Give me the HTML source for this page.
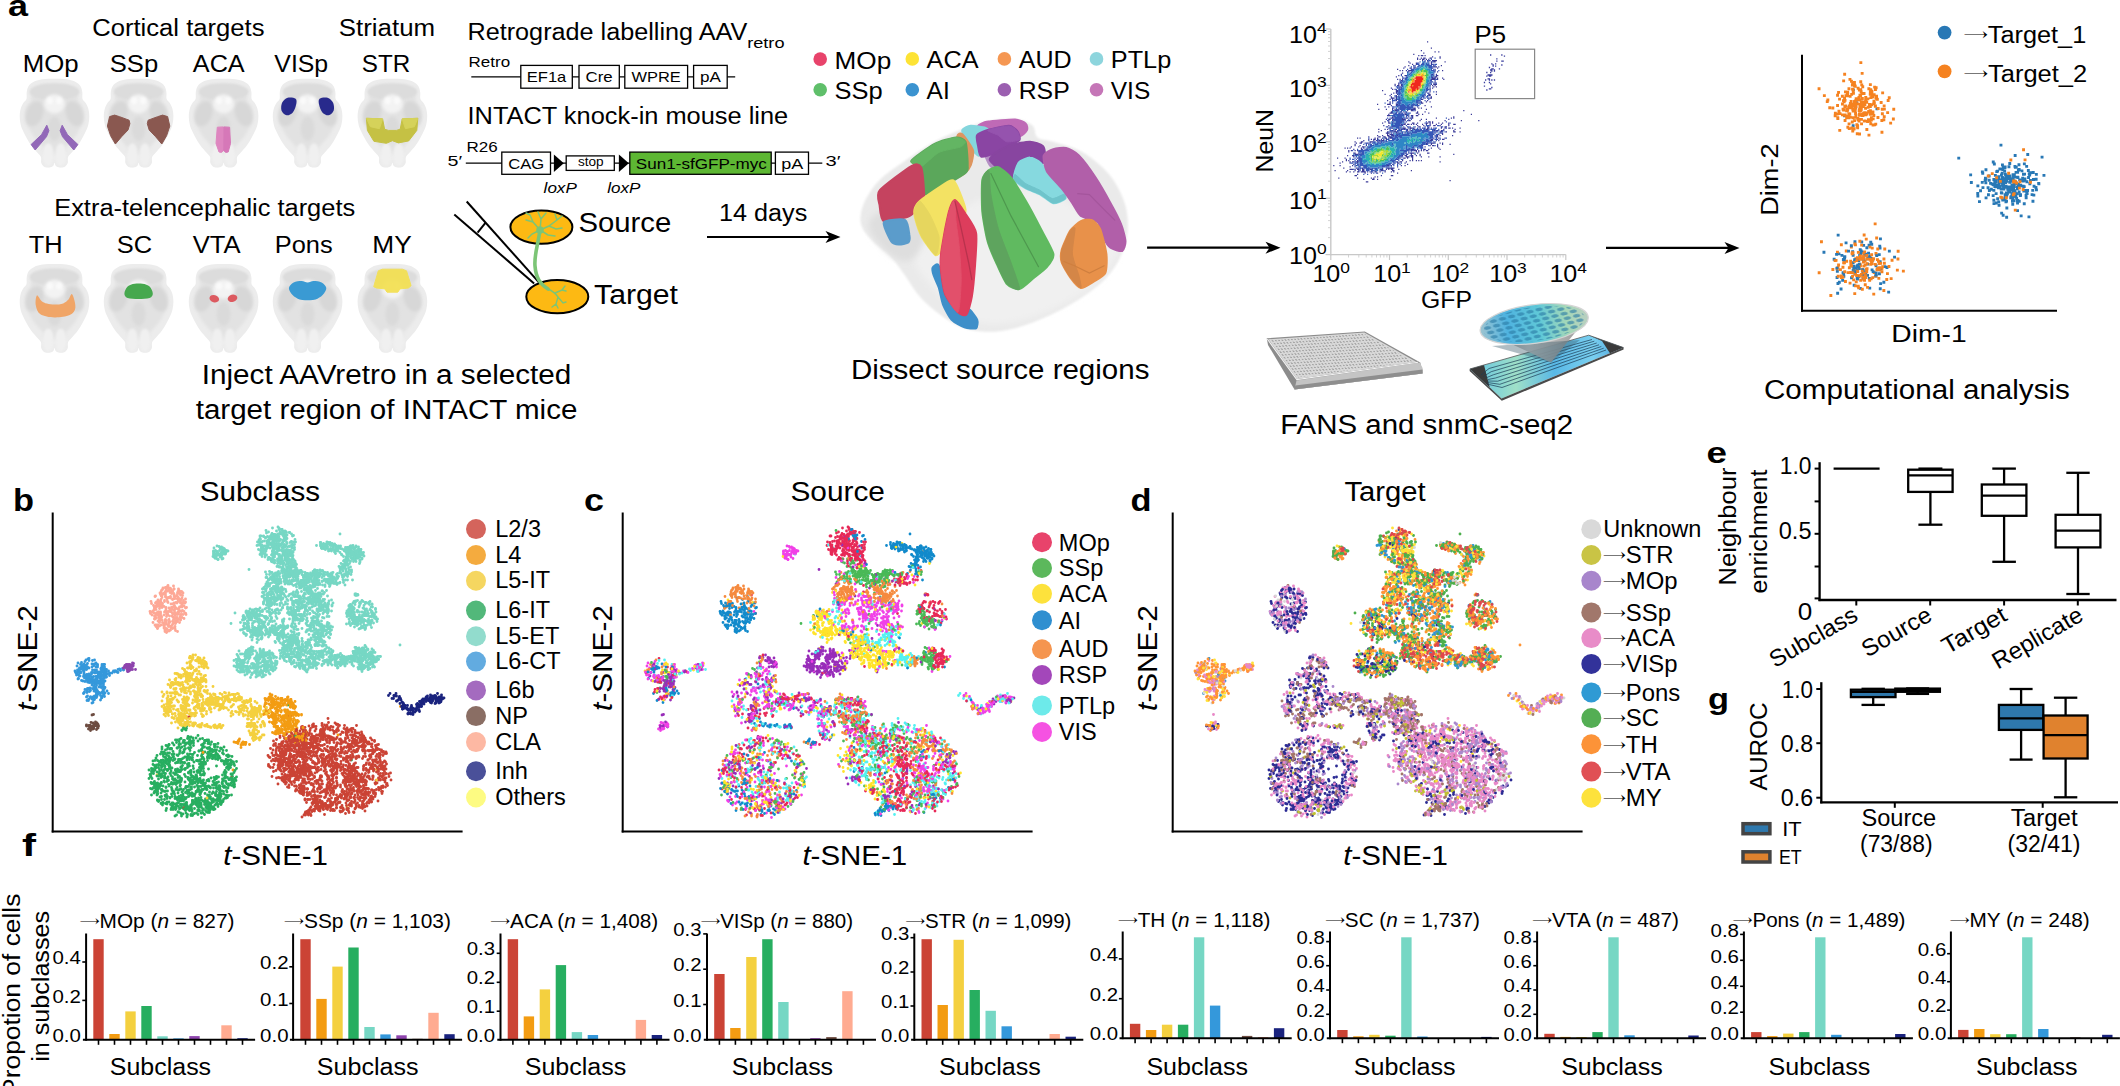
<!DOCTYPE html>
<html><head><meta charset="utf-8"><title>Figure</title>
<style>
html,body{margin:0;padding:0;background:#fff}
svg{display:block}
text{font-family:"Liberation Sans",sans-serif;fill:#000}
.b{font-weight:bold}
.i{font-style:italic}
</style></head><body>
<svg width="2120" height="1086" viewBox="0 0 2120 1086">
<text x="8" y="16.3" font-size="30" class="b" textLength="20" lengthAdjust="spacingAndGlyphs">a</text>
<defs><filter id="bl1" x="-20%" y="-20%" width="140%" height="140%"><feGaussianBlur stdDeviation="0.9"/></filter>
<filter id="bl0" x="-20%" y="-20%" width="140%" height="140%"><feGaussianBlur stdDeviation="0.5"/></filter>
<filter id="bl2" x="-30%" y="-30%" width="160%" height="160%"><feGaussianBlur stdDeviation="1.5"/></filter>
<filter id="bl3" x="-30%" y="-30%" width="160%" height="160%"><feGaussianBlur stdDeviation="3"/></filter>
<g id="brain">
<path d="M0,0C4,0 8.6,0.1 12,0.6C15.4,1.1 18,1.7 20.3,2.9C22.6,4 24.8,5.7 26,7.5C27.2,9.3 27.5,11.4 27.8,13.5C28.1,15.6 27.5,18.6 28,20.3C28.5,22.1 30,22.4 31,24C32,25.6 33.2,27.7 33.8,30C34.4,32.3 34.8,35.2 34.8,37.7C34.8,40.2 34.5,42.7 34,45C33.5,47.3 32.9,49 31.9,51.3C30.9,53.6 29.4,56.4 28,59C26.6,61.6 25,64.2 23.2,66.7C21.4,69.2 18.6,72.1 17,74C15.4,75.9 14.1,76.6 13.5,78.3C12.9,80 13.7,82.5 13.3,84C12.9,85.5 11.8,86.7 11,87.5C10.2,88.3 9.4,88.5 8.2,88.7C7,88.9 5.2,88.9 4,88.6C2.8,88.3 1.9,87.8 1.2,87C0.5,86.2 0.4,84 0,84C-0.4,84 -0.5,86.2 -1.2,87C-1.9,87.8 -2.8,88.3 -4,88.6C-5.2,88.9 -7,88.9 -8.2,88.7C-9.4,88.5 -10.2,88.3 -11,87.5C-11.8,86.7 -12.9,85.5 -13.3,84C-13.7,82.5 -12.9,80 -13.5,78.3C-14.1,76.6 -15.4,75.9 -17,74C-18.6,72.1 -21.4,69.2 -23.2,66.7C-25,64.2 -26.6,61.6 -28,59C-29.4,56.4 -30.9,53.6 -31.9,51.3C-32.9,49 -33.5,47.3 -34,45C-34.5,42.7 -34.8,40.2 -34.8,37.7C-34.8,35.2 -34.4,32.3 -33.8,30C-33.2,27.7 -32,25.6 -31,24C-30,22.4 -28.5,22.1 -28,20.3C-27.5,18.6 -28.1,15.6 -27.8,13.5C-27.5,11.4 -27.2,9.3 -26,7.5C-24.8,5.7 -22.6,4 -20.3,2.9C-18,1.7 -15.4,1.1 -12,0.6C-8.6,0.1 -4,0 0,0Z" fill="#ececec" filter="url(#bl0)"/>
<path d="M0,6C3.4,6 7.2,6.1 10.1,6.5C12.9,6.9 15.1,7.4 17.1,8.3C19,9.2 20.8,10.6 21.8,12C22.9,13.4 23.1,15.1 23.4,16.8C23.6,18.5 23.1,20.8 23.5,22.2C24,23.6 25.2,23.9 26,25.2C26.9,26.5 27.9,28.2 28.4,30C28.9,31.8 29.2,34.2 29.2,36.2C29.3,38.2 29,40.2 28.6,42C28.2,43.8 27.6,45.2 26.8,47C26,48.9 24.7,51.1 23.5,53.2C22.3,55.3 21,57.4 19.5,59.4C17.9,61.4 15.6,63.7 14.3,65.2C12.9,66.7 11.9,67.3 11.3,68.6C10.8,70 11.5,72 11.2,73.2C10.8,74.4 10,75.4 9.2,76C8.5,76.6 7.9,76.8 6.9,77C5.9,77.1 4.3,77.1 3.4,76.9C2.4,76.7 1.6,76.2 1,75.6C0.4,75 0.3,73.2 0,73.2C-0.3,73.2 -0.4,75 -1,75.6C-1.6,76.2 -2.4,76.7 -3.4,76.9C-4.3,77.1 -5.9,77.1 -6.9,77C-7.9,76.8 -8.5,76.6 -9.2,76C-10,75.4 -10.8,74.4 -11.2,73.2C-11.5,72 -10.8,70 -11.3,68.6C-11.9,67.3 -12.9,66.7 -14.3,65.2C-15.6,63.7 -17.9,61.4 -19.5,59.4C-21,57.4 -22.3,55.3 -23.5,53.2C-24.7,51.1 -26,48.9 -26.8,47C-27.6,45.2 -28.2,43.8 -28.6,42C-29,40.2 -29.3,38.2 -29.2,36.2C-29.2,34.2 -28.9,31.8 -28.4,30C-27.9,28.2 -26.9,26.5 -26,25.2C-25.2,23.9 -24,23.6 -23.5,22.2C-23.1,20.8 -23.6,18.5 -23.4,16.8C-23.1,15.1 -22.9,13.4 -21.8,12C-20.8,10.6 -19,9.2 -17.1,8.3C-15.1,7.4 -12.9,6.9 -10.1,6.5C-7.2,6.1 -3.4,6 0,6Z" fill="#e2e2e2" filter="url(#bl2)"/>
<ellipse cx="0" cy="13" rx="25" ry="8.5" fill="#dcdcdc" filter="url(#bl1)"/>
<ellipse cx="-20" cy="35" rx="8.5" ry="13" fill="#d7d7d7" filter="url(#bl2)" transform="rotate(20 -20 35)"/>
<ellipse cx="20" cy="35" rx="8.5" ry="13" fill="#d7d7d7" filter="url(#bl2)" transform="rotate(-20 20 35)"/>
<ellipse cx="0" cy="25" rx="10.5" ry="9.5" fill="#f3f3f3" filter="url(#bl2)"/>
<ellipse cx="-4.5" cy="22" rx="3" ry="3.5" fill="#fafafa" filter="url(#bl1)"/>
<ellipse cx="4.5" cy="22" rx="3" ry="3.5" fill="#fafafa" filter="url(#bl1)"/>
<ellipse cx="0" cy="50" rx="7" ry="12" fill="#dadada" filter="url(#bl2)"/>
<ellipse cx="-6.3" cy="76" rx="5.6" ry="11.5" fill="#f0f0f0" filter="url(#bl1)"/>
<ellipse cx="6.3" cy="76" rx="5.6" ry="11.5" fill="#f0f0f0" filter="url(#bl1)"/>
</g></defs>
<use href="#brain" x="54.5" y="78.7"/>
<g transform="translate(54.5,78.7)">
<path d="M-7.7,46.5L-5.6,52L-8,58L-19.3,71.3L-23.4,65.8L-13,56Z" fill="#9268b8" opacity="1.0" stroke="#9268b8" stroke-width="1" stroke-linejoin="round"/><path d="M7.7,46.5L5.6,52L8,58L19.3,71.3L23.4,65.8L13,56Z" fill="#9268b8" opacity="1.0" stroke="#9268b8" stroke-width="1" stroke-linejoin="round"/>
</g>
<use href="#brain" x="138.6" y="78.7"/>
<g transform="translate(138.6,78.7)">
<path d="M-29,37.9L-24,36.4L-19,38L-9.5,41.5L-8.7,45L-10.6,51.3L-17,58L-23.2,65.3L-28,57L-31.2,47.4Z" fill="#8a5850" opacity="1.0" stroke="#8a5850" stroke-width="1" stroke-linejoin="round"/><path d="M29,37.9L24,36.4L19,38L9.5,41.5L8.7,45L10.6,51.3L17,58L23.2,65.3L28,57L31.2,47.4Z" fill="#8a5850" opacity="1.0" stroke="#8a5850" stroke-width="1" stroke-linejoin="round"/>
</g>
<use href="#brain" x="223.6" y="78.7"/>
<g transform="translate(223.6,78.7)">
<path d="M-6.3,48.5L-0.3,48.2L-0.2,72L-2.2,73.7L-4.6,73.3L-7.6,64.8Z" fill="#de86c0" opacity="1.0" stroke="#de86c0" stroke-width="1" stroke-linejoin="round"/>
<path d="M6,48.5L0.3,48.2L0.2,72L2.2,73.7L4.6,73.3L6.9,64.8Z" fill="#d678b8" opacity="1.0" stroke="#d678b8" stroke-width="1" stroke-linejoin="round"/>
</g>
<use href="#brain" x="307.6" y="78.7"/>
<g transform="translate(307.6,78.7)">
<path d="M-25.5,24C-24.5,21.8 -22.2,19.7 -20,19C-17.8,18.3 -13.4,18.8 -12,20C-10.6,21.2 -11,23.7 -11.5,26C-12,28.3 -13.4,32.2 -15,34C-16.6,35.8 -19.2,36.8 -21,36.5C-22.8,36.2 -25.2,34.1 -26,32C-26.8,29.9 -26.5,26.2 -25.5,24Z" fill="#282a8c" opacity="1.0"/><path d="M25.5,24C24.5,21.8 22.2,19.7 20,19C17.8,18.3 13.4,18.8 12,20C10.6,21.2 11,23.7 11.5,26C12,28.3 13.4,32.2 15,34C16.6,35.8 19.2,36.8 21,36.5C22.8,36.2 25.2,34.1 26,32C26.8,29.9 26.5,26.2 25.5,24Z" fill="#282a8c" opacity="1.0"/>
</g>
<use href="#brain" x="392.4" y="78.7"/>
<g transform="translate(392.4,78.7)">
<path d="M-26,39.6L-9.8,40.2L-7.8,50.5L-4,51.7L4,51.7L7.8,50.5L9.8,40.2L25.4,39.6L24.4,51.7L16.3,62.2L6,64.2L0,62L-6,64.6L-18.5,62.6L-25,51.7Z" fill="#c5c144" opacity="1.0" stroke="#c5c144" stroke-width="1" stroke-linejoin="round"/>
<path d="M-26,39.6L-9.8,40.2L-13,50L-22,48Z" fill="#d5d25a" opacity="1.0" stroke="#d5d25a" stroke-width="1" stroke-linejoin="round"/>
<path d="M25.4,39.6L9.8,40.2L13,50L22,48Z" fill="#d5d25a" opacity="1.0" stroke="#d5d25a" stroke-width="1" stroke-linejoin="round"/>
</g>
<use href="#brain" x="54.5" y="264"/>
<g transform="translate(54.5,264)">
<path d="M-17.6,31.4C-16.7,30.7 -14.7,35.6 -13,37C-11.3,38.4 -9.8,39 -7.6,39.6C-5.4,40.2 -2.7,40.6 0,40.6C2.7,40.6 6.4,40.2 8.7,39.4C11,38.5 12.5,37 14,35.5C15.5,34 16.5,29 17.6,30.3C18.8,31.6 21.3,39.9 20.9,43.4C20.5,46.9 18.7,49.3 15.2,51C11.7,52.7 4.9,53.5 0,53.4C-4.9,53.3 -11,52.2 -14.1,50.2C-17.2,48.2 -18.1,44.3 -18.7,41.2C-19.3,38.1 -18.6,32.1 -17.6,31.4Z" fill="#f0a567" opacity="1.0"/>
</g>
<use href="#brain" x="138.6" y="264"/>
<g transform="translate(138.6,264)">
<path d="M-14.2,29.5C-14.2,27.6 -12.7,24.1 -11,22.5C-9.3,20.9 -6.5,20.2 -4,19.8C-1.5,19.4 1.5,19.4 4,19.8C6.5,20.2 9.3,20.9 11,22.5C12.7,24.1 14.2,27.6 14.2,29.5C14.2,31.4 13.4,33.1 11,34C8.6,34.9 3.7,35 0,35C-3.7,35 -8.6,34.9 -11,34C-13.4,33.1 -14.2,31.4 -14.2,29.5Z" fill="#46a84e" opacity="1.0"/>
</g>
<use href="#brain" x="223.6" y="264"/>
<g transform="translate(223.6,264)">
<ellipse cx="-9.3" cy="34.7" rx="4.9" ry="3.6" fill="#dc5a60" opacity="1.0" transform="rotate(15 -9.3 34.7)"/>
<ellipse cx="8.9" cy="34.3" rx="4.9" ry="3.6" fill="#dc5a60" opacity="1.0" transform="rotate(-15 8.9 34.3)"/>
</g>
<use href="#brain" x="307.6" y="264"/>
<g transform="translate(307.6,264)">
<path d="M-18.7,24C-18.5,21.9 -16.1,19.7 -14,18.5C-11.9,17.3 -8.3,17 -6,17C-3.7,17 -2,18.6 0,18.6C2,18.6 3.7,17 6,17C8.3,17 11.9,17.3 14,18.5C16.1,19.7 18.5,21.9 18.7,24C18.9,26.1 16.8,29.1 15,31C13.2,32.9 10.5,34.6 8,35.5C5.5,36.4 2.7,36.2 0,36.2C-2.7,36.2 -5.5,36.4 -8,35.5C-10.5,34.6 -13.2,32.9 -15,31C-16.8,29.1 -18.9,26.1 -18.7,24Z" fill="#3a9ad3" opacity="1.0"/>
</g>
<use href="#brain" x="392.4" y="264"/>
<g transform="translate(392.4,264)">
<path d="M-14.1,6.8L-10,5.2L10,5.2L14.1,6.8L18.7,21.7L16,24L7.6,24.9L5.4,28.2L-5.4,28.2L-7.6,24.9L-16,24L-18.7,22.7Z" fill="#f3e050" opacity="0.92" stroke="#f3e050" stroke-width="1" stroke-linejoin="round"/>
</g>
<text x="92.2" y="35.9" font-size="23.5" textLength="172.3" lengthAdjust="spacingAndGlyphs">Cortical targets</text>
<text x="338.8" y="35.9" font-size="23.5" textLength="96.3" lengthAdjust="spacingAndGlyphs">Striatum</text>
<text x="22.8" y="71.5" font-size="23.5" textLength="55.9" lengthAdjust="spacingAndGlyphs">MOp</text>
<text x="109.8" y="71.5" font-size="23.5" textLength="48.4" lengthAdjust="spacingAndGlyphs">SSp</text>
<text x="192.8" y="71.5" font-size="23.5" textLength="51.9" lengthAdjust="spacingAndGlyphs">ACA</text>
<text x="274.3" y="71.5" font-size="23.5" textLength="53.9" lengthAdjust="spacingAndGlyphs">VISp</text>
<text x="361.8" y="71.5" font-size="23.5" textLength="48.4" lengthAdjust="spacingAndGlyphs">STR</text>
<text x="54.2" y="216" font-size="23.5" textLength="301" lengthAdjust="spacingAndGlyphs">Extra-telencephalic targets</text>
<text x="28.8" y="253" font-size="23.5" textLength="33.9" lengthAdjust="spacingAndGlyphs">TH</text>
<text x="116.8" y="253" font-size="23.5" textLength="35.4" lengthAdjust="spacingAndGlyphs">SC</text>
<text x="192.8" y="253" font-size="23.5" textLength="47.9" lengthAdjust="spacingAndGlyphs">VTA</text>
<text x="274.8" y="253" font-size="23.5" textLength="57.9" lengthAdjust="spacingAndGlyphs">Pons</text>
<text x="372.3" y="253" font-size="23.5" textLength="39.4" lengthAdjust="spacingAndGlyphs">MY</text>
<text x="201.7" y="383.5" font-size="27" textLength="369.7" lengthAdjust="spacingAndGlyphs">Inject AAVretro in a selected</text>
<text x="195.7" y="418.5" font-size="27" textLength="381.7" lengthAdjust="spacingAndGlyphs">target region of INTACT mice</text>
<text x="467.5" y="39.6" font-size="23.5" textLength="279.7" lengthAdjust="spacingAndGlyphs">Retrograde labelling AAV</text>
<text x="747.2" y="48" font-size="15.5" textLength="37.3" lengthAdjust="spacingAndGlyphs">retro</text>
<text x="468.6" y="67.4" font-size="15" textLength="41.5" lengthAdjust="spacingAndGlyphs">Retro</text>
<line x1="471.3" y1="76.9" x2="735.2" y2="76.9" stroke="#000" stroke-width="1.3"/>
<rect x="520.8" y="65.4" width="51.5" height="22.8" fill="#fff" stroke="#000" stroke-width="1.3"/>
<text x="526.8" y="82.2" font-size="15" textLength="39.5" lengthAdjust="spacingAndGlyphs">EF1a</text>
<rect x="579" y="65.4" width="40.3" height="22.8" fill="#fff" stroke="#000" stroke-width="1.3"/>
<text x="585.6" y="82.2" font-size="15" textLength="27.1" lengthAdjust="spacingAndGlyphs">Cre</text>
<rect x="624.8" y="65.4" width="62.8" height="22.8" fill="#fff" stroke="#000" stroke-width="1.3"/>
<text x="631.6" y="82.2" font-size="15" textLength="49.2" lengthAdjust="spacingAndGlyphs">WPRE</text>
<rect x="693.6" y="65.4" width="33.6" height="22.8" fill="#fff" stroke="#000" stroke-width="1.3"/>
<text x="699.9" y="82.2" font-size="15" textLength="20.9" lengthAdjust="spacingAndGlyphs">pA</text>
<text x="467.5" y="123.8" font-size="23.5" textLength="320.7" lengthAdjust="spacingAndGlyphs">INTACT knock-in mouse line</text>
<text x="466.6" y="151.5" font-size="15" textLength="31.2" lengthAdjust="spacingAndGlyphs">R26</text>
<text x="447.6" y="166.4" font-size="15" textLength="14.6" lengthAdjust="spacingAndGlyphs">5′</text>
<text x="825.5" y="166.4" font-size="15" textLength="15" lengthAdjust="spacingAndGlyphs">3′</text>
<line x1="465.8" y1="163.2" x2="822.3" y2="163.2" stroke="#000" stroke-width="1.3"/>
<rect x="501.8" y="152.1" width="48.7" height="22.2" fill="#fff" stroke="#000" stroke-width="1.3"/>
<text x="508.2" y="168.6" font-size="15" textLength="36" lengthAdjust="spacingAndGlyphs">CAG</text>
<polygon points="553.9,154.5 553.9,172 563.8,163.2" fill="#000"/>
<rect x="566.2" y="155.9" width="48.1" height="14.5" fill="#fff" stroke="#000" stroke-width="1.3"/>
<text x="577.9" y="166" font-size="12" textLength="25.7" lengthAdjust="spacingAndGlyphs">stop</text>
<polygon points="618.9,154.5 618.9,172 628.8,163.2" fill="#000"/>
<rect x="629.8" y="152.1" width="141.4" height="22.2" fill="#5db733" stroke="#000" stroke-width="1.3"/>
<text x="635.8" y="168.6" font-size="15" textLength="131" lengthAdjust="spacingAndGlyphs">Sun1-sfGFP-myc</text>
<rect x="775.4" y="152.1" width="33.1" height="22.2" fill="#fff" stroke="#000" stroke-width="1.3"/>
<text x="781.2" y="168.6" font-size="15" textLength="22" lengthAdjust="spacingAndGlyphs">pA</text>
<text x="543.6" y="192.5" font-size="15" textLength="33.2" lengthAdjust="spacingAndGlyphs" class="i">loxP</text>
<text x="607.2" y="192.5" font-size="15" textLength="33.2" lengthAdjust="spacingAndGlyphs" class="i">loxP</text>
<line x1="466.7" y1="201.5" x2="539.6" y2="283.1" stroke="#000" stroke-width="2"/>
<line x1="454.3" y1="214.4" x2="534.1" y2="283.5" stroke="#000" stroke-width="2"/>
<line x1="485.6" y1="222.7" x2="477.6" y2="232.6" stroke="#000" stroke-width="2"/>
<ellipse cx="541.4" cy="227.1" rx="31" ry="16.6" fill="#fdb913" stroke="#000" stroke-width="2"/>
<ellipse cx="557.3" cy="296.7" rx="31" ry="16.6" fill="#fdb913" stroke="#000" stroke-width="2"/>
<g fill="none" stroke="#7cc576" stroke-linecap="round">
<path d="M540,230 C538,245 534,255 535,266 C536,278 540,284 548,289" stroke-width="3.6"/>
<path d="M548,289 C553,291 556,294 558,297 M555,293 L562,290 L566,291 M558,297 L556,304 L552,307 M558,297 L563,303 L566,302 M562,290 L565,286 M556,304 L558,308" stroke-width="1.4"/>
<path d="M540,230 L533,222 L526,220 M533,222 L530,215 M540,230 L541,219 L538,212 M541,219 L546,213 M540,230 L549,226 L557,220 M549,226 L556,229 L562,228 M557,220 L562,216 M540,230 L532,234 L528,238 M540,230 L548,235 L555,236 M530,215 L526,213 M557,220 L555,214" stroke-width="1.5"/>
</g>
<circle cx="540" cy="230" r="3.8" fill="#7cc576"/>
<text x="578.4" y="232.2" font-size="27" textLength="92.8" lengthAdjust="spacingAndGlyphs">Source</text>
<text x="594.1" y="303.5" font-size="27" textLength="83.9" lengthAdjust="spacingAndGlyphs">Target</text>
<text x="719.1" y="221.3" font-size="23.5" textLength="88.2" lengthAdjust="spacingAndGlyphs">14 days</text>
<line x1="707" y1="237" x2="832.5" y2="237" stroke="#000" stroke-width="2.2"/>
<polygon points="840.5,237 825.5,231 829.5,237 825.5,243" fill="#000"/>
<circle cx="820.2" cy="59.1" r="6.8" fill="#e8436b"/>
<text x="834.5" y="68.6" font-size="23.5" textLength="56.7" lengthAdjust="spacingAndGlyphs">MOp</text>
<circle cx="912.3" cy="58.9" r="6.8" fill="#fde335"/>
<text x="926.6" y="68.4" font-size="23.5" textLength="51.9" lengthAdjust="spacingAndGlyphs">ACA</text>
<circle cx="1004.4" cy="58.9" r="6.8" fill="#f59752"/>
<text x="1018.7" y="68.4" font-size="23.5" textLength="52.9" lengthAdjust="spacingAndGlyphs">AUD</text>
<circle cx="1096.5" cy="58.9" r="6.8" fill="#8dd5dd"/>
<text x="1110.8" y="68.4" font-size="23.5" textLength="60.4" lengthAdjust="spacingAndGlyphs">PTLp</text>
<circle cx="820.2" cy="89.8" r="6.8" fill="#5fbf6a"/>
<text x="834.5" y="99.3" font-size="23.5" textLength="48.1" lengthAdjust="spacingAndGlyphs">SSp</text>
<circle cx="912.3" cy="89.8" r="6.8" fill="#3b93d0"/>
<text x="926.6" y="99.3" font-size="23.5" textLength="23.1" lengthAdjust="spacingAndGlyphs">AI</text>
<circle cx="1004.4" cy="89.8" r="6.8" fill="#9b5fb0"/>
<text x="1018.7" y="99.3" font-size="23.5" textLength="51" lengthAdjust="spacingAndGlyphs">RSP</text>
<circle cx="1096.5" cy="89.8" r="6.8" fill="#c576b7"/>
<text x="1110.8" y="99.3" font-size="23.5" textLength="39.4" lengthAdjust="spacingAndGlyphs">VIS</text>
<path d="M860.6,215.9C861.1,211 862.7,205 865.9,199C869.1,193 873.1,186.3 879.7,179.9C886.2,173.5 895.9,167.2 905.1,160.8C914.3,154.5 925.5,146.9 934.7,141.8C943.9,136.7 951.7,133.5 960.1,130.1C968.6,126.8 976.4,123.5 985.6,121.7C994.7,119.8 1007.5,118.3 1015.2,118.9C1023,119.5 1028.5,122.1 1032.2,125.3C1035.9,128.4 1033.9,134.8 1037.5,137.5C1041,140.3 1045.8,139.3 1053.3,141.8C1060.9,144.2 1073.8,147.1 1083,152.4C1092.2,157.7 1101.7,165.8 1108.4,173.5C1115.1,181.3 1120,190.5 1123.2,199C1126.5,207.4 1127.9,215.9 1127.9,224.4C1127.9,232.9 1126.5,241.3 1123.2,249.8C1120,258.3 1115.1,267.5 1108.4,275.2C1101.7,283 1092.9,289.7 1083,296.4C1073.1,303.1 1060.4,310.2 1049.1,315.5C1037.8,320.8 1025.8,325.5 1015.2,328.2C1004.6,330.9 994.7,332.1 985.6,331.8C976.4,331.5 967.9,329.5 960.1,326.5C952.4,323.5 945.7,318.7 939,313.8C932.3,308.8 925.5,303.2 919.9,296.8C914.3,290.5 909.7,282 905.1,275.6C900.5,269.3 897.7,264.3 892.4,258.7C887.1,253 878.2,246.8 873.3,241.8C868.4,236.7 864.8,232.9 862.7,228.6C860.6,224.3 860.1,220.9 860.6,215.9Z" fill="#eaeaea" filter="url(#bl1)"/>
<path d="M913.5,258.3C912.5,246.3 927.7,238.5 939,228.6C950.3,218.7 964.4,205.3 981.3,199C998.3,192.6 1021.9,187 1040.6,190.5C1059.3,194 1080.5,211 1093.6,220.1C1106.7,229.3 1118,235.7 1119,245.6C1120.1,255.4 1109.5,269.6 1099.9,279.5C1090.4,289.3 1075.9,297.8 1061.8,304.9C1047.7,311.9 1029.3,319 1015.2,321.8C1001.1,324.6 988.7,325.3 977.1,321.8C965.4,318.3 955.9,311.2 945.3,300.6C934.7,290 914.6,270.3 913.5,258.3Z" fill="#f0f0f0" filter="url(#bl3)"/>
<path d="M869.1,228.6C866.9,221.2 872.2,216.3 879.7,211.7C887.1,207.1 905.8,198.3 913.5,201.1C921.3,203.9 926.3,219.1 926.3,228.6C926.3,238.2 919.2,253.7 913.5,258.3C907.9,262.9 899.8,261.1 892.4,256.2C885,251.2 871.2,236 869.1,228.6Z" fill="#dedede" filter="url(#bl3)"/>
<path d="M978.2,125.9C978.4,124.8 983.6,122.4 987.7,121.7C991.8,120.9 1011,119.3 1015.2,119.5C1019.5,119.8 1024.5,122.6 1025.8,123.8C1027.1,124.9 1027.6,128.7 1026.9,130.1C1026.2,131.5 1022.6,135.7 1019.5,136.5C1016.3,137.3 1002,138.1 998.3,137.5C994.5,136.9 987.8,132.5 985.6,131.2C983.3,129.9 977.9,126.9 978.2,125.9Z" fill="#bf6ab6" stroke="#bf6ab6" stroke-width="2.2" stroke-linejoin="round"/>
<path d="M962.3,130.1C962.9,128.6 968.1,126.1 970.7,125.9C973.3,125.7 983.7,127.4 985.6,128C987.4,128.6 988.6,130.1 987.7,131.2C986.7,132.2 978,134.8 977.1,137.5C976.2,140.2 979.8,154.2 979.2,155.5C978.6,156.8 973.3,151 971.8,149.2C970.3,147.4 966.5,141.8 965.4,139.7C964.4,137.5 961.7,131.7 962.3,130.1Z" fill="#84d6dd" stroke="#84d6dd" stroke-width="2.2" stroke-linejoin="round"/>
<path d="M957,137.5C957.9,133.2 960.5,132.9 962.3,134.4C964,135.8 971.9,146.8 972.9,150.2C973.8,153.7 971.7,162.5 970.7,165.1C969.8,167.7 966,172.1 964.4,173.5C962.7,175 957.1,177.8 955.9,177.8C954.7,177.8 953.7,178 953.8,173.5C953.9,169.1 956,141.9 957,137.5Z" fill="#dd955f" stroke="#dd955f" stroke-width="2.2" stroke-linejoin="round"/>
<path d="M911.4,160.8C913,158.2 929.8,146.5 934.7,143.9C939.7,141.3 952.5,137.8 955.9,137.5C959.3,137.3 964.1,138.7 965.4,141.8C966.7,144.8 967.7,161.5 967.6,165.1C967.4,168.6 969.2,170.3 964.4,173.5C959.6,176.8 929,195.4 924.1,194.7C919.3,194 922.4,171 921,167.2C919.5,163.4 909.9,163.4 911.4,160.8Z" fill="#5ba75b" stroke="#5ba75b" stroke-width="2.2" stroke-linejoin="round"/>
<path d="M911.4,160.8C913,158.3 929.8,146.5 934.7,143.9C939.7,141.3 952.5,137.8 955.9,137.5C959.3,137.3 965,140.7 965.4,141.8C965.9,142.8 963.1,145.9 960.1,147.1C957.2,148.2 943.3,150.2 939,152.4C934.6,154.6 924,165.8 921,166.8C917.9,167.7 909.9,163.4 911.4,160.8Z" fill="#63b563" stroke="#63b563" stroke-width="1" stroke-linejoin="round"/>
<path d="M879.7,190.5C883.2,186.1 906.8,168.7 911.4,166.1C916,163.5 919.5,164 921,167.2C922.4,170.4 923.9,190.7 924.1,194.7C924.4,198.7 924.7,200.8 923.1,203.2C921.4,205.6 913.7,213.9 909.3,215.9C905,217.9 887.2,222.4 883.9,221.2C880.6,220 880.1,208.7 879.7,205.3C879.2,201.9 876.1,194.8 879.7,190.5Z" fill="#c5435f" stroke="#c5435f" stroke-width="2.2" stroke-linejoin="round"/>
<path d="M883.9,222.3C885.4,219.9 902.2,218.7 905.1,220.1C907.9,221.6 909,232.5 909.3,235C909.7,237.4 909.4,241.3 908.3,242.4C907.1,243.4 900.6,244.6 898.7,244.5C896.8,244.4 893,243.8 891.3,241.3C889.7,238.9 882.4,224.6 883.9,222.3Z" fill="#5b9ccb" stroke="#5b9ccb" stroke-width="2.2" stroke-linejoin="round"/>
<path d="M914.6,209.6C915.1,207.4 916,204.3 919.9,201.1C923.8,197.9 945.6,182.8 949.6,181C953.6,179.1 954.1,181 955.9,184.1C957.7,187.3 965,204.6 965.4,209.6C965.9,214.5 962.4,224.6 960.1,228.6C957.9,232.6 948,242.6 945.3,245.6C942.6,248.5 938.4,256 935.8,255.1C933.2,254.2 924.3,241 922,237.1C919.8,233.2 916.5,223.2 915.7,220.1C914.8,217.1 914.1,211.7 914.6,209.6Z" fill="#f3e263" stroke="#f3e263" stroke-width="2.2" stroke-linejoin="round"/>
<path d="M914.6,209.6C915.1,207.4 918.1,200.4 919.9,201.1C921.7,201.8 928.4,211.9 930.5,215.9C932.6,219.9 938.4,232.7 939,237.1C939.6,241.4 937.7,255.1 935.8,255.1C933.9,255.1 924.3,241 922,237.1C919.8,233.2 916.5,223.2 915.7,220.1C914.8,217.1 914.1,211.7 914.6,209.6Z" fill="#e6d65e" stroke="#e6d65e" stroke-width="1" stroke-linejoin="round"/>
<path d="M932.6,267.8C933.1,266.6 936.7,263.6 937.9,264.6C939.1,265.7 941.9,273.8 943.2,277.3C944.5,280.9 947.7,292.4 949.6,296.4C951.4,300.4 958,311.9 960.1,313.3C962.3,314.8 966.7,308.4 968.6,309.1C970.5,309.8 976.3,317.6 977.1,319.7C977.9,321.8 977.4,327.4 976,328.2C974.6,329 967.1,328.1 964.4,327.1C961.7,326.2 954,322.2 951.7,319.7C949.3,317.2 944.6,308.4 943.2,304.9C941.8,301.3 940,291.2 939,287.9C937.9,284.6 934.4,277.5 933.7,275.2C933,273 932.1,269 932.6,267.8Z" fill="#3e8fc9" stroke="#3e8fc9" stroke-width="2.2" stroke-linejoin="round"/>
<path d="M954.9,200C956.6,200.5 963.1,210.1 965.4,213.8C967.8,217.4 975,227.2 976,232.9C977.1,238.5 975.4,257.6 975,264.6C974.5,271.7 972.7,290.9 971.8,296.4C970.9,301.9 968,312.6 966.5,314.4C965,316.2 960.4,314.5 958,312.3C955.7,310.1 947.2,298.9 945.3,294.3C943.4,289.7 941.6,275.5 941.1,271C940.6,266.5 940.6,258.7 941.1,254C941.6,249.3 944.4,233.6 945.3,228.6C946.3,223.7 948.5,212.7 949.6,209.6C950.6,206.4 953.1,199.6 954.9,200Z" fill="#dd3d5c" stroke="#dd3d5c" stroke-width="2.2" stroke-linejoin="round"/>
<path d="M954.9,200C954.1,198.8 950.6,206.4 949.6,209.6C948.5,212.7 946.3,223.7 945.3,228.6C944.4,233.6 941.6,249.3 941.1,254C940.6,258.7 940.6,266.5 941.1,271C941.6,275.5 943.4,289.7 945.3,294.3C947.2,298.9 956.3,313.9 958,312.3C959.8,310.6 961.1,286.9 961.2,279.5C961.3,272 959.7,252.2 959.1,245.6C958.5,239 956.4,225.2 955.9,220.1C955.4,215.1 955.6,201.2 954.9,200Z" fill="#e2506b" stroke="#e2506b" stroke-width="1" stroke-linejoin="round"/>
<path d="M954.9,201.1L961.2,228.6L968.6,262.5L971.8,279.5" fill="none" stroke="#b9324d" stroke-width="1.3" stroke-linecap="round"/>
<path d="M985.6,154.5C986.3,153.1 992.9,150.5 996.2,152.4C999.5,154.2 1013.3,168.5 1015.2,171.4C1017.1,174.4 1015,178.8 1013.1,178.8C1011.2,178.8 1000.9,173 998.3,171.4C995.7,169.9 991.2,167 989.8,165.1C988.4,163.2 984.9,155.9 985.6,154.5Z" fill="#b48fc4" stroke="#b48fc4" stroke-width="2.2" stroke-linejoin="round"/>
<path d="M977.1,135.4C978.2,133.7 984.2,131.2 987.7,130.1C991.2,129.1 1005.6,125.8 1008.9,125.9C1012.2,126 1016.2,129.7 1017.3,131.2C1018.5,132.7 1020.2,138.1 1019.5,139.7C1018.7,141.2 1013.6,143.5 1011,145C1008.4,146.4 999.5,151.1 996.2,152.4C992.9,153.7 983.3,157.3 981.3,156.6C979.3,155.9 978.6,148.4 978.2,146C977.7,143.7 976,137.2 977.1,135.4Z" fill="#8a45a3" stroke="#8a45a3" stroke-width="2.2" stroke-linejoin="round"/>
<path d="M996.2,152.4C998.5,150.7 1007.2,146.1 1011,145C1014.7,143.8 1026.5,141.7 1030,141.8C1033.6,141.9 1041.1,144.5 1042.8,146C1044.4,147.5 1044.9,153.7 1044.9,155.5C1044.9,157.4 1045.1,162.5 1042.8,163C1040.4,163.4 1026.8,158.8 1023.7,159.8C1020.6,160.7 1016.4,169.3 1015.2,171.4C1014,173.5 1015,179.2 1013.1,178.8C1011.2,178.5 1000.9,170.4 998.3,168.3C995.7,166.1 990,161.5 989.8,159.8C989.6,158 993.8,154 996.2,152.4Z" fill="#8845a0" stroke="#8845a0" stroke-width="2.2" stroke-linejoin="round"/>
<path d="M987.7,130.1C988.9,129.1 1005.6,125.8 1008.9,125.9C1012.2,126 1016.2,129.7 1017.3,131.2C1018.5,132.7 1020.6,138.5 1019.5,139.7C1018.3,140.8 1009.1,142.2 1006.7,141.8C1004.4,141.3 1000.4,136.7 998.3,135.4C996.2,134.1 986.5,131.2 987.7,130.1Z" fill="#9553ae" stroke="#9553ae" stroke-width="1" stroke-linejoin="round"/>
<path d="M1015.2,171.4C1015.8,169.4 1017.8,163.4 1019.5,161.9C1021.1,160.4 1027.7,157.5 1030,157.7C1032.4,157.8 1038,160.5 1040.6,163C1043.2,165.4 1050.8,176.6 1053.3,179.9C1055.9,183.2 1062.6,190.5 1063.9,192.6C1065.2,194.7 1066.2,197.8 1065,199C1063.8,200.1 1056.1,203.7 1053.3,203.2C1050.6,202.7 1043.7,196.4 1040.6,194.7C1037.6,193.1 1028.8,190 1025.8,188.4C1022.9,186.7 1015.3,181.8 1014.2,179.9C1013,178 1014.6,173.4 1015.2,171.4Z" fill="#86d9df" stroke="#86d9df" stroke-width="2.2" stroke-linejoin="round"/>
<path d="M1014.2,179.9C1015.3,181.4 1022.9,186.7 1025.8,188.4C1028.8,190 1037.6,193.1 1040.6,194.7C1043.7,196.4 1050.6,202.7 1053.3,203.2C1056.1,203.7 1063.8,200 1065,199C1066.2,198 1065.3,194.4 1063.9,194.3C1062.5,194.3 1055,199 1052.3,198.5C1049.6,198.1 1042.5,191.7 1039.6,190.1C1036.6,188.4 1028.5,185.4 1025.8,183.7C1023.1,182 1016.5,175 1015.2,174.6C1013.9,174.2 1013,178.4 1014.2,179.9Z" fill="#6fc4cb" stroke="#6fc4cb" stroke-width="1" stroke-linejoin="round"/>
<path d="M982.4,179.9C983.1,175.3 987,171.8 988.7,170.4C990.5,169 995.8,166.4 998.3,167.2C1000.7,168 1007.9,174 1011,177.8C1014,181.5 1022.5,195.4 1025.8,201.1C1029.1,206.7 1037.6,222.7 1040.6,228.6C1043.7,234.5 1052.6,249.8 1053.3,254C1054.1,258.3 1049.1,264.2 1047,266.7C1044.9,269.3 1037.3,274.9 1034.3,277.3C1031.2,279.8 1022.5,288.3 1019.5,289C1016.4,289.7 1009.3,286.6 1006.7,283.7C1004.2,280.8 998.3,267.2 996.2,262.5C994,257.8 989.2,247 987.7,241.3C986.2,235.7 983,218.5 982.4,211.7C981.8,204.8 981.7,184.5 982.4,179.9Z" fill="#60ba60" stroke="#60ba60" stroke-width="2.2" stroke-linejoin="round"/>
<path d="M982.4,179.9C983.1,175.3 987.8,168.7 988.7,170.4C989.7,172 989.8,188.3 990.9,194.7C991.9,201.2 996,221.1 998.3,228.6C1000.5,236.2 1008.6,255.8 1011,262.5C1013.3,269.2 1019.9,286.6 1019.5,289C1019,291.3 1009.3,286.6 1006.7,283.7C1004.2,280.8 998.3,267.2 996.2,262.5C994,257.8 989.2,247 987.7,241.3C986.2,235.7 983,218.5 982.4,211.7C981.8,204.8 981.7,184.5 982.4,179.9Z" fill="#5ea45e" stroke="#5ea45e" stroke-width="1" stroke-linejoin="round"/>
<path d="M990.9,173.5L1011,215.9L1038.5,266.7" fill="none" stroke="#4e984e" stroke-width="1.2" stroke-linecap="round"/>
<path d="M1043.8,155.5C1044.5,153.1 1050.9,150 1053.3,149.2C1055.8,148.4 1063.2,147.4 1066.1,148.1C1068.9,148.8 1075.5,152.2 1078.8,155.5C1082.1,158.8 1092.2,172.5 1095.7,177.8C1099.2,183.1 1107.7,198 1110.5,203.2C1113.4,208.4 1119.5,220.1 1121.1,224.4C1122.8,228.6 1125.2,238.4 1125.4,241.3C1125.5,244.3 1123.8,250.2 1122.2,250.9C1120.5,251.6 1112.7,249.2 1110.5,247.7C1108.4,246.2 1104.5,239.9 1103.1,237.1C1101.7,234.3 1100.3,224.6 1097.8,222.3C1095.4,219.9 1083.7,218 1080.9,215.9C1078.1,213.8 1074.5,206.3 1072.4,203.2C1070.3,200.1 1064.6,191.9 1061.8,188.4C1059,184.8 1049,175.1 1047,171.4C1045,167.8 1043.1,158 1043.8,155.5Z" fill="#b15fa9" stroke="#b15fa9" stroke-width="2.2" stroke-linejoin="round"/>
<path d="M1077.7,193.7L1089.4,194.7L1104.2,209.6L1114.8,220.1" fill="none" stroke="#a4559c" stroke-width="1.2" stroke-linecap="round"/>
<path d="M1061.8,249.8C1062.8,246.3 1068.2,233.9 1070.3,230.7C1072.4,227.6 1078.5,222.4 1080.9,221.2C1083.2,220 1089.4,219.3 1091.5,220.1C1093.6,221 1098.3,224.9 1099.9,228.6C1101.6,232.4 1105.7,249.1 1106.3,254C1106.9,259 1106.7,270 1105.2,273.1C1103.8,276.2 1096.3,279.9 1093.6,281.6C1090.9,283.2 1083.5,288.4 1080.9,287.9C1078.3,287.5 1072.4,280.2 1070.3,277.3C1068.2,274.5 1062.8,265.6 1061.8,262.5C1060.9,259.5 1060.9,253.3 1061.8,249.8Z" fill="#e8914a" stroke="#e8914a" stroke-width="2.2" stroke-linejoin="round"/>
<path d="M1061.8,249.8C1062.8,246.3 1068.8,233.1 1070.3,230.7C1071.8,228.4 1074.7,226 1075,228.6C1075.2,231.2 1072,248.9 1072.4,254C1072.8,259.2 1077.8,271.5 1078.8,275.2C1079.7,279 1081.8,287.7 1080.9,287.9C1079.9,288.2 1072.4,280.2 1070.3,277.3C1068.2,274.5 1062.8,265.6 1061.8,262.5C1060.9,259.5 1060.9,253.3 1061.8,249.8Z" fill="#d48647" stroke="#d48647" stroke-width="1" stroke-linejoin="round"/>
<path d="M1063.9,261.5L1074.5,265.7L1089.4,273.1L1104.2,265.7" fill="none" stroke="#cf7f3f" stroke-width="1.1" stroke-linecap="round"/>
<text x="851" y="379" font-size="27" textLength="298.4" lengthAdjust="spacingAndGlyphs">Dissect source regions</text>
<line x1="1147.1" y1="247.7" x2="1272.5" y2="247.7" stroke="#000" stroke-width="2.2"/>
<polygon points="1280.5,247.7 1265.5,241.7 1269.5,247.7 1265.5,253.7" fill="#000"/>
<line x1="1330.8" y1="29" x2="1330.8" y2="255.2" stroke="#c8c8c8" stroke-width="1.4"/>
<line x1="1330.2" y1="254.6" x2="1565.8" y2="254.6" stroke="#c8c8c8" stroke-width="1.4"/>
<line x1="1325.5" y1="254.6" x2="1330.8" y2="254.6" stroke="#c8c8c8" stroke-width="1.2"/>
<line x1="1330.8" y1="254.6" x2="1330.8" y2="260" stroke="#c8c8c8" stroke-width="1.2"/>
<line x1="1328" y1="237.6" x2="1330.8" y2="237.6" stroke="#c8c8c8" stroke-width="0.8"/>
<line x1="1348.5" y1="254.6" x2="1348.5" y2="257.5" stroke="#c8c8c8" stroke-width="0.8"/>
<line x1="1328" y1="227.7" x2="1330.8" y2="227.7" stroke="#c8c8c8" stroke-width="0.8"/>
<line x1="1358.8" y1="254.6" x2="1358.8" y2="257.5" stroke="#c8c8c8" stroke-width="0.8"/>
<line x1="1328" y1="220.6" x2="1330.8" y2="220.6" stroke="#c8c8c8" stroke-width="0.8"/>
<line x1="1366.2" y1="254.6" x2="1366.2" y2="257.5" stroke="#c8c8c8" stroke-width="0.8"/>
<line x1="1328" y1="215.2" x2="1330.8" y2="215.2" stroke="#c8c8c8" stroke-width="0.8"/>
<line x1="1371.9" y1="254.6" x2="1371.9" y2="257.5" stroke="#c8c8c8" stroke-width="0.8"/>
<line x1="1328" y1="210.7" x2="1330.8" y2="210.7" stroke="#c8c8c8" stroke-width="0.8"/>
<line x1="1376.5" y1="254.6" x2="1376.5" y2="257.5" stroke="#c8c8c8" stroke-width="0.8"/>
<line x1="1328" y1="206.9" x2="1330.8" y2="206.9" stroke="#c8c8c8" stroke-width="0.8"/>
<line x1="1380.4" y1="254.6" x2="1380.4" y2="257.5" stroke="#c8c8c8" stroke-width="0.8"/>
<line x1="1328" y1="203.7" x2="1330.8" y2="203.7" stroke="#c8c8c8" stroke-width="0.8"/>
<line x1="1383.9" y1="254.6" x2="1383.9" y2="257.5" stroke="#c8c8c8" stroke-width="0.8"/>
<line x1="1328" y1="200.8" x2="1330.8" y2="200.8" stroke="#c8c8c8" stroke-width="0.8"/>
<line x1="1386.9" y1="254.6" x2="1386.9" y2="257.5" stroke="#c8c8c8" stroke-width="0.8"/>
<line x1="1325.5" y1="198.2" x2="1330.8" y2="198.2" stroke="#c8c8c8" stroke-width="1.2"/>
<line x1="1389.5" y1="254.6" x2="1389.5" y2="260" stroke="#c8c8c8" stroke-width="1.2"/>
<line x1="1328" y1="181.2" x2="1330.8" y2="181.2" stroke="#c8c8c8" stroke-width="0.8"/>
<line x1="1407.2" y1="254.6" x2="1407.2" y2="257.5" stroke="#c8c8c8" stroke-width="0.8"/>
<line x1="1328" y1="171.3" x2="1330.8" y2="171.3" stroke="#c8c8c8" stroke-width="0.8"/>
<line x1="1417.6" y1="254.6" x2="1417.6" y2="257.5" stroke="#c8c8c8" stroke-width="0.8"/>
<line x1="1328" y1="164.2" x2="1330.8" y2="164.2" stroke="#c8c8c8" stroke-width="0.8"/>
<line x1="1424.9" y1="254.6" x2="1424.9" y2="257.5" stroke="#c8c8c8" stroke-width="0.8"/>
<line x1="1328" y1="158.8" x2="1330.8" y2="158.8" stroke="#c8c8c8" stroke-width="0.8"/>
<line x1="1430.6" y1="254.6" x2="1430.6" y2="257.5" stroke="#c8c8c8" stroke-width="0.8"/>
<line x1="1328" y1="154.3" x2="1330.8" y2="154.3" stroke="#c8c8c8" stroke-width="0.8"/>
<line x1="1435.3" y1="254.6" x2="1435.3" y2="257.5" stroke="#c8c8c8" stroke-width="0.8"/>
<line x1="1328" y1="150.5" x2="1330.8" y2="150.5" stroke="#c8c8c8" stroke-width="0.8"/>
<line x1="1439.2" y1="254.6" x2="1439.2" y2="257.5" stroke="#c8c8c8" stroke-width="0.8"/>
<line x1="1328" y1="147.3" x2="1330.8" y2="147.3" stroke="#c8c8c8" stroke-width="0.8"/>
<line x1="1442.6" y1="254.6" x2="1442.6" y2="257.5" stroke="#c8c8c8" stroke-width="0.8"/>
<line x1="1328" y1="144.4" x2="1330.8" y2="144.4" stroke="#c8c8c8" stroke-width="0.8"/>
<line x1="1445.6" y1="254.6" x2="1445.6" y2="257.5" stroke="#c8c8c8" stroke-width="0.8"/>
<line x1="1325.5" y1="141.8" x2="1330.8" y2="141.8" stroke="#c8c8c8" stroke-width="1.2"/>
<line x1="1448.3" y1="254.6" x2="1448.3" y2="260" stroke="#c8c8c8" stroke-width="1.2"/>
<line x1="1328" y1="124.8" x2="1330.8" y2="124.8" stroke="#c8c8c8" stroke-width="0.8"/>
<line x1="1466" y1="254.6" x2="1466" y2="257.5" stroke="#c8c8c8" stroke-width="0.8"/>
<line x1="1328" y1="114.9" x2="1330.8" y2="114.9" stroke="#c8c8c8" stroke-width="0.8"/>
<line x1="1476.3" y1="254.6" x2="1476.3" y2="257.5" stroke="#c8c8c8" stroke-width="0.8"/>
<line x1="1328" y1="107.8" x2="1330.8" y2="107.8" stroke="#c8c8c8" stroke-width="0.8"/>
<line x1="1483.7" y1="254.6" x2="1483.7" y2="257.5" stroke="#c8c8c8" stroke-width="0.8"/>
<line x1="1328" y1="102.4" x2="1330.8" y2="102.4" stroke="#c8c8c8" stroke-width="0.8"/>
<line x1="1489.4" y1="254.6" x2="1489.4" y2="257.5" stroke="#c8c8c8" stroke-width="0.8"/>
<line x1="1328" y1="97.9" x2="1330.8" y2="97.9" stroke="#c8c8c8" stroke-width="0.8"/>
<line x1="1494" y1="254.6" x2="1494" y2="257.5" stroke="#c8c8c8" stroke-width="0.8"/>
<line x1="1328" y1="94.1" x2="1330.8" y2="94.1" stroke="#c8c8c8" stroke-width="0.8"/>
<line x1="1497.9" y1="254.6" x2="1497.9" y2="257.5" stroke="#c8c8c8" stroke-width="0.8"/>
<line x1="1328" y1="90.9" x2="1330.8" y2="90.9" stroke="#c8c8c8" stroke-width="0.8"/>
<line x1="1501.4" y1="254.6" x2="1501.4" y2="257.5" stroke="#c8c8c8" stroke-width="0.8"/>
<line x1="1328" y1="88" x2="1330.8" y2="88" stroke="#c8c8c8" stroke-width="0.8"/>
<line x1="1504.4" y1="254.6" x2="1504.4" y2="257.5" stroke="#c8c8c8" stroke-width="0.8"/>
<line x1="1325.5" y1="85.4" x2="1330.8" y2="85.4" stroke="#c8c8c8" stroke-width="1.2"/>
<line x1="1507" y1="254.6" x2="1507" y2="260" stroke="#c8c8c8" stroke-width="1.2"/>
<line x1="1328" y1="68.4" x2="1330.8" y2="68.4" stroke="#c8c8c8" stroke-width="0.8"/>
<line x1="1524.7" y1="254.6" x2="1524.7" y2="257.5" stroke="#c8c8c8" stroke-width="0.8"/>
<line x1="1328" y1="58.5" x2="1330.8" y2="58.5" stroke="#c8c8c8" stroke-width="0.8"/>
<line x1="1535.1" y1="254.6" x2="1535.1" y2="257.5" stroke="#c8c8c8" stroke-width="0.8"/>
<line x1="1328" y1="51.4" x2="1330.8" y2="51.4" stroke="#c8c8c8" stroke-width="0.8"/>
<line x1="1542.4" y1="254.6" x2="1542.4" y2="257.5" stroke="#c8c8c8" stroke-width="0.8"/>
<line x1="1328" y1="46" x2="1330.8" y2="46" stroke="#c8c8c8" stroke-width="0.8"/>
<line x1="1548.1" y1="254.6" x2="1548.1" y2="257.5" stroke="#c8c8c8" stroke-width="0.8"/>
<line x1="1328" y1="41.5" x2="1330.8" y2="41.5" stroke="#c8c8c8" stroke-width="0.8"/>
<line x1="1552.8" y1="254.6" x2="1552.8" y2="257.5" stroke="#c8c8c8" stroke-width="0.8"/>
<line x1="1328" y1="37.7" x2="1330.8" y2="37.7" stroke="#c8c8c8" stroke-width="0.8"/>
<line x1="1556.7" y1="254.6" x2="1556.7" y2="257.5" stroke="#c8c8c8" stroke-width="0.8"/>
<line x1="1328" y1="34.5" x2="1330.8" y2="34.5" stroke="#c8c8c8" stroke-width="0.8"/>
<line x1="1560.1" y1="254.6" x2="1560.1" y2="257.5" stroke="#c8c8c8" stroke-width="0.8"/>
<line x1="1328" y1="31.6" x2="1330.8" y2="31.6" stroke="#c8c8c8" stroke-width="0.8"/>
<line x1="1563.1" y1="254.6" x2="1563.1" y2="257.5" stroke="#c8c8c8" stroke-width="0.8"/>
<line x1="1325.5" y1="29" x2="1330.8" y2="29" stroke="#c8c8c8" stroke-width="1.2"/>
<line x1="1565.8" y1="254.6" x2="1565.8" y2="260" stroke="#c8c8c8" stroke-width="1.2"/>
<text x="1289.1" y="263.7" font-size="23.5" textLength="27.9" lengthAdjust="spacingAndGlyphs">10</text>
<text x="1316.9" y="254.2" font-size="14.5" textLength="9.7" lengthAdjust="spacingAndGlyphs">0</text>
<text x="1289.1" y="208.5" font-size="23.5" textLength="27.9" lengthAdjust="spacingAndGlyphs">10</text>
<text x="1316.9" y="199" font-size="14.5" textLength="9.7" lengthAdjust="spacingAndGlyphs">1</text>
<text x="1289.1" y="152.4" font-size="23.5" textLength="27.9" lengthAdjust="spacingAndGlyphs">10</text>
<text x="1316.9" y="142.9" font-size="14.5" textLength="9.7" lengthAdjust="spacingAndGlyphs">2</text>
<text x="1289.1" y="96.7" font-size="23.5" textLength="27.9" lengthAdjust="spacingAndGlyphs">10</text>
<text x="1316.9" y="87.2" font-size="14.5" textLength="9.7" lengthAdjust="spacingAndGlyphs">3</text>
<text x="1289.1" y="42.8" font-size="23.5" textLength="27.9" lengthAdjust="spacingAndGlyphs">10</text>
<text x="1316.9" y="33.3" font-size="14.5" textLength="9.7" lengthAdjust="spacingAndGlyphs">4</text>
<text x="1312.4" y="282.3" font-size="23.5" textLength="27.9" lengthAdjust="spacingAndGlyphs">10</text>
<text x="1340.2" y="272.8" font-size="14.5" textLength="9.7" lengthAdjust="spacingAndGlyphs">0</text>
<text x="1373.2" y="282.3" font-size="23.5" textLength="27.9" lengthAdjust="spacingAndGlyphs">10</text>
<text x="1401" y="272.8" font-size="14.5" textLength="9.7" lengthAdjust="spacingAndGlyphs">1</text>
<text x="1431.8" y="282.3" font-size="23.5" textLength="27.9" lengthAdjust="spacingAndGlyphs">10</text>
<text x="1459.6" y="272.8" font-size="14.5" textLength="9.7" lengthAdjust="spacingAndGlyphs">2</text>
<text x="1489.2" y="282.3" font-size="23.5" textLength="27.9" lengthAdjust="spacingAndGlyphs">10</text>
<text x="1517" y="272.8" font-size="14.5" textLength="9.7" lengthAdjust="spacingAndGlyphs">3</text>
<text x="1549.4" y="282.3" font-size="23.5" textLength="27.9" lengthAdjust="spacingAndGlyphs">10</text>
<text x="1577.2" y="272.8" font-size="14.5" textLength="9.7" lengthAdjust="spacingAndGlyphs">4</text>
<text transform="translate(1272.5,140.8) rotate(-90)" x="-31.7" y="0" font-size="23.5" textLength="63.4" lengthAdjust="spacingAndGlyphs">NeuN</text>
<text x="1421.1" y="307.6" font-size="23.5" textLength="50.9" lengthAdjust="spacingAndGlyphs">GFP</text>
<text x="1474.6" y="42.8" font-size="23.5" textLength="31.6" lengthAdjust="spacingAndGlyphs">P5</text>
<rect x="1475.2" y="49.2" width="59.4" height="49.4" fill="none" stroke="#888" stroke-width="1.2"/>
<path d="M1427,41.9h1.2M1430.8,48.1h1.2M1420.8,50.6h1.2M1434.5,51.9h1.2M1438.2,51.9h1.2M1423.2,53.1h1.2M1413.2,54.4h1.2M1418.2,55.6h1.2M1420.8,55.6h2.5M1424.5,55.6h1.2M1432,56.9h1.2M1439.5,56.9h1.2M1417,58.1h1.2M1420.8,58.1h1.2M1423.2,58.1h2.5M1429.5,58.1h2.5M1439.5,58.1h1.2M1417,59.4h1.2M1419.5,59.4h1.2M1422,59.4h2.5M1425.8,59.4h1.2M1428.2,59.4h1.2M1422,60.6h1.2M1427,60.6h1.2M1432,60.6h5M1408.2,61.9h1.2M1428.2,61.9h1.2M1430.8,61.9h1.2M1433.2,61.9h2.5M1444.5,61.9h1.2M1409.5,63.1h1.2M1415.8,63.1h1.2M1418.2,63.1h1.2M1430.8,63.1h1.2M1412,64.4h1.2M1415.8,64.4h1.2M1430.8,64.4h1.2M1433.2,64.4h1.2M1408.2,65.6h1.2M1413.2,65.6h1.2M1433.2,65.6h1.2M1440.8,65.6h1.2M1404.5,66.9h1.2M1414.5,66.9h1.2M1433.2,66.9h3.8M1438.2,66.9h1.2M1403.2,68.1h1.2M1409.5,68.1h2.5M1413.2,68.1h2.5M1432,68.1h1.2M1437,68.1h1.2M1397,69.4h1.2M1434.5,69.4h1.2M1399.5,70.6h1.2M1402,70.6h1.2M1405.8,70.6h1.2M1408.2,70.6h3.8M1434.5,70.6h1.2M1442,70.6h1.2M1408.2,71.9h1.2M1437,71.9h1.2M1402,73.1h1.2M1400.8,74.4h1.2M1432,74.4h1.2M1435.8,74.4h1.2M1398.2,75.6h1.2M1404.5,75.6h2.5M1433.2,75.6h1.2M1435.8,75.6h2.5M1395.8,76.9h1.2M1402,76.9h1.2M1432,76.9h1.2M1434.5,76.9h2.5M1403.2,78.1h1.2M1432,78.1h3.8M1437,78.1h1.2M1442,78.1h1.2M1397,79.4h1.2M1399.5,79.4h1.2M1402,79.4h1.2M1430.8,79.4h5M1437,79.4h1.2M1443.2,79.4h1.2M1400.8,80.6h1.2M1430.8,81.9h1.2M1434.5,81.9h1.2M1398.2,83.1h1.2M1434.5,83.1h1.2M1394.5,84.4h1.2M1398.2,84.4h1.2M1400.8,84.4h1.2M1430.8,84.4h1.2M1433.2,84.4h3.8M1394.5,85.6h1.2M1397,85.6h2.5M1400.8,85.6h1.2M1429.5,85.6h1.2M1432,85.6h1.2M1434.5,85.6h1.2M1399.5,86.9h1.2M1433.2,86.9h1.2M1435.8,86.9h1.2M1390.8,88.1h1.2M1398.2,88.1h2.5M1429.5,88.1h1.2M1432,88.1h1.2M1392,89.4h1.2M1394.5,89.4h1.2M1429.5,89.4h1.2M1382,90.6h1.2M1395.8,90.6h2.5M1395.8,91.9h2.5M1425.8,91.9h1.2M1429.5,91.9h1.2M1435.8,91.9h1.2M1393.2,93.1h1.2M1395.8,93.1h1.2M1428.2,93.1h1.2M1384.5,94.4h1.2M1390.8,94.4h1.2M1397,94.4h1.2M1428.2,94.4h2.5M1435.8,94.4h1.2M1389.5,95.6h1.2M1395.8,95.6h1.2M1424.5,95.6h1.2M1428.2,95.6h2.5M1390.8,96.9h1.2M1395.8,96.9h1.2M1430.8,96.9h1.2M1390.8,98.1h3.8M1395.8,98.1h1.2M1424.5,98.1h1.2M1427,98.1h1.2M1429.5,98.1h2.5M1389.5,99.4h1.2M1392,99.4h1.2M1395.8,99.4h1.2M1420.8,99.4h2.5M1387,100.6h1.2M1395.8,100.6h1.2M1427,100.6h1.2M1389.5,101.9h1.2M1392,101.9h1.2M1418.2,101.9h1.2M1420.8,101.9h1.2M1425.8,101.9h1.2M1429.5,101.9h1.2M1389.5,103.1h1.2M1420.8,103.1h2.5M1377,104.4h1.2M1387,104.4h3.8M1395.8,104.4h2.5M1417,104.4h1.2M1390.8,105.6h1.2M1395.8,105.6h1.2M1413.2,105.6h1.2M1424.5,105.6h1.2M1384.5,106.9h1.2M1388.2,106.9h1.2M1393.2,106.9h1.2M1398.2,106.9h1.2M1417,106.9h1.2M1430.8,106.9h1.2M1392,108.1h1.2M1413.2,108.1h2.5M1418.2,108.1h1.2M1420.8,108.1h1.2M1378.2,109.4h1.2M1385.8,109.4h1.2M1392,109.4h1.2M1394.5,109.4h1.2M1398.2,109.4h1.2M1410.8,109.4h5M1425.8,109.4h1.2M1394.5,110.6h2.5M1407,110.6h1.2M1410.8,110.6h2.5M1414.5,110.6h1.2M1463.2,110.6h1.2M1390.8,111.9h1.2M1397,111.9h1.2M1403.2,111.9h1.2M1417,111.9h1.2M1424.5,111.9h1.2M1389.5,113.1h2.5M1393.2,113.1h1.2M1400.8,113.1h1.2M1404.5,113.1h1.2M1415.8,113.1h2.5M1428.2,113.1h1.2M1388.2,114.4h1.2M1404.5,114.4h2.5M1408.2,114.4h1.2M1418.2,114.4h1.2M1422,114.4h1.2M1470.8,114.4h1.2M1387,115.6h3.8M1407,115.6h1.2M1410.8,115.6h2.5M1415.8,115.6h2.5M1392,116.9h1.2M1412,116.9h1.2M1453.2,116.9h1.2M1390.8,118.1h3.8M1402,118.1h1.2M1405.8,118.1h2.5M1409.5,118.1h3.8M1435.8,118.1h1.2M1450.8,118.1h1.2M1453.2,118.1h1.2M1385.8,119.4h1.2M1388.2,119.4h2.5M1402,119.4h3.8M1420.8,119.4h1.2M1425.8,119.4h1.2M1448.2,119.4h1.2M1388.2,120.6h1.2M1392,120.6h1.2M1404.5,120.6h1.2M1408.2,120.6h2.5M1419.5,120.6h1.2M1444.5,120.6h1.2M1460.8,120.6h1.2M1478.2,120.6h1.2M1384.5,121.9h1.2M1388.2,121.9h1.2M1393.2,121.9h1.2M1402,121.9h1.2M1428.2,121.9h2.5M1432,121.9h1.2M1382,123.1h1.2M1388.2,123.1h2.5M1404.5,123.1h1.2M1412,123.1h2.5M1417,123.1h1.2M1425.8,123.1h2.5M1429.5,123.1h1.2M1432,123.1h1.2M1438.2,123.1h1.2M1442,123.1h1.2M1448.2,123.1h1.2M1400.8,124.4h1.2M1403.2,124.4h2.5M1407,124.4h2.5M1410.8,124.4h1.2M1413.2,124.4h1.2M1415.8,124.4h1.2M1422,124.4h1.2M1425.8,124.4h1.2M1429.5,124.4h1.2M1435.8,124.4h1.2M1440.8,124.4h1.2M1448.2,124.4h1.2M1453.2,124.4h2.5M1383.2,125.6h1.2M1388.2,125.6h1.2M1402,125.6h1.2M1417,125.6h1.2M1423.2,125.6h1.2M1429.5,125.6h1.2M1433.2,125.6h2.5M1439.5,125.6h1.2M1448.2,125.6h1.2M1387,126.9h1.2M1390.8,126.9h1.2M1399.5,126.9h1.2M1407,126.9h1.2M1409.5,126.9h1.2M1414.5,126.9h1.2M1418.2,126.9h2.5M1424.5,126.9h1.2M1428.2,126.9h1.2M1440.8,126.9h1.2M1444.5,126.9h2.5M1392,128.1h1.2M1399.5,128.1h1.2M1402,128.1h3.8M1409.5,128.1h5M1422,128.1h1.2M1427,128.1h2.5M1430.8,128.1h1.2M1433.2,128.1h1.2M1440.8,128.1h1.2M1444.5,128.1h1.2M1448.2,128.1h2.5M1452,128.1h1.2M1459.5,128.1h1.2M1378.2,129.4h1.2M1384.5,129.4h1.2M1387,129.4h1.2M1389.5,129.4h1.2M1394.5,129.4h2.5M1400.8,129.4h1.2M1403.2,129.4h2.5M1407,129.4h1.2M1409.5,129.4h1.2M1413.2,129.4h2.5M1418.2,129.4h1.2M1425.8,129.4h2.5M1443.2,129.4h1.2M1454.5,129.4h1.2M1380.8,130.6h1.2M1392,130.6h1.2M1394.5,130.6h1.2M1407,130.6h1.2M1410.8,130.6h1.2M1428.2,130.6h1.2M1433.2,130.6h2.5M1437,130.6h1.2M1440.8,130.6h1.2M1443.2,130.6h1.2M1453.2,130.6h1.2M1378.2,131.9h1.2M1387,131.9h1.2M1389.5,131.9h2.5M1393.2,131.9h3.8M1398.2,131.9h1.2M1400.8,131.9h1.2M1404.5,131.9h1.2M1408.2,131.9h1.2M1435.8,131.9h1.2M1439.5,131.9h2.5M1445.8,131.9h1.2M1453.2,131.9h2.5M1459.5,131.9h1.2M1385.8,133.1h3.8M1395.8,133.1h2.5M1404.5,133.1h1.2M1433.2,133.1h1.2M1439.5,133.1h1.2M1442,133.1h1.2M1387,134.4h1.2M1389.5,134.4h3.8M1438.2,134.4h1.2M1442,134.4h1.2M1377,135.6h1.2M1382,135.6h1.2M1387,135.6h2.5M1392,135.6h2.5M1397,135.6h1.2M1434.5,135.6h1.2M1437,135.6h1.2M1439.5,135.6h1.2M1452,135.6h1.2M1368.2,136.9h1.2M1378.2,136.9h2.5M1383.2,136.9h2.5M1388.2,136.9h3.8M1393.2,136.9h1.2M1437,136.9h1.2M1357,138.1h1.2M1359.5,138.1h1.2M1374.5,138.1h1.2M1377,138.1h1.2M1382,138.1h1.2M1384.5,138.1h2.5M1389.5,138.1h2.5M1433.2,138.1h1.2M1438.2,138.1h1.2M1444.5,138.1h1.2M1368.2,139.4h1.2M1370.8,139.4h1.2M1373.2,139.4h2.5M1377,139.4h1.2M1380.8,139.4h1.2M1383.2,139.4h1.2M1385.8,139.4h1.2M1430.8,139.4h2.5M1437,139.4h1.2M1442,139.4h2.5M1363.2,140.6h1.2M1373.2,140.6h1.2M1375.8,140.6h1.2M1378.2,140.6h2.5M1382,140.6h2.5M1429.5,140.6h2.5M1438.2,140.6h1.2M1354.5,141.9h1.2M1360.8,141.9h2.5M1369.5,141.9h3.8M1377,141.9h1.2M1379.5,141.9h1.2M1434.5,141.9h1.2M1355.8,143.1h1.2M1359.5,143.1h2.5M1364.5,143.1h1.2M1367,143.1h1.2M1369.5,143.1h1.2M1425.8,143.1h1.2M1428.2,143.1h1.2M1430.8,143.1h3.8M1439.5,143.1h1.2M1442,143.1h1.2M1354.5,144.4h1.2M1368.2,144.4h1.2M1425.8,144.4h1.2M1430.8,144.4h1.2M1437,144.4h1.2M1442,144.4h1.2M1449.5,144.4h1.2M1354.5,145.6h1.2M1359.5,145.6h1.2M1365.8,145.6h1.2M1422,145.6h1.2M1429.5,145.6h1.2M1432,145.6h2.5M1437,145.6h1.2M1350.8,146.9h1.2M1358.2,146.9h1.2M1362,146.9h2.5M1424.5,146.9h1.2M1437,146.9h1.2M1344.5,148.1h1.2M1347,148.1h1.2M1349.5,148.1h1.2M1360.8,148.1h1.2M1363.2,148.1h1.2M1367,148.1h1.2M1430.8,148.1h1.2M1438.2,148.1h1.2M1353.2,149.4h1.2M1360.8,149.4h1.2M1364.5,149.4h1.2M1410.8,149.4h3.8M1417,149.4h1.2M1423.2,149.4h2.5M1428.2,149.4h1.2M1439.5,149.4h1.2M1348.2,150.6h1.2M1350.8,150.6h1.2M1354.5,150.6h1.2M1357,150.6h1.2M1408.2,150.6h1.2M1410.8,150.6h1.2M1413.2,150.6h3.8M1418.2,150.6h1.2M1420.8,150.6h1.2M1423.2,150.6h1.2M1425.8,150.6h2.5M1348.2,151.9h1.2M1415.8,151.9h1.2M1418.2,151.9h1.2M1353.2,153.1h2.5M1358.2,153.1h1.2M1360.8,153.1h1.2M1404.5,153.1h2.5M1409.5,153.1h5M1417,153.1h1.2M1427,153.1h2.5M1354.5,154.4h3.8M1407,154.4h1.2M1410.8,154.4h1.2M1414.5,154.4h1.2M1419.5,154.4h1.2M1453.2,154.4h1.2M1347,155.6h1.2M1352,155.6h2.5M1358.2,155.6h1.2M1402,155.6h1.2M1404.5,155.6h2.5M1410.8,155.6h2.5M1415.8,155.6h1.2M1419.5,155.6h1.2M1353.2,156.9h1.2M1400.8,156.9h1.2M1405.8,156.9h3.8M1410.8,156.9h2.5M1420.8,156.9h1.2M1428.2,156.9h1.2M1439.5,156.9h1.2M1337,158.1h1.2M1344.5,158.1h1.2M1357,158.1h1.2M1399.5,158.1h1.2M1403.2,158.1h2.5M1407,158.1h1.2M1412,158.1h1.2M1345.8,159.4h1.2M1397,159.4h1.2M1412,159.4h1.2M1345.8,160.6h1.2M1348.2,160.6h1.2M1357,160.6h1.2M1402,160.6h1.2M1409.5,160.6h1.2M1412,160.6h1.2M1415.8,160.6h1.2M1418.2,160.6h1.2M1420.8,160.6h1.2M1342,161.9h1.2M1349.5,161.9h1.2M1352,161.9h2.5M1355.8,161.9h3.8M1394.5,161.9h1.2M1397,161.9h1.2M1399.5,161.9h2.5M1405.8,161.9h1.2M1439.5,161.9h1.2M1339.5,163.1h1.2M1349.5,163.1h1.2M1357,163.1h1.2M1397,163.1h2.5M1404.5,163.1h1.2M1353.2,164.4h1.2M1358.2,164.4h1.2M1393.2,164.4h1.2M1407,164.4h1.2M1333.2,165.6h1.2M1339.5,165.6h1.2M1352,165.6h1.2M1355.8,165.6h1.2M1358.2,165.6h1.2M1387,165.6h2.5M1390.8,165.6h1.2M1400.8,165.6h1.2M1404.5,165.6h1.2M1349.5,166.9h1.2M1385.8,166.9h1.2M1397,166.9h1.2M1343.2,168.1h1.2M1355.8,168.1h1.2M1358.2,168.1h1.2M1362,168.1h1.2M1382,168.1h1.2M1387,168.1h7.5M1349.5,169.4h3.8M1354.5,169.4h1.2M1357,169.4h2.5M1362,169.4h2.5M1369.5,169.4h2.5M1379.5,169.4h3.8M1385.8,169.4h1.2M1388.2,169.4h1.2M1390.8,169.4h2.5M1398.2,169.4h1.2M1334.5,170.6h1.2M1347,170.6h1.2M1354.5,170.6h1.2M1358.2,170.6h1.2M1362,170.6h2.5M1374.5,170.6h1.2M1380.8,170.6h2.5M1384.5,170.6h1.2M1392,170.6h2.5M1410.8,170.6h1.2M1345.8,171.9h1.2M1349.5,171.9h1.2M1353.2,171.9h1.2M1357,171.9h2.5M1360.8,171.9h5M1367,171.9h1.2M1369.5,171.9h1.2M1372,171.9h1.2M1374.5,171.9h2.5M1379.5,171.9h1.2M1384.5,171.9h1.2M1390.8,171.9h1.2M1393.2,171.9h1.2M1364.5,173.1h1.2M1370.8,173.1h1.2M1377,173.1h1.2M1397,173.1h1.2M1357,174.4h1.2M1354.5,175.6h2.5M1380.8,175.6h1.2M1390.8,175.6h2.5M1374.5,176.9h1.2M1377,176.9h1.2M1338.2,178.1h1.2M1357,178.1h1.2M1370.8,178.1h1.2M1373.2,178.1h1.2M1363.2,179.4h1.2M1372,179.4h2.5M1377,179.4h1.2M1389.5,179.4h1.2M1449.5,180.6h1.2M1365.8,181.9h2.5" stroke="#3a3a98" stroke-width="1.2" fill="none"/>
<path d="M1434.5,58.1h1.2M1430.8,59.4h1.2M1424.5,60.6h1.2M1428.2,60.6h2.5M1419.5,61.9h1.2M1423.2,61.9h2.5M1427,61.9h1.2M1432,61.9h1.2M1417,63.1h1.2M1422,63.1h2.5M1425.8,63.1h1.2M1428.2,63.1h1.2M1417,64.4h2.5M1420.8,64.4h3.8M1425.8,64.4h3.8M1432,64.4h1.2M1434.5,64.4h2.5M1414.5,65.6h1.2M1418.2,65.6h2.5M1423.2,65.6h1.2M1427,65.6h5M1434.5,65.6h1.2M1410.8,66.9h1.2M1413.2,66.9h1.2M1417,66.9h2.5M1428.2,66.9h5M1415.8,68.1h1.2M1428.2,68.1h3.8M1407,69.4h1.2M1410.8,69.4h3.8M1430.8,69.4h1.2M1433.2,69.4h1.2M1412,70.6h2.5M1430.8,70.6h3.8M1438.2,70.6h1.2M1407,71.9h1.2M1410.8,71.9h2.5M1433.2,71.9h2.5M1407,73.1h1.2M1409.5,73.1h2.5M1433.2,73.1h1.2M1408.2,74.4h2.5M1430.8,74.4h1.2M1433.2,74.4h1.2M1400.8,75.6h1.2M1408.2,75.6h1.2M1430.8,75.6h1.2M1405.8,76.9h2.5M1430.8,76.9h1.2M1433.2,76.9h1.2M1402,78.1h1.2M1404.5,78.1h3.8M1430.8,78.1h1.2M1404.5,79.4h2.5M1429.5,79.4h1.2M1435.8,79.4h1.2M1399.5,80.6h1.2M1402,80.6h1.2M1404.5,80.6h1.2M1429.5,80.6h2.5M1434.5,80.6h1.2M1399.5,81.9h6.2M1429.5,81.9h1.2M1432,81.9h1.2M1399.5,83.1h2.5M1403.2,83.1h1.2M1428.2,83.1h3.8M1433.2,83.1h1.2M1435.8,83.1h1.2M1402,84.4h1.2M1428.2,84.4h1.2M1402,85.6h1.2M1428.2,85.6h1.2M1395.8,86.9h3.8M1400.8,86.9h2.5M1427,86.9h1.2M1429.5,86.9h1.2M1397,88.1h1.2M1400.8,88.1h1.2M1425.8,88.1h2.5M1395.8,89.4h1.2M1398.2,89.4h3.8M1425.8,89.4h3.8M1398.2,90.6h2.5M1425.8,90.6h2.5M1429.5,90.6h1.2M1398.2,91.9h2.5M1424.5,91.9h1.2M1433.2,91.9h1.2M1397,93.1h5M1424.5,93.1h1.2M1427,93.1h1.2M1398.2,94.4h2.5M1423.2,94.4h2.5M1394.5,95.6h1.2M1398.2,95.6h1.2M1400.8,95.6h1.2M1422,95.6h2.5M1427,95.6h1.2M1394.5,96.9h1.2M1397,96.9h3.8M1420.8,96.9h3.8M1425.8,96.9h2.5M1398.2,98.1h2.5M1419.5,98.1h2.5M1423.2,98.1h1.2M1428.2,98.1h1.2M1394.5,99.4h1.2M1397,99.4h3.8M1419.5,99.4h1.2M1428.2,99.4h1.2M1392,100.6h3.8M1398.2,100.6h3.8M1415.8,100.6h5M1424.5,100.6h1.2M1397,101.9h3.8M1415.8,101.9h2.5M1419.5,101.9h1.2M1384.5,103.1h1.2M1392,103.1h1.2M1395.8,103.1h6.2M1413.2,103.1h1.2M1415.8,103.1h5M1398.2,104.4h2.5M1402,104.4h2.5M1408.2,104.4h2.5M1412,104.4h3.8M1397,105.6h8.8M1407,105.6h2.5M1410.8,105.6h2.5M1414.5,105.6h5M1392,106.9h1.2M1394.5,106.9h1.2M1397,106.9h1.2M1399.5,106.9h13.8M1393.2,108.1h1.2M1395.8,108.1h1.2M1398.2,108.1h15M1395.8,109.4h2.5M1399.5,109.4h6.2M1407,109.4h3.8M1392,110.6h2.5M1397,110.6h2.5M1400.8,110.6h2.5M1413.2,110.6h1.2M1392,111.9h1.2M1395.8,111.9h1.2M1399.5,111.9h2.5M1404.5,111.9h2.5M1392,113.1h1.2M1394.5,113.1h2.5M1398.2,113.1h2.5M1402,113.1h1.2M1405.8,113.1h5M1393.2,114.4h11.2M1392,115.6h3.8M1397,115.6h7.5M1405.8,115.6h1.2M1408.2,115.6h1.2M1393.2,116.9h8.8M1403.2,116.9h1.2M1405.8,116.9h1.2M1408.2,116.9h1.2M1410.8,116.9h1.2M1387,118.1h1.2M1389.5,118.1h1.2M1394.5,118.1h7.5M1403.2,118.1h2.5M1445.8,118.1h1.2M1392,119.4h10M1408.2,119.4h1.2M1410.8,119.4h1.2M1387,120.6h1.2M1393.2,120.6h11.2M1407,120.6h1.2M1392,121.9h1.2M1395.8,121.9h6.2M1403.2,121.9h1.2M1405.8,121.9h1.2M1425.8,121.9h1.2M1445.8,121.9h1.2M1390.8,123.1h11.2M1403.2,123.1h1.2M1424.5,123.1h1.2M1449.5,123.1h1.2M1392,124.4h1.2M1394.5,124.4h6.2M1402,124.4h1.2M1392,125.6h10M1405.8,125.6h1.2M1425.8,125.6h3.8M1437,125.6h2.5M1385.8,126.9h1.2M1389.5,126.9h1.2M1392,126.9h7.5M1403.2,126.9h1.2M1408.2,126.9h1.2M1427,126.9h1.2M1442,126.9h1.2M1388.2,128.1h3.8M1395.8,128.1h3.8M1400.8,128.1h1.2M1408.2,128.1h1.2M1417,128.1h1.2M1419.5,128.1h1.2M1423.2,128.1h2.5M1434.5,128.1h2.5M1445.8,128.1h1.2M1393.2,129.4h1.2M1398.2,129.4h2.5M1402,129.4h1.2M1405.8,129.4h1.2M1415.8,129.4h2.5M1419.5,129.4h2.5M1423.2,129.4h2.5M1428.2,129.4h1.2M1430.8,129.4h5M1438.2,129.4h1.2M1389.5,130.6h2.5M1393.2,130.6h1.2M1397,130.6h5M1405.8,130.6h1.2M1409.5,130.6h1.2M1412,130.6h1.2M1414.5,130.6h13.8M1432,130.6h1.2M1435.8,130.6h1.2M1438.2,130.6h1.2M1442,130.6h1.2M1388.2,131.9h1.2M1392,131.9h1.2M1397,131.9h1.2M1402,131.9h1.2M1405.8,131.9h2.5M1409.5,131.9h1.2M1412,131.9h8.8M1422,131.9h13.8M1437,131.9h1.2M1442,131.9h1.2M1444.5,131.9h1.2M1390.8,133.1h1.2M1393.2,133.1h1.2M1398.2,133.1h5M1407,133.1h10M1422,133.1h2.5M1428.2,133.1h5M1434.5,133.1h1.2M1440.8,133.1h1.2M1393.2,134.4h1.2M1395.8,134.4h5M1402,134.4h7.5M1410.8,134.4h1.2M1427,134.4h7.5M1435.8,134.4h2.5M1390.8,135.6h1.2M1394.5,135.6h2.5M1398.2,135.6h12.5M1428.2,135.6h5M1435.8,135.6h1.2M1392,136.9h1.2M1394.5,136.9h7.5M1429.5,136.9h3.8M1434.5,136.9h2.5M1368.2,138.1h1.2M1388.2,138.1h1.2M1392,138.1h6.2M1399.5,138.1h2.5M1424.5,138.1h1.2M1428.2,138.1h5M1435.8,138.1h1.2M1439.5,138.1h1.2M1445.8,138.1h1.2M1378.2,139.4h1.2M1387,139.4h2.5M1392,139.4h3.8M1397,139.4h2.5M1423.2,139.4h1.2M1425.8,139.4h2.5M1429.5,139.4h1.2M1434.5,139.4h2.5M1439.5,139.4h1.2M1368.2,140.6h1.2M1377,140.6h1.2M1380.8,140.6h1.2M1385.8,140.6h1.2M1388.2,140.6h6.2M1395.8,140.6h2.5M1425.8,140.6h3.8M1432,140.6h1.2M1435.8,140.6h1.2M1373.2,141.9h2.5M1378.2,141.9h1.2M1380.8,141.9h7.5M1422,141.9h10M1433.2,141.9h1.2M1365.8,143.1h1.2M1368.2,143.1h1.2M1372,143.1h3.8M1377,143.1h5M1383.2,143.1h1.2M1392,143.1h1.2M1422,143.1h3.8M1427,143.1h1.2M1429.5,143.1h1.2M1434.5,143.1h1.2M1363.2,144.4h1.2M1365.8,144.4h1.2M1369.5,144.4h2.5M1374.5,144.4h3.8M1379.5,144.4h1.2M1392,144.4h1.2M1418.2,144.4h1.2M1420.8,144.4h5M1427,144.4h1.2M1369.5,145.6h5M1405.8,145.6h1.2M1413.2,145.6h3.8M1418.2,145.6h3.8M1428.2,145.6h1.2M1434.5,145.6h1.2M1364.5,146.9h1.2M1367,146.9h5M1403.2,146.9h1.2M1405.8,146.9h2.5M1412,146.9h2.5M1417,146.9h6.2M1368.2,148.1h2.5M1405.8,148.1h1.2M1408.2,148.1h2.5M1412,148.1h2.5M1417,148.1h1.2M1419.5,148.1h3.8M1357,149.4h1.2M1362,149.4h1.2M1365.8,149.4h2.5M1399.5,149.4h1.2M1403.2,149.4h1.2M1405.8,149.4h5M1414.5,149.4h1.2M1420.8,149.4h1.2M1352,150.6h1.2M1358.2,150.6h11.2M1399.5,150.6h8.8M1409.5,150.6h1.2M1412,150.6h1.2M1358.2,151.9h6.2M1403.2,151.9h3.8M1408.2,151.9h1.2M1410.8,151.9h1.2M1359.5,153.1h1.2M1362,153.1h2.5M1399.5,153.1h5M1408.2,153.1h1.2M1358.2,154.4h6.2M1400.8,154.4h3.8M1405.8,154.4h1.2M1354.5,155.6h2.5M1359.5,155.6h2.5M1398.2,155.6h3.8M1409.5,155.6h1.2M1355.8,156.9h1.2M1358.2,156.9h2.5M1397,156.9h3.8M1402,156.9h1.2M1349.5,158.1h1.2M1354.5,158.1h1.2M1358.2,158.1h3.8M1395.8,158.1h3.8M1349.5,159.4h1.2M1352,159.4h2.5M1355.8,159.4h1.2M1358.2,159.4h3.8M1390.8,159.4h1.2M1394.5,159.4h2.5M1398.2,159.4h1.2M1400.8,159.4h2.5M1354.5,160.6h1.2M1358.2,160.6h3.8M1389.5,160.6h6.2M1398.2,160.6h1.2M1354.5,161.9h1.2M1359.5,161.9h2.5M1392,161.9h2.5M1395.8,161.9h1.2M1350.8,163.1h2.5M1354.5,163.1h2.5M1359.5,163.1h3.8M1367,163.1h1.2M1388.2,163.1h3.8M1393.2,163.1h2.5M1400.8,163.1h1.2M1354.5,164.4h1.2M1357,164.4h1.2M1359.5,164.4h3.8M1364.5,164.4h1.2M1385.8,164.4h5M1392,164.4h1.2M1397,164.4h1.2M1399.5,164.4h1.2M1354.5,165.6h1.2M1359.5,165.6h7.5M1382,165.6h5M1389.5,165.6h1.2M1393.2,165.6h1.2M1397,165.6h1.2M1354.5,166.9h1.2M1358.2,166.9h2.5M1363.2,166.9h3.8M1368.2,166.9h1.2M1378.2,166.9h7.5M1387,166.9h2.5M1390.8,166.9h1.2M1357,168.1h1.2M1359.5,168.1h2.5M1363.2,168.1h16.2M1385.8,168.1h1.2M1353.2,169.4h1.2M1359.5,169.4h1.2M1365.8,169.4h3.8M1372,169.4h1.2M1374.5,169.4h2.5M1359.5,170.6h1.2M1365.8,170.6h3.8M1370.8,170.6h3.8M1377,170.6h1.2M1379.5,170.6h1.2M1383.2,170.6h1.2M1370.8,171.9h1.2M1373.2,173.1h1.2M1375.8,173.1h1.2M1382,173.1h1.2M1363.2,174.4h1.2M1367,174.4h1.2" stroke="#3557b8" stroke-width="1.2" fill="none"/>
<path d="M1422,61.9h1.2M1424.5,63.1h1.2M1427,63.1h1.2M1424.5,64.4h1.2M1420.8,65.6h2.5M1424.5,65.6h2.5M1419.5,66.9h3.8M1424.5,66.9h3.8M1417,68.1h3.8M1425.8,68.1h1.2M1414.5,69.4h5M1427,69.4h3.8M1414.5,70.6h1.2M1419.5,70.6h1.2M1428.2,70.6h2.5M1413.2,71.9h2.5M1428.2,71.9h5M1408.2,73.1h1.2M1412,73.1h2.5M1428.2,73.1h5M1407,74.4h1.2M1410.8,74.4h1.2M1429.5,74.4h1.2M1407,75.6h1.2M1409.5,75.6h2.5M1429.5,75.6h1.2M1432,75.6h1.2M1408.2,76.9h2.5M1428.2,76.9h2.5M1428.2,78.1h2.5M1407,79.4h2.5M1428.2,79.4h1.2M1403.2,80.6h1.2M1405.8,80.6h2.5M1427,80.6h2.5M1405.8,81.9h1.2M1427,81.9h2.5M1402,83.1h1.2M1404.5,83.1h2.5M1427,83.1h1.2M1403.2,84.4h2.5M1425.8,84.4h2.5M1429.5,84.4h1.2M1403.2,85.6h1.2M1425.8,85.6h2.5M1403.2,86.9h1.2M1424.5,86.9h2.5M1428.2,86.9h1.2M1402,88.1h2.5M1424.5,88.1h1.2M1402,89.4h2.5M1423.2,89.4h2.5M1400.8,90.6h3.8M1423.2,90.6h2.5M1400.8,91.9h3.8M1420.8,91.9h3.8M1402,93.1h1.2M1422,93.1h2.5M1400.8,94.4h1.2M1403.2,94.4h1.2M1418.2,94.4h5M1399.5,95.6h1.2M1402,95.6h1.2M1419.5,95.6h2.5M1400.8,96.9h2.5M1417,96.9h3.8M1397,98.1h1.2M1400.8,98.1h3.8M1417,98.1h2.5M1400.8,99.4h3.8M1415.8,99.4h3.8M1402,100.6h3.8M1412,100.6h3.8M1400.8,101.9h15M1402,103.1h11.2M1414.5,103.1h1.2M1400.8,104.4h1.2M1404.5,104.4h3.8M1410.8,104.4h1.2M1415.8,104.4h1.2M1419.5,104.4h1.2M1405.8,105.6h1.2M1409.5,105.6h1.2M1395.8,106.9h1.2M1405.8,109.4h1.2M1403.2,110.6h2.5M1393.2,111.9h2.5M1398.2,111.9h1.2M1407,114.4h1.2M1390.8,115.6h1.2M1395.8,115.6h1.2M1402,116.9h1.2M1390.8,121.9h1.2M1394.5,121.9h1.2M1402,123.1h1.2M1390.8,124.4h1.2M1393.2,124.4h1.2M1390.8,125.6h1.2M1400.8,126.9h1.2M1413.2,126.9h1.2M1393.2,128.1h2.5M1412,129.4h1.2M1429.5,129.4h1.2M1413.2,130.6h1.2M1399.5,131.9h1.2M1403.2,131.9h1.2M1410.8,131.9h1.2M1420.8,131.9h1.2M1394.5,133.1h1.2M1405.8,133.1h1.2M1417,133.1h5M1424.5,133.1h3.8M1438.2,133.1h1.2M1394.5,134.4h1.2M1400.8,134.4h1.2M1409.5,134.4h1.2M1412,134.4h10M1423.2,134.4h3.8M1410.8,135.6h17.5M1402,136.9h13.8M1417,136.9h12.5M1383.2,138.1h1.2M1398.2,138.1h1.2M1402,138.1h7.5M1410.8,138.1h1.2M1415.8,138.1h2.5M1420.8,138.1h3.8M1425.8,138.1h2.5M1395.8,139.4h1.2M1399.5,139.4h7.5M1408.2,139.4h2.5M1413.2,139.4h2.5M1418.2,139.4h5M1424.5,139.4h1.2M1428.2,139.4h1.2M1384.5,140.6h1.2M1394.5,140.6h1.2M1398.2,140.6h8.8M1412,140.6h1.2M1415.8,140.6h1.2M1419.5,140.6h2.5M1423.2,140.6h2.5M1388.2,141.9h18.8M1409.5,141.9h1.2M1412,141.9h1.2M1414.5,141.9h7.5M1375.8,143.1h1.2M1382,143.1h1.2M1384.5,143.1h7.5M1393.2,143.1h11.2M1405.8,143.1h2.5M1409.5,143.1h12.5M1373.2,144.4h1.2M1378.2,144.4h1.2M1380.8,144.4h11.2M1393.2,144.4h1.2M1395.8,144.4h22.5M1419.5,144.4h1.2M1368.2,145.6h1.2M1374.5,145.6h11.2M1387,145.6h1.2M1389.5,145.6h5M1395.8,145.6h10M1407,145.6h6.2M1417,145.6h1.2M1372,146.9h8.8M1385.8,146.9h1.2M1390.8,146.9h2.5M1394.5,146.9h8.8M1404.5,146.9h1.2M1408.2,146.9h3.8M1414.5,146.9h2.5M1365.8,148.1h1.2M1370.8,148.1h3.8M1394.5,148.1h1.2M1397,148.1h8.8M1407,148.1h1.2M1410.8,148.1h1.2M1418.2,148.1h1.2M1368.2,149.4h5M1395.8,149.4h3.8M1400.8,149.4h2.5M1404.5,149.4h1.2M1369.5,150.6h1.2M1395.8,150.6h3.8M1364.5,151.9h6.2M1394.5,151.9h8.8M1364.5,153.1h2.5M1395.8,153.1h3.8M1414.5,153.1h1.2M1353.2,154.4h1.2M1364.5,154.4h1.2M1367,154.4h1.2M1392,154.4h1.2M1395.8,154.4h5M1357,155.6h1.2M1362,155.6h3.8M1393.2,155.6h5M1360.8,156.9h5M1393.2,156.9h3.8M1362,158.1h3.8M1389.5,158.1h6.2M1362,159.4h1.2M1387,159.4h1.2M1389.5,159.4h1.2M1392,159.4h2.5M1362,160.6h5M1388.2,160.6h1.2M1362,161.9h6.2M1384.5,161.9h7.5M1358.2,163.1h1.2M1363.2,163.1h2.5M1380.8,163.1h7.5M1363.2,164.4h1.2M1365.8,164.4h5M1372,164.4h2.5M1375.8,164.4h3.8M1382,164.4h3.8M1357,165.6h1.2M1367,165.6h15M1367,166.9h1.2M1369.5,166.9h8.8M1379.5,168.1h2.5M1377,169.4h1.2M1375.8,170.6h1.2" stroke="#2e86c6" stroke-width="1.2" fill="none"/>
<path d="M1423.2,66.9h1.2M1420.8,68.1h5M1427,68.1h1.2M1419.5,69.4h3.8M1424.5,69.4h2.5M1415.8,70.6h2.5M1427,70.6h1.2M1415.8,71.9h1.2M1414.5,73.1h1.2M1427,73.1h1.2M1412,74.4h1.2M1428.2,74.4h1.2M1412,75.6h1.2M1428.2,75.6h1.2M1410.8,76.9h1.2M1427,76.9h1.2M1408.2,78.1h2.5M1427,78.1h1.2M1425.8,79.4h2.5M1408.2,80.6h2.5M1425.8,80.6h1.2M1407,81.9h1.2M1425.8,81.9h1.2M1407,83.1h1.2M1425.8,83.1h1.2M1405.8,84.4h1.2M1424.5,84.4h1.2M1404.5,85.6h1.2M1424.5,85.6h1.2M1404.5,86.9h2.5M1423.2,86.9h1.2M1404.5,88.1h1.2M1423.2,88.1h1.2M1404.5,89.4h1.2M1422,89.4h1.2M1422,90.6h1.2M1419.5,91.9h1.2M1403.2,93.1h1.2M1420.8,93.1h1.2M1402,94.4h1.2M1417,94.4h1.2M1403.2,95.6h1.2M1414.5,95.6h1.2M1418.2,95.6h1.2M1403.2,96.9h1.2M1405.8,96.9h1.2M1412,96.9h1.2M1415.8,96.9h1.2M1404.5,98.1h1.2M1412,98.1h2.5M1415.8,98.1h1.2M1404.5,99.4h2.5M1412,99.4h3.8M1405.8,100.6h6.2M1422,134.4h1.2M1415.8,136.9h1.2M1409.5,138.1h1.2M1412,138.1h3.8M1418.2,138.1h2.5M1407,139.4h1.2M1410.8,139.4h2.5M1415.8,139.4h2.5M1407,140.6h5M1413.2,140.6h2.5M1417,140.6h2.5M1422,140.6h1.2M1407,141.9h2.5M1410.8,141.9h1.2M1413.2,141.9h1.2M1404.5,143.1h1.2M1408.2,143.1h1.2M1394.5,144.4h1.2M1385.8,145.6h1.2M1388.2,145.6h1.2M1394.5,145.6h1.2M1380.8,146.9h5M1388.2,146.9h2.5M1393.2,146.9h1.2M1374.5,148.1h6.2M1382,148.1h3.8M1389.5,148.1h5M1395.8,148.1h1.2M1373.2,149.4h3.8M1384.5,149.4h1.2M1389.5,149.4h6.2M1370.8,150.6h3.8M1375.8,150.6h1.2M1388.2,150.6h1.2M1390.8,150.6h5M1372,151.9h1.2M1392,151.9h2.5M1367,153.1h5M1374.5,153.1h1.2M1390.8,153.1h5M1365.8,154.4h1.2M1368.2,154.4h1.2M1384.5,154.4h1.2M1390.8,154.4h1.2M1393.2,154.4h2.5M1365.8,155.6h5M1389.5,155.6h3.8M1365.8,156.9h3.8M1388.2,156.9h5M1365.8,158.1h5M1385.8,158.1h3.8M1363.2,159.4h7.5M1388.2,159.4h1.2M1367,160.6h2.5M1370.8,160.6h1.2M1373.2,160.6h1.2M1377,160.6h1.2M1384.5,160.6h3.8M1368.2,161.9h2.5M1380.8,161.9h3.8M1365.8,163.1h1.2M1368.2,163.1h6.2M1375.8,163.1h5M1370.8,164.4h1.2M1374.5,164.4h1.2M1379.5,164.4h2.5" stroke="#2bb4b0" stroke-width="1.2" fill="none"/>
<path d="M1418.2,70.6h1.2M1420.8,70.6h1.2M1423.2,70.6h3.8M1417,71.9h2.5M1420.8,71.9h1.2M1423.2,71.9h5M1415.8,73.1h2.5M1419.5,73.1h1.2M1425.8,73.1h1.2M1413.2,74.4h2.5M1425.8,74.4h2.5M1413.2,75.6h1.2M1424.5,75.6h3.8M1412,76.9h2.5M1425.8,76.9h1.2M1425.8,78.1h1.2M1409.5,79.4h2.5M1408.2,81.9h1.2M1424.5,83.1h1.2M1407,84.4h1.2M1423.2,84.4h1.2M1405.8,85.6h2.5M1422,85.6h2.5M1422,86.9h1.2M1422,88.1h1.2M1405.8,89.4h1.2M1419.5,89.4h2.5M1404.5,90.6h1.2M1419.5,90.6h2.5M1404.5,91.9h2.5M1404.5,93.1h3.8M1414.5,93.1h1.2M1418.2,93.1h2.5M1404.5,94.4h1.2M1408.2,94.4h1.2M1404.5,95.6h3.8M1415.8,95.6h2.5M1404.5,96.9h1.2M1407,96.9h2.5M1413.2,96.9h2.5M1405.8,98.1h6.2M1414.5,98.1h1.2M1407,99.4h5M1387,146.9h1.2M1380.8,148.1h1.2M1385.8,148.1h3.8M1377,149.4h5M1383.2,149.4h1.2M1385.8,149.4h3.8M1374.5,150.6h1.2M1377,150.6h3.8M1384.5,150.6h1.2M1389.5,150.6h1.2M1370.8,151.9h1.2M1373.2,151.9h6.2M1389.5,151.9h2.5M1372,153.1h2.5M1384.5,153.1h1.2M1387,153.1h3.8M1369.5,154.4h5M1388.2,154.4h2.5M1370.8,155.6h1.2M1382,155.6h1.2M1387,155.6h2.5M1369.5,156.9h2.5M1383.2,156.9h5M1370.8,158.1h1.2M1373.2,158.1h1.2M1380.8,158.1h2.5M1384.5,158.1h1.2M1370.8,159.4h1.2M1375.8,159.4h1.2M1379.5,159.4h1.2M1383.2,159.4h3.8M1369.5,160.6h1.2M1375.8,160.6h1.2M1379.5,160.6h5M1370.8,161.9h10M1374.5,163.1h1.2" stroke="#4cc35a" stroke-width="1.2" fill="none"/>
<path d="M1423.2,69.4h1.2M1422,70.6h1.2M1419.5,71.9h1.2M1422,71.9h1.2M1418.2,73.1h1.2M1423.2,73.1h1.2M1415.8,74.4h1.2M1423.2,74.4h1.2M1414.5,75.6h2.5M1410.8,78.1h2.5M1424.5,78.1h1.2M1412,79.4h1.2M1424.5,79.4h1.2M1410.8,80.6h1.2M1423.2,80.6h2.5M1409.5,81.9h1.2M1424.5,81.9h1.2M1408.2,83.1h2.5M1423.2,83.1h1.2M1408.2,84.4h1.2M1408.2,85.6h1.2M1407,86.9h1.2M1405.8,88.1h2.5M1419.5,88.1h2.5M1405.8,90.6h2.5M1417,90.6h1.2M1418.2,91.9h1.2M1413.2,93.1h1.2M1415.8,93.1h2.5M1405.8,94.4h2.5M1412,94.4h1.2M1414.5,94.4h2.5M1408.2,95.6h6.2M1409.5,96.9h2.5M1382,149.4h1.2M1380.8,150.6h3.8M1385.8,150.6h2.5M1379.5,151.9h1.2M1383.2,151.9h6.2M1375.8,153.1h3.8M1383.2,153.1h1.2M1385.8,153.1h1.2M1374.5,154.4h1.2M1382,154.4h2.5M1385.8,154.4h2.5M1372,155.6h6.2M1383.2,155.6h3.8M1373.2,156.9h1.2M1377,156.9h2.5M1380.8,156.9h2.5M1372,158.1h1.2M1375.8,158.1h1.2M1379.5,158.1h1.2M1383.2,158.1h1.2M1372,159.4h3.8M1377,159.4h2.5M1380.8,159.4h1.2M1372,160.6h1.2M1374.5,160.6h1.2M1378.2,160.6h1.2" stroke="#a8d838" stroke-width="1.2" fill="none"/>
<path d="M1420.8,73.1h2.5M1424.5,73.1h1.2M1417,74.4h1.2M1420.8,74.4h1.2M1424.5,74.4h1.2M1417,75.6h3.8M1414.5,76.9h1.2M1423.2,76.9h2.5M1413.2,78.1h1.2M1423.2,78.1h1.2M1414.5,79.4h1.2M1423.2,79.4h1.2M1410.8,81.9h1.2M1423.2,81.9h1.2M1410.8,83.1h1.2M1420.8,83.1h2.5M1409.5,84.4h1.2M1420.8,84.4h1.2M1409.5,85.6h1.2M1408.2,86.9h1.2M1420.8,86.9h1.2M1408.2,88.1h2.5M1407,89.4h1.2M1415.8,90.6h1.2M1418.2,90.6h1.2M1407,91.9h1.2M1409.5,91.9h1.2M1414.5,91.9h1.2M1417,91.9h1.2M1408.2,93.1h1.2M1410.8,93.1h1.2M1409.5,94.4h2.5M1413.2,94.4h1.2M1380.8,151.9h2.5M1379.5,153.1h3.8M1375.8,154.4h6.2M1378.2,155.6h3.8M1372,156.9h1.2M1374.5,156.9h2.5M1379.5,156.9h1.2M1374.5,158.1h1.2M1377,158.1h2.5M1382,159.4h1.2" stroke="#f3e72b" stroke-width="1.2" fill="none"/>
<path d="M1418.2,74.4h2.5M1422,74.4h1.2M1420.8,75.6h3.8M1422,76.9h1.2M1412,80.6h2.5M1422,80.6h1.2M1412,81.9h2.5M1422,81.9h1.2M1422,84.4h1.2M1412,85.6h1.2M1420.8,85.6h1.2M1418.2,86.9h1.2M1408.2,89.4h3.8M1415.8,89.4h1.2M1418.2,89.4h1.2M1408.2,90.6h3.8M1410.8,91.9h1.2M1413.2,91.9h1.2M1415.8,91.9h1.2M1409.5,93.1h1.2M1412,93.1h1.2" stroke="#fba21f" stroke-width="1.2" fill="none"/>
<path d="M1415.8,76.9h6.2M1414.5,78.1h8.8M1413.2,79.4h1.2M1415.8,79.4h7.5M1414.5,80.6h7.5M1414.5,81.9h7.5M1412,83.1h8.8M1410.8,84.4h10M1410.8,85.6h1.2M1413.2,85.6h7.5M1409.5,86.9h8.8M1419.5,86.9h1.2M1410.8,88.1h8.8M1412,89.4h3.8M1417,89.4h1.2M1412,90.6h3.8M1408.2,91.9h1.2M1412,91.9h1.2" stroke="#f0281e" stroke-width="1.2" fill="none"/>
<path d="M1488.8,82.5h1.3M1493.8,70h1.3M1487.5,78.8h1.3M1486.2,76.2h1.3M1488.8,75h1.3M1501.2,61.2h1.3M1487.5,75h1.3M1486.2,76.2h1.3M1485,80h1.3M1490,70h1.3M1495,63.8h1.3M1490,55h1.3M1491.2,75h1.3M1501.2,65h1.3M1491.2,63.8h1.3M1493.8,71.2h1.3M1491.2,70h1.3M1491.2,80h1.3M1491.2,71.2h1.3M1488.8,80h1.3M1493.8,80h1.3M1496.2,58.8h1.3M1503.8,56.2h1.3M1498.8,68.8h1.3M1490,76.2h1.3M1491.2,87.5h1.3M1496.2,61.2h1.3M1490,88.8h1.3M1486.2,90h1.3M1501.2,55h1.3M1492.5,66.2h1.3M1483.8,82.5h1.3M1488.8,67.5h1.3M1486.2,72.5h1.3M1492.5,68.8h1.3M1490,83.8h1.3M1491.2,75h1.3M1488.8,76.2h1.3M1486.2,76.2h1.3M1483.8,86.2h1.3M1490,72.5h1.3M1490,75h1.3M1491.2,68.8h1.3M1495,66.2h1.3M1488.8,78.8h1.3M1492.5,65h1.3M1502.5,61.2h1.3M1488.8,88.8h1.3" stroke="#3b3f9e" stroke-width="1.3" fill="none"/>
<polygon points="1266.7,338.3 1364.8,331.4 1420.3,362.6 1422.6,373.5 1294.5,389.4 1268,345" fill="#8c8c8c"/>
<polygon points="1296.5,380.4 1419.8,362.6 1422.6,368 1422.6,373.5 1294.5,389.4" fill="#c4c4c4"/>
<polygon points="1295.3,385.6 1422.6,369.4 1422.6,373.5 1294.5,389.4" fill="#8e8e8e"/>
<path d="M1267.3,339 L1296.8,379.6 L1418,362.2" fill="none" stroke="#f2f2f2" stroke-width="1.1"/>
<polygon points="1268.5,339.3 1364.3,332.6 1416.5,361.9 1297,379" fill="#d9d9d9"/>
<defs><pattern id="wells" width="3.2" height="3.2" patternUnits="userSpaceOnUse" patternTransform="matrix(1,-0.07,0.62,0.88,0,0)"><circle cx="1.6" cy="1.6" r="0.9" fill="#9c9c9c"/></pattern>
<linearGradient id="chipg" x1="0" y1="0" x2="1" y2="0"><stop offset="0" stop-color="#5fc3e4"/><stop offset="0.3" stop-color="#9fe0c8"/><stop offset="0.55" stop-color="#59b8e6"/><stop offset="0.8" stop-color="#7ad0f0"/><stop offset="1" stop-color="#4a9fd8"/></linearGradient>
<linearGradient id="waferg" x1="0" y1="0" x2="1" y2="0"><stop offset="0" stop-color="#9ec4d0"/><stop offset="0.25" stop-color="#4fb3e0"/><stop offset="0.55" stop-color="#5fc8d8"/><stop offset="0.8" stop-color="#a5d8b8"/><stop offset="1" stop-color="#b9cfc0"/></linearGradient>
<linearGradient id="coneg" x1="0" y1="0" x2="1" y2="0"><stop offset="0" stop-color="#7c7c7c"/><stop offset="0.45" stop-color="#c9c9c9"/><stop offset="1" stop-color="#888"/></linearGradient>
<pattern id="dies" width="9.4" height="5.4" patternUnits="userSpaceOnUse" patternTransform="matrix(1,-0.12,0.5,0.9,0,0)"><ellipse cx="4.7" cy="2.7" rx="3.5" ry="1.9" fill="#2a7aa5" opacity="0.62"/></pattern></defs>
<polygon points="1270.5,340.2 1363.8,333.6 1413,361.6 1298,377.6" fill="url(#wells)"/>
<polygon points="1469.8,369 1588.7,335.2 1623.5,347.6 1501.5,398.4" fill="url(#chipg)"/>
<polygon points="1469.8,369 1484,365 1490,388.5 1501.5,398.4" fill="#3a3a3a"/>
<polygon points="1588.7,335.2 1623.5,347.6 1610,353.2 1602,341" fill="#3a3a3a"/>
<polygon points="1469.8,369 1501.5,398.4 1623.5,347.6 1623.6,349.4 1501.8,400.8 1469.6,371" fill="#4a4a4a"/>
<path d="M1469.8,369 L1588.7,335.2 L1623.5,347.6" fill="none" stroke="#555" stroke-width="0.8"/>
<path d="M1481,375 L1489,368.5 L1592,339.5" fill="none" stroke="#1d3b55" stroke-width="0.7"/>
<path d="M1483.3,376.5 L1491.2,371.7 L1594.3,341.2" fill="none" stroke="#1d3b55" stroke-width="0.7"/>
<path d="M1485.7,378 L1493.3,374.8 L1596.7,343" fill="none" stroke="#1d3b55" stroke-width="0.7"/>
<path d="M1488,379.5 L1495.5,378 L1599,344.8" fill="none" stroke="#1d3b55" stroke-width="0.7"/>
<path d="M1487.7,381 L1497.7,381.2 L1601.3,346.5" fill="none" stroke="#1d3b55" stroke-width="0.7"/>
<path d="M1487.3,382.5 L1499.8,384.3 L1603.7,348.2" fill="none" stroke="#1d3b55" stroke-width="0.7"/>
<path d="M1487,384 L1502,387.5 L1606,350" fill="none" stroke="#1d3b55" stroke-width="0.7"/>
<path d="M1480.2,329.5 L1551,362.4 L1588,316.5 Z" fill="url(#coneg)" opacity="0.9"/>
<path d="M1492,346 L1551,362.4 L1580,340 Z" fill="#3a5a6a" opacity="0.4"/>
<ellipse cx="1534.2" cy="324" rx="54.5" ry="19.3" fill="url(#waferg)" stroke="#d5d5d5" stroke-width="1.2" transform="rotate(-7.5 1534.2 324)"/>
<ellipse cx="1534.2" cy="324" rx="51" ry="17" fill="url(#dies)" transform="rotate(-7.5 1534.2 324)"/>
<text x="1280.2" y="434.4" font-size="27" textLength="292.9" lengthAdjust="spacingAndGlyphs">FANS and snmC-seq2</text>
<line x1="1606" y1="247.9" x2="1731.5" y2="247.9" stroke="#000" stroke-width="2.2"/>
<polygon points="1739.5,247.9 1724.5,241.9 1728.5,247.9 1724.5,253.9" fill="#000"/>
<line x1="1802" y1="54.7" x2="1802" y2="311.7" stroke="#000" stroke-width="2"/>
<line x1="1801" y1="310.7" x2="2057" y2="310.7" stroke="#000" stroke-width="2"/>
<circle cx="1944.6" cy="32.6" r="6.9" fill="#2878b5"/>
<circle cx="1944.6" cy="71.3" r="6.9" fill="#f58220"/>
<text x="1964.1" y="42.8" font-size="23.5" textLength="122.1" lengthAdjust="spacingAndGlyphs"><tspan font-family="NanumGothic, sans-serif">→</tspan>Target_1</text>
<text x="1964.1" y="81.5" font-size="23.5" textLength="123.1" lengthAdjust="spacingAndGlyphs"><tspan font-family="NanumGothic, sans-serif">→</tspan>Target_2</text>
<text transform="translate(1777.5,179.6) rotate(-90)" x="-36.2" y="0" font-size="23.5" textLength="72.3" lengthAdjust="spacingAndGlyphs">Dim-2</text>
<text x="1891.3" y="342" font-size="23.5" textLength="75.3" lengthAdjust="spacingAndGlyphs">Dim-1</text>
<text x="1764" y="398.8" font-size="27" textLength="305.8" lengthAdjust="spacingAndGlyphs">Computational analysis</text>
<path d="M1846.3,117.3h2.9M1855,102.6h2.9M1849.4,105.4h2.9M1843,115.8h2.9M1854.2,107.1h2.9M1851.9,89.9h2.9M1851.7,125.8h2.9M1875.5,108.9h2.9" stroke="#2878b5" stroke-width="2.9" fill="none"/>
<path d="M1851.8,91.6h2.9M1848.9,103.8h2.9M1833.7,115.8h2.9M1848.5,79.4h2.9M1853.8,86.2h2.9M1838.6,113.6h2.9M1841,104h2.9M1847.7,106.7h2.9M1875.1,96.1h2.9M1871.7,118.9h2.9M1843.6,120.5h2.9M1850.9,85h2.9M1873.2,87.1h2.9M1855.9,126.2h2.9M1853,102.2h2.9M1861.3,86.8h2.9M1859.7,109.7h2.9M1845.8,116.4h2.9M1864.3,114.8h2.9M1864.1,113.9h2.9M1861,114.3h2.9M1841.6,109.1h2.9M1869,114.2h2.9M1860,119.4h2.9M1874,106h2.9M1822.9,95.6h2.9M1861.7,115.4h2.9M1851.3,105.2h2.9M1868.5,120.8h2.9M1868.9,92h2.9M1849.3,105.2h2.9M1882.9,109.1h2.9M1868.8,94.2h2.9M1852,104.3h2.9M1870.5,96.6h2.9M1868.6,111.8h2.9M1874.6,97.1h2.9M1843.2,74.3h2.9M1843.6,100.4h2.9M1856.2,127.7h2.9M1858.5,106.6h2.9M1869.4,97.6h2.9M1844.5,95.8h2.9M1847.3,107.4h2.9M1876.7,108.5h2.9M1863.4,104.7h2.9M1860.3,84.9h2.9M1858.3,111.1h2.9M1857.8,97.5h2.9M1855.4,124.7h2.9M1859.7,91.7h2.9M1853,82.5h2.9M1880.4,120.5h2.9M1845.3,110.5h2.9M1852.8,110.7h2.9M1856.7,88.3h2.9M1857.5,97.5h2.9M1870.8,113.4h2.9M1847.6,123.9h2.9M1817.6,88.7h2.9M1853.9,101h2.9M1851.1,89.1h2.9M1849.7,101.4h2.9M1882.4,119.7h2.9M1874.7,87.8h2.9M1857.9,115.3h2.9M1851.3,131h2.9M1863,102.1h2.9M1866.1,121.5h2.9M1852.7,128.6h2.9M1858.5,95.1h2.9M1863,103.7h2.9M1859.6,103.9h2.9M1856.2,125.6h2.9M1838.1,99.1h2.9M1871.5,113.5h2.9M1861.4,104.7h2.9M1892.3,109.2h2.9M1845.1,116.1h2.9M1855.8,133.8h2.9M1860.9,98.5h2.9M1865.4,129.5h2.9M1856.5,118.4h2.9M1851.3,109.4h2.9M1859.3,89.6h2.9M1857.6,121.1h2.9M1875.9,99.4h2.9M1841,114.9h2.9M1851.7,111h2.9M1871.2,96.7h2.9M1867.5,135.1h2.9M1866.7,107.3h2.9M1850.9,107.5h2.9M1861.7,105.9h2.9M1855.9,103.7h2.9M1880.5,132.2h2.9M1842.1,110h2.9M1881.2,92.9h2.9M1844,91.9h2.9M1862.6,93.5h2.9M1845.2,117.9h2.9M1850.8,122h2.9M1854.1,113.5h2.9M1857.7,110.6h2.9M1868,104.5h2.9M1847.9,106h2.9M1836.1,105.5h2.9M1857.9,90h2.9M1872.4,115.6h2.9M1842.2,80.9h2.9M1874.5,97.8h2.9M1859.4,115.2h2.9M1876.5,117.5h2.9M1851.3,83.8h2.9M1843.1,98.2h2.9M1859.3,81.7h2.9M1869.3,89.7h2.9M1874,89.5h2.9M1828.3,107.8h2.9M1846.2,110.2h2.9M1854.6,106.8h2.9M1859.8,109h2.9M1875.3,98.8h2.9M1858.1,134h2.9M1850.4,128h2.9M1863.4,102.1h2.9M1865.8,112.9h2.9M1886.7,100.5h2.9M1854.4,117.2h2.9M1864.5,101.6h2.9M1835.8,114.1h2.9M1846.1,109.2h2.9M1846.2,92.1h2.9M1853.8,110.6h2.9M1872.3,103.6h2.9M1825.8,101.6h2.9M1889.2,123.1h2.9M1859.2,95.6h2.9M1833.9,113.3h2.9M1861.1,115.5h2.9M1871.5,111.9h2.9M1880.8,109.3h2.9M1870.4,97.1h2.9M1867,119.7h2.9M1860.4,93.5h2.9M1882.7,105.9h2.9M1845.6,95.8h2.9M1848.7,117.1h2.9M1869.9,117.8h2.9M1844.2,106h2.9M1872.5,101.2h2.9M1826.4,100h2.9M1852.5,129.1h2.9M1880.9,113.8h2.9M1865.3,102.3h2.9M1857,119.9h2.9M1863.6,120.9h2.9M1853.2,120.6h2.9M1845.1,110.9h2.9M1851.7,90.1h2.9M1860.7,73.4h2.9M1836.1,95.2h2.9M1858.7,104.5h2.9M1850.9,106.5h2.9M1848.7,96.4h2.9M1862.2,113.1h2.9M1858,114.2h2.9M1847,116.2h2.9M1847.6,117.7h2.9M1869.9,120.1h2.9M1850.2,94.4h2.9M1879.7,102.5h2.9M1849.1,103.4h2.9M1868.9,84.6h2.9M1853.5,86h2.9M1861.7,102h2.9M1872.3,115.4h2.9M1854.7,98.7h2.9M1887.8,97.7h2.9M1856.4,119.1h2.9M1847.8,128.6h2.9M1861.5,106.5h2.9M1863.2,104.2h2.9M1837.1,92.4h2.9M1843.4,106.7h2.9M1865.4,114h2.9M1846.4,127.2h2.9M1848.6,107.7h2.9M1838.3,130.4h2.9M1851.9,105.7h2.9M1846,95.6h2.9M1868,111.1h2.9M1851.5,117.7h2.9M1845.8,94.8h2.9M1852.4,104.3h2.9M1847.5,88.8h2.9M1860,101.8h2.9M1831.4,108h2.9M1859,110.8h2.9M1854.4,115h2.9M1852,93.4h2.9M1848.3,107.9h2.9M1873.2,124.9h2.9M1866.5,98.9h2.9M1855.4,103.6h2.9M1859,110.1h2.9M1847.4,113.7h2.9M1853.1,105.5h2.9M1868.9,106.6h2.9M1870.5,91.2h2.9M1871.6,125h2.9M1864.3,97.4h2.9M1845.3,109.2h2.9M1837.5,111.2h2.9M1882.8,116.6h2.9M1858.4,100.1h2.9M1869,110.8h2.9M1874.3,124.1h2.9M1858.9,119.4h2.9M1869.3,123.7h2.9M1859.4,104h2.9M1853.5,110.4h2.9M1872.7,94.7h2.9M1862.6,104.5h2.9M1859,107.8h2.9M1840.9,96.2h2.9M1859.4,62.6h2.9M1867.4,88.8h2.9M1836.3,117.8h2.9M1886.2,112.6h2.9M1870.4,93.7h2.9M1842.9,115.2h2.9M1862.3,105.2h2.9M1867.2,111.4h2.9M1891.9,119h2.9M1863.3,112.7h2.9M1868.4,106.5h2.9M1860.1,123.9h2.9M1853.7,105.8h2.9M1850,81.2h2.9M1856.5,100.1h2.9M1868.2,106h2.9M1873.9,106.2h2.9M1853.1,85.5h2.9M1842.7,101.7h2.9M1848.3,114h2.9M1858.1,109.3h2.9M1870.4,104.7h2.9M1859.9,107.7h2.9M1864.2,100h2.9M1843.7,115h2.9M1864.1,108.4h2.9M1859.3,106.5h2.9M1862.9,121.1h2.9M1842,100.6h2.9M1836.4,118.5h2.9M1853.1,101.4h2.9M1846.3,93.6h2.9M1872.9,102.9h2.9M1854.1,108h2.9" stroke="#f58220" stroke-width="2.9" fill="none"/>
<path d="M1984.5,179.3h2.9M1994.8,203h2.9M2001.6,179.9h2.9M2022.8,203.8h2.9M1993.9,175.4h2.9M2012.1,187.8h2.9M1998.4,169h2.9M1994.7,193.6h2.9M2011,201.2h2.9M2014.8,167.1h2.9M2016.2,172.4h2.9M2015.9,188.7h2.9M1997.4,177.6h2.9M1997.4,182.4h2.9M1990.7,184h2.9M2012.3,185h2.9M2014.7,182.7h2.9M1999.7,189h2.9M2012.9,186.5h2.9M2011,187.9h2.9M2002.6,181.4h2.9M1984.6,197.9h2.9M2000.7,173.2h2.9M2017.5,164.7h2.9M2004,196.9h2.9M1992.9,164h2.9M2019.1,194.8h2.9M2000.6,182.4h2.9M2005.9,178.8h2.9M2025.7,193.6h2.9M1980.8,182.4h2.9M2003.9,196.7h2.9M2015.4,183.5h2.9M2012.2,194.5h2.9M2026.3,154.5h2.9M1992.4,200.2h2.9M2012.4,185.9h2.9M2003.9,174.2h2.9M2024.7,197.8h2.9M1987.7,176h2.9M1997.2,181.5h2.9M1997.3,176.6h2.9M2021.2,178.2h2.9M2000.2,213.1h2.9M2032,179.5h2.9M2025.2,166.4h2.9M1987.9,190.5h2.9M1986.6,187.8h2.9M2018.9,195.6h2.9M2010.5,195.7h2.9M2004.2,182.5h2.9M2016.3,200.4h2.9M2031.5,201.3h2.9M1998.4,186.1h2.9M2015.2,198.1h2.9M2011.8,193.2h2.9M2037.2,183.4h2.9M2005.3,181.2h2.9M2024.6,195.5h2.9M2016.3,177.2h2.9M2027.1,177.5h2.9M2030.6,194.6h2.9M2022.5,180.3h2.9M2012,190.2h2.9M2009,189.6h2.9M1979.1,190.7h2.9M2014.6,172.4h2.9M2013.7,177.1h2.9M2016.6,184.2h2.9M1978,201.6h2.9M2027.8,173.7h2.9M2008.3,175.9h2.9M1996.1,171.1h2.9M2011.6,174.8h2.9M2002.1,187.3h2.9M1998.6,186.2h2.9M2012.6,200.8h2.9M2005.2,196h2.9M1992.5,203.6h2.9M2006,193h2.9M2008.3,163.5h2.9M2017.1,184.8h2.9M2000.6,198.1h2.9M2034.9,174.4h2.9M2013.5,166.4h2.9M2003.2,171.1h2.9M1993.4,186.5h2.9M2015.9,193.7h2.9M2004.5,179.4h2.9M2029.3,172.8h2.9M1976.4,196.1h2.9M2009.3,197.7h2.9M1991.8,162h2.9M2034.5,187.5h2.9M1999.9,192.8h2.9M2001.7,184.3h2.9M2002.2,185.4h2.9M2006.3,189.3h2.9M2011.6,178.5h2.9M2002,185.6h2.9M2013.7,155.5h2.9M2011.1,188.9h2.9M2014.3,196.8h2.9M2016.9,170.3h2.9M2022.8,186.6h2.9M2001,177.5h2.9M2026.9,170.5h2.9M1976.4,185.9h2.9M2013.1,195.7h2.9M1997.5,178.8h2.9M2028.4,183.8h2.9M2005.9,193.9h2.9M2020.5,170.9h2.9M1969.2,174.9h2.9M1995.6,178.8h2.9M2001.3,200h2.9M1981.3,173.2h2.9M2016.1,210.6h2.9M2023.5,179h2.9M1996.2,198.8h2.9M2003.4,180.5h2.9M1983.7,180.2h2.9M2035,189.9h2.9M2003.9,181.5h2.9M2031.8,172.5h2.9M1992.7,179.8h2.9M1994.4,186.9h2.9M2010.6,194.2h2.9M2016.5,177.6h2.9M1998.7,182.4h2.9M2021,180.5h2.9M1981.5,187.6h2.9M2009.8,189.4h2.9M2004.4,176.4h2.9M2001.7,166.9h2.9M2042.5,175.4h2.9M2002.4,189.1h2.9M2004.9,193h2.9M2003.7,178.8h2.9M1976.3,193.5h2.9M2001.1,179.3h2.9M1997.5,185.1h2.9M2005.3,194.6h2.9M1984,178.2h2.9M2001.7,215.2h2.9M2009.6,196.7h2.9M2040.6,157.1h2.9M1995.3,171.6h2.9M2010.5,185h2.9M2021.8,186.2h2.9M2023.9,190.4h2.9M2019.7,215.9h2.9M2007.2,190.2h2.9M2009.1,180.3h2.9M2006.6,187.5h2.9M2016,200.7h2.9M2034.7,179.2h2.9M2011,181.2h2.9M1996.7,177.3h2.9M2001.1,182.8h2.9M2001.4,169.6h2.9M1989.1,183.4h2.9M1994.6,185.2h2.9M2000,180h2.9M2029,180.4h2.9M2011.7,176.5h2.9M2027.5,216.9h2.9M2013.9,167.3h2.9M1980.9,171.9h2.9M2011.2,179.7h2.9M2016.1,203h2.9M2011.3,198.2h2.9M2012.7,184h2.9M1997.3,201.9h2.9M2000,175h2.9M2007.5,166.7h2.9M2022.9,163.9h2.9M1987.8,180.3h2.9M2003.7,199.8h2.9M2000.5,169.1h2.9M2028.2,175h2.9M2013.8,193h2.9M2008.6,187h2.9M2017.8,201.2h2.9M2005.2,217.3h2.9M1992.4,179.5h2.9M2022,174.2h2.9M1987,194.8h2.9M1957.3,158.1h2.9M1994.4,185.2h2.9M2004.5,201.9h2.9M2003.4,167.8h2.9M1999.5,145.1h2.9M2011.3,204.4h2.9M2001,164.9h2.9M1984.5,169.8h2.9M2016,187.5h2.9M2005.4,208h2.9M2021.9,181h2.9M2006.4,175.6h2.9M1991.7,195.6h2.9M1993.4,181.3h2.9M2018.2,179.9h2.9M1994.4,186.9h2.9M2013.7,182h2.9M2011.6,175.5h2.9M2011.5,178h2.9M2013.6,181.6h2.9M2003.7,194.6h2.9M1989.9,189.2h2.9M1993.7,184.1h2.9M2037.4,183.7h2.9M1997.6,205.2h2.9M1992.4,190.4h2.9M2006,177.7h2.9M2008,187.5h2.9M2022.4,191h2.9M2032.6,186.2h2.9M2007,187h2.9M2005.8,178.6h2.9M2019.1,185.7h2.9M2000.4,193.1h2.9M1984.4,182.9h2.9M2016.2,187.3h2.9M2005.7,176h2.9M2003.7,167h2.9M2005.1,201.1h2.9M2012.9,174.8h2.9M2023.1,174.1h2.9M2001.4,183.2h2.9M2004.6,186.3h2.9M2001.1,185.2h2.9M2026.1,190.5h2.9M2008.5,178.7h2.9M2017.7,192h2.9M2003.6,187.4h2.9M2008.8,192.1h2.9M2013.5,190.6h2.9M2008.3,182.4h2.9M1969.9,182.5h2.9M2032.4,195.1h2.9M2025.4,181.7h2.9M1994.1,181.7h2.9M2031.3,190.4h2.9M1997,187.7h2.9M2019.3,185.3h2.9M2012.6,180.9h2.9M2025.3,192.9h2.9M1991.9,184.7h2.9M2017.7,169.5h2.9" stroke="#2878b5" stroke-width="2.9" fill="none"/>
<path d="M2021.7,189.5h2.9M2007.2,173.2h2.9M2013.9,181.2h2.9M2012.2,180.9h2.9M2013.8,210.1h2.9M2004.9,197.7h2.9M2018,188.1h2.9M2023.6,159.9h2.9M2011.9,194.7h2.9M2012.7,193.6h2.9M2018.6,181.7h2.9M1986.8,176h2.9M2012.1,182h2.9M2000.6,197.7h2.9M2015.1,183.1h2.9M1990.8,173.6h2.9M1995.2,177.8h2.9M2029,182.2h2.9M2009.4,160h2.9M1999.3,197.1h2.9M1998.9,181.4h2.9M2022.1,149.7h2.9" stroke="#f58220" stroke-width="2.9" fill="none"/>
<path d="M1856.2,271.2h2.9M1864,274.2h2.9M1861.4,272h2.9M1869.3,242.1h2.9M1840.5,255.4h2.9M1870.6,269.9h2.9M1858.9,288.4h2.9M1879.2,283.6h2.9M1851.7,262.6h2.9M1860.9,252.3h2.9M1864.4,270.2h2.9M1867.1,253.1h2.9M1866.2,264.1h2.9M1867.6,245.2h2.9M1835.6,277.5h2.9M1882.4,282.2h2.9M1874.1,276h2.9M1878.3,246.3h2.9M1878.6,248h2.9M1857.9,268.6h2.9M1843.4,256.7h2.9M1863.7,274.3h2.9M1852.7,266.1h2.9M1851.7,255.4h2.9M1887.9,251.1h2.9M1861.1,274.9h2.9M1871.3,260h2.9M1835.9,271.2h2.9M1841.6,272.7h2.9M1874.6,265.8h2.9M1866.1,275.4h2.9M1877.8,254.6h2.9M1854.9,270.9h2.9M1878.7,261.6h2.9M1867.9,278.5h2.9M1868.4,256.3h2.9M1868.3,288.1h2.9M1851.7,270.1h2.9M1858.2,255.3h2.9M1853.5,273.5h2.9M1856.1,270.4h2.9M1842.2,273.9h2.9M1879,238.9h2.9M1850.1,277.7h2.9M1839.6,289h2.9M1852.3,271.3h2.9M1862.2,245.4h2.9M1850.7,266h2.9M1859.2,253.5h2.9M1842.4,276.4h2.9M1852.4,267h2.9M1844.6,242.9h2.9M1855.7,278.3h2.9M1883.6,266.6h2.9M1862.7,255.5h2.9M1860.3,242h2.9M1870.3,244.2h2.9M1876.1,269.1h2.9M1837.5,253.9h2.9M1859.8,250.9h2.9" stroke="#2878b5" stroke-width="2.9" fill="none"/>
<path d="M1868.2,280.3h2.9M1817.7,272.8h2.9M1839.9,277.5h2.9M1863.6,261h2.9M1871.1,260.4h2.9M1854.7,271.6h2.9M1853.2,261.4h2.9M1871.3,277.6h2.9M1872.2,258.8h2.9M1895.9,270.1h2.9M1850.7,253.9h2.9M1882.9,263.2h2.9M1877.7,263.6h2.9M1861,269.7h2.9M1880.4,268.8h2.9M1857.2,275.8h2.9M1870.1,258.4h2.9M1869.2,264.4h2.9M1862.1,256.4h2.9M1873.9,264.4h2.9M1876,259.6h2.9M1835.7,268.9h2.9M1851.1,276.4h2.9M1883.3,249h2.9M1876.4,268.1h2.9M1841.5,267.3h2.9M1852.8,270.6h2.9M1864.3,274.2h2.9M1864.9,269.8h2.9M1872.7,272.6h2.9M1834.6,260.4h2.9M1882.5,259h2.9M1854,274.3h2.9M1876.3,249h2.9M1874.5,276h2.9M1837.1,265h2.9M1862,262.1h2.9M1872.3,294.1h2.9M1862.4,253.4h2.9M1870.8,248.1h2.9M1865.6,263.7h2.9M1896.7,251.2h2.9M1869.5,260.5h2.9M1864.4,277.6h2.9M1873.7,223.9h2.9M1845.2,261.2h2.9M1896.5,259h2.9M1855.9,257.7h2.9M1852.2,279.9h2.9M1846.6,272.6h2.9M1860.9,289.2h2.9M1859.9,274.4h2.9M1864.8,239.1h2.9M1820,241.7h2.9M1859,265.8h2.9M1829.4,295.5h2.9M1857.5,258.9h2.9M1875.2,238h2.9M1869.9,261.3h2.9M1874.9,254.7h2.9M1856.8,286.3h2.9M1874.5,253.5h2.9M1841.5,277.3h2.9M1862.7,235h2.9M1870.3,263.8h2.9M1847.9,267.7h2.9M1877.4,278.4h2.9M1866.1,287.4h2.9M1868.5,247.1h2.9M1857.6,266.8h2.9M1844.8,251h2.9M1857.2,287.9h2.9M1836.5,267.4h2.9M1842.2,262.8h2.9M1843.3,271.8h2.9M1856.2,271.2h2.9M1849.9,247h2.9M1858.7,264.1h2.9M1854.3,258.8h2.9M1836,252.1h2.9" stroke="#f58220" stroke-width="2.9" fill="none"/>
<path d="M1832.7,259.2h2.9M1836.2,293.3h2.9M1857.2,276.7h2.9M1869,258.1h2.9M1878.5,269.9h2.9M1853.2,259.6h2.9M1861.3,269.8h2.9M1841.2,280.4h2.9M1857.1,267.4h2.9M1836.7,235.1h2.9M1837.9,282.3h2.9M1875.3,255.6h2.9M1871.7,271.6h2.9M1857.3,260.5h2.9M1851.2,251.6h2.9M1852.6,268.3h2.9M1853,271.8h2.9M1887.2,292.1h2.9M1857.8,264.1h2.9M1861.7,278.3h2.9M1842.3,259.5h2.9M1864.7,254.2h2.9M1853.5,241.7h2.9M1854.6,267.9h2.9M1835.1,254.4h2.9M1865.7,258.9h2.9M1885.5,267.5h2.9M1878,273.8h2.9M1878.8,288.7h2.9M1856,279h2.9M1842.8,260.1h2.9M1858.8,249.8h2.9M1849.9,245.8h2.9M1841.9,259.6h2.9M1874.8,275h2.9M1835.5,268.1h2.9M1865.4,247.7h2.9M1822.5,252.3h2.9M1874.7,272.9h2.9M1856.2,265.2h2.9M1853.2,271.6h2.9M1836.5,283.5h2.9M1861.8,259.2h2.9M1893.1,257.1h2.9M1866.6,256.9h2.9M1852.7,285.2h2.9M1855.9,266.4h2.9M1843.1,257.7h2.9M1864,272.8h2.9M1847.1,251.1h2.9" stroke="#2878b5" stroke-width="2.9" fill="none"/>
<path d="M1853.4,244h2.9M1863.2,251.9h2.9M1851.5,272.9h2.9M1859.1,259.3h2.9M1854.8,281.9h2.9M1839.9,244.8h2.9M1868.5,259.3h2.9M1871.2,259.7h2.9M1833.6,260.6h2.9M1889.7,278.6h2.9M1855.2,275.5h2.9M1850,265.8h2.9M1878.2,267.8h2.9M1880.5,271.8h2.9M1849.4,262.9h2.9M1887.5,266.5h2.9M1862.8,273.1h2.9M1869.7,278.9h2.9M1859,256h2.9M1851.5,252.7h2.9M1865.3,255.5h2.9M1860.2,245.1h2.9M1844,281.5h2.9M1862.4,279.7h2.9M1850.8,252.6h2.9M1863.8,276.3h2.9M1839.8,275.9h2.9M1858.5,257.4h2.9M1863.7,265h2.9M1862.4,266.1h2.9M1854,244.9h2.9M1886,273.6h2.9M1870.7,263.6h2.9M1877,261.2h2.9M1855.2,260.6h2.9M1861.4,277.1h2.9M1879.2,263.2h2.9M1849.2,261.1h2.9M1861.6,259.4h2.9M1839,269.6h2.9M1870.2,254.7h2.9M1881.2,266.8h2.9M1856.9,252.4h2.9M1854.1,285.9h2.9M1882.4,290.5h2.9M1875.5,269.8h2.9M1865.6,268.8h2.9M1865.2,269.6h2.9M1877.9,269.7h2.9M1858.3,276h2.9M1890.6,260.3h2.9M1863.1,280.3h2.9M1862.3,257.8h2.9M1863.8,284.7h2.9M1885.3,279.5h2.9M1865.3,271.9h2.9M1843,262.7h2.9M1861.2,258.8h2.9M1853.3,293.6h2.9M1859.2,280.3h2.9M1901.9,271.1h2.9M1849.4,265.8h2.9M1836.7,276.2h2.9M1849.1,272.5h2.9M1831.4,269.5h2.9M1848.6,283.1h2.9M1860.8,271.1h2.9M1865.6,259h2.9M1858.3,259.3h2.9M1858.4,241.2h2.9" stroke="#f58220" stroke-width="2.9" fill="none"/>
<text x="13" y="511.4" font-size="31" class="b" textLength="21" lengthAdjust="spacingAndGlyphs">b</text>
<text x="199.8" y="500.7" font-size="27" textLength="120.3" lengthAdjust="spacingAndGlyphs">Subclass</text>
<line x1="52.7" y1="512.6" x2="52.7" y2="832.4" stroke="#000" stroke-width="2"/>
<line x1="51.7" y1="831.4" x2="462.6" y2="831.4" stroke="#000" stroke-width="2"/>
<text transform="translate(37,658) rotate(-90)" x="-52.9" y="0" font-size="27" textLength="105.7" lengthAdjust="spacingAndGlyphs"><tspan class="i">t</tspan>-SNE-2</text>
<text x="223.2" y="865" font-size="27" textLength="104.8" lengthAdjust="spacingAndGlyphs"><tspan class="i">t</tspan>-SNE-1</text>
<g transform="scale(0.5)" fill="none" stroke-linecap="round" stroke-width="5.8" opacity="1">
<path d="M875 1387h0m-95 0h0m14 15h0m3-2h0m9 12h0m30 1h0m7-1h0m1-5h0m4 1h0m5-14h0m2-2h0m2 8h0m0-2h0m3-2h0m1 9h0m4-4h0m1-4h0m1-4h0m0 4h0m3-3h0m2 11h0m0-9h0m3 1h0m1 0h0m2 7h0m1 1h0m3-2h0m2-5h0m-45 25h0m-12 1h0" stroke="#1a237e"/>
<path d="M437 1396h0m-73 65h0m8-10h0m64 36h0m-19-7h0m-3 0h0m-6 6h0m-3-9h0m-13-1h0m-11 8h0m-19-7h0m-30 14h0m9 6h0m2 1h0m23 7h0m14-15h0m2 5h0m24-6h0m0 18h0m8-11h0m6 14h0m4-11h0m1 5h0m8-4h0m2 9h0m1 2h0m3-9h0m2-6h0m5 5h0m10 9h0m13 21h0m-1-3h0m-9-16h0m-4 22h0m-17-22h0m0 2h0m-27 11h0m-5 5h0m-2-13h0m-2 11h0m-2-8h0m-1 8h0m-21-1h0m-5-13h0m-4 12h0m-7 9h0m-14-17h0m-10 10h0m0-4h0m-3 4h0m0-9h0m-4 6h0m0-10h0m-2 16h0m-1-7h0m-1-11h0m-10 22h0m-4 0h0m-3-14h0m-8 32h0m5-10h0m10 9h0m8 1h0m6-6h0m3-7h0m1 0h0m4-4h0m1 11h0m1-1h0m1 5h0m3 7h0m7-16h0m4 13h0m0-13h0m8-3h0m6 0h0m7 7h0m7 8h0m3-17h0m1 19h0m2-1h0m2 2h0m2-15h0m1 3h0m5 1h0m1-10h0m0 6h0m1-1h0m2-4h0m2 12h0m3-2h0m8 12h0m11-4h0m3 3h0m2-4h0m17-13h0m15 18h0m8-22h0m-4 32h0m-1-5h0m0-1h0m-11 5h0m-1 8h0m-2-8h0m-7-7h0m-8 15h0m-2 2h0m-4-6h0m0-7h0m-1 11h0m-3-10h0m-12 7h0m-4 0h0m-2 2h0m-5-4h0m-6-10h0m-2 12h0m-2 2h0m-1 5h0m-10-12h0m-1-3h0m-1 9h0m-4-13h0m0 19h0m-2 3h0m-1-1h0m-21-16h0m-1-3h0m-2-2h0m-7 6h0m-2-2h0m-7-5h0m-1 22h0m-3-8h0m0 8h0m-5 0h0m-3-2h0m-8-6h0m0 3h0m-2 1h0m-1-8h0m-2 2h0m-5-5h0m2 19h0m7 14h0m0-13h0m2 16h0m5-17h0m11 3h0m10-1h0m10 9h0m5-4h0m1 9h0m3 0h0m1-6h0m1-12h0m2 4h0m2 11h0m3 8h0m2-12h0m2-8h0m8-1h0m1 0h0m2 3h0m12 12h0m3-15h0m1 20h0m13-6h0m2-9h0m2 4h0m5-8h0m2-3h0m0 19h0m1-18h0m5 16h0m4-4h0m1-3h0m2-8h0m1 13h0m3 7h0m5-18h0m4 3h0m2 0h0m0-7h0m9 6h0m-36 29h0m-8 2h0m-2-12h0m-4 15h0m-8-3h0m-5-8h0m-2 2h0m-1 7h0m-1-2h0m0 1h0m-7 6h0m-2-19h0m-5 12h0m-5-1h0m-2-6h0m-1-1h0m0-1h0m-2 15h0m-1-17h0m-1 4h0m-4-4h0m-5 17h0m-7-14h0" stroke="#27ae60"/>
<path d="M245 1337h0m-38 2h0m-15-5h0m-22 1h0m-6-1h0m-1 4h0m-7-12h0m-1 14h0m-1 6h0m3 4h0m9 12h0m7-6h0m0-6h0m1 8h0m3 6h0m6-9h0m3-1h0m0 8h0m1-9h0m5 0h0m1 7h0m0 0h0m2-8h0m3-6h0m3 15h0m0-12h0m7 13h0m1-7h0m1-2h0m1-6h0m1 3h0m-7 34h0m-17-2h0m-7-5h0m-4 0h0m-3 8h0m-1 9h0m4 7h0m1-3h0m9 2h0m2-7h0m5-1h0m7 8h0" stroke="#3498db"/>
<path d="M173 1450h0m7 1h0m1 1h0m4 3h0m2-2h0m4-4h0m2-2h0m3 2h0" stroke="#6d4c41"/>
<path d="M520 1077h0m20 1h0m2-2h0m3-2h0m3-5h0m0 8h0m2 0h0m1 0h0m3-7h0m1 0h0m1 6h0m11-10h0m1 10h0m0-3h0m0-4h0m0-4h0m3-2h0m16 8h0m135 28h0m-1 2h0m-5 2h0m-1-2h0m-3-7h0m-4 5h0m-5-6h0m-2 1h0m0 0h0m-1 5h0m-4 1h0m-6 0h0m-2 0h0m-10-5h0m-6-4h0m-1 0h0m-2 11h0m0-13h0m-2 6h0m0-2h0m-6-2h0m-1-6h0m-5 0h0m0 11h0m-5 2h0m-3-1h0m-1-5h0m0 3h0m-3 1h0m0-2h0m-52-10h0m-4 0h0m-3 5h0m-1-6h0m-4 9h0m0 9h0m-4-7h0m-3-3h0m-5 2h0m0-12h0m-2 14h0m0 7h0m-1-7h0m-1 6h0m-4-19h0m-2 10h0m-1-3h0m0 7h0m-1-5h0m-1 0h0m-1-9h0m0 13h0m-5-3h0m0-5h0m-2 3h0m0 9h0m-2-11h0m-4-1h0m-2-2h0m-1 6h0m-8-9h0m-6 15h0m-2 4h0m-7-10h0m-61 10h0m-4-3h0m-3-2h0m0 1h0m0 1h0m-1 3h0m-4-4h0m-7 6h0m-3-2h0m-1 15h0m1-2h0m1-6h0m1 9h0m12-13h0m1 0h0m2 3h0m2-2h0m73 1h0m7 8h0m3-4h0m17-4h0m5 16h0m0-14h0m6 19h0m7-1h0m6-8h0m1 6h0m1-9h0m7-7h0m86-4h0m15 6h0m3 12h0m3 5h0m2-9h0m2-14h0m1 8h0m0-3h0m2 11h0m2 7h0m2-4h0m1-7h0m1-9h0m1 1h0m3 9h0m1-4h0m1-6h0m1 13h0m5-5h0m0 1h0m2-5h0m1-2h0m2-4h0m-23 39h0m-1 5h0m-4-7h0m-1 6h0m-1-16h0m-1-1h0m-5 19h0m-4-7h0m-23 8h0m-14-3h0m-5-2h0m-3-5h0m-2 6h0m-3 4h0m-18 0h0m-1-3h0m-6-4h0m-3-3h0m-3 5h0m-7-9h0m-1 8h0m0 1h0m0 0h0m-2 2h0m0 3h0m-3-6h0m-3-3h0m-1-4h0m0-4h0m-3 16h0m0-13h0m-2 5h0m-1 3h0m-3-4h0m-4 3h0m-2-2h0m-2 4h0m-4-12h0m-3 0h0m-5 16h0m-14-1h0m-7 6h0m1 15h0m3 3h0m6-16h0m6-5h0m1 2h0m1 8h0m1-1h0m3 14h0m2-2h0m1-14h0m7 16h0m2-23h0m6 8h0m0-8h0m2 13h0m5-11h0m5 6h0m3 2h0m6 12h0m5-8h0m4 1h0m3 6h0m2-19h0m1-1h0m0 0h0m2 9h0m0-8h0m1 13h0m1 2h0m2-6h0m8-7h0m0 0h0m4 10h0m3-11h0m1 18h0m0-2h0m2-18h0m0 13h0m2-1h0m0-4h0m4 0h0m1 6h0m1 2h0m10 1h0m2-11h0m0 5h0m1-2h0m2-3h0m2 7h0m4-4h0m1-7h0m5 9h0m1 3h0m5 0h0m2-10h0m38 33h0m-1 1h0m-1-1h0m-62 9h0m0-14h0m-2 3h0m-2 0h0m-4 1h0m-2 8h0m-2-11h0m-2 4h0m-5 1h0m-2-2h0m-1 0h0m-1 4h0m-3-7h0m-4-3h0m-2 13h0m-1-20h0m0 0h0m-2 6h0m-6 11h0m0-14h0m-6-3h0m-2 18h0m-3-1h0m-7-4h0m-19-10h0m-5 17h0m-4 2h0m0-10h0m-1-2h0m0-1h0m-2-6h0m-2 18h0m-1 1h0m-2-21h0m-1 8h0m-1-6h0m-7 19h0m-4-19h0m-2 20h0m-5-8h0m-42 32h0m1-1h0m27 1h0m5 0h0m9-19h0m1 1h0m1 0h0m1 2h0m0 2h0m0 14h0m1-7h0m3-15h0m8 8h0m2 11h0m2-1h0m0-19h0m7 11h0m0-4h0m15 10h0m0 1h0m3-1h0m1-1h0m11 6h0m2-17h0m2-2h0m2 6h0m5 8h0m3-9h0m0 2h0m1-7h0m5 8h0m3 1h0m1-6h0m4 10h0m5-11h0m2-2h0m6 8h0m1-6h0m4-4h0m1 9h0m1 12h0m1-8h0m3 7h0m4-6h0m1-13h0m6 10h0m2 7h0m0-10h0m0-1h0m1 9h0m0-10h0m1 12h0m9-13h0m31 13h0m1-8h0m1 9h0m1-10h0m2 9h0m6-1h0m3-16h0m4 19h0m4-10h0m7-8h0m5 4h0m9-4h0m4 20h0m7 12h0m-2 1h0m-1-4h0m-2-5h0m-2 15h0m-2 4h0m-3-13h0m-3 9h0m-2-11h0m-1 0h0m-3-2h0m-2 10h0m-3 1h0m-1-1h0m-2 2h0m-2-4h0m0-1h0m-2-2h0m-6 6h0m-1 5h0m-2-20h0m-3 22h0m-2-10h0m-5-13h0m0 0h0m-4 2h0m-37 7h0m-12-6h0m-8 17h0m-2-20h0m0 18h0m-1 0h0m-1 1h0m-12 3h0m-8-17h0m-1 11h0m-1 7h0m-18-11h0m-2-5h0m-3 4h0m-2-8h0m-3 3h0m-6-2h0m-3-2h0m-9 17h0m-9-16h0m-6 0h0m-8 0h0m-1 12h0m-2-15h0m-13 22h0m-7-17h0m-1 3h0m-4 11h0m-3-15h0m-2 8h0m0 7h0m-3-12h0m0-6h0m-3 11h0m-3-10h0m-2 2h0m0 0h0m-1 2h0m-1 6h0m-1 6h0m-4-17h0m-3 13h0m-1 8h0m-1-15h0m0 21h0m8 5h0m3-2h0m0 1h0m6 15h0m1-8h0m5 0h0m2 8h0m4-1h0m3-1h0m2-9h0m12 4h0m4 0h0m1 5h0m0 0h0m2-13h0m1 9h0m1-7h0m2-1h0m1-5h0m9 16h0m0-9h0m4-4h0m3-4h0m1 2h0m11 0h0m2-1h0m7 10h0m1-10h0m0 19h0m15-4h0m22-9h0m0-7h0m8 1h0m1 18h0m4-7h0m4-15h0m0 1h0m4-1h0m0 23h0m0-20h0m5 7h0m5 4h0m1-1h0m9 8h0m62-16h0m5-3h0m3 7h0m-1 34h0m-82-1h0m-3 1h0m-4-10h0m0 0h0m-2 1h0m-2 3h0m0-10h0m-1 16h0m-4-16h0m-1 16h0m-1-2h0m0-15h0m-7 21h0m-2-4h0m-5-3h0m-1-2h0m-10-3h0m-2 11h0m-5-3h0m-1-6h0m0 5h0m-2-12h0m-1 3h0m-6 3h0m0-11h0m-3 3h0m0 8h0m-1 1h0m-1 2h0m-1 0h0m-1-4h0m-2 11h0m-2-9h0m-1-11h0m-2 8h0m-1 12h0m-1-12h0m-4 1h0m-1 3h0m-8-8h0m-3-5h0m-32 3h0m-50 43h0m4-1h0m14-7h0m1-4h0m0-5h0m2 8h0m1-10h0m2 13h0m0 0h0m1 1h0m2-16h0m1 5h0m9-1h0m2 13h0m1 4h0m1-5h0m1 4h0m6-12h0m3 3h0m0-2h0m0 1h0m1 7h0m1 0h0m2-4h0m0 1h0m6-7h0m6 10h0m1 1h0m4-8h0m15-1h0m11 6h0m3-5h0m0 5h0m3 1h0m0-3h0m4-6h0m1 11h0m1-2h0m0-10h0m8 10h0m3-6h0m0 4h0m1 1h0m1-1h0m1 0h0m1 0h0m2 1h0m5-13h0m4 2h0m3 17h0m3-1h0m3-3h0m1-7h0m1-1h0m1 5h0m4 5h0m1 0h0m0-12h0m1 2h0m5-4h0m3 10h0m0-8h0m5 5h0m0-7h0m1 5h0m1-6h0m1 12h0m2-9h0m5-7h0m2 11h0m6 10h0m2-6h0m2-8h0m7 10h0m1 1h0m4-1h0m18-1h0m2 5h0m7-6h0m4 4h0m2-14h0m1 6h0m11-6h0m2 0h0m2-6h0m7 10h0m0 5h0m6-3h0m2 1h0m4 8h0m2-4h0m5-9h0m4 10h0m2-2h0m0 0h0m-7 21h0m-5-8h0m-1-2h0m-3 1h0m-1 1h0m-5-1h0m-9 8h0m0-11h0m-1 6h0m-1 10h0m-2 0h0m-4-15h0m-6-1h0m-16-1h0m-5 11h0m-2-7h0m-3 3h0m-2-7h0m-3 9h0m0 0h0m-1-2h0m-1-3h0m-8 4h0m-6 1h0m-3-7h0m-6-2h0m-22 16h0m-2-12h0m-2-5h0m0 10h0m-3 2h0m-7 1h0m-15-8h0m-4 12h0m-1-2h0m-11-14h0m-1 5h0m-1-2h0m-3 4h0m-14-7h0m-15 2h0m-2 2h0m-1-3h0m-7 12h0m-6-3h0m-3 7h0m-1 3h0m0-10h0m-1 12h0m0-9h0m-2-7h0m-2 4h0m0-2h0m-3 3h0m-1-9h0m-4 3h0m0 17h0m-4-8h0m-1-8h0m0 1h0m-3 13h0m-1-20h0m-1 12h0m-1-3h0m-1 5h0m-1-5h0m-12 8h0m-4 1h0m-3-14h0m-2-2h0m0-2h0m0 11h0m0 10h0m-1-17h0m-2 11h0m0 4h0m0-17h0m-1 17h0m0-13h0m0-4h0m-2 6h0m-2-1h0m-4-1h0m-1 3h0m-2 4h0m-4-13h0m12 23h0m8 0h0m2 6h0m7-6h0m15 10h0m9-10h0m1 1h0m18 3h0" stroke="#76d7c4"/>
<path d="M266 1331h0m-4 8h0m-2 1h0m-4-8h0m-3-3h0m-6 10h0" stroke="#8e44ad"/>
<path d="M604 1458h0m6-3h0m50 1h0m8 7h0m11-12h0m27 6h0m4 4h0m0 2h0m3-12h0m25 34h0m-4-1h0m-3-4h0m-1 4h0m-2 1h0m-5-10h0m0-11h0m-2 20h0m-9-1h0m0-10h0m-6 0h0m-2 14h0m-3-17h0m-4-6h0m-5 0h0m-17 22h0m-2-22h0m-11 12h0m-5-4h0m-21 4h0m-2 0h0m-6 2h0m0-4h0m-2-1h0m-4 5h0m0 8h0m-3 1h0m-2 0h0m-3-22h0m0 13h0m-1 8h0m-4-6h0m0-11h0m-2 14h0m-1-17h0m-6 7h0m-5-7h0m-1 8h0m-4 3h0m-4 6h0m0-4h0m-2-10h0m-1 9h0m-6-3h0m-13 11h0m-13 1h0m11 18h0m2 5h0m3-3h0m1-12h0m0 16h0m2-2h0m1 1h0m6-9h0m6-1h0m0-2h0m5 5h0m1 8h0m5-22h0m0 20h0m6-12h0m1-6h0m0 16h0m1-2h0m1 3h0m2-17h0m1 8h0m10 5h0m1 5h0m1-12h0m9 12h0m2 2h0m3-7h0m5-5h0m21 12h0m7-4h0m2-11h0m13 9h0m1-17h0m2 18h0m13-13h0m2 7h0m5-8h0m5 9h0m3-10h0m3 0h0m26-3h0m10 14h0m0 0h0m4 7h0m5-2h0m14 21h0m-4-6h0m-2 13h0m-2-2h0m-2-3h0m0 0h0m-4-14h0m-4 18h0m-23-5h0m-1-16h0m-4 20h0m-9-19h0m-11 18h0m-7 0h0m-1 1h0m-1-18h0m-2 8h0m-2-4h0m-2 12h0m-5-15h0m-5-3h0m-8 21h0m-1 1h0m0-15h0m-5-8h0m-3 9h0m-2-6h0m-1 1h0m-8 13h0m-3 4h0m-2-9h0m-1 1h0m-13 10h0m-10-10h0m-1-12h0m-6 22h0m-7-21h0m0 18h0m0-20h0m-1 22h0m-2-13h0m-2 10h0m-1-13h0m-21-4h0m-10 11h0m-4-4h0m-2 3h0m0-7h0m-2 4h0m0 3h0m0 2h0m-4 4h0m-1-3h0m-1-2h0m-3-7h0m-1 13h0m-19 1h0m10 11h0m5-2h0m8-5h0m2 6h0m2 15h0m5-20h0m0 18h0m8 4h0m1-15h0m3 2h0m6-5h0m0-2h0m7 18h0m0-2h0m1-16h0m3-1h0m1 15h0m0-9h0m1-6h0m1 8h0m1 9h0m1-18h0m1 1h0m4 0h0m4 4h0m7 5h0m4 0h0m18 5h0m2 0h0m5-10h0m7 17h0m2-4h0m6-4h0m3-2h0m4-13h0m4 2h0m16 8h0m0-7h0m8 3h0m5-3h0m3 17h0m4-19h0m1-1h0m13 12h0m1 10h0m1 0h0m5-11h0m3-7h0m7-4h0m4 23h0m2-20h0m9-1h0m5 0h0m3 0h0m2 1h0m2 0h0m1 17h0m3-9h0m0-9h0m9 8h0m1 14h0m-17 23h0m-3-6h0m-5-2h0m-5-14h0m-2 5h0m-6 14h0m-8-3h0m-4 0h0m-2-16h0m0-1h0m-12 12h0m-2-7h0m-1 18h0m-2-17h0m-2-2h0m0 5h0m-4 10h0m-6-1h0m0 1h0m-4-18h0m-1-1h0m-2 18h0m-3-8h0m-1 0h0m-5 9h0m-17-5h0m-2 3h0m-5-6h0m-2 0h0m-18 2h0m-1 5h0m-7-11h0m-7 13h0m-11-2h0m-3-11h0m-2-4h0m-3 2h0m-1 18h0m0-10h0m-6 10h0m-9-1h0m0-22h0m-2 12h0m-10-12h0m-4 14h0m-19-6h0m51 22h0m7-5h0m1 2h0m12 4h0m1 13h0m2-8h0m2-1h0m12-11h0m0 19h0m7 4h0m4-21h0m2 12h0m4 6h0m6-15h0m0 16h0m17-14h0m4 7h0m0-1h0m1-9h0m3 5h0m2 0h0m0-4h0m0-2h0m7 7h0m2 9h0m0-17h0m5 19h0m8-15h0m5 6h0m6-6h0m0 12h0m6-14h0m0 19h0m4-23h0m0 5h0m0 2h0m1 9h0m9-13h0m-26 28h0m-8-3h0m-15 13h0m-17-10h0m0 9h0m-7-15h0m-8 12h0m-1-12h0m-4 12h0m-14-12h0m-1 6h0m0 3h0m-5-5h0m-1 5h0m-5-9h0m-5 4h0m-6 9h0m-2-8h0m-1 14h0" stroke="#cb4335"/>
<path d="M539 1394h0m8 14h0m2 2h0m7-14h0m0 11h0m1 6h0m0-7h0m6-3h0m0-6h0m3 13h0m0-9h0m3 0h0m8 1h0m0 5h0m1-4h0m3 1h0m1 2h0m4 1h0m0 9h0m0 9h0m-5 6h0m0 7h0m-1-12h0m-1 11h0m-4-7h0m-1 5h0m-1-1h0m-10-13h0m-8 17h0m-3-6h0m0 2h0m-1-6h0m-4 9h0m-1-1h0m-2-4h0m-9-6h0m4 18h0m8 1h0m1-2h0m3-1h0m0 1h0m7 18h0m0-1h0m12-7h0m1 5h0m1-8h0m3-7h0m2 3h0m1 6h0m3-5h0m0-6h0m2 19h0m2-5h0m10-14h0m10 14h0m1 5h0m70 10h0m-65 6h0m-1-5h0m-2-4h0m-5 12h0m-3-4h0m-29-5h0m-10-5h0m-70 21h0m0-1h0m-1 1h0m-14-3h0m-3 2h0m-1 0h0m-4-1h0m236 50h0m-238 6h0m117 8h0" stroke="#f39c12"/>
<path d="M398 1319h0m1-3h0m14 12h0m-5 4h0m-2-5h0m-4-5h0m0 3h0m-4 18h0m-8-1h0m-9-12h0m-12 11h0m-25 24h0m3 1h0m3-19h0m0 19h0m3-19h0m3 1h0m1 18h0m0-17h0m1 17h0m14-13h0m1 3h0m0-12h0m1 17h0m2-12h0m1 5h0m1-2h0m1 10h0m1-6h0m4-5h0m5 11h0m3-3h0m1 0h0m0-4h0m2 7h0m5-1h0m3 1h0m0-1h0m7-1h0m50 30h0m-33-2h0m-15-15h0m-8 18h0m-7-10h0m-1-7h0m0 3h0m-3 13h0m-1-5h0m0-1h0m-2 0h0m-3-14h0m-1 3h0m-4 2h0m-9 1h0m-4 0h0m-1-1h0m-11-5h0m-6 18h0m-3-10h0m-2 8h0m-6 0h0m-4-17h0m-2 17h0m-6 24h0m15 2h0m14-8h0m13 4h0m0-11h0m6 2h0m1-3h0m1 15h0m13-16h0m5 15h0m2 3h0m0 1h0m6-6h0m10-1h0m1-6h0m1 10h0m1-5h0m0 0h0m2 2h0m1-5h0m4-9h0m1 3h0m0 2h0m3 8h0m0-10h0m1 0h0m2 1h0m2-1h0m0 15h0m2-13h0m1 4h0m1-4h0m4 11h0m0 0h0m1 5h0m1 0h0m4-8h0m5-11h0m5 3h0m5 15h0m2-15h0m13-3h0m0-2h0m2-1h0m5 18h0m3-6h0m1-3h0m2 3h0m5 0h0m6-7h0m0 4h0m1 7h0m19 4h0m341-11h0m-340 31h0m-5-14h0m-2 3h0m-2-3h0m-1 9h0m-3-3h0m-2 9h0m0 4h0m-1-5h0m0-2h0m-1-8h0m-1-6h0m-8 15h0m-16-13h0m-14 10h0m-9-9h0m-14-4h0m-5 4h0m-33 13h0m-1-15h0m-1 0h0m-1 1h0m-12 8h0m-2-10h0m-3 10h0m-3 3h0m-2-10h0m-1 17h0m-6-4h0m0 4h0m-4-15h0m-3 6h0m-2 7h0m-4 4h0m0-10h0m-3-6h0m-4-3h0m-6-2h0m-2 10h0m-1 7h0m-6-15h0m0 2h0m-1-1h0m-4-2h0m-1 7h0m-2-8h0m13 28h0m17 3h0m3-2h0m5 8h0m7-5h0m27 4h0m28-1h0m10-2h0m59-1h0m3 0h0m7-3h0m4 13h0m2-16h0m13 2h0m1 6h0m-10 28h0m-8-12h0m-1 11h0m0-10h0m-3 3h0m-1-4h0" stroke="#f4d03f"/>
<path d="M335 1173h0m1-2h0m35 27h0m-6-7h0m-1-7h0m-1-1h0m0 7h0m-2 0h0m-3 8h0m-1-20h0m-4 13h0m-4 3h0m-1-16h0m-3 7h0m0 14h0m-2-15h0m-4-8h0m-2 19h0m-3 4h0m-3-15h0m0 4h0m0 6h0m-5-18h0m-3 16h0m-1-8h0m-2 2h0m-7 26h0m5-9h0m1 7h0m2 0h0m1-6h0m10 11h0m4-10h0m12 15h0m1-9h0m7 7h0m7 5h0m5 0h0m0-11h0m3 4h0m-3 21h0m-4-2h0m-18-1h0m-7-2h0m-1 7h0m-3-10h0m-3 15h0m-4-14h0m-9 0h0m-1 13h0m0-18h0m-7 7h0m-5 13h0m-5-18h0m26 23h0m2 6h0m9 5h0m4-6h0m7 1h0m0-1h0" stroke="#fda896"/>
<path d="M777 1391h0m16 1h0m14 15h0m1 3h0m1 1h0m14 0h0m10-2h0m10-2h0m1-4h0m0-3h0m2-2h0m1 7h0m5-2h0m0-8h0m1-1h0m3 6h0m1 1h0m3 2h0m1 0h0m2 3h0m1-3h0m0-8h0m2 0h0m6 5h0m0-7h0m3 5h0m2 1h0m1-5h0m3 7h0m0 3h0m0-9h0m7 1h0m-62 33h0m-4-11h0m-2 8h0m-4-8h0m-3-2h0m-4 0h0" stroke="#1a237e"/>
<path d="M576 1410h0m-204 50h0m1-3h0m50 27h0m-27-2h0m-10 0h0m-4-8h0m0 9h0m-3-1h0m-2-7h0m-24 10h0m-23 22h0m5-9h0m19 12h0m7-14h0m14 12h0m4-10h0m1 3h0m7-10h0m11 11h0m5-2h0m1 2h0m15-7h0m2 6h0m0-12h0m7 0h0m0 22h0m1-21h0m3 15h0m2 3h0m11-2h0m8 5h0m250 9h0m-240 2h0m-2 13h0m-5-14h0m0 2h0m0 10h0m-2 1h0m-2-15h0m-9 3h0m-7-7h0m0-3h0m-3 20h0m-8-20h0m0 5h0m-9-5h0m-8 6h0m0 7h0m-2 8h0m-1-7h0m-3 1h0m-17-12h0m-1 4h0m-3-4h0m-5-3h0m-2 4h0m-17 3h0m-11-5h0m-5 6h0m-1 13h0m0 1h0m0-13h0m-1-3h0m0 12h0m-1-13h0m0 15h0m-6-10h0m0-3h0m-34 38h0m5-14h0m3-2h0m8 3h0m3 7h0m5 4h0m1-7h0m6 8h0m5 1h0m1-16h0m6-4h0m4 17h0m6-15h0m5 2h0m2-1h0m1 2h0m2 14h0m0-15h0m8-3h0m0 11h0m7 6h0m17 3h0m7-1h0m17-19h0m16 15h0m12 5h0m3-13h0m2 9h0m0-5h0m1 2h0m8-15h0m3 12h0m6 26h0m0-8h0m-2 4h0m-2 1h0m-17 12h0m-2-15h0m0-5h0m-5 15h0m-1-6h0m-2-8h0m-3 13h0m-1-10h0m0 16h0m-13-9h0m-2-12h0m-8 11h0m0 3h0m-3 3h0m-1-12h0m-1-4h0m-2 0h0m-1 2h0m-5-5h0m-7 6h0m-5-5h0m0 0h0m-25 11h0m-1-10h0m-14 20h0m-1-2h0m-12-5h0m-3-11h0m-13 6h0m-1-4h0m-1 17h0m-1-9h0m-1 2h0m0 3h0m-1-2h0m0-5h0m-2-1h0m5 19h0m12 15h0m14-10h0m0 1h0m4 10h0m2 0h0m0-20h0m11 20h0m5-15h0m16 1h0m0-6h0m2 3h0m5 15h0m2 1h0m7-4h0m3-1h0m3-11h0m17 6h0m1 12h0m5-1h0m16-5h0m1-15h0m0 2h0m1 15h0m4 0h0m-9 6h0m-10 5h0m0 3h0m-8-4h0m-16 13h0m-3-5h0m-1 0h0m-1-8h0m-1 16h0m-7-12h0m-5 6h0m-1-7h0m0-5h0m-2 3h0m-2 2h0m0 3h0m-2-3h0m-2 1h0m-3 1h0m-4 0h0m-2 10h0m-14-11h0m-4-1h0m-7-7h0m-7-1h0m40 26h0" stroke="#27ae60"/>
<path d="M247 1340h0m-6 1h0m-24 1h0m-10-1h0m-2-8h0m0 2h0m0-1h0m-3 3h0m-9 3h0m-3 0h0m-5 0h0m-7-4h0m-8 2h0m-2-10h0m0 0h0m-3 4h0m0 4h0m-4-7h0m-5 13h0m-4 4h0m4-2h0m1 13h0m4-12h0m7-1h0m0 3h0m1 3h0m3 2h0m5-1h0m1 3h0m2 4h0m3-10h0m0 11h0m0-1h0m7-12h0m4-2h0m1 18h0m0-6h0m3 11h0m1-21h0m1 3h0m2 4h0m2 14h0m3-20h0m1 8h0m7-7h0m-5 38h0m-2 3h0m-1-16h0m-6 13h0m0-12h0m-2-1h0m-1 1h0m-1 14h0m-3-7h0m-1 8h0m0-10h0m-2 4h0m-2-14h0m-1 4h0m-9 10h0m-1-5h0m3 16h0m8-2h0m4 2h0m0 1h0" stroke="#3498db"/>
<path d="M180 1451h0m4 7h0m7-7h0m3-5h0" stroke="#6d4c41"/>
<path d="M522 1072h0m15-8h0m5 12h0m1-3h0m9-1h0m11-7h0m1 1h0m0-7h0m3 4h0m3-1h0m0 9h0m1 7h0m139 19h0m-3-1h0m-5 0h0m-1-4h0m-1 1h0m-1 9h0m-4-7h0m0 0h0m-1 5h0m-21 1h0m-7-2h0m-1-9h0m-6 11h0m-2-14h0m-2-2h0m-1 6h0m0-6h0m-3 7h0m-2 1h0m-4 0h0m-1 4h0m-1-4h0m-2-8h0m-55 5h0m0 13h0m-8-1h0m-1-2h0m-3-13h0m-1 15h0m-3 1h0m0-1h0m-2-9h0m-2 2h0m-3-7h0m0 12h0m-4-7h0m-2-4h0m0 1h0m-3 1h0m-2-2h0m0 7h0m-1-2h0m-1-5h0m-2-3h0m0 15h0m-1-18h0m-2 20h0m0-17h0m-5 1h0m-13 10h0m-1-2h0m-1-12h0m-1 13h0m-1 0h0m0-1h0m0-11h0m-73 19h0m-7-5h0m-3-3h0m-11 9h0m1 10h0m1-4h0m1 3h0m1-2h0m3-4h0m4 7h0m4-3h0m2-7h0m5 2h0m71 2h0m23 16h0m2-18h0m2 20h0m5-20h0m7 17h0m0-4h0m2-2h0m1-4h0m0 12h0m0-4h0m2 5h0m4-8h0m0-10h0m1 12h0m1-2h0m3-12h0m0 8h0m2-3h0m0 7h0m1-9h0m3-5h0m9 22h0m0-4h0m90-17h0m2 22h0m1-18h0m9 5h0m1-9h0m2 11h0m0 0h0m0 6h0m0-9h0m7-5h0m2 2h0m3-4h0m1 12h0m1-6h0m0-3h0m3 8h0m1-5h0m6-8h0m-24 24h0m-6 22h0m-2-15h0m-1-6h0m-4 17h0m0-12h0m-2 3h0m-22 13h0m-1-1h0m-23 1h0m-3 1h0m0-6h0m-2-4h0m-1 5h0m-3 1h0m-12 2h0m-3-4h0m-14-1h0m-3-15h0m-3 16h0m-1-4h0m-1 3h0m-2-11h0m-1 10h0m-1-13h0m-2 18h0m0 2h0m0-5h0m-1 6h0m-5-23h0m-1 21h0m-4-6h0m0 3h0m-4-3h0m-1-8h0m-9 14h0m-24 21h0m1-6h0m0-9h0m3 5h0m2 12h0m2-5h0m0-12h0m3 4h0m1 6h0m1-12h0m3 9h0m1 0h0m1 12h0m1-9h0m2-12h0m0 9h0m2 12h0m3-9h0m1 0h0m3 9h0m5-11h0m3-6h0m0 4h0m2-2h0m1 4h0m2 5h0m7 0h0m4 3h0m4-19h0m0 18h0m1-13h0m3 4h0m1 0h0m0 0h0m0-8h0m5 19h0m3-5h0m11-15h0m0 13h0m3-5h0m4-3h0m1-3h0m2 17h0m2 3h0m4-10h0m2 1h0m4 1h0m1 0h0m10-5h0m7 4h0m0-3h0m3 1h0m4-11h0m2 12h0m2-3h0m6 0h0m13-7h0m6 6h0m4-7h0m20 36h0m-87 7h0m-4-9h0m-2 4h0m-5-5h0m-1 10h0m-1 3h0m-1-20h0m0 4h0m-7 15h0m-4-15h0m-1 14h0m-4-1h0m-6-3h0m-7-6h0m-8 5h0m-9-3h0m-3 9h0m-1-11h0m-3 7h0m-1 0h0m-3-14h0m-1 16h0m0-19h0m-3 1h0m-2 18h0m-1 1h0m-2-20h0m-5 6h0m-4 1h0m-5 11h0m0-7h0m-3 9h0m-3-12h0m-1 0h0m-23 37h0m1 1h0m20-3h0m2-16h0m8-3h0m1 2h0m1 1h0m0 6h0m13 12h0m3-2h0m1-11h0m9-3h0m2 10h0m2-6h0m8-2h0m2 15h0m9-13h0m1 6h0m6-2h0m6-14h0m1 3h0m1-2h0m1 13h0m0-9h0m4 6h0m5 8h0m1-6h0m5-13h0m0 2h0m3 3h0m3-4h0m5 3h0m6 17h0m1-21h0m1 5h0m2 14h0m3-11h0m1 10h0m0-14h0m1 6h0m11 6h0m2-3h0m2-11h0m5 20h0m1-12h0m33 13h0m3-4h0m3 0h0m2-3h0m1-10h0m13 0h0m7 10h0m2-5h0m9-5h0m2 3h0m12 8h0m3 22h0m0 4h0m-10-3h0m-1-15h0m-6 13h0m0 6h0m-2-1h0m-4-2h0m-2-11h0m0 1h0m-5-7h0m-1 15h0m-4-5h0m-1 1h0m-2 4h0m-1 4h0m-6-7h0m-1-4h0m-1-1h0m0 6h0m0 3h0m-1 2h0m-2-8h0m-3-8h0m0 4h0m-2 2h0m-2-5h0m-3 1h0m-46 8h0m-11-3h0m-2 6h0m-1 2h0m0-12h0m-7 4h0m-1 4h0m-2 4h0m-10 3h0m-5-20h0m-6 5h0m-2 3h0m0 8h0m-5-2h0m0-8h0m-5 10h0m-1-8h0m-1 3h0m-1-8h0m-2 10h0m-7 1h0m-11 0h0m-1 4h0m-21-17h0m-6 6h0m-1-5h0m0 16h0m-2 5h0m-9-2h0m-4 0h0m-5-4h0m-4-3h0m0 1h0m-3-13h0m0 8h0m-6-10h0m-3 2h0m-3 11h0m-2-13h0m-2 21h0m0-20h0m-1 18h0m-8-8h0m-2 5h0m2 18h0m1 9h0m1-19h0m2 20h0m7-7h0m4-1h0m5-1h0m1 5h0m2-2h0m1-2h0m0 3h0m3-1h0m0 8h0m2-10h0m1 5h0m0 2h0m3-11h0m1 5h0m3 5h0m2 1h0m1-17h0m9-1h0m4 16h0m0-8h0m2 5h0m2-1h0m3 1h0m1-10h0m1 17h0m4-3h0m0 4h0m3-11h0m6 4h0m2-9h0m1 6h0m1 4h0m2 6h0m1-12h0m3 13h0m3-16h0m1 13h0m8-14h0m0-6h0m4 22h0m0-12h0m3-5h0m1 0h0m4 6h0m25-10h0m4 13h0m4 4h0m0-6h0m2 7h0m3-17h0m2 18h0m2-19h0m5 5h0m2 16h0m3-18h0m4 17h0m0-16h0m2 0h0m0-4h0m2 5h0m2 1h0m2 3h0m3 2h0m38-9h0m8 3h0m0 0h0m11 3h0m3-2h0m0 1h0m4-1h0m-85 25h0m-2-4h0m-6 9h0m0 5h0m-1-13h0m-3 14h0m-2-17h0m-6 2h0m-1 15h0m-5-11h0m-1 7h0m0 3h0m-1 1h0m-2 2h0m-1-7h0m-2 8h0m-11-9h0m-1 0h0m0 0h0m-2 6h0m-2-6h0m-2-1h0m-5-10h0m-1 1h0m-1 17h0m-6-13h0m-1 14h0m0-1h0m-5-17h0m-1 17h0m-1 2h0m-4-19h0m-8 7h0m-8 1h0m-36-5h0m-9-3h0m-28 40h0m2 4h0m11-7h0m3-7h0m0 9h0m2-3h0m0-3h0m1 2h0m0-8h0m1 1h0m1 15h0m2-7h0m0 4h0m2-12h0m3 5h0m1-6h0m3 15h0m6-1h0m4-6h0m1 3h0m0 2h0m0 2h0m1-16h0m0 9h0m1 4h0m4-8h0m1 6h0m0-4h0m2 2h0m2-4h0m1 6h0m9 7h0m7-6h0m15-12h0m5 7h0m3-7h0m3 12h0m1-10h0m0-5h0m4 16h0m1-13h0m1-2h0m1 17h0m7-14h0m1 9h0m0 1h0m4-1h0m1-4h0m1-11h0m0 8h0m1 11h0m3-18h0m0 10h0m3-7h0m5 10h0m7-6h0m3 11h0m1 2h0m2-16h0m2 14h0m6 3h0m8-15h0m0 10h0m2 6h0m5-11h0m2 7h0m1-5h0m10-6h0m3 10h0m2-15h0m2 12h0m0-7h0m4 11h0m1 4h0m6-5h0m3-4h0m3 9h0m5-3h0m2-3h0m20-2h0m0 3h0m1-1h0m0 3h0m2-11h0m3-8h0m0 17h0m1-13h0m0 18h0m1-3h0m0-11h0m2 2h0m2 0h0m4 1h0m3-12h0m2 12h0m2 6h0m1 0h0m1-4h0m3 3h0m1 6h0m1-11h0m0 10h0m4-11h0m1 4h0m1 1h0m3 1h0m1 2h0m1 2h0m8 1h0m-11 2h0m-1 14h0m-4-5h0m-13 2h0m-6 1h0m0-10h0m-2 10h0m-2-11h0m-9-1h0m-5 2h0m-14 5h0m0-2h0m-1 3h0m-6-2h0m-2 4h0m-2-4h0m-4 2h0m-2 0h0m-2 3h0m-14-8h0m-3-3h0m-21 8h0m-1-1h0m-1 0h0m-10 0h0m-2 0h0m-1-5h0m-2 3h0m0 14h0m-4-19h0m-2 16h0m-1-2h0m-15-3h0m-8-5h0m-3 0h0m-3-3h0m-26 3h0m-4 1h0m-4 15h0m-1-15h0m-2 11h0m-1-13h0m0-4h0m-3 0h0m-5 16h0m0 0h0m0-1h0m0-13h0m-5 10h0m0 3h0m0-12h0m-2 0h0m-11 5h0m-3 6h0m0 1h0m-3-2h0m-1-3h0m-4-2h0m-9-6h0m0 13h0m-2-2h0m-6-2h0m-2-7h0m-3 2h0m-1-3h0m-3 9h0m-4 2h0m5 9h0m4 0h0m26 0h0m3 0h0m0 5h0m6-3h0m6 1h0m89-3h0" stroke="#76d7c4"/>
<path d="M261 1331h0m-2 4h0m-3 8h0m-1 0h0m-4-10h0m-4 3h0" stroke="#8e44ad"/>
<path d="M607 1463h0m39-7h0m0-1h0m3-5h0m5 3h0m3-8h0m2 11h0m6 4h0m12 1h0m67 19h0m-3-4h0m-7 10h0m-3-5h0m-10 2h0m-14-2h0m0-2h0m-11-3h0m-3-6h0m-2 9h0m-10 2h0m0-3h0m-15 2h0m-4-5h0m-1 5h0m-7-8h0m0 13h0m-5-14h0m-1 2h0m-1-4h0m0 6h0m-3-1h0m-4 9h0m-8-1h0m0-4h0m-4 3h0m-2 5h0m-6-6h0m-10 5h0m-4-19h0m-2 20h0m-2-3h0m-2-15h0m-7 15h0m-2-3h0m0-4h0m-6 6h0m-3 5h0m0-15h0m-1 7h0m-1 2h0m0 1h0m-1-7h0m-1 6h0m-6 2h0m-3-6h0m-2-5h0m-14 7h0m-4 32h0m10-15h0m2 11h0m3-5h0m0 4h0m0-6h0m2 3h0m5-4h0m2 4h0m3-13h0m0-1h0m4 12h0m0-3h0m4-6h0m5 2h0m9 2h0m4 10h0m1-3h0m2 7h0m1-14h0m0 1h0m1 8h0m3 6h0m2-20h0m8 17h0m1-4h0m1-1h0m5-6h0m20 12h0m2-12h0m4 3h0m1 1h0m1 0h0m0-8h0m6 15h0m1-8h0m2-5h0m10 7h0m9 0h0m10-7h0m11-2h0m1 15h0m2-6h0m8-1h0m10-11h0m1 3h0m3 8h0m0-9h0m1 15h0m1-15h0m9 18h0m3-17h0m1-5h0m2 15h0m1 0h0m5-6h0m3 2h0m4 8h0m7 4h0m4-4h0m-4 18h0m-3 5h0m-8-4h0m-4-3h0m-5 11h0m0-10h0m-8 5h0m-21-17h0m-1 23h0m-4-18h0m-4 13h0m0-2h0m-5-11h0m-7 18h0m-9-5h0m-1 4h0m-14-22h0m-2 18h0m-3-5h0m-2 1h0m-1-13h0m-1 5h0m-2-2h0m0 13h0m-3-5h0m-5-7h0m-3 7h0m-1 11h0m-12-16h0m-3 9h0m-4 7h0m-5 0h0m-3-16h0m-2 14h0m-5-4h0m-1-14h0m-4 20h0m-2-1h0m-11-13h0m-17 5h0m0-10h0m-1 4h0m-1 0h0m-2 11h0m0-13h0m-1 13h0m-6-13h0m-5-6h0m-3 8h0m0-8h0m-1 12h0m0-5h0m-2 8h0m-20-13h0m6 39h0m27 1h0m1-1h0m2-15h0m4 6h0m1 0h0m5 1h0m1-4h0m0 1h0m3 5h0m3 2h0m0 1h0m1 9h0m2-9h0m1-10h0m1 5h0m0 8h0m2 2h0m6-19h0m0 11h0m2-4h0m1-4h0m2-1h0m0 11h0m3-2h0m8 3h0m0-10h0m14 4h0m23 12h0m7-11h0m1-3h0m1 15h0m2-7h0m5-3h0m0-2h0m14 1h0m3-6h0m1 18h0m2-10h0m4 4h0m2 5h0m5-10h0m4-6h0m1 10h0m0 0h0m1 4h0m24-1h0m4-1h0m3-17h0m7 3h0m24 17h0m-2 8h0m0-3h0m-11 15h0m-12 6h0m-10-4h0m-5 5h0m-2-18h0m0 13h0m-2-16h0m0 15h0m-3-16h0m-1 20h0m-6-13h0m0-7h0m-2 19h0m-9 2h0m-5-1h0m-1-19h0m0 12h0m-2-13h0m-7 4h0m-19-3h0m-2 14h0m-1-1h0m-6-6h0m-7 6h0m-1-9h0m-3 16h0m-5-2h0m-5-12h0m-4 5h0m-1-13h0m-4 1h0m-1 1h0m-6 6h0m-9-4h0m-3 14h0m-6 1h0m-3-7h0m-1 6h0m-11 2h0m-1-7h0m-1-1h0m-10-8h0m18 22h0m3-2h0m7 14h0m3 7h0m4-15h0m2-2h0m1 11h0m16 6h0m0 2h0m1-1h0m2-13h0m3 0h0m1-9h0m6 11h0m13-9h0m5-1h0m16 10h0m0 1h0m1-12h0m7 8h0m1 14h0m1-8h0m0 0h0m2 3h0m5 6h0m2-12h0m2-8h0m4 9h0m2 7h0m10-9h0m6-5h0m0-1h0m18 7h0m7-9h0m13 1h0m-35 27h0m-4 0h0m-15 4h0m0-1h0m-2 8h0m-10-15h0m-1 12h0m-3-3h0m-14 3h0m-7-6h0m-6 3h0m-3-11h0m-3 1h0m-6 2h0m-1 4h0m-2 2h0m-8-9h0m-3 5h0m-1 9h0m-3-9h0m0 7h0m-8-1h0m0 3h0m-1-2h0m-4 3h0m-6 2h0m-1 5h0" stroke="#cb4335"/>
<path d="M529 1413h0m1-4h0m0-12h0m1 8h0m1-7h0m11 7h0m2 9h0m1-11h0m11 3h0m6-5h0m1-4h0m6 9h0m7 0h0m4 8h0m0-15h0m1 6h0m0-1h0m7 8h0m1 2h0m3 12h0m-3 1h0m-3 4h0m-3 0h0m-4 3h0m-1-9h0m-3 3h0m-8 4h0m-8-16h0m-3 15h0m-4-14h0m-3 21h0m-1-2h0m-1-1h0m-4-1h0m0-9h0m-1 5h0m0 1h0m-12-9h0m0 1h0m15 24h0m3-5h0m2 2h0m4 9h0m8-8h0m1 17h0m5-8h0m0-10h0m2 5h0m1 12h0m0 2h0m2-14h0m4 8h0m1-6h0m10 7h0m2-9h0m1 2h0m2-4h0m14 28h0m-8-1h0m-1 8h0m-3 0h0m-1-5h0m-2-2h0m-2 0h0m-10-11h0m-5 0h0m-8 6h0m-12-4h0m-4 2h0m-62 17h0m-1 1h0m-3-2h0m-2 2h0m-5-8h0" stroke="#f39c12"/>
<path d="M380 1315h0m1-2h0m14 6h0m17 12h0m0-6h0m-9 8h0m0-11h0m-5 2h0m-1-4h0m-6 1h0m-5 14h0m-4 2h0m-1-3h0m-1-7h0m-3 9h0m-32 29h0m17-9h0m1-2h0m10-5h0m1 10h0m5-11h0m1-1h0m6-1h0m5 16h0m2-4h0m1 5h0m3 0h0m1-1h0m2 0h0m0-14h0m4 12h0m0-4h0m2 6h0m61 27h0m-27-2h0m-10 2h0m-4-16h0m-21 0h0m-8-2h0m-1 19h0m-5-1h0m-5-19h0m-5 14h0m-1-10h0m-3 2h0m0 6h0m-9-3h0m-16-11h0m-1 10h0m0 10h0m-1-4h0m-10-13h0m-6 13h0m-10 0h0m0 18h0m11-1h0m1 14h0m4-2h0m14-13h0m15-4h0m3 2h0m1 4h0m1 9h0m0-8h0m2-6h0m15 2h0m1 0h0m3-4h0m0 15h0m7-17h0m2-1h0m2 7h0m7 0h0m3 6h0m5-10h0m1 3h0m3 4h0m7-8h0m0 8h0m1 2h0m0 6h0m1-6h0m1 5h0m0 2h0m3-3h0m0-10h0m1 12h0m1 5h0m4-6h0m11-16h0m2 4h0m12-1h0m3 1h0m7 0h0m1 3h0m2-4h0m1-1h0m10 6h0m4 2h0m0-1h0m3-1h0m4 13h0m15 10h0m0-2h0m-1 16h0m-3-16h0m-1 11h0m-1-9h0m-3-1h0m-1 7h0m-2 1h0m-1 2h0m0-8h0m0-4h0m-3 0h0m-24-2h0m-1-3h0m-7 7h0m-31-4h0m-1 0h0m-17 5h0m-3-8h0m-11 4h0m-3-2h0m-2 0h0m0 10h0m-3-11h0m-4-1h0m-5 5h0m0 10h0m-8 1h0m-3-4h0m-1-7h0m-5 5h0m-5 1h0m0 7h0m-4-14h0m-1 15h0m-1-4h0m-2 5h0m-4-7h0m0 0h0m-6 3h0m-10-10h0m-3-2h0m-1 11h0m-6-10h0m-3-4h0m27 23h0m1 2h0m11 9h0m5-6h0m0 5h0m15 2h0m4-5h0m5 4h0m3 3h0m20 0h0m11-4h0m9 3h0m7-2h0m49 1h0m4-5h0m0 1h0m9 4h0m0 9h0m0-12h0m2 0h0m12 5h0m4-11h0m-9 21h0m-5 11h0m-4-2h0m-2-3h0m-1 7h0m0-8h0m0 8h0m-4-7h0m-187 80h0m439-11h0m-59 75h0" stroke="#f4d03f"/>
<path d="M356 1183h0m-14-4h0m-1-2h0m0 19h0m-1-11h0m-2-8h0m-4 19h0m-2-16h0m-1-4h0m-1 8h0m-4 4h0m-4 11h0m-13 16h0m2-1h0m1 5h0m1-15h0m2 6h0m1-3h0m0-1h0m0-6h0m4 13h0m15-10h0m2 20h0m5-4h0m0-11h0m2 7h0m1-7h0m0 7h0m7-10h0m6 12h0m1 5h0m14-7h0m-2 12h0m-14 1h0m0 10h0m-1-14h0m-4 21h0m-1 2h0m-1-17h0m-2 15h0m0-17h0m0 18h0m-3-3h0m-1-11h0m-6 13h0m-5-17h0m-13-2h0m0 3h0m-2 5h0m-9 4h0m8 14h0m5-2h0m8 10h0m3 5h0m3-15h0m6 5h0m3-6h0m5 4h0m0 4h0m1 4h0" stroke="#fda896"/>
<path d="M883 1390h0m-22 0h0m-63 6h0m9 17h0m3-2h0m5 0h0m24 0h0m2-3h0m4-6h0m13-2h0m3-6h0m5-2h0m6 10h0m2 0h0m2-4h0m6-1h0m2-2h0m-46 25h0m-12 2h0m-4-6h0m-1 5h0" stroke="#1a237e"/>
<path d="M364 1460h0m4-3h0m0 0h0m3 2h0m46 26h0m-6-4h0m-2 5h0m-9-8h0m-4-7h0m-19 16h0m-1-14h0m-10 12h0m-45 23h0m2-4h0m1-6h0m4 6h0m7 2h0m3-16h0m1 16h0m15-10h0m4-7h0m6 5h0m1 12h0m3-6h0m9-4h0m26 3h0m1 10h0m5-15h0m1 10h0m8 5h0m3-7h0m1 7h0m7 2h0m1-18h0m1 7h0m1 8h0m11-11h0m4 11h0m210-5h0m-195 22h0m-1 5h0m-1-3h0m-5-5h0m-7 5h0m-5-6h0m-13-8h0m-15 8h0m-9 11h0m-3 2h0m-1-5h0m-1 4h0m-24-18h0m-1 17h0m-2-12h0m-9 11h0m-1-13h0m-2 1h0m-1 2h0m-1-2h0m-4 4h0m0 2h0m-5 1h0m-2-7h0m-8-3h0m-4-4h0m-5 10h0m-4 2h0m-11 5h0m-4 1h0m-7 8h0m4 2h0m7 18h0m6-18h0m24 6h0m0 13h0m3-1h0m7-15h0m4 0h0m2 14h0m8-4h0m6-8h0m15 11h0m2-1h0m4 4h0m24-3h0m11 1h0m16-1h0m3-1h0m0-10h0m1-9h0m2 19h0m15 2h0m0-16h0m-7 19h0m-3 10h0m-7 11h0m-5-6h0m-2-2h0m-2 9h0m-4-9h0m-8-4h0m-5 7h0m-7-1h0m-3-3h0m-3-11h0m-2 13h0m-4-4h0m-1-10h0m-4 23h0m-4-3h0m-2-2h0m-13-17h0m0 5h0m-3 8h0m-7 0h0m-3 2h0m-9 2h0m-2-13h0m-17 10h0m-6-14h0m-9 1h0m-2 10h0m-3 7h0m-1-13h0m-2 2h0m-5 10h0m-1 4h0m-2 0h0m-3 1h0m0-20h0m-2 12h0m0 1h0m-4-9h0m0 23h0m47 3h0m4 3h0m1 4h0m0 6h0m4-9h0m5-2h0m7 3h0m2 8h0m7-18h0m3 0h0m4 16h0m3-16h0m2 12h0m1-16h0m1 17h0m3 4h0m2-4h0m0 1h0m1-2h0m10-13h0m1 20h0m2-4h0m4 2h0m4-11h0m1 13h0m2-5h0m11-1h0m1-10h0m2 3h0m1 9h0m0-8h0m7 8h0m-14 6h0m-2 1h0m-9 9h0m-6-2h0m-1-3h0m-5-5h0m-7 0h0m-7 1h0m-3-1h0m-5 19h0m-8-7h0m-4-7h0m-5 4h0m-10-2h0m-3 8h0m-5-12h0m-2-4h0m-4 2h0m-2 2h0m-19-2h0" stroke="#27ae60"/>
<path d="M176 1318h0m64 21h0m-4 0h0m-9 3h0m-17-4h0m-2-9h0m0 11h0m0 3h0m-2-5h0m-2-5h0m0 8h0m-9-7h0m-3 9h0m-3-23h0m-11 1h0m-9 16h0m0 1h0m0-2h0m-1-4h0m-1 10h0m0-6h0m-3-1h0m-6 4h0m-2 19h0m2-7h0m10-1h0m2 13h0m4-7h0m0-7h0m1 11h0m3-6h0m8-9h0m4 0h0m3 0h0m0 15h0m0-7h0m2 8h0m2-15h0m0 0h0m2 17h0m1 3h0m0-21h0m2 13h0m1-7h0m1 6h0m3-7h0m1 6h0m2 6h0m3-18h0m6 2h0m5 0h0m-7 41h0m-10-19h0m-1 19h0m-1-1h0m-4-17h0m-7 18h0m-1-16h0m-2 6h0m-2 0h0m0 1h0m0-3h0m-2 3h0m-19 8h0m7 6h0m9 14h0m0-9h0m2-3h0m0 11h0m3-6h0m20-6h0" stroke="#3498db"/>
<path d="M177 1458h0m0-6h0m1-1h0m4-6h0m4 9h0m0 4h0m0-12h0m2 11h0m0-5h0m1-4h0m3 3h0m3-1h0" stroke="#6d4c41"/>
<path d="M527 1072h0m5-11h0m1 5h0m6 8h0m5-6h0m1 7h0m2-5h0m2 4h0m5 1h0m3-3h0m2-4h0m3 0h0m0-9h0m9 17h0m1 3h0m0-5h0m7-9h0m6 7h0m133 31h0m-12-12h0m-4 12h0m0-11h0m-1 2h0m0 2h0m-1 0h0m-2 7h0m-2-3h0m-1-5h0m-2 2h0m-3 4h0m-11-5h0m-3 6h0m-3-6h0m-8-3h0m-1-6h0m-3 1h0m-1 1h0m-3 10h0m0 3h0m-5-8h0m0-5h0m-2 6h0m0-4h0m-3 1h0m0-5h0m-4 9h0m-2-4h0m-8-1h0m-48 0h0m-1 5h0m0-4h0m-3 9h0m-8-2h0m-4-18h0m-1 20h0m-2-17h0m0 19h0m-2-1h0m0 0h0m-5-13h0m-1 9h0m0-17h0m-2 8h0m-1-8h0m0 21h0m-1-11h0m-2 4h0m-3 3h0m0-5h0m-3 8h0m-1 1h0m0-7h0m-4-7h0m-3-5h0m-1-2h0m-1 14h0m0-15h0m-2 2h0m-1 14h0m-4-4h0m-1 9h0m-2-8h0m-2 5h0m-3-8h0m-65 12h0m-10-2h0m-7 1h0m-5-9h0m-7 10h0m3 8h0m1-2h0m3 1h0m2 10h0m2-10h0m3-2h0m1 2h0m4 8h0m3-10h0m3-3h0m73 0h0m16 13h0m2 5h0m2-15h0m0 11h0m1-10h0m0 0h0m3 6h0m2-8h0m10 14h0m2-3h0m2-7h0m1-3h0m3 1h0m1 8h0m0-4h0m2-6h0m2 14h0m0 3h0m1-14h0m0 5h0m3-6h0m4-4h0m0 4h0m1-1h0m2 6h0m0 2h0m2 4h0m84-12h0m18 15h0m0-2h0m4 5h0m7-20h0m2 2h0m0 3h0m4-4h0m1 17h0m7-7h0m6 8h0m0-10h0m-17 26h0m-1 2h0m-6-11h0m-4 19h0m-6-15h0m-1-3h0m-1 5h0m-18 8h0m-2 4h0m-16-3h0m-8 0h0m0 0h0m-4 4h0m-4 0h0m-18-3h0m-3 2h0m-9-5h0m-1-3h0m-3 6h0m-4 2h0m-5-15h0m-1 8h0m-3 0h0m-4-1h0m0 1h0m0 8h0m-1-13h0m-1-4h0m-2 0h0m-1-4h0m0 16h0m-5-15h0m-3 12h0m-1-2h0m-1 4h0m-11 1h0m-13 0h0m-9 4h0m-1 19h0m4 0h0m2-8h0m11 14h0m4-5h0m0-11h0m4 8h0m1 2h0m1-8h0m2-1h0m8-1h0m10 3h0m8-6h0m0 5h0m5 9h0m1-8h0m1 6h0m4 4h0m10-4h0m1 8h0m0-23h0m3 18h0m2-11h0m4 2h0m1 3h0m4 10h0m5-8h0m0 2h0m1-5h0m3-7h0m1 3h0m1 1h0m10-5h0m13 11h0m2-8h0m1 6h0m3-8h0m1-3h0m3 3h0m3 2h0m2 6h0m0 2h0m2 3h0m0-16h0m1 2h0m2-2h0m2 13h0m7-7h0m9 1h0m21 30h0m-1 0h0m-60 2h0m-11-10h0m-7 11h0m0 4h0m-1-9h0m-1 7h0m-3 1h0m0-5h0m-1-10h0m-9 17h0m0-16h0m0 5h0m-4 0h0m-2 12h0m0-16h0m0-6h0m-7 9h0m0-7h0m-3 13h0m-7-16h0m-4 17h0m-3-9h0m-10 14h0m-10-4h0m-2-2h0m-3-5h0m-3-6h0m-1 6h0m0-4h0m-1-5h0m0 3h0m-2 3h0m-1 12h0m0-5h0m-1 6h0m-3-13h0m-3-5h0m-3 0h0m-4 17h0m-1-12h0m-2 13h0m-3 0h0m-3-5h0m-1 6h0m0-8h0m-1 6h0m-9-11h0m-1 8h0m-17 27h0m5-2h0m2 5h0m1-4h0m12-11h0m2-7h0m4 9h0m3-6h0m1 5h0m2 9h0m2-12h0m3 2h0m8-6h0m19 2h0m11 15h0m3-13h0m2-3h0m1 8h0m1-6h0m0 18h0m2-2h0m1-20h0m3 17h0m0-15h0m2 12h0m0-2h0m4-8h0m4 4h0m0 4h0m2 1h0m3-4h0m1 10h0m8-17h0m3-1h0m8 1h0m8-1h0m6 10h0m0-2h0m3 9h0m1-7h0m3 2h0m1 8h0m1-2h0m11-8h0m34 11h0m3-8h0m0-6h0m2 13h0m11 0h0m37-3h0m1 15h0m-3-5h0m-1-1h0m-8 14h0m-4-11h0m-5-1h0m-2 12h0m-4-12h0m-1 4h0m-2 3h0m0 0h0m-1 1h0m-2 4h0m0-18h0m-3 23h0m-1-6h0m-2 0h0m0-6h0m-4 6h0m-2 4h0m-2-5h0m0-15h0m-7 13h0m-1-13h0m-2 6h0m-1 2h0m0-5h0m-1-2h0m-48 9h0m-2 7h0m-8-2h0m-4 3h0m-1-8h0m-3 9h0m0-1h0m-2 1h0m0 1h0m-5-18h0m-11 0h0m-4 4h0m0 8h0m-5 2h0m-1 0h0m0-1h0m-1-11h0m-2 10h0m-4-11h0m-3 5h0m-2-8h0m0 5h0m-28-4h0m-16 11h0m-16 7h0m-8-1h0m-1-11h0m-4-1h0m-6 12h0m0-15h0m-1 1h0m0 16h0m-3-18h0m-1 13h0m-3-10h0m-1 9h0m-1-11h0m-1 1h0m0-5h0m-1 0h0m-1 18h0m-6-4h0m-3 1h0m3 16h0m5 0h0m1 6h0m2-9h0m7 12h0m3 1h0m1 4h0m0-7h0m2 4h0m1-5h0m1 4h0m0 2h0m4-11h0m4-3h0m1 11h0m1-8h0m2 11h0m2-19h0m1 6h0m4 1h0m11 7h0m4 3h0m4-12h0m0 2h0m0-1h0m2-6h0m0 18h0m3 2h0m0-11h0m2 12h0m0-16h0m4 12h0m1 4h0m1-4h0m3-7h0m0-7h0m1 7h0m1-6h0m15 0h0m1 0h0m6-4h0m3 11h0m11-2h0m9 6h0m1-13h0m2 10h0m4-3h0m2 5h0m13 4h0m6-14h0m2 6h0m0-4h0m2 16h0m1-17h0m1 2h0m7 11h0m2-17h0m3 5h0m0 3h0m34-9h0m23 1h0m16 45h0m-88-2h0m-4-10h0m-1-7h0m0 0h0m-4 16h0m-2-16h0m-1 9h0m-1-4h0m-1 1h0m-1-1h0m-2-6h0m-8 12h0m-2-1h0m-5 0h0m-8-3h0m0-5h0m0 12h0m-4 6h0m-4-10h0m0-1h0m-1 1h0m0-10h0m-1 6h0m-2 4h0m0 1h0m-1-12h0m0 3h0m-3 7h0m-2-5h0m0-2h0m-1 8h0m0 3h0m-1-1h0m-2 3h0m0-18h0m-2 2h0m-1 5h0m-2 9h0m-1-6h0m-5 1h0m-2 8h0m-1-8h0m-2-6h0m-3-4h0m-2 13h0m-3-11h0m-3 1h0m0 0h0m-41 9h0m-22 26h0m5-13h0m3 6h0m0-3h0m1 9h0m0-10h0m14 12h0m3 4h0m0-4h0m4-1h0m5-9h0m0 12h0m19-3h0m1 5h0m3-2h0m19-18h0m3 13h0m2 4h0m3-4h0m5-1h0m1-3h0m5 3h0m1-11h0m4 8h0m1 10h0m2-16h0m2 12h0m5-7h0m12-8h0m7 13h0m7-6h0m2 15h0m5-1h0m2-8h0m2 4h0m1-6h0m5 7h0m7-10h0m4 2h0m1-4h0m0 3h0m5 8h0m0-6h0m3-5h0m1 16h0m4-7h0m13 0h0m2 8h0m5-2h0m16-11h0m0 12h0m3-8h0m7 6h0m2-10h0m3 10h0m1-13h0m1 2h0m0-4h0m0 9h0m1-14h0m0 7h0m1 3h0m0-6h0m1 18h0m0 0h0m1-12h0m1 7h0m3 2h0m3-17h0m6 6h0m3-6h0m9 16h0m4 5h0m0 0h0m-5 1h0m-2 4h0m-7 3h0m-3 10h0m-18 0h0m-1-16h0m-1 13h0m-5-10h0m-16 0h0m-9-3h0m-2 4h0m-4 0h0m-7 2h0m-1-2h0m0 10h0m-12-15h0m-4 5h0m-2-1h0m-2 6h0m0-3h0m-10-5h0m-11 4h0m-6 1h0m-2-2h0m-2 3h0m-4 0h0m-2-4h0m0 10h0m-3-11h0m-4 0h0m0 17h0m-2-4h0m-1-3h0m-3-12h0m0 9h0m-1-10h0m-2 4h0m0 2h0m-2-6h0m-1 7h0m-12-3h0m-35 5h0m-7 8h0m-4-2h0m-3-5h0m-2 12h0m-4-18h0m-3 6h0m-8 4h0m-2 0h0m-4-1h0m0-8h0m0 9h0m-1 2h0m0 5h0m-2-5h0m0 6h0m-5-5h0m0-9h0m-3-1h0m-5 6h0m-1 9h0m-3-4h0m-10-9h0m-1-2h0m-1 1h0m-1 6h0m-1 0h0m-1 0h0m-5-13h0m-1 8h0m-1 11h0m-1-15h0m-5 7h0m36 14h0m6-1h0m2-1h0m6 6h0m2 0h0m4 4h0" stroke="#76d7c4"/>
<path d="M271 1339h0m-6-13h0m-1 7h0m-6 9h0m-4-8h0m-3 1h0m-1-4h0m-1 2h0" stroke="#8e44ad"/>
<path d="M600 1462h0m5-9h0m2 7h0m0 0h0m14-3h0m11-4h0m30 0h0m8-7h0m5 12h0m1-9h0m13 2h0m5 8h0m0 3h0m9 0h0m34 22h0m-7-2h0m0-6h0m-3-3h0m-3-5h0m0 13h0m0-4h0m-1 5h0m-6-7h0m-3-9h0m0 15h0m-1 4h0m-3-1h0m-4-1h0m-1 0h0m-1-7h0m-9-4h0m-1-3h0m-7 15h0m-15-6h0m-9-1h0m0-1h0m0 2h0m0-3h0m-11 4h0m0 1h0m-6-3h0m-1 2h0m0-11h0m-2-4h0m0 0h0m-2 15h0m0-7h0m-4-2h0m-4 0h0m-2 15h0m-2-8h0m0 0h0m-6-9h0m0 13h0m-1-3h0m0-4h0m-7 12h0m-5-18h0m-4 11h0m-3-4h0m0 6h0m-2-2h0m0-10h0m-1 1h0m-8 10h0m-1 5h0m-1-4h0m0-1h0m0-8h0m-2 2h0m-2 10h0m-4-1h0m-4-10h0m-5 5h0m-9 8h0m0-2h0m-28 27h0m15-20h0m2 19h0m0-13h0m5 4h0m3 4h0m5 2h0m2-3h0m2 1h0m0-14h0m1 7h0m3 2h0m5 11h0m1-4h0m8-12h0m0 1h0m8 8h0m1-12h0m1 7h0m5-1h0m1 7h0m2-11h0m2-4h0m1 16h0m4-4h0m1-6h0m1 5h0m6 4h0m3-16h0m6 7h0m0-3h0m2 13h0m2-14h0m1 3h0m4 3h0m10-9h0m3 12h0m1-1h0m3 3h0m10-1h0m2 6h0m0-12h0m3 11h0m8 0h0m5-9h0m7 5h0m4-10h0m3-3h0m0 2h0m1 0h0m0 5h0m1-8h0m1 22h0m2-7h0m9-2h0m12-8h0m1 6h0m2 0h0m4 2h0m9-1h0m6-2h0m1 5h0m19 1h0m-1 28h0m-6-2h0m-2-18h0m0 1h0m-1 10h0m-5 8h0m-7-3h0m-2-15h0m-29-1h0m-6 1h0m-1 18h0m-4-17h0m-1-1h0m-1 18h0m-2-4h0m-11-8h0m-9 13h0m-5-2h0m-1-5h0m-2-8h0m-1 14h0m-2-6h0m-2 6h0m-1-8h0m-1 6h0m-5 2h0m-7-3h0m-2-11h0m-2 0h0m-2-2h0m-1 7h0m-4-11h0m-2 13h0m-1-5h0m-8 6h0m-10 8h0m-2-1h0m-6-18h0m0 13h0m-1 2h0m-1-10h0m-1 9h0m-3-17h0m-5 1h0m-6 1h0m-3 4h0m0 7h0m-3-8h0m-3-3h0m-1 21h0m-1-3h0m-1-7h0m-1 6h0m-1-17h0m-2 12h0m0-3h0m-1-3h0m-5 8h0m-3-12h0m-3 14h0m0-7h0m-1-10h0m-2 19h0m0-19h0m0 10h0m-2-11h0m-2 11h0m-1 1h0m-1-12h0m-1 8h0m-5-3h0m-10 18h0m-4-6h0m22 10h0m1 17h0m5-2h0m2-11h0m1 0h0m3-5h0m2 14h0m7-11h0m1 3h0m2 3h0m0-10h0m1 14h0m9 8h0m0-7h0m1 1h0m0 5h0m0-7h0m4 4h0m4-14h0m7 17h0m1-15h0m5-3h0m4 3h0m11 3h0m25 7h0m8-14h0m2 19h0m6-12h0m2 10h0m8-15h0m8 12h0m5 1h0m1 4h0m5-7h0m1-8h0m1 3h0m8 1h0m0-10h0m1 20h0m3 2h0m7-3h0m0-2h0m8-3h0m3-14h0m8 21h0m7-16h0m8-6h0m5 16h0m6-5h0m11 1h0m-6 26h0m-8 9h0m-2-6h0m-10-9h0m-2 13h0m-17-15h0m-6-3h0m-1 1h0m-1-3h0m-3 13h0m0-12h0m0 1h0m-1-1h0m-1 10h0m-2-3h0m-1 14h0m0-4h0m-1-8h0m-1 11h0m-11-12h0m-4 11h0m-1-20h0m0 3h0m-4 9h0m-1 10h0m-2-20h0m-7 19h0m-17-17h0m-7-4h0m0 20h0m-1-2h0m-1-13h0m0 10h0m-1-11h0m-4 13h0m-15-9h0m-1 7h0m-9-2h0m-1 5h0m-2-9h0m-16 6h0m-3 4h0m-1 2h0m-3-1h0m-3-11h0m-7 9h0m-8-10h0m-2-4h0m-9 0h0m-1 0h0m-1 3h0m32 19h0m5-2h0m2 15h0m20 0h0m1 0h0m4-2h0m5-12h0m5 19h0m7-18h0m9 16h0m2-7h0m8 2h0m4-3h0m1 0h0m1 10h0m15-15h0m5 10h0m11-5h0m2 5h0m5-5h0m0-9h0m2 12h0m5-3h0m3 8h0m2-7h0m1 1h0m1-8h0m2-3h0m1 1h0m10 10h0m1 7h0m-13 9h0m-4 0h0m-14 2h0m-12-4h0m-3 6h0m-4-6h0m-7 5h0m0 5h0m-4-6h0m-20-3h0m-1 4h0m-2-6h0m-1 2h0m-4 4h0m0-1h0m-4-4h0m-6 1h0m-12 5h0m-6 4h0m-6-1h0m-3 2h0m-6 8h0" stroke="#cb4335"/>
<path d="M531 1400h0m5 0h0m8 15h0m1-19h0m1 16h0m2-8h0m1 5h0m4-5h0m4-6h0m4 9h0m1-5h0m4 5h0m9-12h0m11 13h0m5 5h0m210 0h0m-218 13h0m-2 1h0m-1-3h0m-3 9h0m-3-4h0m0 8h0m0-7h0m-3-10h0m-3 18h0m-4-2h0m-4-5h0m-3 6h0m0-16h0m-1-1h0m-1 6h0m-7 5h0m-2-1h0m-8-4h0m-1-5h0m-8 1h0m18 21h0m8 10h0m0 2h0m2 5h0m1 2h0m8-11h0m4-3h0m4 3h0m2 1h0m0-1h0m0 4h0m1-9h0m0 12h0m6 2h0m2-2h0m1-6h0m2-2h0m0-1h0m1 14h0m5-7h0m0 5h0m18 1h0m-1 18h0m-6-2h0m-7-1h0m-1 0h0m0-3h0m-1 0h0m-3-1h0m-8 0h0m-2-1h0m-2 4h0m-12-6h0m-77 15h0m-4 1h0m-11-5h0m7 7h0m2 1h0m13 0h0" stroke="#f39c12"/>
<path d="M380 1313h0m6 2h0m5-5h0m5 7h0m4 0h0m8-1h0m8 20h0m-4-5h0m-4 5h0m-2-16h0m-2 4h0m-1 4h0m-5-2h0m-5 15h0m-11-4h0m-7-1h0m-6 3h0m-30 21h0m3 6h0m1 1h0m18-1h0m0-16h0m1 2h0m9-6h0m0 17h0m1-10h0m4-6h0m3 14h0m14 3h0m4-2h0m0-1h0m2 1h0m5 0h0m0-1h0m1 0h0m6-2h0m53 30h0m-20 0h0m-15 1h0m-14-3h0m-13-12h0m-3-6h0m-2 8h0m0 7h0m-3 3h0m-4 0h0m-1-13h0m-2 8h0m-21-7h0m-3 5h0m-4-11h0m-5-1h0m-1 16h0m-12-9h0m-12 40h0m5-18h0m0 16h0m2-19h0m0-2h0m3 17h0m1-6h0m2-4h0m1 6h0m4-8h0m21 8h0m0-11h0m2 14h0m1-9h0m1 13h0m1-15h0m1-3h0m3 16h0m12-17h0m0-1h0m4 1h0m2 17h0m1-1h0m2 0h0m6-16h0m0 19h0m1 2h0m1-3h0m19-10h0m10 10h0m7-14h0m0 0h0m4 14h0m14-7h0m0-3h0m17 13h0m6-16h0m7 6h0m2 11h0m0-2h0m2-10h0m6 0h0m10 0h0m9 10h0m9 13h0m-7-10h0m-5 5h0m0-4h0m-2 9h0m0-5h0m-1 7h0m-1-9h0m-1 8h0m-2 0h0m0 1h0m-1-6h0m-3 0h0m-1 2h0m-2 4h0m-2-4h0m-3 2h0m-11 2h0m-5-8h0m-3 5h0m-5-1h0m-9-1h0m-2 9h0m-15-15h0m-18-1h0m-16 12h0m-6 4h0m-1-1h0m-17 1h0m-8-1h0m-4-11h0m0 0h0m-5-3h0m-4 14h0m-1 5h0m-2-15h0m-1-1h0m-2-3h0m-2 13h0m-13 6h0m-5-13h0m-7 4h0m-1 0h0m-1-7h0m-4 2h0m22 22h0m5 12h0m0-16h0m5 8h0m6 5h0m18-2h0m0-3h0m1 0h0m13 2h0m2 0h0m2 0h0m1-3h0m25 4h0m1 3h0m4 2h0m6-7h0m2 4h0m1 2h0m51-2h0m3-6h0m10 5h0m2 6h0m12-7h0m1-1h0m7-1h0m-1 21h0m-7 4h0m-8 3h0m-7-3h0" stroke="#f4d03f"/>
<path d="M364 1196h0m-1 3h0m-3-12h0m-2 11h0m-2-3h0m-8-17h0m-5 9h0m-32 5h0m-4 19h0m8 0h0m2 1h0m3-6h0m1 4h0m4 1h0m6 11h0m7-6h0m2 7h0m9-1h0m1-7h0m11 7h0m10-18h0m1 25h0m-11 10h0m0-9h0m-1 4h0m-5 6h0m-1-11h0m0 6h0m-3 1h0m-1 10h0m-7-22h0m-4 21h0m0-1h0m-4-16h0m-3 17h0m-9-12h0m-2-9h0m0 2h0m-4 4h0m-2 0h0m-2-4h0m0 10h0m-3 14h0m5 7h0m15 6h0m3-15h0m1 10h0m4 4h0m7-5h0m10 6h0" stroke="#fda896"/>
<path d="M784 1397h0m3 0h0m14 0h0m2 16h0m2-8h0m1 5h0m1 3h0m15 2h0m16 0h0m1-12h0m1 10h0m1-9h0m9-6h0m3 1h0m1-2h0m9 2h0m1-5h0m8 12h0m4-5h0m1-3h0m4-4h0m-48 24h0m-1 0h0m-1 1h0m-1 5h0m-3-7h0m-1 9h0m-2-8h0m-2 0h0m-1 9h0m0-8h0m-6 0h0m-8-2h0m-2 1h0" stroke="#1a237e"/>
<path d="M373 1452h0m45 34h0m0 1h0m-31-1h0m-1-10h0m-4 10h0m-2-7h0m-5-2h0m-6 4h0m-10-2h0m-14 7h0m-14 14h0m2 10h0m2-18h0m3-3h0m5 8h0m5-7h0m12 13h0m8 1h0m1-12h0m2 5h0m7-1h0m2 12h0m1-19h0m22 1h0m2 6h0m0-7h0m12 16h0m3 5h0m0 0h0m0-13h0m2 11h0m6-7h0m3-12h0m22 12h0m12 23h0m-4-4h0m-5 1h0m-3 6h0m-18-15h0m0 6h0m-20-4h0m-8 15h0m-5 6h0m-1-12h0m-2 12h0m-3-13h0m-1-1h0m-10-1h0m-9 9h0m-6-15h0m-9 12h0m-11-8h0m-8-1h0m-3 7h0m-1-10h0m-1 9h0m-2 5h0m-3-8h0m0 6h0m-1-4h0m-6 11h0m-2 2h0m0-10h0m-4-1h0m-1-1h0m-3-2h0m-3-5h0m-3 15h0m-5 10h0m2 1h0m1 5h0m7 5h0m5-9h0m3 6h0m6-3h0m0-6h0m12-3h0m11 10h0m8 6h0m18 6h0m2 0h0m1 0h0m2-9h0m4 4h0m0-1h0m2-9h0m4 6h0m0 7h0m6-13h0m60 15h0m7-6h0m8 1h0m-7 6h0m0 5h0m-1-4h0m-8 10h0m-5 4h0m0-10h0m-12 16h0m-1-9h0m-4 5h0m-6-7h0m-8 6h0m-6-15h0m-4 14h0m-5-10h0m-1 2h0m-1-5h0m-1 3h0m-1 8h0m0 0h0m-5-13h0m-4 2h0m0 21h0m-2-19h0m-7 3h0m-3-3h0m-2 5h0m-5 12h0m-11-21h0m-2 18h0m-1-17h0m-4 19h0m-1-16h0m-3 15h0m0 0h0m-2-13h0m0 0h0m-4 2h0m-24 3h0m-3-1h0m0 4h0m-3 4h0m-1 5h0m-3-9h0m-1 10h0m4 4h0m5 6h0m3 12h0m11-9h0m15-9h0m6 7h0m1-9h0m1 9h0m5 3h0m3 1h0m1-7h0m5-7h0m2 20h0m11-13h0m1 9h0m4-9h0m0-3h0m3 8h0m2 3h0m2 6h0m1-2h0m3-18h0m9 19h0m1-2h0m0-1h0m4 2h0m1-8h0m1 11h0m3-23h0m12 7h0m0-1h0m7 5h0m2 2h0m18-6h0m-17 17h0m-19 8h0m-4 4h0m-1 1h0m-4-5h0m0-3h0m-2 8h0m-2 8h0m-3-3h0m-5-15h0m-1 1h0m-7 14h0m-9-6h0m-2 11h0m-1-20h0m-10 10h0m0 0h0m-6-5h0m-2 12h0m-2-19h0m-4 4h0m-4-5h0m-1 9h0m-9-1h0m-1 3h0m32 13h0" stroke="#27ae60"/>
<path d="M178 1317h0m61 21h0m-8 4h0m-18-3h0m-4-5h0m-1-5h0m-1 9h0m-3 4h0m-9-13h0m-6-1h0m-4-7h0m-1 7h0m-9-1h0m-4 11h0m-1-4h0m0-1h0m-1 5h0m-1 1h0m-3-6h0m-5 6h0m-1 1h0m-6 10h0m10 11h0m8-7h0m5 3h0m0 1h0m3 2h0m2-9h0m2 10h0m2-2h0m5 7h0m0-4h0m4 4h0m0-4h0m1-9h0m3-9h0m3 2h0m1 3h0m3 2h0m1 13h0m3-18h0m0 7h0m1-5h0m1 3h0m23-7h0m-26 30h0m-1 8h0m-6 9h0m-8-23h0m0 16h0m-3-3h0m0-6h0m-23 12h0m14 7h0m3 4h0m2-1h0m4-2h0" stroke="#3498db"/>
<path d="M173 1452h0m22-2h0" stroke="#6d4c41"/>
<path d="M527 1073h0m14 5h0m3-3h0m0 4h0m5-2h0m1-8h0m1 5h0m4 3h0m1-3h0m0 3h0m0-5h0m2 2h0m0-15h0m2 5h0m4-5h0m10 11h0m5-5h0m142 34h0m-4-5h0m0 3h0m-5-5h0m-4 4h0m-3 7h0m-5-9h0m-1 4h0m0 5h0m-1-6h0m0 3h0m-2 0h0m-3-3h0m-4 5h0m0 0h0m-8-10h0m0 5h0m-1-3h0m-3-2h0m-1 5h0m-1 3h0m-2-7h0m-1 9h0m-2-1h0m-6-11h0m0 8h0m-1 4h0m-5-1h0m-2-15h0m-3 9h0m-1-6h0m0 6h0m-1 4h0m-1-5h0m-3-4h0m-2 2h0m0 2h0m-2-2h0m-2-3h0m-52 0h0m0 10h0m-11 3h0m-3 1h0m-6-14h0m-5-1h0m0 1h0m-3 1h0m-3 11h0m-3-13h0m-1 5h0m0 1h0m-1 5h0m-1-19h0m-2 15h0m-2-9h0m-3-4h0m0 0h0m-5 6h0m-1-2h0m-6 12h0m-1-6h0m-6 4h0m-2-2h0m-1-2h0m-3-7h0m-71 16h0m-2-2h0m-1-1h0m-1-1h0m-4-1h0m0 0h0m-13 0h0m-2 17h0m1-4h0m2 4h0m3 0h0m11-9h0m8 4h0m69 1h0m4 0h0m2-2h0m4 0h0m7 10h0m0-2h0m5 5h0m4-12h0m0 10h0m14-6h0m0 7h0m1 1h0m2 2h0m0 0h0m0-5h0m3 5h0m2-17h0m2 13h0m1-4h0m0 6h0m1-12h0m1-1h0m1 20h0m0-11h0m0 1h0m5 3h0m3 5h0m4-6h0m0-8h0m101 2h0m4 9h0m2 0h0m3-4h0m1-10h0m2-3h0m2 0h0m1 0h0m1 3h0m1 7h0m1-8h0m6 1h0m1-1h0m0 3h0m1 2h0m0 2h0m2-3h0m2-6h0m0 11h0m3 5h0m3-16h0m1 11h0m3-11h0m-26 29h0m-4 2h0m-1 10h0m-6-9h0m0-9h0m-5 10h0m-1-2h0m-3 4h0m-8 9h0m-11 2h0m-2-3h0m-5-3h0m-5 0h0m-4 5h0m-4-8h0m-9 3h0m0 0h0m-4-5h0m-3 10h0m-4-1h0m-1-3h0m-6 1h0m-9 4h0m-6-9h0m-4 7h0m-1-3h0m-2-10h0m-2 3h0m-1-8h0m0 12h0m-1 4h0m-2-15h0m-1 2h0m0 16h0m-6-4h0m0-5h0m-1 6h0m-4-7h0m0 11h0m-6-12h0m-9 8h0m-9-1h0m-6 4h0m-14-6h0m-33-5h0m38 31h0m1-11h0m1 9h0m7-11h0m1 2h0m3-3h0m2 4h0m4-3h0m5 1h0m2 5h0m0 3h0m7-4h0m2 2h0m1-3h0m1 4h0m1-2h0m6 4h0m1-14h0m2 14h0m4-13h0m12 10h0m2 8h0m1-11h0m2 0h0m3-7h0m1 5h0m1 7h0m3-5h0m0-9h0m1 9h0m0-3h0m2 15h0m1-8h0m0-9h0m3-2h0m0 3h0m2-1h0m4-4h0m0 12h0m4-6h0m3 7h0m1 3h0m3 2h0m22-8h0m0 6h0m2 3h0m1-10h0m1-7h0m1 12h0m1-8h0m2 6h0m9 3h0m5-2h0m10 5h0m15-10h0m-60 22h0m-12 15h0m-3 2h0m0-7h0m0-4h0m-1 2h0m-3 6h0m-2-9h0m-1 12h0m-4-3h0m-1-14h0m0-3h0m0 4h0m-7 14h0m0-9h0m-1-8h0m-21 13h0m-1 0h0m-5 3h0m-4-7h0m-11-11h0m-2 1h0m-2 2h0m-2 2h0m0-6h0m-2 7h0m-1-3h0m-2-2h0m-1 4h0m0 9h0m-4-10h0m-1 16h0m-5-19h0m-3 16h0m-1 4h0m0-9h0m-4 7h0m-1 2h0m-1-12h0m-3-10h0m-5 0h0m-3 1h0m-18 43h0m3-2h0m8 0h0m0 2h0m2-5h0m18 2h0m3-16h0m2 8h0m1 10h0m5-16h0m5-4h0m1 18h0m2 3h0m5-1h0m0-19h0m3 14h0m17 0h0m0 3h0m2 4h0m2 0h0m2-1h0m1 2h0m2 0h0m4-17h0m4 1h0m5 9h0m5-13h0m2 14h0m0 0h0m4 4h0m0 0h0m5-5h0m4-2h0m1 8h0m1-14h0m6 0h0m6 10h0m0-7h0m4 5h0m3-3h0m4 10h0m1-1h0m13-22h0m39 14h0m0 5h0m2-6h0m2 1h0m0 8h0m2-19h0m2 6h0m5-8h0m23 4h0m2 14h0m4-10h0m11 29h0m-3 0h0m-1-1h0m-7-4h0m-1 0h0m-1 9h0m-4 5h0m-5-17h0m-3 1h0m-4 10h0m0 2h0m-3 1h0m-4-6h0m-4-14h0m-3 13h0m0 9h0m-3-16h0m0 16h0m-10 0h0m0-3h0m-43-18h0m-2 8h0m-15-4h0m-2 16h0m-3-5h0m-4-6h0m-11-6h0m-14 5h0m-1 0h0m-1 2h0m-1-3h0m-1 10h0m-2-3h0m-8-11h0m-1-1h0m-1 2h0m-1 6h0m-9-10h0m0 4h0m-14 14h0m-13-10h0m-11 10h0m-1-12h0m-7 8h0m-3-3h0m0 8h0m-7-3h0m-4-3h0m-2 5h0m-3-7h0m0-3h0m-2 3h0m-1-5h0m-1 2h0m-1 0h0m-3-6h0m-3 6h0m-6 14h0m-2-15h0m-1-2h0m0-4h0m-3 21h0m-1-12h0m-2-1h0m-2-1h0m-5 12h0m0 15h0m4-1h0m5-2h0m3 12h0m1-19h0m1 4h0m3 6h0m3 3h0m2 7h0m5-7h0m1-8h0m1 8h0m2 2h0m1 3h0m1-11h0m0 7h0m1 3h0m0-5h0m1 6h0m1 3h0m1-1h0m0-6h0m0 0h0m0 4h0m2 2h0m3-17h0m0 2h0m1 2h0m0 13h0m4-22h0m4 19h0m2-8h0m0 2h0m1-1h0m6-1h0m10 0h0m1 10h0m6-2h0m1-12h0m6 13h0m1-5h0m1-10h0m0 15h0m1-14h0m0-2h0m4 4h0m16 9h0m24-1h0m2-4h0m4 9h0m0-17h0m4 3h0m1-5h0m3-1h0m10 22h0m1-8h0m7-2h0m0-11h0m3 7h0m1 2h0m1 1h0m0 0h0m3 9h0m3-14h0m2 10h0m4-12h0m0-1h0m4 2h0m47-6h0m6 10h0m13-3h0m1-4h0m-73 25h0m-2-2h0m-11 18h0m-2-8h0m-1-11h0m-3 7h0m-1-2h0m-1 1h0m-1 5h0m-3 4h0m-3-13h0m-8 4h0m0 0h0m-2 1h0m-5 9h0m-11-1h0m-9-7h0m0-1h0m-1 1h0m-6-2h0m-2-4h0m-2 16h0m0-7h0m-1 5h0m-2-10h0m-2 10h0m-1-15h0m-1 18h0m0-17h0m-1 14h0m-4 2h0m-2 3h0m-3-1h0m-1-21h0m-10 1h0m-33 1h0m-2 3h0m-5 3h0m-14 14h0m-31 25h0m6-17h0m3 6h0m3 0h0m5 0h0m1 11h0m0-6h0m1-5h0m1-5h0m2 9h0m2 3h0m0-2h0m0-11h0m3-4h0m0 10h0m1-11h0m16 20h0m1 1h0m3 0h0m0-7h0m0-2h0m0 2h0m2-4h0m5 6h0m9 3h0m3-5h0m25-6h0m2-7h0m2 20h0m0-14h0m7-8h0m2 12h0m2 10h0m2-20h0m1 4h0m1-5h0m6 16h0m5-2h0m1-1h0m11-13h0m4 8h0m2 8h0m3-6h0m5-1h0m1-2h0m4-2h0m1 12h0m15-8h0m2 8h0m0-2h0m1 0h0m5-10h0m12 8h0m2 4h0m2-12h0m6 17h0m5-6h0m0 1h0m4 0h0m5 5h0m0-5h0m4 3h0m2-1h0m1 1h0m1-1h0m2 3h0m0-2h0m5 1h0m0-4h0m1 4h0m3 0h0m3-12h0m1 8h0m3-13h0m5-3h0m2 5h0m1 14h0m0-6h0m0-7h0m1-4h0m0 16h0m3 2h0m0-19h0m1 5h0m6 1h0m4 6h0m1-2h0m1-10h0m0 12h0m5 2h0m1 5h0m0 1h0m3-8h0m3 11h0m0 1h0m-11 16h0m-1-12h0m-1 7h0m-3-2h0m-1-12h0m-3 17h0m-1-2h0m-1-3h0m-3-10h0m-1 10h0m0 6h0m-1-9h0m0-5h0m-4 14h0m-8-16h0m-5 7h0m-10-2h0m-2-2h0m0-4h0m-1 0h0m-7 0h0m-1 0h0m-5 3h0m-24-4h0m-2 2h0m-2-1h0m-1 0h0m-18 8h0m0-2h0m-3-5h0m-1 0h0m-2 6h0m-3 7h0m-2-12h0m-2 12h0m-4-13h0m-3 8h0m-1-9h0m-6 1h0m-4 7h0m-1 5h0m-17-14h0m0 0h0m-33 13h0m-5-8h0m0 14h0m-1-8h0m-1-5h0m-6-1h0m-3 6h0m-1-1h0m-2 2h0m-1-8h0m0-1h0m0 15h0m-3 5h0m-4-3h0m-1 3h0m-4-22h0m-1 3h0m-3 13h0m-1-1h0m-5-3h0m0-3h0m-5 6h0m-5 3h0m-2 2h0m0-8h0m-2 0h0m-3 0h0m-2-8h0m-1 0h0m-1 15h0m-2-13h0m-1 7h0m-2-5h0m20 26h0m4-8h0m21 2h0m1 4h0" stroke="#76d7c4"/>
<path d="M266 1332h0m-7-3h0m-1 6h0m-6-5h0m-1 3h0" stroke="#8e44ad"/>
<path d="M656 1437h0m-76-5h0m23 25h0m22-3h0m7 4h0m9 3h0m1 1h0m2-11h0m13 5h0m9-2h0m7 6h0m0-12h0m18 11h0m3-3h0m7 3h0m26 13h0m-7 11h0m0-13h0m-2-4h0m-5 21h0m-1-3h0m-5-5h0m-1 6h0m-1-15h0m-13 15h0m0-19h0m-1 10h0m-1 7h0m-2 1h0m-2-19h0m-3 22h0m-8 0h0m-1-1h0m-5-7h0m-1-12h0m-1 9h0m-7 3h0m-3-3h0m-4 5h0m-1-9h0m-2 2h0m-3-8h0m-1 0h0m-4 7h0m-6 4h0m-1 5h0m-20-11h0m-4 5h0m0 8h0m-1-1h0m-2-16h0m-3 1h0m-3 12h0m-3-7h0m-2 2h0m-1 6h0m-2-3h0m-4-5h0m-1-3h0m-1 9h0m0-7h0m-6 12h0m-4-6h0m-3 6h0m-10 3h0m-24 10h0m17-8h0m14 18h0m0 1h0m7-16h0m5 9h0m4 10h0m2-13h0m1-5h0m2 12h0m3-14h0m0 15h0m1-3h0m0 0h0m0 8h0m1-8h0m1-10h0m2 17h0m0-6h0m5-10h0m2 1h0m1 4h0m0-6h0m4-2h0m0 1h0m7 10h0m1-10h0m2 11h0m1 1h0m1-16h0m0 6h0m2-2h0m1 12h0m5 3h0m0-12h0m1-3h0m1 11h0m2-13h0m0-2h0m9 14h0m1 9h0m10-7h0m7-1h0m8-2h0m1 10h0m3-12h0m6-5h0m5 3h0m2-3h0m7-1h0m3 1h0m13-6h0m2 11h0m9-7h0m4 2h0m9 7h0m2 1h0m0 0h0m5-1h0m1-7h0m6 7h0m2-8h0m1 6h0m2-2h0m2-8h0m4 20h0m2-6h0m8 21h0m-10-1h0m-1-3h0m-10 0h0m-5 0h0m-3 11h0m-6-11h0m-3 6h0m-5 5h0m-1-18h0m-2 4h0m-12-1h0m-7-4h0m-1 23h0m-3 0h0m0-2h0m-1-13h0m-2 15h0m0-7h0m-1 4h0m-3-8h0m-2-11h0m-2 4h0m-12-5h0m0 20h0m-2 2h0m-4-1h0m-1-3h0m-12-12h0m-4 9h0m-1-5h0m-3-7h0m-8 8h0m-3-10h0m-4 22h0m0-11h0m-8 2h0m-2 9h0m-1-12h0m-14 0h0m-3 1h0m-10 5h0m0 1h0m-9 3h0m0-9h0m-3 5h0m-1 5h0m-2-10h0m-6-10h0m-5 14h0m0-3h0m-4-4h0m-9 7h0m-3 7h0m-1-13h0m-10 13h0m-83 20h0m90 1h0m3-19h0m1 18h0m10-18h0m3 12h0m1-11h0m7 21h0m3-9h0m1-3h0m0-8h0m2 4h0m1 6h0m3-5h0m2 15h0m3-22h0m3 8h0m4 4h0m1 2h0m8-1h0m5-13h0m2 21h0m0-15h0m0 11h0m4-4h0m5 8h0m4-5h0m4-14h0m8 13h0m12-8h0m4 8h0m10-16h0m0 5h0m7 1h0m14-3h0m4 19h0m2-18h0m1 18h0m0-5h0m3-7h0m2 2h0m2-8h0m2 16h0m3-6h0m0-12h0m3 2h0m5 7h0m8 7h0m13-2h0m2-12h0m5-3h0m3 15h0m11-4h0m7 6h0m0-2h0m5-16h0m-3 39h0m-5-15h0m-4 0h0m-3 6h0m-21 11h0m0-14h0m-1-1h0m0 8h0m-1 0h0m0-8h0m-4 10h0m-6 1h0m-4-8h0m-4-4h0m0 12h0m-6-6h0m-6-3h0m-1-1h0m-10 5h0m-1 15h0m-8-13h0m0 4h0m-7-2h0m-7 9h0m-1-3h0m-5-6h0m-2 2h0m-5 0h0m0-4h0m-5 12h0m-6-7h0m-8 8h0m-5-20h0m-7 4h0m-21 4h0m-1 8h0m-2-8h0m-1 5h0m-20-6h0m-1-10h0m-9 0h0m37 27h0m1 2h0m10 10h0m7-6h0m4 13h0m4-13h0m3 8h0m2-8h0m2 11h0m14-14h0m17 14h0m2 0h0m4-6h0m2 7h0m4-11h0m10 1h0m1-3h0m6 8h0m17 6h0m20-20h0m3 20h0m2-3h0m1-4h0m1-6h0m1 3h0m3-1h0m1-10h0m4 4h0m-26 28h0m-13-8h0m-5 15h0m-4-12h0m-12 15h0m-4-8h0m-3-8h0m-1 3h0m-14 7h0m-7-11h0m-6 5h0m-17-1h0m-1 7h0m-2-10h0m0 6h0m-4-9h0m0 5h0m-4 6h0m-3 1h0m-10 5h0m-7 5h0" stroke="#cb4335"/>
<path d="M533 1407h0m4-6h0m5-8h0m1 7h0m2 13h0m1-2h0m0-12h0m2 0h0m3-6h0m2 6h0m3 13h0m4-2h0m2 2h0m5-2h0m6 0h0m2-11h0m3 4h0m3 10h0m6-3h0m3 5h0m13 15h0m0-1h0m-6 0h0m-4-1h0m-10 10h0m-4-2h0m-2-12h0m-4 2h0m-2 10h0m-9-2h0m-8-14h0m-2 3h0m-9 10h0m-5 2h0m-5-7h0m0-5h0m-1-6h0m-1 9h0m-1 2h0m-3 1h0m17 16h0m8 10h0m0-1h0m6 9h0m1-6h0m0 5h0m0-20h0m4-2h0m2 19h0m1-10h0m3-7h0m3 9h0m0 7h0m2-14h0m1 4h0m3-3h0m2 8h0m5 0h0m3-5h0m2 1h0m1 3h0m0-11h0m21 40h0m-1-13h0m-2 10h0m-9-9h0m-7 7h0m-37-10h0m-3-2h0m-67 23h0m-10-1h0m0 1h0" stroke="#f39c12"/>
<path d="M379 1316h0m5 0h0m2-6h0m10 5h0m4 4h0m13 15h0m-4-11h0m0 9h0m-5-4h0m-6 6h0m-4-12h0m-12 1h0m-8 3h0m-9 11h0m-13 20h0m3 8h0m7-14h0m10-3h0m2 16h0m1-16h0m2 10h0m1 0h0m18 2h0m1 2h0m2-1h0m1 4h0m1-5h0m1-11h0m2 14h0m4-11h0m3-1h0m1 10h0m55 28h0m-10 2h0m-44-8h0m-2 1h0m-2-3h0m-9 1h0m0 8h0m-2-6h0m0-4h0m-5-11h0m-2 18h0m-10-14h0m-13 7h0m-2-10h0m-8 20h0m-16-17h0m-16 20h0m11 12h0m0 3h0m2 0h0m3-16h0m20 21h0m1 1h0m3-2h0m2-12h0m2 14h0m2-9h0m1 5h0m12-4h0m1-6h0m6 13h0m2-9h0m0-5h0m11-6h0m5 14h0m2-2h0m0-2h0m0 5h0m2 1h0m7-8h0m1 5h0m1-1h0m1 4h0m3 0h0m0-10h0m1 6h0m4 2h0m5 4h0m1-2h0m6-10h0m5 16h0m4-20h0m1 4h0m1-1h0m2 5h0m4-3h0m3 12h0m3-3h0m1-8h0m4 1h0m4-2h0m2-5h0m23 4h0m32 28h0m-11 4h0m-1-12h0m-11-3h0m-1 7h0m-1 0h0m-1 8h0m-1-4h0m-2-5h0m-1 11h0m-1-9h0m-7-7h0m-4 13h0m-6-14h0m-3 4h0m0 4h0m-4 5h0m-25-13h0m-31 2h0m-3 1h0m-6 4h0m-40 14h0m0-15h0m-3-2h0m-5 16h0m-1 1h0m-1-2h0m0-6h0m-4 2h0m-1 2h0m-1 3h0m-1-17h0m-2 20h0m-14-21h0m0 3h0m-4 1h0m-3 0h0m-4-5h0m-1 12h0m28 12h0m1 4h0m6-3h0m2 10h0m1-11h0m10 6h0m13 2h0m10 1h0m11 2h0m1 0h0m10 2h0m1 1h0m7-4h0m0 4h0m5-2h0m3 1h0m5 2h0m53-9h0m5 0h0m1 4h0m2-10h0m1 6h0m4 7h0m0 3h0m1 1h0m16-14h0m0 26h0m-3 5h0m-12-5h0m-2-2h0m-1 13h0m-2-12h0" stroke="#f4d03f"/>
<path d="M331 1175h0m16-3h0m19 14h0m-11 12h0m-5-1h0m-4 1h0m-7-16h0m-1 13h0m-4-13h0m0-6h0m0 6h0m-7 5h0m-4 2h0m0-8h0m-1 9h0m-1-1h0m-8 25h0m6-6h0m0 4h0m2-9h0m0 0h0m2 7h0m1 5h0m16 4h0m4 0h0m4-13h0m2 11h0m6-14h0m2 20h0m1-9h0m1-13h0m1 5h0m1 7h0m2-3h0m1-5h0m2 1h0m0-5h0m3 5h0m-8 23h0m-5-5h0m-2 19h0m-4-2h0m-1-6h0m-3 4h0m-8 4h0m-12 3h0m-2-1h0m-5-20h0m0 3h0m0-1h0m-1 3h0m-3-6h0m-6 12h0m-6-6h0m0 0h0m-3-6h0m11 29h0m3 3h0m1-6h0m12 6h0m9-6h0" stroke="#fda896"/>
<path d="M788 1392h0m5 10h0m9-2h0m2 4h0m3 8h0m3 2h0m14 1h0m12-3h0m9-9h0m2-2h0m13-2h0m1-1h0m0 1h0m1-2h0m2 1h0m1 4h0m0-6h0m5 11h0m0-13h0m4 7h0m11-3h0m-53 22h0m-10 8h0m-6 0h0m-11-10h0" stroke="#1a237e"/>
<path d="M372 1453h0m0-1h0m37 29h0m-22 0h0m-10-7h0m-3 12h0m-4 0h0m-3-5h0m-9 2h0m-44 28h0m10-17h0m2 14h0m0 1h0m3-2h0m11-9h0m4 11h0m4-1h0m7-12h0m3-3h0m2-5h0m1 0h0m10 1h0m15 20h0m3-4h0m17-12h0m11 3h0m0 8h0m3-1h0m6 8h0m2-9h0m1-8h0m3 14h0m10-11h0m6-3h0m25 29h0m-6 1h0m-4 5h0m-1 0h0m-3 2h0m-5-10h0m-18-2h0m-5-1h0m0-3h0m-3-1h0m-7-1h0m-2 3h0m-11 6h0m-4 3h0m0 9h0m-7-12h0m-3-1h0m-1 0h0m-5 3h0m-9 8h0m-2-4h0m-1 4h0m-1 3h0m-8-19h0m-2 9h0m-3 9h0m0-11h0m-8 2h0m-16-4h0m0 8h0m-9-6h0m-18 11h0m-1 1h0m-4-13h0m-8 18h0m3 13h0m2-16h0m0 10h0m8-11h0m7 11h0m1 3h0m0-11h0m3 14h0m4-10h0m4 11h0m5-14h0m15 9h0m1-8h0m4-3h0m7 19h0m14 0h0m4-15h0m1 14h0m1-15h0m8 17h0m2-5h0m1-2h0m4-11h0m6 10h0m5 0h0m42-3h0m2-3h0m5-5h0m7 17h0m1-8h0m5 9h0m-6 4h0m-2 5h0m-11-4h0m-11 11h0m-1 8h0m-1-9h0m-3 4h0m-6-8h0m0-8h0m-3 3h0m-13 16h0m-10-17h0m-1 4h0m-6 0h0m-15-1h0m-5 8h0m-4 0h0m-2-9h0m-3 15h0m-1 2h0m-5-11h0m-5-8h0m-1 2h0m-1 11h0m-6-14h0m-3 7h0m-1 10h0m-2-10h0m-4 4h0m-1-3h0m-14 10h0m-11-12h0m-3 1h0m-5-2h0m-2-1h0m-1 12h0m14 24h0m3 0h0m4 6h0m1-14h0m3 13h0m3-7h0m1-8h0m4 13h0m1-11h0m3 11h0m0 0h0m6-11h0m4-9h0m14 13h0m3 4h0m12-8h0m8 8h0m1-11h0m0 2h0m0-4h0m5 17h0m1-1h0m7 3h0m16-17h0m2 16h0m4-8h0m5 0h0m1 6h0m6 3h0m1-15h0m3 9h0m1-2h0m3 2h0m0 5h0m6-7h0m-11 14h0m-6 5h0m-2-1h0m-1 2h0m-5-7h0m-1-3h0m-5 6h0m0 10h0m-1-13h0m-2-3h0m-11 1h0m-1 0h0m0 0h0m-5 10h0m-1-12h0m-1 0h0m-9 23h0m-1-23h0m-2 21h0m-14-18h0m-5 3h0m-1-5h0m-3 9h0m-3 6h0m-5-5h0m-1-4h0m-3 0h0m-15 6h0m18 11h0" stroke="#27ae60"/>
<path d="M211 1341h0m-4 2h0m-1-4h0m-2-1h0m-1 0h0m0-1h0m-1 6h0m-14-12h0m-4 3h0m-11 5h0m-7-8h0m-1 8h0m-15 3h0m8 3h0m4 0h0m0 0h0m13 19h0m1-11h0m0 6h0m3 6h0m3 0h0m9-7h0m0 1h0m0 7h0m1-22h0m5 5h0m5 11h0m2-16h0m1 17h0m8-7h0m-3 21h0m-1 2h0m0 0h0m-2 8h0m-1-6h0m-1 5h0m-1-11h0m-6 12h0m-3-3h0m-3-6h0m-8-6h0m-9 7h0m0 6h0m-1-1h0m-4-3h0m4 22h0m3-2h0m26-3h0m2-4h0" stroke="#3498db"/>
<path d="M184 1430h0m1 22h0m2 2h0m4-10h0m2 7h0m0 8h0m3-3h0m1-4h0" stroke="#6d4c41"/>
<path d="M531 1076h0m4-3h0m5 5h0m1-5h0m3-6h0m1-11h0m8 17h0m0-11h0m1 17h0m2-11h0m14-5h0m0 6h0m13-1h0m97 0h0m37 31h0m-2 2h0m0-1h0m-5 3h0m-7 0h0m-12-8h0m-3 5h0m-8-7h0m-7 3h0m-2 1h0m0 2h0m-2-10h0m0-1h0m-7 11h0m-7-6h0m-2 1h0m0-3h0m-2 0h0m-1 2h0m-7-4h0m-54 6h0m-3 1h0m-4-12h0m-2 1h0m-6 17h0m-1-18h0m-4 8h0m-6-4h0m-5-8h0m-1 7h0m-3 2h0m-5-7h0m-1 3h0m-3 8h0m0-7h0m0 6h0m-2-2h0m0-1h0m-3 7h0m-11 3h0m-4-2h0m-1 3h0m0-10h0m-3 1h0m-3-11h0m0 2h0m-1 17h0m-74-5h0m-5-1h0m-11 11h0m0 2h0m3 10h0m8-6h0m1-1h0m13-5h0m72 0h0m12 15h0m2-4h0m3 4h0m4-9h0m4 15h0m0-4h0m2-14h0m4 11h0m0 9h0m1-7h0m0 2h0m1-5h0m0 8h0m1-13h0m1-3h0m0 17h0m1-4h0m1-5h0m6-7h0m4-6h0m0 0h0m1 5h0m0 4h0m2 7h0m4-2h0m3 2h0m0-15h0m3 14h0m1 6h0m0-4h0m1-16h0m4 19h0m1 3h0m103-20h0m0 2h0m1 4h0m2-6h0m5 2h0m3-4h0m1 1h0m2 4h0m4 13h0m0-19h0m2 8h0m1-3h0m1 3h0m1 0h0m2 15h0m1-19h0m0-3h0m1 0h0m0 4h0m1-1h0m2 10h0m2-9h0m-24 32h0m-4 6h0m-5-1h0m0-17h0m-1 1h0m-1 19h0m-5-7h0m-8-9h0m-15 13h0m-9 3h0m-5 1h0m-4-9h0m-5 0h0m-2 8h0m-2-3h0m0 5h0m-1-5h0m0 0h0m-1 1h0m0 3h0m-1-4h0m-2 0h0m0 2h0m-1 1h0m0-9h0m-1 4h0m0-2h0m-13 6h0m-5 3h0m0-2h0m-7 0h0m-9-4h0m0 3h0m-1-4h0m-3-11h0m-7 14h0m-1-15h0m0 0h0m-1-2h0m-1-1h0m-4 21h0m-3-14h0m0-1h0m-1-1h0m0 16h0m-3-2h0m-5-12h0m-4-8h0m-7 20h0m0-15h0m-10 12h0m-9 26h0m1-5h0m0 2h0m2 2h0m3-13h0m2-3h0m3 2h0m3 19h0m4-1h0m7-16h0m7-2h0m5 8h0m4-1h0m0-9h0m3 14h0m15-11h0m2 1h0m2 11h0m4-2h0m1 4h0m4-12h0m0 5h0m1 4h0m11-9h0m0 0h0m1 12h0m9-12h0m1-7h0m2 11h0m2 6h0m1-13h0m1 8h0m2-10h0m6 9h0m4-11h0m5 8h0m4-8h0m4 2h0m2 11h0m4-11h0m2 1h0m1 3h0m3 9h0m2-15h0m39 37h0m0 0h0m-4 1h0m0-2h0m-70 11h0m-14-6h0m-1-2h0m0-6h0m-1-2h0m-2-5h0m-1 20h0m-1-4h0m-2-12h0m-1 5h0m-2 11h0m-3-22h0m-1 1h0m-3 12h0m0 6h0m-7 2h0m0-2h0m-6-7h0m-1-7h0m-7 3h0m-1 6h0m-14-7h0m-8-1h0m-3 3h0m-2-6h0m-2 3h0m-2 12h0m0 5h0m0-9h0m-1-4h0m-5 12h0m-1-9h0m-2-4h0m0-9h0m0 19h0m-2 3h0m-1-21h0m-1 12h0m-1-11h0m-1 11h0m-5-1h0m-3-6h0m-1-2h0m-3 16h0m-2-18h0m-28 45h0m6-3h0m18 3h0m11-7h0m1-7h0m1-8h0m0 6h0m1-7h0m1 12h0m2-11h0m1 11h0m4-7h0m4-5h0m1 7h0m0-6h0m3-1h0m19 8h0m12-8h0m2 22h0m0-20h0m1 8h0m7 12h0m2-15h0m3 15h0m0-17h0m0 12h0m7-3h0m2-11h0m4 17h0m4 3h0m2-15h0m3 11h0m3-11h0m1-6h0m2-1h0m0 7h0m2 4h0m4-11h0m0-1h0m7 9h0m0-3h0m1 9h0m0 0h0m1 2h0m0-9h0m1-4h0m0 2h0m2-3h0m9 20h0m2-6h0m2 5h0m0-16h0m37 16h0m6-1h0m0-5h0m3-6h0m2 5h0m2 4h0m1-2h0m13-10h0m3-6h0m4 16h0m2 3h0m3-2h0m2 4h0m2-15h0m5 14h0m2-13h0m4 20h0m-3 4h0m-1-8h0m-6 18h0m-1-15h0m-1 17h0m-1-20h0m-2 4h0m-5-2h0m0-1h0m-1 21h0m-2-13h0m-1 1h0m-1 9h0m-3-7h0m-4 0h0m0 0h0m-1 1h0m0 7h0m-2-2h0m-3-8h0m0 12h0m-3-17h0m-1 9h0m-1-2h0m-3-10h0m0 10h0m-47 9h0m-7-21h0m-12 16h0m0 0h0m-3-11h0m0 16h0m-3-19h0m-2 16h0m-5-6h0m-8 6h0m-1-6h0m-4-4h0m-2-4h0m-1 10h0m-2-2h0m-1 4h0m-1-5h0m-1-6h0m-9 7h0m-2 0h0m-1 4h0m-1-13h0m-2 9h0m-1-4h0m0 11h0m-3-19h0m-2 4h0m-29-2h0m-3 16h0m-6-7h0m-7 1h0m-1 0h0m-3-3h0m-14-4h0m0 18h0m-1-9h0m-4-10h0m0 9h0m-1-9h0m-7 19h0m-1-22h0m-6 6h0m-7 6h0m-2 1h0m-1-3h0m-1 30h0m5 6h0m3-14h0m6 8h0m4-10h0m1 13h0m0-7h0m0-1h0m4-4h0m1 3h0m1 4h0m4 8h0m0 0h0m12-21h0m2 20h0m1-15h0m0 6h0m3 7h0m3-20h0m3 14h0m5-5h0m3 1h0m1 3h0m0-2h0m5-3h0m3 12h0m1 2h0m1-14h0m6-1h0m2 7h0m5-7h0m4-3h0m14 18h0m25-19h0m8 3h0m5 2h0m3 10h0m2 1h0m1-6h0m6-8h0m0 14h0m1-8h0m1 8h0m1-4h0m0 2h0m0-16h0m0 11h0m1 4h0m0-3h0m3-6h0m1 2h0m0 5h0m8-4h0m5 10h0m69-9h0m5-9h0m65 40h0m-146 5h0m-4-11h0m-1 6h0m-1-17h0m-1 9h0m-4-3h0m0 3h0m0 1h0m-3 0h0m-6-5h0m-15 7h0m-1-5h0m-2 11h0m-4-1h0m-16 1h0m0-4h0m-1 1h0m0-5h0m-2 1h0m-2-8h0m-5-2h0m-1 4h0m-1-1h0m-1 6h0m-1 4h0m0-7h0m-3 11h0m-2-10h0m-2 8h0m-7-17h0m-1 19h0m0-5h0m-10-7h0m-2-1h0m-4 7h0m-35-12h0m-12 7h0m-3-6h0m-27 35h0m18 1h0m1-9h0m1 9h0m5-2h0m12 8h0m3-6h0m4 1h0m2-13h0m0 10h0m1-4h0m5 8h0m1 2h0m4-8h0m3 4h0m3-1h0m2-3h0m2 9h0m3-9h0m15-5h0m2 11h0m4 2h0m1-4h0m1-12h0m3 8h0m6 6h0m5 6h0m2-21h0m2 17h0m3-13h0m10 17h0m0-19h0m1 18h0m1-10h0m1-3h0m1-4h0m3 9h0m7-10h0m6 3h0m3-3h0m5 10h0m1 9h0m1-2h0m4-7h0m4 4h0m5-7h0m4-4h0m13-6h0m0 1h0m3 21h0m2 1h0m10-7h0m1 5h0m7-10h0m4 11h0m16-1h0m0 1h0m2 1h0m0-4h0m3-12h0m1 10h0m3 2h0m0 3h0m1-1h0m2-7h0m5-14h0m1 21h0m1-3h0m1-14h0m1 13h0m2 5h0m3-2h0m4-1h0m0-14h0m0 4h0m1 10h0m0-13h0m3 10h0m0-12h0m1 12h0m2-6h0m0 2h0m0 6h0m3-5h0m1 10h0m4-15h0m1-3h0m2 17h0m6 1h0m-8 1h0m-3 6h0m-8 5h0m-4-5h0m-4 5h0m-3-1h0m0 8h0m-1 5h0m-1-20h0m-1-3h0m-1 10h0m-5 5h0m-11-14h0m-1 5h0m-2-2h0m-15-2h0m-1-2h0m-1 0h0m-3 4h0m-8 0h0m0 0h0m0 7h0m-2-2h0m-1-7h0m-16 3h0m-11 6h0m-12-1h0m-1 2h0m-1-8h0m-2 1h0m-3 3h0m-8-6h0m-2 0h0m0 5h0m-1-6h0m-5 18h0m-3-7h0m-1 1h0m-5-1h0m-2-6h0m0 4h0m-2-10h0m-5 14h0m-12-12h0m-6 1h0m-21 13h0m-2 3h0m-4 2h0m-7-8h0m-2-2h0m-2-2h0m-3-3h0m-2-1h0m-1 16h0m-3-20h0m-1 10h0m-5 3h0m-5-11h0m-2-2h0m-2 10h0m-2 12h0m-3-8h0m-3-7h0m-9 7h0m-1 8h0m-5-21h0m-1 19h0m0 0h0m0-5h0m-2-11h0m-1-4h0m-1 20h0m-2-8h0m-1 4h0m-1-17h0m0 2h0m-1 8h0m-1 13h0m-1-13h0m-1-1h0m-3 4h0m25 11h0m19 1h0m9 0h0m6 5h0" stroke="#76d7c4"/>
<path d="M265 1339h0m-3-6h0m-1-3h0m-3 3h0m-1 8h0m-2-9h0m-1 7h0" stroke="#8e44ad"/>
<path d="M378 1434h0m215 27h0m27 0h0m7-13h0m16 13h0m1-14h0m3 13h0m3-1h0m6-1h0m20-3h0m22 5h0m51 21h0m-22 1h0m-1-4h0m0 4h0m0-10h0m-3-1h0m0 4h0m-6 11h0m-1-11h0m-6-9h0m0 13h0m-2 2h0m0 6h0m0-5h0m-3 0h0m-12-13h0m-10 12h0m0 2h0m-2 4h0m-2-8h0m-5-4h0m-6 10h0m-4-9h0m-2 1h0m0-3h0m-3-1h0m0 13h0m-11-22h0m-4 7h0m-12 15h0m-4-8h0m-1 6h0m-1-11h0m-1 4h0m-3 8h0m0 2h0m-3-21h0m-2 2h0m-5 18h0m-2-19h0m0 2h0m-2 11h0m-8-12h0m-2 19h0m-2-17h0m-1 10h0m-2 2h0m0-6h0m-1 6h0m-2-14h0m0 6h0m-4 4h0m0 6h0m-1-5h0m-2-13h0m0 17h0m-1-2h0m-1 6h0m0-14h0m-1 9h0m-6 3h0m-7-2h0m-7-11h0m0 3h0m-13 7h0m-3 24h0m2-6h0m0 11h0m1-20h0m1-2h0m4 19h0m3 3h0m0-17h0m6 13h0m1-19h0m1 22h0m1-19h0m0 7h0m1 2h0m1 9h0m4-6h0m4-11h0m1 2h0m1 1h0m1 5h0m2 0h0m1-3h0m0-5h0m13 11h0m0-3h0m5-9h0m4 16h0m3-17h0m5 19h0m1-12h0m0 0h0m1 12h0m5-7h0m0-7h0m1 13h0m1-20h0m1 8h0m4-3h0m3 6h0m10-9h0m1 7h0m3-6h0m2 10h0m0 8h0m2-18h0m16 6h0m1 5h0m5-4h0m15 1h0m3 4h0m4 4h0m5-1h0m2-18h0m14 16h0m4-2h0m0-2h0m6-7h0m7 2h0m9-7h0m6 22h0m3-3h0m6-16h0m9 19h0m3-10h0m9 4h0m-5 29h0m-5 1h0m-19 1h0m-3-18h0m-4 3h0m-25 6h0m-14 7h0m-2-19h0m-3 3h0m0 6h0m-5-5h0m-5 5h0m-5 6h0m-3-2h0m0-9h0m-1 13h0m0-4h0m-2 5h0m-1-16h0m0 17h0m-3 2h0m-3-20h0m-1 0h0m-2 18h0m-7-20h0m-5 20h0m-4-7h0m-1-4h0m0 0h0m-1-6h0m-8 0h0m-5 13h0m-7 5h0m-6-3h0m-9-18h0m-1 3h0m-2 15h0m-3-18h0m-1 20h0m-1-8h0m-4 8h0m-2-9h0m-1 1h0m-8-12h0m-1 9h0m-2 5h0m-2-5h0m0 2h0m-1-3h0m-1-1h0m0 12h0m-5-5h0m-4-7h0m-1-1h0m-7 12h0m-1-4h0m0-1h0m-5-6h0m-7 9h0m-5-7h0m-4 11h0m25 15h0m4-11h0m1 0h0m2 17h0m0 5h0m1-20h0m0 19h0m1-2h0m6-2h0m1 2h0m4-15h0m0 11h0m1-15h0m3 14h0m1 1h0m1 0h0m3 7h0m1-5h0m1-14h0m0-2h0m0-2h0m1 4h0m4 9h0m2-12h0m1 7h0m3 14h0m1-8h0m1-12h0m11 13h0m2 8h0m4-9h0m8-11h0m0 0h0m18 8h0m2 2h0m20-1h0m1-1h0m7-11h0m7 9h0m0-5h0m2 16h0m5 3h0m1-2h0m1-8h0m0-12h0m2 14h0m3 5h0m3-1h0m0-3h0m4-10h0m5 11h0m2-2h0m2-3h0m3 3h0m6-11h0m6 1h0m15-2h0m8 4h0m11 8h0m2-8h0m9 10h0m-3 18h0m-2-2h0m-7 3h0m-8 8h0m-28-15h0m-1-3h0m-1 14h0m-5-16h0m-2 1h0m-1 20h0m0-19h0m-2 14h0m-11-1h0m0-13h0m-2-1h0m-2 17h0m-4 2h0m-1-19h0m-2 2h0m0 15h0m-3-14h0m-2 6h0m0-2h0m0 5h0m-5-8h0m-11 5h0m-1-4h0m-3 7h0m-2-1h0m-3 4h0m-2 6h0m-1-6h0m-1-16h0m-17 8h0m-1-6h0m-3-2h0m-5 5h0m-7 18h0m-5 0h0m-2-14h0m-4-4h0m-4 13h0m-1-12h0m-2-1h0m-4-4h0m-1 15h0m-3 0h0m-2-3h0m-3 10h0m-27-20h0m-3 1h0m37 23h0m3-2h0m16 21h0m1-8h0m1 6h0m2-6h0m1-14h0m1 18h0m0-12h0m1 3h0m2 12h0m3-13h0m4 8h0m2 6h0m9 1h0m0-13h0m5-8h0m3 13h0m1-8h0m13-1h0m14-3h0m7 14h0m3-12h0m1-4h0m2 9h0m9 1h0m1-5h0m10-5h0m3-1h0m2 22h0m7-10h0m3 8h0m5-19h0m1 11h0m5 2h0m4-5h0m-16 19h0m-6-2h0m-34 9h0m-10-3h0m-12-7h0m-7 11h0m-16 9h0m0-19h0m-2 9h0m-10-2h0m-12-8h0m-5 8h0m-2 8h0m0-5h0m-4 3h0m-246-7h0m236 18h0" stroke="#cb4335"/>
<path d="M544 1390h0m-4-2h0m-5 10h0m3-3h0m3-2h0m1 3h0m3 18h0m0-4h0m0 1h0m1-2h0m2-2h0m4 1h0m3 5h0m2-5h0m5-11h0m0 4h0m7-1h0m3 1h0m8 8h0m1-6h0m1-4h0m0 8h0m2 2h0m2 3h0m4-9h0m7 28h0m-5 0h0m-4 6h0m-5-11h0m-2 0h0m-1 9h0m-2 2h0m-2-14h0m-1-3h0m-3 9h0m-1 1h0m-1-7h0m-19 15h0m0-22h0m-1 1h0m-1 14h0m-2 6h0m-1-9h0m-1 4h0m0 0h0m-2 1h0m-2-16h0m-2 6h0m-1 11h0m-1-2h0m11 13h0m0-1h0m0 9h0m5-8h0m3 15h0m0 2h0m6 0h0m1-9h0m0 6h0m5-17h0m1 17h0m4-9h0m0 0h0m2-1h0m2-9h0m1 12h0m2-8h0m1 5h0m5-7h0m0 2h0m11-1h0m17 27h0m-7-2h0m-2 9h0m-6-4h0m0 3h0m0 0h0m-4-3h0m-4 14h0m-31-22h0m-11 2h0m-4-2h0m-56 22h0m-7 3h0m7-2h0" stroke="#f39c12"/>
<path d="M385 1319h0m24 10h0m0-1h0m-2 6h0m-18 7h0m-38 20h0m3-13h0m4 6h0m16 4h0m6-6h0m5-4h0m0 11h0m0 1h0m4-1h0m2 8h0m4-8h0m0-1h0m2 7h0m5-9h0m1 3h0m4 1h0m0-4h0m3 5h0m2 3h0m65 24h0m-2-1h0m-4 2h0m-13-3h0m-7 0h0m-2-1h0m-29 3h0m-5-7h0m-7 1h0m-6 6h0m-2 0h0m-7-2h0m-5-13h0m-7-1h0m-2 4h0m-3-8h0m-3 18h0m-2-5h0m-2 4h0m0-3h0m-6-4h0m-3-7h0m-11-3h0m-1 10h0m-5 8h0m-15 3h0m5 19h0m2-4h0m4-5h0m1 6h0m3 9h0m2-15h0m4 13h0m1-18h0m12 17h0m4-6h0m1-6h0m4 6h0m2-3h0m0-2h0m2 8h0m1-10h0m13 17h0m3-23h0m1 1h0m2 4h0m2 11h0m1 3h0m6-4h0m13-3h0m0-5h0m3 10h0m1-15h0m1 9h0m3-7h0m1 7h0m4-6h0m1 14h0m2-2h0m0 0h0m1-11h0m12-4h0m8-2h0m12 7h0m12-2h0m1 2h0m2 13h0m4-8h0m3 10h0m2-8h0m8-4h0m11 13h0m5-9h0m19 9h0m-11 14h0m-2-1h0m-6-3h0m0 6h0m-1-14h0m-2 9h0m0-9h0m-3 3h0m0 0h0m-1 11h0m-2-13h0m-1 13h0m-7 0h0m-17-7h0m-73-5h0m-4 3h0m-7-6h0m-10 12h0m-4-2h0m-3 11h0m-11-19h0m-3 10h0m0-12h0m-2 11h0m-13 0h0m-9-6h0m-3 3h0m-2-3h0m-6-5h0m29 28h0m11 8h0m0-7h0m4 4h0m1-7h0m39 7h0m3 4h0m10-1h0m69 1h0m2 9h0m4-16h0m5 6h0m2-4h0m3 5h0m-4 11h0m0 10h0m-2-8h0m-3 1h0m-3-1h0m253 94h0" stroke="#f4d03f"/>
<path d="M333 1175h0m27 8h0m-4 12h0m-1-9h0m0 7h0m-7-5h0m0 4h0m-3-10h0m-4 11h0m-17-4h0m0 6h0m-1-3h0m-13 1h0m-4 29h0m2-2h0m4-8h0m3-3h0m1-2h0m1 0h0m2 3h0m0 7h0m9-4h0m1-12h0m0 2h0m3 15h0m2 5h0m9-8h0m9 2h0m2-11h0m17 21h0m-10 13h0m-2 5h0m-4-17h0m-4-2h0m-17 1h0m-1 14h0m-1 2h0m-1-4h0m-1 2h0m0 0h0m-1 5h0m0-22h0m0 0h0m-5 16h0m-3-10h0m-1 11h0m-1-2h0m-1-15h0m-6 4h0m-3 4h0m10 20h0m9 0h0m3 4h0m6-3h0m2-1h0m2 8h0m2-8h0" stroke="#fda896"/>
<path d="M870 1391h0m0 0h0m-78-4h0m-4 4h0m2 1h0m9 1h0m1 14h0m8 6h0m26 0h0m1-6h0m0 8h0m1-5h0m2 0h0m1 1h0m2-8h0m2 10h0m6-13h0m7-2h0m6 4h0m1-8h0m2 0h0m1 3h0m1 1h0m6 2h0m4-2h0m1 8h0m2-6h0m0 1h0m-47 20h0m0-4h0m-15 3h0m0 7h0m-1-6h0m-1 6h0m-3-10h0" stroke="#1a237e"/>
<path d="M367 1456h0m224 16h0m-174 10h0m-1 5h0m-3-6h0m-35 3h0m-24-4h0m-3 0h0m-15 14h0m10 9h0m10 8h0m3-4h0m1-6h0m9-2h0m15 10h0m11 2h0m3-9h0m6 0h0m11 5h0m1-10h0m13 3h0m6-6h0m29 19h0m-6 17h0m0 0h0m-2-16h0m-1 14h0m-4-5h0m-1 0h0m-1 6h0m-3-7h0m-6-6h0m-15 1h0m-10-1h0m-4 12h0m-5-13h0m-1 17h0m-2-20h0m-17 20h0m-7-13h0m-2-7h0m-2 16h0m-6-3h0m-6 9h0m-2-15h0m-2 0h0m-12-6h0m-1 8h0m-5-4h0m-2 3h0m-7-2h0m-1-3h0m-1 18h0m-2-8h0m-2-5h0m0 8h0m-3-2h0m0-5h0m-1 0h0m0 10h0m-4-1h0m-12-1h0m-6 20h0m4 8h0m19-9h0m6 3h0m1-13h0m5 1h0m1 15h0m6-12h0m2-6h0m9 9h0m2 5h0m2-9h0m14-4h0m11 7h0m0 5h0m10 4h0m6 6h0m3-9h0m6-13h0m0 6h0m25 14h0m5-3h0m8-4h0m13 9h0m3-3h0m2-7h0m5-4h0m4 16h0m-3 12h0m-20-1h0m-5-6h0m-19 4h0m-11 9h0m-3-13h0m-1 3h0m-4-3h0m-2 13h0m-4-16h0m-2 20h0m-1-20h0m-3 8h0m-2 12h0m-3-18h0m0 9h0m-3-14h0m0 1h0m-1 4h0m0-4h0m-2 17h0m-5 2h0m-3 2h0m-13-19h0m-4 17h0m-6-11h0m-4-2h0m-1 16h0m-13-20h0m-4 20h0m-5-1h0m-2-17h0m-6 12h0m-2-9h0m-1 14h0m-2-6h0m-4-11h0m-4 13h0m19 21h0m8-6h0m0 14h0m19-10h0m13 0h0m4 5h0m2-7h0m13-6h0m2 3h0m2 10h0m2 2h0m3-5h0m3 6h0m2-5h0m1 4h0m0-8h0m3-7h0m2 6h0m1 5h0m3 2h0m5-4h0m8-8h0m7 8h0m4 2h0m1-13h0m1 1h0m2 18h0m1-9h0m3-7h0m2 5h0m0-4h0m2 2h0m1-5h0m7 8h0m3 0h0m2-1h0m-13 14h0m-15 5h0m-7 0h0m0 5h0m0-4h0m-1 6h0m0 4h0m-3-10h0m-4-1h0m-5 4h0m-4 8h0m0-11h0m-1-3h0m-7 1h0m-11-5h0m-3 7h0m-4 3h0m-2 11h0m-1-16h0m-4 4h0m-1 1h0m-16 12h0m-7-11h0m-13-2h0m30 15h0m40 3h0" stroke="#27ae60"/>
<path d="M230 1342h0m-21-13h0m-2 13h0m-3-10h0m0-3h0m-2 9h0m-7-7h0m-3-5h0m-3 3h0m-1 1h0m-13 4h0m-1 3h0m-1-7h0m-1 3h0m0-13h0m-2 3h0m-2 7h0m-2 0h0m-3-5h0m-1 10h0m-3 1h0m-5-4h0m-3 12h0m9 8h0m7 1h0m2 3h0m4 4h0m4 1h0m1-13h0m2 16h0m3-19h0m2 11h0m1 10h0m2-5h0m4 1h0m2 1h0m3-14h0m0 3h0m2 3h0m1 1h0m2 7h0m1-4h0m1 4h0m2-3h0m2 3h0m4-9h0m7-6h0m0 3h0m10-7h0m7 1h0m-22 37h0m-11-7h0m-10 13h0m-5-15h0m-2 4h0m-5 4h0m-1-5h0m-11 8h0m35 11h0" stroke="#3498db"/>
<path d="M187 1429h0m-7 27h0m1 5h0m3-4h0m4-7h0m5 0h0m2 4h0m1-1h0" stroke="#6d4c41"/>
<path d="M556 1054h0m-36 18h0m1 7h0m10-4h0m7 0h0m4-4h0m2 6h0m6 0h0m7 1h0m1-22h0m3 23h0m3-11h0m0-1h0m2 4h0m7-6h0m1 12h0m16 2h0m124 24h0m-4-1h0m-3-7h0m0 1h0m-4 2h0m-4-2h0m-7 5h0m-3-1h0m-5-2h0m-23-1h0m0 0h0m-1-7h0m-6 4h0m0-10h0m-4 12h0m-1-6h0m-2-1h0m-2 2h0m-4-6h0m-57 11h0m-1-5h0m-4 2h0m-9 1h0m-1 9h0m-2-7h0m-1-15h0m-1 4h0m-6 3h0m-3 11h0m-2-17h0m-1 2h0m-3 6h0m-4-4h0m-2 4h0m0 0h0m-9 0h0m-1-4h0m-1 9h0m-1 7h0m-1 1h0m-3-4h0m-3 3h0m0-5h0m-5-11h0m0 0h0m-3 4h0m-2-6h0m-68 13h0m-18 14h0m1 0h0m0 1h0m2 0h0m3-8h0m1 15h0m6-5h0m2 4h0m0-11h0m5 1h0m2-4h0m71 1h0m2 8h0m6-3h0m10 7h0m3 6h0m0-13h0m3 5h0m3-4h0m0 10h0m2-16h0m8 18h0m12-3h0m1-8h0m0 0h0m2 7h0m0 7h0m1-10h0m1 8h0m3-13h0m1 15h0m0-5h0m2-9h0m1 12h0m0-20h0m106 18h0m3-18h0m0 19h0m2-15h0m1-3h0m0 0h0m5 8h0m4 6h0m7-12h0m2 6h0m1-2h0m6 9h0m2-12h0m2 2h0m4 2h0m-25 32h0m-1 5h0m-4-9h0m-5-12h0m-1 10h0m-2-4h0m-1 14h0m-5-10h0m-4 8h0m-5 1h0m-29-4h0m-6 4h0m0-7h0m0 11h0m-6-10h0m-1 10h0m-2-5h0m-5-3h0m-1 7h0m-6-1h0m-4 1h0m-4 0h0m-15-7h0m-1-3h0m-1 1h0m0 5h0m-1 1h0m-1 0h0m0-2h0m-1-2h0m0 5h0m0 0h0m-2-5h0m-1-11h0m-1-3h0m-2 21h0m-2-6h0m-4-1h0m-1-8h0m-1 8h0m-2 6h0m-1-2h0m-3 0h0m-2 3h0m0-11h0m-3-10h0m0 5h0m-2 4h0m-1 4h0m-6-10h0m0 11h0m-7 8h0m-2-3h0m-9-5h0m-11 32h0m3-3h0m11-14h0m2 1h0m1-1h0m2 15h0m2-8h0m1 8h0m1-15h0m6 5h0m0 1h0m2-11h0m11 15h0m0-16h0m3 4h0m6-2h0m0 0h0m3 10h0m3-2h0m1-10h0m3 1h0m1 8h0m16 8h0m1-4h0m0 1h0m1 5h0m1-3h0m1 1h0m4-12h0m1 5h0m1-8h0m3 19h0m4-14h0m0 15h0m0 1h0m0-16h0m1 3h0m3 9h0m1-1h0m1-8h0m0-4h0m1 9h0m1-3h0m0-7h0m0 8h0m0-13h0m14 10h0m0 8h0m4-12h0m1 15h0m1-13h0m6-2h0m2 15h0m0-11h0m2 1h0m3 3h0m6 0h0m17-4h0m0 3h0m1-12h0m26 37h0m-2-2h0m-59-7h0m-7 18h0m-4-6h0m-2-7h0m-2 5h0m-3-14h0m-2 11h0m0 6h0m-3-6h0m0 5h0m-4-2h0m-5 6h0m0-20h0m-1 7h0m-1-1h0m0 1h0m-1-4h0m-2-3h0m0 7h0m-1 13h0m-13-1h0m-3-4h0m-3-7h0m-14 3h0m-8 11h0m-10-17h0m-1-3h0m-1 13h0m-2-15h0m-2 3h0m-1 16h0m-3-16h0m-3 17h0m0-14h0m-2 10h0m-3-16h0m0 19h0m-2-8h0m0 8h0m-15 1h0m0-7h0m-3 2h0m-26 26h0m27-12h0m3 12h0m4 5h0m3-19h0m3 2h0m1 1h0m1 4h0m7-11h0m26 14h0m1-13h0m10 8h0m2 11h0m3-18h0m1 20h0m3-21h0m4 9h0m6 2h0m4 2h0m7-8h0m3-3h0m0-3h0m4 1h0m3-1h0m0 6h0m8 12h0m6 3h0m5-1h0m3-11h0m2-3h0m2 5h0m5-2h0m41 4h0m9 4h0m1-1h0m3-12h0m7 10h0m3-10h0m9 1h0m2 0h0m10 9h0m3 0h0m8 24h0m-1-14h0m-4 10h0m-1 12h0m-3-16h0m0-3h0m-2 6h0m-7-3h0m-5-6h0m-5 17h0m-4 6h0m-2-17h0m-5 5h0m-3 2h0m-2 6h0m-3-5h0m-2-6h0m0 15h0m-2-20h0m-2-3h0m-1 8h0m-1 15h0m-40 0h0m-3-20h0m-21 17h0m0-9h0m-4 12h0m0-1h0m0-3h0m-3-18h0m-22 16h0m-2-2h0m-3-7h0m-2 15h0m-3-7h0m-4-12h0m0 6h0m-5-10h0m0 16h0m0-12h0m0 18h0m-1-22h0m-1 3h0m-18 19h0m-1-6h0m-7-14h0m-4 11h0m-9 6h0m-3-16h0m-14 18h0m0-12h0m-2 12h0m-2-14h0m0 16h0m0 0h0m-5 0h0m-1-8h0m-1 1h0m-6-4h0m-1-11h0m-1 1h0m0 4h0m-1-4h0m-2 3h0m-4 9h0m-1-5h0m-2-4h0m-2 5h0m0-4h0m-8 8h0m-19-12h0m-8 21h0m34 14h0m0-10h0m9 0h0m3 19h0m0-7h0m1-2h0m0 0h0m0 0h0m3-4h0m5-5h0m2 4h0m2 10h0m0-8h0m2 5h0m1 3h0m0-2h0m6-11h0m3 11h0m7 6h0m4-8h0m0-10h0m3 13h0m1 0h0m3 2h0m2-9h0m0 5h0m2-4h0m1 8h0m0-8h0m6 10h0m3-4h0m3 2h0m1-9h0m6-5h0m6 18h0m2-1h0m1-6h0m4-10h0m0 16h0m0-12h0m0 6h0m6 4h0m3 2h0m20-10h0m4 0h0m5 10h0m6-12h0m6 2h0m0 8h0m0-17h0m7 13h0m1 2h0m7-5h0m7 2h0m50-15h0m3 0h0m1 3h0m7-3h0m3 6h0m2-1h0m15-3h0m2 5h0m-31 40h0m-2 0h0m-58-4h0m-6-5h0m-4-7h0m-3 11h0m-8-10h0m-17 5h0m-8 6h0m-8-8h0m-2 1h0m-4 5h0m-2-6h0m0-11h0m-2 2h0m-1 11h0m0 1h0m-2 3h0m-1-4h0m-2-11h0m-4 18h0m0-13h0m-4 1h0m-2 12h0m-5-18h0m-2 15h0m-28-15h0m-14 4h0m-8-6h0m-9 23h0m-30 17h0m15 6h0m0-13h0m3-2h0m2 13h0m2-15h0m5-5h0m3 5h0m6 13h0m1-2h0m1-6h0m6-4h0m1 8h0m0-2h0m5 1h0m0-4h0m0-2h0m1-4h0m1 15h0m0-7h0m2 12h0m3-12h0m5 3h0m1-8h0m3 7h0m11 6h0m7 2h0m5-21h0m2 20h0m1-17h0m0 0h0m2 15h0m0-18h0m1 0h0m4 17h0m1 0h0m1 0h0m2 4h0m1-19h0m4 10h0m3-4h0m4-7h0m1-1h0m3 16h0m0 1h0m1-4h0m1 9h0m4-4h0m5-4h0m1-8h0m4-1h0m13 14h0m0 2h0m0-6h0m1 6h0m6-3h0m0 1h0m1-6h0m7 2h0m1-8h0m0 6h0m4-1h0m2 1h0m3-9h0m9 4h0m0 10h0m4-8h0m3-2h0m4 7h0m2 6h0m4-7h0m9 5h0m6 0h0m1 3h0m4 1h0m2-6h0m5-1h0m4 0h0m4-1h0m0-3h0m4 0h0m3-5h0m3-2h0m2 2h0m0-3h0m3 17h0m1 2h0m0-18h0m1 10h0m1-14h0m0 4h0m3 15h0m2-5h0m4 0h0m2 1h0m4-8h0m0 3h0m2-1h0m15 7h0m1 0h0m-8 10h0m-4-1h0m-2 10h0m-1-4h0m0-5h0m-7 5h0m-2 5h0m-1 6h0m-2-16h0m-4 12h0m-1-2h0m-3 3h0m-1 3h0m0-17h0m-1 15h0m0-5h0m-1-2h0m0 0h0m-2-6h0m-1 2h0m-2 3h0m-11 3h0m-16-12h0m-1 11h0m-2-8h0m-5 0h0m0 4h0m-2 4h0m-6 5h0m-5-12h0m-9-2h0m0 5h0m-10-4h0m-3 4h0m-4 2h0m-7-2h0m-3 3h0m-4-7h0m-2 3h0m-2 9h0m-4-7h0m-3-4h0m-3 5h0m-3-6h0m-1 19h0m0-18h0m0-4h0m-3 13h0m-3 4h0m0-3h0m-2-2h0m-3 0h0m-1-4h0m0-8h0m-2 11h0m-5-5h0m-4 7h0m-39-2h0m-5 5h0m-1-2h0m-3 5h0m-5-5h0m-2-2h0m0 3h0m-1 2h0m-1 6h0m-3-23h0m-2 11h0m-1 11h0m-8-16h0m-3 12h0m-1 2h0m0-13h0m0-3h0m-1 15h0m-9-3h0m-9-10h0m-1 7h0m0 7h0m-9-17h0m-3 0h0m-2 0h0m0-2h0m-1 14h0m15 13h0m5-4h0m4 6h0m12 2h0m12-2h0m11-4h0" stroke="#76d7c4"/>
<path d="M267 1327h0m-2 5h0m-2-1h0m-2 3h0m-2 1h0m0 2h0m-3-8h0m0 8h0" stroke="#8e44ad"/>
<path d="M592 1463h0m1-4h0m10-5h0m8 7h0m7-9h0m7-2h0m3 3h0m2 9h0m11 1h0m1-4h0m2 2h0m2 1h0m5-6h0m1-4h0m2-2h0m6 10h0m9 3h0m4-14h0m15 8h0m15 0h0m46 26h0m-20 0h0m0 0h0m-2 4h0m-7-8h0m-8-6h0m-2-2h0m-2-1h0m-4-6h0m-5 17h0m-15-17h0m-3 5h0m-22 13h0m-3-8h0m-3 5h0m-4-11h0m-2 11h0m-3-15h0m-1 3h0m0 9h0m-2-4h0m-1-5h0m-10 6h0m-5-1h0m-7-2h0m-4 17h0m-2-18h0m-1 18h0m0-16h0m-3 5h0m-2 10h0m-2-3h0m-1-13h0m-9 11h0m0 2h0m-1-6h0m-4 0h0m-7 10h0m-3-15h0m-6-4h0m-21 33h0m0 3h0m2 6h0m4-15h0m2-1h0m0 3h0m3-5h0m0 11h0m0 0h0m5-10h0m2-1h0m1-2h0m3 8h0m4-2h0m4 13h0m4-19h0m4 1h0m1 1h0m1-3h0m6 14h0m9 1h0m4-6h0m10 7h0m8-9h0m1-2h0m4-5h0m2 11h0m5-1h0m17 11h0m3-15h0m4 16h0m5-13h0m2-5h0m1-1h0m0-2h0m24 12h0m4-10h0m1 6h0m5-4h0m4-6h0m3 15h0m1-4h0m2-2h0m0-4h0m9 9h0m3-11h0m0 4h0m17 12h0m3-4h0m5-13h0m5 9h0m8 4h0m6 4h0m-3 25h0m-3 0h0m-6-6h0m-1-11h0m-7 4h0m-1-6h0m-2 17h0m-4-1h0m-7-3h0m0-14h0m-25 23h0m-14-2h0m-4-20h0m-12 21h0m-2-6h0m-14-16h0m-9 9h0m-1-8h0m-2 2h0m-6 5h0m-4 9h0m-1-10h0m0 4h0m-2 9h0m-9-20h0m-1 16h0m-3-16h0m-1 23h0m-7-23h0m0 7h0m-4-3h0m-4 4h0m-2 14h0m-2-1h0m-4-8h0m-3-12h0m-4 11h0m-8 0h0m-2-12h0m-1 9h0m-2-1h0m-1 15h0m-3-10h0m-3-5h0m0-5h0m-3 10h0m-1 0h0m-1 2h0m-1-10h0m-1 14h0m-5-18h0m-2 0h0m-1 19h0m0-19h0m0 7h0m-2 9h0m-1-13h0m-1 12h0m-1 3h0m-1-3h0m0 5h0m-1-11h0m-1-2h0m-3-3h0m-2 5h0m-3-1h0m-2-2h0m-6-4h0m21 25h0m5 16h0m3-5h0m1-11h0m5 10h0m0 4h0m3-18h0m1 15h0m1-7h0m10 4h0m2-3h0m1 10h0m0-12h0m0 14h0m0-13h0m3 1h0m3-5h0m2 4h0m4-3h0m3 4h0m1-5h0m2 10h0m3 2h0m2-15h0m1 20h0m2-8h0m0-9h0m3 4h0m1-8h0m6 19h0m8-14h0m3 15h0m2-17h0m1 15h0m8-15h0m3 11h0m4 6h0m3-15h0m5 11h0m1-13h0m6 16h0m10-16h0m1 8h0m2 3h0m8 5h0m0-14h0m1 15h0m6-20h0m1 18h0m1 3h0m1-4h0m1-11h0m0 14h0m3-2h0m0 5h0m2-10h0m3-6h0m1 1h0m13 10h0m0-17h0m10 8h0m1-1h0m0 12h0m8-1h0m0-2h0m7-9h0m2-7h0m2 5h0m0 14h0m3 2h0m1-11h0m5 12h0m2 0h0m3-11h0m3 19h0m-11 6h0m-10 6h0m-10 1h0m-16-9h0m0 6h0m-1 2h0m-1-15h0m-3-3h0m-7 11h0m-1-4h0m-3 1h0m-2-4h0m0 17h0m-3-22h0m-6 1h0m-2 9h0m-1-8h0m0-2h0m-6 1h0m-4 0h0m-20 22h0m-2-21h0m-5 5h0m-1 6h0m-5 8h0m-4-1h0m0 3h0m-4 0h0m-11-5h0m-2-16h0m-25 10h0m-3-10h0m-2 5h0m-1 13h0m-5-20h0m-8 5h0m-2-2h0m-8-1h0m-1 13h0m-9-13h0m-4-1h0m-1-1h0m38 26h0m2-1h0m0 1h0m3-2h0m7 7h0m1 8h0m0-11h0m4-3h0m2 3h0m10 15h0m3 3h0m2-2h0m4-1h0m3 2h0m12-3h0m8 3h0m8-4h0m0-4h0m4 2h0m4-7h0m1 13h0m0-1h0m1-15h0m6-5h0m4 9h0m0 2h0m1-3h0m0 1h0m8 2h0m2-6h0m18 12h0m3-12h0m4 7h0m2 2h0m0-14h0m0 15h0m2-7h0m10 5h0m2 6h0m0-11h0m13 10h0m-26 20h0m-3-14h0m-3 2h0m-6 1h0m0 3h0m-15-6h0m-9 9h0m-10 6h0m-11-8h0m-8-5h0m0 9h0m-10 0h0m-2-5h0m-1-3h0m-3-3h0m-1 5h0m-3 0h0m-3 2h0m0-4h0m-20 20h0m-6-9h0m0 6h0m-4-3h0m-1 2h0m0-3h0m-1 3h0" stroke="#cb4335"/>
<path d="M533 1399h0m5 9h0m0-10h0m3 13h0m2-8h0m0-5h0m1 0h0m0 14h0m0-4h0m0 1h0m1-3h0m3-6h0m1 10h0m8 0h0m6-11h0m8 0h0m2 2h0m3-7h0m5 20h0m1-6h0m1-5h0m7 21h0m-1-7h0m-2 9h0m-3 2h0m-4 6h0m0-4h0m-1 9h0m-2-2h0m-2-11h0m-1-1h0m-1 9h0m0 0h0m-2 0h0m-2-14h0m-1 15h0m0-1h0m-2-2h0m-2 7h0m-2-15h0m-5-3h0m-3 1h0m-6 16h0m-1-11h0m-2 4h0m-4-9h0m6 26h0m1-1h0m0-3h0m2 4h0m1 15h0m1-11h0m1 9h0m2-21h0m6 22h0m4-11h0m3-1h0m2 0h0m3-3h0m2 10h0m1-11h0m0-1h0m2 2h0m0 5h0m2 3h0m1-4h0m3 2h0m1 1h0m7-9h0m14 10h0m-1 18h0m0 7h0m-1-8h0m-5 3h0m-6-1h0m-1-7h0m-20 10h0m-2-10h0m-5-1h0m-8 1h0m-3-3h0m-66 21h0m-10-3h0m-72 23h0m76-10h0m9-6h0" stroke="#f39c12"/>
<path d="M410 1324h0m0 1h0m-1 5h0m-9-8h0m-7 16h0m-10-6h0m-1-10h0m-2 10h0m-1-8h0m-29 35h0m5 6h0m3-13h0m7 13h0m2-13h0m0-3h0m3-2h0m2 17h0m1-4h0m4-12h0m6 8h0m11 3h0m1 1h0m0-12h0m0 16h0m0-5h0m1 2h0m4 1h0m1 0h0m4-3h0m0 0h0m6 3h0m11 29h0m-21-22h0m0 8h0m-1-7h0m-2 9h0m-10 3h0m-7 6h0m-2-11h0m-12-1h0m-4 7h0m-1-14h0m-1 21h0m0-12h0m-6 9h0m-3-10h0m-6-7h0m-22 43h0m13-4h0m3-3h0m5-9h0m2 15h0m9-9h0m9-4h0m6 1h0m0 9h0m1 0h0m18-6h0m4 10h0m3 0h0m0 0h0m0 0h0m0-11h0m0 13h0m2-14h0m8 3h0m9 3h0m0-10h0m1 7h0m2-6h0m1 17h0m2-7h0m0-5h0m1-3h0m3 1h0m2-2h0m6 11h0m1-15h0m3 2h0m3 13h0m0 0h0m3 4h0m3-10h0m1-1h0m2-1h0m0-4h0m0-5h0m7 5h0m12-4h0m5 5h0m7-1h0m7 12h0m1 5h0m12-14h0m1 11h0m17 0h0m20 11h0m-12-1h0m-11-3h0m-1 0h0m-6 7h0m-3-4h0m-4 11h0m-5 5h0m-2 0h0m-1-16h0m-6-1h0m-1 11h0m-4-12h0m-2 1h0m-19 5h0m-21-9h0m-21 1h0m-11-1h0m-3 4h0m-5 1h0m-8 4h0m-4 1h0m-10 1h0m-9 3h0m-3 6h0m-1-1h0m-5-10h0m-1 8h0m-1-5h0m-5 8h0m-6 0h0m-3-9h0m-7-7h0m-1-4h0m-1 8h0m-5 7h0m29 11h0m1 7h0m8-3h0m2 4h0m6-7h0m2 7h0m2-7h0m6 2h0m3 0h0m5 6h0m5-1h0m9 0h0m4-1h0m2 3h0m15 1h0m8-4h0m63 4h0m3-2h0m2 9h0m2-14h0m6 7h0m3 9h0m10-16h0m-9 29h0m-4-8h0m-2 7h0m-7-10h0m0 4h0m-91 127h0" stroke="#f4d03f"/>
<path d="M358 1181h0m-2 6h0m-9 0h0m-2-5h0m-7-4h0m-4 4h0m-3 10h0m-2-5h0m-4-8h0m-1 12h0m-24 32h0m2-20h0m1 4h0m6 7h0m0 3h0m2-11h0m14 1h0m23 6h0m4 3h0m8-15h0m2 4h0m2 9h0m1 7h0m1 8h0m-10-3h0m-6 1h0m-2 0h0m-3 0h0m-12 6h0m-10 2h0m-2-1h0m-2 11h0m0-7h0m-3 4h0m-1-16h0m-5 12h0m-2-12h0m-2-2h0m-1 0h0m8 26h0m17-1h0m4 14h0" stroke="#fda896"/>
</g>
<circle cx="476" cy="529.1" r="10" fill="#d4645c"/>
<text x="495.2" y="537" font-size="23" textLength="45.8" lengthAdjust="spacingAndGlyphs">L2/3</text>
<circle cx="476" cy="555.1" r="10" fill="#f4ab3f"/>
<text x="495.2" y="562.7" font-size="23" textLength="26.2" lengthAdjust="spacingAndGlyphs">L4</text>
<circle cx="476" cy="580.8" r="10" fill="#f5d660"/>
<text x="495.2" y="588" font-size="23" textLength="54.9" lengthAdjust="spacingAndGlyphs">L5-IT</text>
<circle cx="476" cy="610.6" r="10" fill="#52b87a"/>
<text x="495.2" y="617.5" font-size="23" textLength="54.9" lengthAdjust="spacingAndGlyphs">L6-IT</text>
<circle cx="476" cy="636.3" r="10" fill="#92dccd"/>
<text x="495.2" y="643.5" font-size="23" textLength="64.1" lengthAdjust="spacingAndGlyphs">L5-ET</text>
<circle cx="476" cy="661.6" r="10" fill="#62abe0"/>
<text x="495.2" y="669.1" font-size="23" textLength="65.4" lengthAdjust="spacingAndGlyphs">L6-CT</text>
<circle cx="476" cy="690.4" r="10" fill="#a46bbf"/>
<text x="495.2" y="698.3" font-size="23" textLength="39.3" lengthAdjust="spacingAndGlyphs">L6b</text>
<circle cx="476" cy="716.1" r="10" fill="#8a6e64"/>
<text x="495.2" y="724" font-size="23" textLength="32.7" lengthAdjust="spacingAndGlyphs">NP</text>
<circle cx="476" cy="742.1" r="10" fill="#fdb8a3"/>
<text x="495.2" y="750" font-size="23" textLength="45.8" lengthAdjust="spacingAndGlyphs">CLA</text>
<circle cx="476" cy="771.2" r="10" fill="#4a5099"/>
<text x="495.2" y="778.8" font-size="23" textLength="32.8" lengthAdjust="spacingAndGlyphs">Inh</text>
<circle cx="476" cy="797.5" r="10" fill="#fdfb82"/>
<text x="495.2" y="804.8" font-size="23" textLength="70.6" lengthAdjust="spacingAndGlyphs">Others</text>
<text x="584" y="511.4" font-size="31" class="b" textLength="20" lengthAdjust="spacingAndGlyphs">c</text>
<text x="790.4" y="500.7" font-size="27" textLength="94.6" lengthAdjust="spacingAndGlyphs">Source</text>
<line x1="622.7" y1="512.6" x2="622.7" y2="832.4" stroke="#000" stroke-width="2"/>
<line x1="621.7" y1="831.4" x2="1032.6" y2="831.4" stroke="#000" stroke-width="2"/>
<text transform="translate(612.2,658) rotate(-90)" x="-52.9" y="0" font-size="27" textLength="105.7" lengthAdjust="spacingAndGlyphs"><tspan class="i">t</tspan>-SNE-2</text>
<text x="802.4" y="865" font-size="27" textLength="104.8" lengthAdjust="spacingAndGlyphs"><tspan class="i">t</tspan>-SNE-1</text>
<g transform="scale(0.5)" fill="none" stroke-linecap="round" stroke-width="5.6" opacity="0.93">
<path d="M1840 1093h0m0 6h0m-1-3h0m-7 5h0m-12-8h0m-2 2h0m-5 6h0m0-5h0m-4 6h0m-8-14h0m-1 1h0m-1 12h0m-2-2h0m-7-8h0m-3-1h0m0-1h0m-4 4h0m0 3h0m49 22h0m2-10h0m0-1h0m1 15h0m0-6h0m6-11h0m1 3h0m2 2h0m0 5h0m0-7h0m3-2h0m1 12h0m2 2h0m1-13h0m1 0h0m0 3h0m8 10h0m-24 26h0m-6-14h0m-8 2h0m-4-1h0m-62 44h0m-261 16h0m-10 6h0m-11-3h0m-25 19h0m14-5h0m1 5h0m7 7h0m13-3h0m6-4h0m6 11h0m-5 0h0m-3 19h0m0-18h0m-9 18h0m-4-16h0m-3 16h0m-2-4h0m-10-16h0m0 2h0m-1 11h0m-1-14h0m-2 0h0m-1 2h0m0 4h0m-3-2h0m-2 10h0m-1-6h0m1 18h0m3 0h0m2 7h0m1-7h0m14-1h0m6 1h0m2 12h0m7-5h0m6 4h0m282 14h0m7 34h0m109 25h0m-575 3h0m-4-2h0m-13 22h0m35-13h0m1 9h0m21 29h0m-6 7h0m-10-15h0m-7 3h0m316 57h0m-128 3h0m6 11h0m26 4h0m19-2h0m163 11h0m97 22h0m-9-5h0m-33-14h0m-159 23h0m-12-6h0m-88 24h0m312 6h0m13-11h0m-249 24h0m-118 35h0m106 22h0m-129-1h0m-8-2h0m30 8h0m22 13h0m268 6h0m99-19h0m-97 35h0m-2-10h0m-1-2h0m-3 8h0m-4 3h0m-8-3h0m-5 8h0m-204-4h0m-4-3h0m-6-8h0m-3 5h0m-36-6h0" stroke="#0082c8"/>
<path d="M1683 1123h0m17-11h0m102 39h0m-5 0h0m-8-1h0m-13 1h0m-5-6h0m-6 2h0m-10 0h0m-4 2h0m-15-6h0m-4-6h0m-1 9h0m-7 1h0m-3 4h0m-2-4h0m0 3h0m-5-15h0m-3 8h0m-6-7h0m-32 13h0m1 15h0m7-9h0m16 9h0m14-7h0m0 4h0m8 0h0m0-7h0m1 13h0m3 0h0m7-6h0m2-4h0m1 4h0m6 3h0m8 1h0m1-12h0m4 16h0m0-17h0m3 0h0m4 7h0m1 12h0m1-15h0m2-2h0m7 13h0m85 54h0m27 12h0m-17 7h0m-18 0h0m0-9h0m-2 9h0m-4-14h0m8 28h0m18 1h0m-18 54h0m4 1h0m2 9h0m3-16h0m2 4h0m2 6h0m2-9h0m12 35h0m-11-17h0m-2 8h0m-2-9h0m-1 11h0m-2-3h0m-1 9h0m-8-18h0m-5 6h0m-40 4h0m-434 12h0m-43 11h0m7 13h0m0-22h0m15 2h0m147 2h0m6 8h0m29 31h0m31 11h0m3 3h0m106-1h0m31 2h0m2 37h0m-37-10h0m-16-3h0m-107-8h0m145 24h0m45 5h0m130 30h0m-37 7h0m-13-9h0m-6-8h0m-16 13h0m-5-11h0m-25 16h0m0-7h0m-16 8h0m-12-5h0m-11 2h0m-16 0h0m-79 2h0m-16 0h0m-136 9h0m4 4h0m116 12h0m98 0h0m70-17h0m5 3h0m8-6h0m16 10h0m9 2h0m8-4h0m12-4h0m15 39h0m-119-10h0m-16 7h0m-113-1h0m-1-2h0m-54-6h0m-77 14h0m9 8h0m67 15h0m68-2h0m4-3h0m113-9h0m41 7h0m137-8h0m-30 20h0m-10 20h0m-53-7h0m-199-15h0m-142 5h0m88 21h0m292 2h0m8 1h0m37-5h0m-23 25h0m-74 1h0m-234 4h0m-73 1h0" stroke="#3cb44b"/>
<path d="M1766 1193h0m-91 14h0m62 8h0m10-12h0m34 14h0m12-5h0m-17 28h0m-97 2h0m-21-13h0m-6 7h0m41 30h0m8-1h0m70 1h0m12-1h0m18 4h0m-4 5h0m-7 10h0m-7-5h0m-1 1h0m-3 2h0m-2 2h0m-22 6h0m0-4h0m-3-1h0m-7-2h0m-5 12h0m-16-6h0m-91 18h0m78-6h0m92 6h0m0 7h0m5 1h0m1 4h0m6-4h0m7 9h0m-4 0h0m-1 3h0m-23-7h0m-413 21h0m-1-2h0m-51-19h0m13 38h0m150-1h0m23-9h0m16 14h0m8 0h0m1 26h0m-3-4h0m-10-2h0m-6 2h0m-1-10h0m-29 4h0m82 34h0m8-2h0m8 5h0m28-1h0m24-16h0m28 15h0m1-4h0m11 2h0m3 1h0m0 3h0m9-11h0m9 8h0m225-15h0m7 5h0m14 8h0m14 5h0m30-20h0m6 5h0m4 2h0m4-5h0m6 3h0m-41 19h0m-234 12h0m0-2h0m-9 8h0m-16-8h0m-1 1h0m-19-7h0m-30 8h0m-2-3h0m-6 3h0m-7 0h0m-4 2h0m-15-12h0m-122 20h0m47 9h0m86-3h0m8 5h0m41-8h0m27-1h0m10 12h0m3-6h0m32 12h0m24-14h0m22 7h0m9 4h0m4-7h0m70 30h0m-5-1h0m-94-6h0m-27 7h0m-15-6h0m-15 7h0m-7 2h0m-5-11h0m-2 2h0m-19 0h0m-54-9h0m-125 23h0m1 6h0m49 5h0m129-6h0m6 9h0m2 1h0m50-7h0m16-8h0m2 11h0m22 11h0m10-15h0m83-5h0m20 33h0m-63 4h0m-54-15h0m-48 12h0m-15-1h0m-6 11h0m-3-10h0m-4 1h0m-3 5h0m-137-19h0m-33 20h0m-4-9h0m-39 11h0m24 19h0m2 3h0m7-11h0m6 5h0m178-6h0m8-3h0m4 8h0m42-10h0m58 19h0m69 0h0m4-4h0m-1 29h0m-27-6h0m-4-7h0m-8-9h0m-25 20h0m-3-18h0m-127-1h0m-131 10h0m-28-3h0m-20-3h0m-4-6h0m-1 1h0m0 7h0m-4-3h0m-9 8h0m3 14h0m59 5h0m4 7h0m253-7h0m3 1h0m35-9h0m8 0h0m4 15h0" stroke="#46f0f0"/>
<path d="M1719 1092h0m-39 25h0m42-5h0m-1 17h0m71 35h0m-165 71h0m37 32h0m80 10h0m-224 36h0m98 5h0m12 1h0m1-11h0m2 6h0m3 2h0m5-16h0m15 18h0m4-1h0m7-4h0m0-11h0m1 5h0m1 3h0m17 27h0m-5 2h0m-2-6h0m-2-2h0m0 11h0m-1-8h0m-1 4h0m-1-2h0m-1-2h0m0 9h0m-4-2h0m0-17h0m0 0h0m-7 16h0m-8-16h0m-3 9h0m-1 1h0m-5-7h0m-12 16h0m-4-18h0m-1 7h0m0-7h0m-1 7h0m0 9h0m0-18h0m-2 0h0m-2 11h0m-2-5h0m0 5h0m-1-13h0m-1-1h0m0 13h0m-5 7h0m-1-15h0m-5 7h0m-60 0h0m-2-5h0m-3 6h0m-3-11h0m-196 10h0m-18 13h0m19 16h0m168-17h0m30 15h0m5-7h0m80-8h0m16 2h0m15 0h0m95-2h0m-224 43h0m-3-17h0m-25-1h0m-153 8h0m-16 7h0m-3-9h0m-1-6h0m-10 14h0m158 25h0m34-9h0m20-4h0m21 10h0m32-6h0m18 15h0m30-1h0m349-9h0m6-3h0m1 7h0m4-5h0m20 3h0m-323 25h0m-5 1h0m-23-13h0m-10 8h0m-28-7h0m-123 19h0m-1-8h0m-172 22h0m342-1h0m22 11h0m143-1h0m-82 7h0m-6-3h0m-4 17h0m144 24h0m13 9h0m-6 3h0m-79 15h0m-220 0h0m-123-9h0m222 31h0m20 0h0m4 3h0m2-5h0m40-11h0m0 4h0m81 4h0m-56 11h0m-79-1h0m-136 5h0m-12 7h0m-13-11h0m-90 20h0m64 10h0m24 14h0m17-11h0m2-1h0m2 12h0m17-11h0m7 4h0m192-6h0m-257 27h0" stroke="#911eb4"/>
<path d="M1662 1072h0m11-6h0m8 7h0m0 5h0m1-2h0m0-5h0m11 2h0m1-3h0m1 0h0m0 7h0m4-9h0m1-4h0m2 4h0m2-1h0m0-1h0m85 24h0m-63 13h0m-3-12h0m-5 11h0m-5 0h0m-7-21h0m0 3h0m-3 16h0m-8-9h0m-2-7h0m-5 8h0m0-5h0m-3 5h0m-11-6h0m-9-3h0m-2 12h0m23 23h0m1-12h0m4-1h0m12 12h0m7-5h0m2-4h0m0 5h0m0-7h0m3 8h0m2-3h0m4 9h0m1-16h0m3 9h0m117 28h0m-64 8h0m-28 13h0m43-2h0m7 11h0m0-7h0m15-9h0m5 10h0m6-6h0m29 30h0m-352 1h0m335 23h0m5-3h0m2 6h0m3-13h0m13 1h0m12 24h0m-4 3h0m-1-5h0m-222-2h0m134 29h0m19 1h0m-481 63h0m544-17h0m4 1h0m2 5h0m10 2h0m4 11h0m1-1h0m10-4h0m-1 6h0m-6 0h0m-6 5h0m-12 6h0m-546 34h0m191-9h0m28 21h0m-224 22h0m16-5h0m231 0h0m1 2h0m5 1h0m34 2h0m18-3h0m51 3h0m13 0h0m10-3h0m21 10h0m1-3h0m215-1h0m-241 32h0m-43-4h0m-3 3h0m-137-11h0m-9 8h0m-4-11h0m-19 12h0m19 10h0m195 1h0m2 19h0m10-16h0m20 15h0m9 3h0m118-2h0m2 12h0m-87 4h0m-15-10h0m0 16h0m-42-13h0m-194 16h0m-20-6h0m-25 27h0m14-9h0m26 1h0m51 11h0m69-22h0m74 4h0m3 17h0m8-9h0m43 9h0m4-5h0m6 5h0m8-6h0m32-7h0m1 12h0m5 3h0m1-9h0m41-3h0m25 2h0m-67 32h0m-6-7h0m-2-5h0m-2-6h0m0 3h0m-4 3h0m-22 3h0m-52-11h0m-30 7h0m-130-3h0m-99 3h0m56 21h0m71-5h0m204 20h0m16 0h0m68-20h0m6 3h0m8-3h0m3 44h0m-85-18h0m-17 4h0m-259-6h0m-6 4h0m-77 18h0m-3-10h0m-7 6h0m36 18h0m33 10h0m282-20h0m12-1h0m33 9h0m16-4h0m14 32h0m-56-13h0m-9 11h0m-10-1h0m-6-11h0m-217 1h0m-30 1h0m-49 20h0" stroke="#e6194b"/>
<path d="M1593 1101h0m-14 0h0m-12 8h0m3 7h0m2-3h0m0-5h0m1 9h0m2-13h0m3 6h0m8 7h0m5-9h0m1-4h0m105 59h0m82 4h0m-56 29h0m-58 27h0m2-15h0m13 4h0m10 10h0m10-15h0m11 1h0m6 15h0m5-5h0m18-15h0m20 16h0m3-18h0m0 7h0m3 0h0m12 3h0m7 9h0m2-1h0m3-13h0m86 38h0m-20-5h0m-61 6h0m-9-18h0m-16 7h0m-2 8h0m-1 1h0m0 1h0m-15 3h0m-3-20h0m-6 8h0m0 0h0m-3 6h0m-1-2h0m-3-1h0m-4-7h0m0-3h0m-1 12h0m-2-5h0m-32-8h0m-5 6h0m-9 2h0m-1 27h0m6-4h0m5 5h0m12-3h0m2-7h0m6 0h0m41 7h0m51-6h0m-61 35h0m-19 0h0m-4-6h0m-181 36h0m122-8h0m107-8h0m36-1h0m80 12h0m-258 28h0m-105-5h0m-117 2h0m-11 0h0m-52-2h0m0 1h0m-33 0h0m-13 4h0m0 16h0m2-7h0m3-6h0m11 7h0m27-6h0m14 8h0m180 4h0m477 33h0m-472-7h0m-12-11h0m-13 13h0m-2-5h0m-31 25h0m55 4h0m9 2h0m13-8h0m3-1h0m2 3h0m12 4h0m4-13h0m31-3h0m8 2h0m24 5h0m1 8h0m40-16h0m27 8h0m17 11h0m1-2h0m220 3h0m29-3h0m2 0h0m5 2h0m12-20h0m17 4h0m12-1h0m-54 29h0m-3-7h0m-7 9h0m-3-5h0m-266-5h0m-20 7h0m-15-6h0m-8 3h0m-3-2h0m-24 3h0m-1 3h0m-2-8h0m-117 20h0m-173 16h0m3-1h0m2-1h0m2 0h0m148-4h0m205 7h0m0-10h0m8 17h0m5 2h0m20-13h0m49 13h0m13-1h0m16-5h0m14-8h0m58 32h0m-69-3h0m-21-5h0m-21 8h0m-17-1h0m-42-14h0m-69 20h0m-110-11h0m-31 6h0m-25 29h0m12-20h0m95 11h0m126-4h0m73 8h0m22-3h0m41-8h0m17 9h0m-7 33h0m-1-1h0m-3-20h0m0 6h0m-2 8h0m-72 7h0m-90-6h0m-75-4h0m-56 8h0m-74-11h0m62 33h0m189-8h0m37 3h0m84-3h0m14 1h0m15-7h0m-9 40h0m-6-5h0m-5-3h0m-2-4h0m-4 13h0m-6-3h0m-3-9h0m-31 11h0m-49-17h0m-263 31h0m7 2h0m15-4h0m8 8h0m9 0h0m23 4h0m213-5h0m85 6h0m-3 9h0m-32 7h0m-38-7h0m-216-1h0m-4 2h0m-97-6h0" stroke="#f032e6"/>
<path d="M1845 1103h0m-25 40h0m-344 28h0m197-1h0m29-4h0m53 7h0m8 1h0m2-10h0m7 2h0m0-1h0m18 8h0m-17 24h0m-2-16h0m-4 8h0m-3-2h0m0-4h0m-3-6h0m-4 10h0m-6 10h0m-3-2h0m-6 2h0m0-1h0m-30-13h0m-5 4h0m-5 5h0m0-11h0m-3 15h0m-4-6h0m-3-8h0m-6-3h0m-2 9h0m0 8h0m-1-19h0m-1 12h0m0 8h0m-2-8h0m-1-5h0m-14-6h0m-159 8h0m-2 10h0m-3-6h0m-1-7h0m-2 15h0m-20-21h0m-6 3h0m-13 30h0m2-7h0m22 12h0m2-7h0m15-7h0m180 5h0m8-6h0m1 4h0m83-4h0m0 1h0m10 3h0m0 2h0m4 9h0m9-6h0m-92 56h0m98-13h0m-7 43h0m-273 18h0m309 8h0m-7 2h0m-4 5h0m-6 0h0m-507 2h0m17 18h0m217 14h0m11-3h0m0-8h0m49 39h0m-82 21h0m83-11h0m48 15h0m29-20h0m10 5h0m23-1h0m9 35h0m-1 2h0m-6-2h0m-2 0h0m-3 1h0m-22 1h0m-40-14h0m42 25h0m15-7h0m5 2h0m9-2h0m143 30h0m-8 14h0m-6-11h0m-2 14h0m-13-11h0m-25 4h0m-12 5h0m-63-5h0m-21-13h0m-21 0h0m-182 14h0m-29 9h0m72 14h0m151 1h0m59-3h0m51 5h0m32-15h0m11 10h0m13-8h0m32 5h0m-67 32h0m-28-7h0m-15 0h0m-91 4h0m-201-9h0m-8 0h0m-12-7h0m-9 13h0m-10-2h0m-6-7h0m30 35h0m8-2h0m100 5h0m151-3h0m87-11h0m17 16h0m4-5h0m25-11h0m35 16h0m-78 5h0m-6 18h0m-27-3h0m-22-11h0m-253 13h0m-28-14h0m-27-2h0m78 40h0m33-16h0m206 19h0m26-4h0m2-11h0m22 11h0m5-6h0m25 8h0m2-7h0m-55 13h0m-47 0h0m-255 9h0m-7 10h0" stroke="#f58231"/>
<path d="M1804 1087h0m-9-2h0m-43 85h0m-67 26h0m-53 27h0m49-16h0m34 1h0m-51 39h0m-5-4h0m-1-11h0m-1 11h0m-7-7h0m-3-5h0m-4 2h0m-4 6h0m-1-8h0m-1 3h0m-1-9h0m-5 22h0m7 14h0m9-2h0m1 4h0m3-4h0m8 10h0m2-11h0m2 5h0m3 4h0m16-5h0m11 8h0m0-12h0m4 10h0m8 0h0m32 2h0m55 21h0m-3-1h0m-33 1h0m-21-3h0m-9-9h0m-4 8h0m0-15h0m-6 2h0m-5 18h0m0 2h0m-4-8h0m-12-8h0m0-2h0m-4 9h0m-37-7h0m32 30h0m15-1h0m4-11h0m2 20h0m0-18h0m1 1h0m0 0h0m2-3h0m8 18h0m5 2h0m5-15h0m2 11h0m3-7h0m2 7h0m31-3h0m1-4h0m5 4h0m4-4h0m7 7h0m19-13h0m-28 31h0m-15 4h0m-3-11h0m-2-1h0m-2 2h0m-1 6h0m-11-10h0m-12 1h0m-2 5h0m-3 2h0m-194 13h0m-239 1h0m255 31h0m-4-4h0m-5 21h0m-60-21h0m-129 16h0m-14 4h0m178 11h0m49 15h0m445-21h0m17 9h0m-544 17h0m37 22h0m133 10h0m195 10h0m-6 2h0m-141 2h0m-145 15h0m130 16h0m8 14h0m3-7h0m154 8h0m-58 13h0m-11-6h0m-3 9h0m-73-12h0m-99 13h0m-145 29h0m0-7h0m1-4h0m17-8h0m212 4h0m46 16h0m24-2h0m81-11h0m67 37h0m-35-22h0m-100 2h0m-5 7h0m-10 8h0m-7-6h0m-26-7h0m-165 7h0m-50 7h0m-5-1h0m-47 5h0m-3-4h0m73 22h0m17-6h0m206-10h0m7 3h0m1 11h0m3-11h0m14 17h0m-220 19h0m-30-13h0" stroke="#ffe119"/>
<path d="M1730 1079h0m90-11h0m34 35h0m-4-1h0m-7-4h0m-3-4h0m-1 8h0m-1-5h0m-26-6h0m-1 0h0m-6 2h0m-10 3h0m-1-12h0m-3 7h0m-1 4h0m-1-2h0m-4 0h0m-1 4h0m-3-12h0m-58-2h0m99 44h0m1-18h0m4 4h0m5 10h0m1-18h0m2 8h0m0 3h0m2-9h0m5 0h0m10-3h0m0 19h0m2-7h0m3 0h0m1-7h0m5-4h0m-31 33h0m-3-7h0m-8 9h0m-48 5h0m-311 45h0m-20 13h0m5 8h0m8-2h0m5-3h0m8 7h0m21 9h0m14 1h0m4-17h0m4 10h0m377 12h0m-4 14h0m-384-8h0m-4-10h0m-2 11h0m0-6h0m-4 6h0m-11 9h0m-1 1h0m-5-17h0m0 5h0m-12-7h0m-1 0h0m-1 13h0m-11-13h0m-4 4h0m24 22h0m14 3h0m7 0h0m6 8h0m200-6h0m94 43h0m-465 28h0m-6 8h0m-13-3h0m-3 12h0m214 23h0m-159 19h0m-11 0h0m-13-8h0m616 32h0m-229 13h0m-208 27h0m37 0h0m20 0h0m203 27h0m-107-8h0m-3 5h0m-12-5h0m-20 16h0m-1 0h0m-1 0h0m-4 0h0m224 15h0m35 0h0m-341 27h0m-52-10h0m-31 6h0m396 47h0m-355 1h0m-33 10h0m-5 25h0m28-14h0m13 3h0m37-7h0m228 30h0m-3 1h0m-1 3h0m-2 8h0m-4-6h0m-2-3h0m-214-10h0m-20 17h0m-32-21h0m-18 13h0" stroke="#0082c8"/>
<path d="M1672 1061h0m13 57h0m29 2h0m71 21h0m-5 5h0m-4 0h0m-10 4h0m-4-1h0m-3 0h0m-8 1h0m-10-9h0m-5 3h0m-1 1h0m-4-6h0m-1 4h0m-1 8h0m0-17h0m-6 8h0m-1-4h0m0 12h0m-3-13h0m-2 6h0m-10 0h0m-1-8h0m-17 19h0m1 8h0m11-3h0m9-7h0m3 7h0m14 1h0m5 9h0m1 5h0m3-13h0m0-8h0m6 14h0m5-13h0m6 7h0m13 5h0m10-2h0m2-3h0m-104 34h0m163 28h0m1 0h0m2-2h0m20 15h0m-9 1h0m-3-5h0m-2 6h0m0 0h0m-2-1h0m-103 5h0m-114-11h0m169 18h0m58 2h0m2-2h0m-15 69h0m0-1h0m5 0h0m1-11h0m2 7h0m11-10h0m0 13h0m11-11h0m-6 28h0m-4-3h0m0-6h0m-3-3h0m-2 14h0m-1-11h0m-4-2h0m-7 7h0m-323 5h0m-186 18h0m17-2h0m187 19h0m-1 45h0m137-16h0m11 5h0m307-9h0m-274 31h0m-22-4h0m-6 17h0m-19-21h0m-91 0h0m124 42h0m5-11h0m20 1h0m20 6h0m36 1h0m3-6h0m27-1h0m-17 33h0m-26-12h0m-5 11h0m-5-13h0m-9 2h0m-3 10h0m-6 0h0m-6-7h0m-18 3h0m0 11h0m-168-6h0m-13-3h0m20 19h0m253-7h0m10 12h0m6 5h0m68 7h0m-15 0h0m-14 17h0m-30-16h0m-6 8h0m-54 2h0m-20 10h0m-4-15h0m-30-6h0m-4 10h0m-20 4h0m-97-6h0m-5 37h0m5-4h0m130 0h0m1 3h0m116-9h0m16 9h0m-1 6h0m-2-4h0m-12 4h0m-9 17h0m-6-3h0m-3-14h0m-33-3h0m-27 1h0m-18 16h0m-149-18h0m-87 9h0m-27-8h0m-41 23h0m46 11h0m52 10h0m208-15h0m109-2h0m11 1h0m-64 27h0m-231-7h0" stroke="#3cb44b"/>
<path d="M1842 1103h0m-253 5h0m130 3h0m-35 48h0m79 0h0m-89 50h0m3 1h0m105 11h0m96 26h0m-195-20h0m-13 9h0m-33-7h0m97 39h0m39-1h0m3 4h0m11 11h0m-1 4h0m-4-7h0m-1 2h0m-1-1h0m-6 8h0m-2-13h0m-5-1h0m-4 5h0m-9 6h0m-16-2h0m-3 2h0m0-7h0m-10 7h0m0-9h0m-13 6h0m9 17h0m22 1h0m60 19h0m2-15h0m9 13h0m58 15h0m-51-2h0m-1 0h0m-6 1h0m0-7h0m-10-4h0m-9 5h0m-404 8h0m-4 6h0m-8-1h0m-35-9h0m-16 2h0m-19 7h0m0 12h0m28-1h0m9 15h0m2-2h0m16-16h0m167 21h0m470 23h0m-84 1h0m-362-4h0m-25-3h0m-11-7h0m-11-2h0m-2 0h0m-42 27h0m10-5h0m13 15h0m110-13h0m21-2h0m20 5h0m45 1h0m2 7h0m27-9h0m218-9h0m11 5h0m9 14h0m47-11h0m3 3h0m2-1h0m1-3h0m14-1h0m-221 39h0m-78 0h0m-15-16h0m-22 1h0m-14 0h0m-16-5h0m-2 8h0m-3 8h0m-2-11h0m-26 7h0m-75-1h0m-50-8h0m49 34h0m35 0h0m65-8h0m6 1h0m19 0h0m25 8h0m14-4h0m7-1h0m3 1h0m15-10h0m15 19h0m19-6h0m17 5h0m2-8h0m13 5h0m38 16h0m-12 9h0m-51 1h0m-10 5h0m-11-19h0m-2 1h0m-16 4h0m-3-5h0m-6 1h0m-2 14h0m-77-14h0m-170 23h0m69 10h0m1-13h0m23 12h0m20-7h0m124 13h0m7-15h0m14 13h0m4 6h0m4-20h0m8 15h0m6-5h0m7 2h0m16-6h0m44 2h0m17-5h0m37-6h0m31 47h0m-11-11h0m-56 8h0m-55-9h0m-30 6h0m-3 5h0m-30-7h0m-3-6h0m-14-8h0m-4-1h0m-231 42h0m58-10h0m5 7h0m77 6h0m110-13h0m1 0h0m8 8h0m11-3h0m16-6h0m47-4h0m32 19h0m58-19h0m11 13h0m-11 8h0m-6 22h0m-14-5h0m-3 1h0m-10-16h0m-13 0h0m-4 16h0m-12-10h0m-1 0h0m-4-3h0m-5 5h0m-13 4h0m-57-9h0m-33 5h0m-143 7h0m-37-4h0m-1-10h0m-16 1h0m-2-3h0m-2 22h0m-19-3h0m6 4h0m68 17h0m9 5h0m183 0h0m4-2h0m60-6h0m3-3h0m0 0h0m17 10h0m35-13h0m-9 20h0m-51 2h0m-264 11h0m-23-5h0m-1-10h0" stroke="#46f0f0"/>
<path d="M1672 1168h0m179 22h0m-141 2h0m161 65h0m-152 22h0m-73 16h0m-120 20h0m5-5h0m86 5h0m1-13h0m14 8h0m0-7h0m1 2h0m7-1h0m1-6h0m11 16h0m6 2h0m2-3h0m5-4h0m1-6h0m1 12h0m0-1h0m32-13h0m9 3h0m3-8h0m41 44h0m-60-15h0m-10 10h0m-3-14h0m-5 14h0m-2-5h0m-3 6h0m-13-12h0m-4-3h0m-1 10h0m-3 6h0m-24-1h0m0-8h0m-5 7h0m-5-5h0m-67 4h0m-9 0h0m-18-2h0m-5 4h0m-113 3h0m0-6h0m-11 2h0m-52 28h0m3-10h0m2 4h0m4-2h0m3-8h0m8-1h0m131 13h0m4-11h0m1 17h0m49-9h0m76-12h0m14 4h0m16-3h0m6 0h0m4 5h0m5-5h0m0 2h0m1 2h0m-167 20h0m-19 2h0m-134 8h0m-13-11h0m174 31h0m2-3h0m1 18h0m22-22h0m84 8h0m3-1h0m74 0h0m293-1h0m33 7h0m-413 24h0m-9-9h0m-18-1h0m-74 2h0m-6 8h0m-2 0h0m-172 23h0m8-5h0m0 4h0m2 3h0m164-10h0m140 4h0m26-4h0m1-1h0m2 3h0m64 21h0m-73 13h0m-19-14h0m-125 11h0m-21 19h0m10-2h0m60 5h0m336 11h0m-176 25h0m-128-2h0m-20-18h0m-57 17h0m-54 1h0m-2-7h0m-5 4h0m-8-9h0m18 19h0m3 7h0m4-7h0m16 7h0m8 6h0m11-14h0m385-2h0m11 10h0m2 12h0m-135 3h0m-54-2h0m-264 6h0m-6 2h0m57 24h0m47 11h0m3 4h0m2 0h0m222-21h0m20 5h0m27-7h0m11 26h0m-300 11h0m-23-8h0" stroke="#911eb4"/>
<path d="M1696 1054h0m-36 18h0m27-2h0m4 4h0m5-2h0m8-13h0m6 10h0m1-6h0m20 21h0m-2 5h0m-16-5h0m-4-3h0m-5 7h0m-5 5h0m-1-12h0m0 17h0m-1-6h0m-3 2h0m0-5h0m-1 10h0m-1-3h0m0-1h0m0-15h0m-6 19h0m0-13h0m-1-4h0m-13 20h0m-9-6h0m-2-6h0m-4 9h0m-2-15h0m7 21h0m14 14h0m7-9h0m23 16h0m5-6h0m0 0h0m1-2h0m18 4h0m-52 38h0m114-1h0m1 3h0m2 0h0m6-1h0m18 5h0m12-6h0m4-7h0m9 60h0m3 6h0m1-1h0m3-14h0m19 1h0m10-2h0m13 35h0m-7-11h0m-4 19h0m-12-17h0m-5 4h0m-1 1h0m-3 4h0m-12 5h0m-113 41h0m88 31h0m43 3h0m1-21h0m3 19h0m1-1h0m0 0h0m5-6h0m0 10h0m1-11h0m4 11h0m0-1h0m2-6h0m3-11h0m-2 33h0m-2-7h0m-7 4h0m-7 2h0m-1-2h0m-139 2h0m-394 1h0m-25 0h0m225 26h0m9 3h0m23 25h0m-29-8h0m-197-6h0m-24 3h0m244 17h0m29 4h0m99 11h0m24 1h0m17 4h0m0 1h0m-40 2h0m0 21h0m-7-5h0m-70-9h0m-117 32h0m23-5h0m64 4h0m126-13h0m20 21h0m152 13h0m-4 8h0m-69 1h0m-1-9h0m-23-2h0m-19-2h0m-10-1h0m-3 15h0m-27-13h0m-25-8h0m-164 17h0m-10 0h0m-9 5h0m-8-6h0m-30 25h0m5 3h0m76-6h0m0 7h0m2-1h0m172 0h0m30-5h0m3-12h0m0 7h0m29 4h0m5-6h0m18 10h0m36-6h0m55 31h0m-5 1h0m-2-3h0m-12 2h0m-60-15h0m-9 6h0m-9 8h0m-1-19h0m-2 4h0m-9 13h0m-3-5h0m-47-12h0m-146 36h0m183-6h0m16 3h0m1-3h0m6 4h0m10-10h0m14 17h0m37-16h0m30 40h0m-35 0h0m-46-3h0m-14 9h0m-5-23h0m-3 13h0m-9 7h0m-45 2h0m-14 0h0m-248 6h0m94 6h0m215-4h0m5 8h0m4 6h0m6-15h0m4 15h0m46-6h0m25-5h0m9-7h0m-82 35h0m-7-11h0m-1 11h0m-2-11h0m-4 1h0m-6-1h0m-268 4h0m-7-3h0" stroke="#e6194b"/>
<path d="M1589 1098h0m-3-1h0m-3-3h0m-14 19h0m16-9h0m145 27h0m-19-1h0m-39 25h0m155 10h0m-73 18h0m-25 10h0m-10-4h0m-61 32h0m31-14h0m6 11h0m5-7h0m27-8h0m1 8h0m0 10h0m6-18h0m3 10h0m2-6h0m2-6h0m1 13h0m9 6h0m4 1h0m0 0h0m8-20h0m2 21h0m9-1h0m20-5h0m97 21h0m-115-13h0m-3 5h0m-3 14h0m-8 3h0m-8-17h0m-15 11h0m-3-10h0m-5 4h0m-5-6h0m-7 1h0m0-4h0m-14 18h0m-21 9h0m6 2h0m17 4h0m2 0h0m3-2h0m3-4h0m7 10h0m6-8h0m30 15h0m8-20h0m30 9h0m-135 46h0m217 10h0m-122 25h0m-223-1h0m-3 4h0m-140-11h0m-23 11h0m-23-9h0m-45 3h0m4 25h0m10-5h0m3-3h0m24-8h0m13-1h0m126 16h0m19-8h0m19 2h0m90 35h0m-71-15h0m-62 12h0m-145 13h0m147-5h0m1 11h0m3-2h0m2-4h0m3-2h0m32 13h0m18-13h0m32 2h0m6 10h0m55 5h0m45 1h0m22-2h0m5-3h0m15-15h0m7 4h0m7 13h0m2 1h0m247 2h0m1-12h0m4 10h0m-4 10h0m-13 3h0m0-4h0m-10 6h0m-1-9h0m-10-1h0m-225 8h0m-6 9h0m0-10h0m-12-1h0m-6-4h0m-46-4h0m-4 5h0m-9 5h0m-1 6h0m-18-7h0m-82-9h0m-26 4h0m-7 11h0m-32 1h0m-151 19h0m7 3h0m7-8h0m302 7h0m12 8h0m1-3h0m42-15h0m4 10h0m4 9h0m117-7h0m58 31h0m-11-4h0m-54-3h0m-58-3h0m-11-2h0m-1 1h0m-3-1h0m-20-10h0m-69 8h0m-181 36h0m61-17h0m16 8h0m16-4h0m286 13h0m33-6h0m23 24h0m-45 9h0m-2 0h0m-1-19h0m-46 9h0m-3-12h0m-27 22h0m-63-8h0m-116 3h0m-25 2h0m-48-12h0m-46 4h0m18 17h0m227 0h0m11-1h0m113 14h0m0 5h0m2-22h0m17 3h0m4 7h0m17-8h0m22 25h0m-64-4h0m-286 15h0m-50-11h0m-41 0h0m-14 23h0m23 17h0m48-14h0m40 8h0m278-11h0m-263 21h0m-54 0h0" stroke="#f032e6"/>
<path d="M1682 1145h0m-11 27h0m12-18h0m2 3h0m5 5h0m1-2h0m3 15h0m5-10h0m10-7h0m58 13h0m1-1h0m5-5h0m3 5h0m8-7h0m-2 30h0m-4-2h0m-1 2h0m-7-5h0m-2 1h0m0 7h0m-2 0h0m-4-9h0m-1 11h0m-59 0h0m-1-13h0m-2-6h0m-2 17h0m0 1h0m-5-18h0m-1 19h0m0-15h0m-2 15h0m-3-21h0m-15 3h0m-167 4h0m-8-1h0m0 12h0m-6 2h0m-2-19h0m-5 6h0m-1-5h0m-3-3h0m-1 2h0m-4 21h0m0-17h0m-3 6h0m0 6h0m-4-7h0m-3 2h0m-3 0h0m-5 17h0m1 6h0m300-12h0m9 1h0m12 18h0m81-13h0m-170 36h0m36 33h0m100 39h0m1 5h0m5-2h0m4 2h0m0 0h0m-5 12h0m-2-6h0m-5-4h0m-490 19h0m154 26h0m57-4h0m-14 41h0m191 1h0m5 4h0m290-11h0m-63 20h0m-223 7h0m-13 13h0m-11-5h0m-4 2h0m-15 3h0m-2-5h0m-172 1h0m-9 28h0m9-9h0m166-8h0m7 3h0m2-3h0m3 0h0m18 0h0m8 14h0m9-6h0m5 0h0m30 5h0m128 26h0m-20 0h0m-1 2h0m-1 2h0m-4-16h0m-10 16h0m-5-17h0m-7 0h0m-87 8h0m-19-5h0m-4-1h0m-221 14h0m34 23h0m160-3h0m0-4h0m7-3h0m9 2h0m111 2h0m2-8h0m1 11h0m8-8h0m9-10h0m18 4h0m2 10h0m21-9h0m11 10h0m3 22h0m-9-12h0m-17 4h0m-288 2h0m-37-5h0m-22 7h0m-31 2h0m-22 10h0m5 25h0m2-12h0m249-1h0m99 13h0m8-1h0m2-5h0m52 8h0m-25 6h0m-31 8h0m-10-4h0m-7 12h0m-41-7h0m-4-2h0m-1-13h0m-4 1h0m-234 0h0m-4 5h0m-15 8h0m-5-1h0m-40-13h0m-23 14h0m71 12h0m54 4h0m1 11h0m281-16h0m7 5h0m3 23h0m-310 1h0m-39-3h0m-24 13h0" stroke="#f58231"/>
<path d="M1678 1083h0m177 107h0m-97-10h0m-86 2h0m-216 18h0m49 5h0m384 31h0m-198-9h0m-9 12h0m-5 8h0m-10-1h0m-8 1h0m-1 0h0m-5-19h0m-3 5h0m0-8h0m-13 11h0m-1 9h0m-7-7h0m-2 20h0m8 3h0m3-5h0m18 4h0m0 8h0m2 2h0m3-6h0m3 2h0m7-5h0m3-2h0m4 10h0m7-12h0m2 8h0m5 1h0m20 5h0m51 24h0m-38-17h0m-6 16h0m-2-1h0m0-4h0m0 3h0m-11-17h0m-10-2h0m-6 10h0m-26-7h0m-1 2h0m-1-1h0m-21-3h0m-1 23h0m41 18h0m31-6h0m3-11h0m7 10h0m13 0h0m0-1h0m2 11h0m4-4h0m0-10h0m11 9h0m1 6h0m5-4h0m8 2h0m5-3h0m8-3h0m1-8h0m18-1h0m15 10h0m-27 10h0m-13 6h0m-2-1h0m-4-5h0m-1 10h0m-5-4h0m-4-6h0m-1 7h0m-3-6h0m-1-3h0m-3 13h0m-3-1h0m-5 0h0m-2 2h0m-11-10h0m-6-4h0m-30 16h0m-2-5h0m-303 9h0m162 41h0m-57-13h0m-1 20h0m-162-13h0m182 34h0m1-4h0m74-11h0m103 16h0m258 7h0m-467 1h0m-11 4h0m376 48h0m-177 0h0m-23 7h0m-121 32h0m171-15h0m6 13h0m1-2h0m21-5h0m183 11h0m-121 15h0m-1-4h0m-4-10h0m-179 8h0m-87 0h0m-71 27h0m32-7h0m401 12h0m21-4h0m-156 25h0m-132-4h0m-56 10h0m-101-12h0m-3-4h0m-2 13h0m84 29h0m311-10h0m13 0h0m-34 29h0m-310-15h0" stroke="#ffe119"/>
<path d="M1702 1059h0m8 12h0m2 3h0m2-4h0m147 29h0m-13 0h0m-5-6h0m-1-1h0m-7 3h0m-6 5h0m-5-2h0m-15-9h0m0 0h0m-2 4h0m-5 6h0m-1-2h0m0 0h0m-4 5h0m-3-11h0m0-6h0m0 9h0m-1 1h0m-6-3h0m-14-1h0m59 23h0m8-1h0m2-4h0m7 0h0m8 2h0m5-3h0m4 1h0m-30 40h0m-4-7h0m-6-13h0m-55 19h0m-331 75h0m11-9h0m4-4h0m4 2h0m15 11h0m6 0h0m8-10h0m0-7h0m4 11h0m0-1h0m4-13h0m14 3h0m183-6h0m57 11h0m91 4h0m-340 15h0m-6-2h0m-5 2h0m0-3h0m-12 12h0m-10-9h0m-8-1h0m0-1h0m-1 2h0m-13-6h0m24 39h0m0-3h0m1-4h0m2-8h0m4 2h0m4 10h0m382 43h0m-239 37h0m-220-7h0m-72 1h0m-20-1h0m1 27h0m10-5h0m196-7h0m-169 38h0m-5 0h0m-4 0h0m306 45h0m-140 25h0m14-12h0m6 8h0m12 2h0m20 0h0m10 1h0m9-5h0m41 28h0m-3 8h0m-3-1h0m9 5h0m75 32h0m-225 4h0m-28 15h0m362 16h0m-16 26h0m-181-10h0m-122 10h0m-2-16h0m0 1h0m-1 12h0m-9 2h0m-3-7h0m-23 8h0m-8-6h0m54 29h0m18-11h0m70-7h0m213 27h0m-15-2h0m-30 17h0m-215-9h0m-35-12h0m-15 10h0m-5-10h0" stroke="#0082c8"/>
<path d="M1685 1124h0m10-6h0m5 1h0m8 7h0m6-6h0m80 29h0m-8 1h0m-10 0h0m-2 0h0m-19 0h0m-4-1h0m0 2h0m-15-2h0m-1-1h0m-4 0h0m0-3h0m-3-1h0m-2 6h0m-1-7h0m-5 3h0m0-5h0m-5 8h0m-4-2h0m-4-5h0m-10 1h0m-2 2h0m-24-1h0m10 13h0m5-1h0m8-3h0m12-1h0m7 4h0m0 9h0m3-11h0m5-1h0m6 1h0m15 7h0m9 6h0m3-4h0m1-1h0m1 3h0m6-9h0m7 3h0m1 14h0m2-17h0m16-4h0m9 14h0m1-4h0m-38 32h0m-11-8h0m-82 18h0m176 15h0m3 3h0m42 12h0m-11 10h0m-9-5h0m-1 7h0m-4-2h0m-8-3h0m-1-6h0m-1 6h0m-7 1h0m-4-15h0m0 9h0m-3 7h0m-2-16h0m-3 1h0m-96 1h0m-90 35h0m36-3h0m149-13h0m19 0h0m-2 47h0m-122-11h0m-27 2h0m149 25h0m7 5h0m8 1h0m-2 13h0m-1-10h0m0 2h0m-1 7h0m-4-6h0m-13-1h0m-325 2h0m-196 34h0m2 1h0m5 3h0m0 4h0m2-13h0m1 7h0m4-14h0m7 17h0m167-17h0m-182 32h0m-9-2h0m196 22h0m37 1h0m8-4h0m15 8h0m97 4h0m11 2h0m32-15h0m27 36h0m-16-4h0m-6 0h0m-67-5h0m-108 0h0m138 24h0m11-5h0m1 22h0m14-9h0m4-4h0m17 0h0m53 12h0m7-5h0m53 20h0m-8 0h0m-15 5h0m-29-9h0m-5 7h0m-19-1h0m-14 9h0m-3 0h0m-11-14h0m-9 14h0m-13-14h0m-161 12h0m-103 26h0m54-11h0m53-11h0m7 0h0m25 12h0m146-8h0m20-5h0m10 23h0m3-5h0m7-8h0m2 1h0m8-10h0m8 14h0m28 0h0m4-9h0m7-1h0m51 10h0m15 31h0m-89-7h0m-49-14h0m-64 6h0m-17 3h0m-139 12h0m-93 0h0m-1 1h0m24 22h0m83-19h0m177 15h0m15-13h0m14-4h0m2 22h0m9-14h0m129 29h0m-33-8h0m-93 11h0m-48-4h0m-192 6h0m-94 12h0m77-2h0m6 1h0m25 18h0m29-21h0m190 4h0m1 3h0m9 7h0m31-3h0m13-6h0m10 10h0m-1 10h0m-67 10h0m-8 4h0m-239-4h0" stroke="#3cb44b"/>
<path d="M1838 1140h0m-82 14h0m-34 34h0m-48 35h0m3 0h0m103-8h0m108 13h0m-26 9h0m-182-6h0m-20-2h0m36 30h0m36-6h0m30 9h0m12-1h0m6 6h0m4-3h0m1 6h0m7-9h0m83-11h0m-89 42h0m-9-7h0m-7-11h0m-14 14h0m-1-1h0m-19-6h0m-1-6h0m-8 11h0m-11-4h0m81 22h0m3 10h0m4-3h0m3 7h0m24-2h0m6-3h0m-12 15h0m-9 7h0m-5-13h0m-13 2h0m-26 3h0m-14 8h0m-241 1h0m-116-5h0m-2 6h0m0-8h0m-2 12h0m-2 2h0m-51-2h0m-3 5h0m196 31h0m-15-2h0m-53 40h0m65-2h0m5-12h0m18 5h0m5 2h0m92-2h0m30 2h0m1 6h0m3-10h0m33 10h0m217-18h0m42 17h0m13-14h0m7 0h0m4 4h0m-275 14h0m-9 18h0m-20-4h0m-6-11h0m-1-3h0m-9 8h0m-30 1h0m-8 1h0m-12-5h0m-150 13h0m59 15h0m14 3h0m92 5h0m64-11h0m8 4h0m5-9h0m26 20h0m34 0h0m27-13h0m0 11h0m16-9h0m2 8h0m33 9h0m-10-2h0m-28-1h0m-24 9h0m0 2h0m-17-8h0m-2-4h0m-51 16h0m-2-8h0m0 5h0m0 4h0m-5-2h0m-5 3h0m-23-15h0m-49 7h0m-92 13h0m-58-4h0m-13 3h0m72 10h0m155 12h0m21-8h0m10 8h0m3-12h0m7 6h0m5 6h0m23-17h0m114 6h0m-125 32h0m-7 5h0m-1-15h0m-2 14h0m-12-12h0m-7 12h0m-17-11h0m-6-2h0m0-6h0m-12 10h0m-7-1h0m-197 12h0m-48 17h0m5-9h0m65 11h0m2 0h0m87 0h0m87 2h0m8-19h0m1 0h0m14 0h0m2 5h0m3 9h0m4-6h0m1-8h0m5 1h0m1 2h0m1-2h0m2 3h0m10 6h0m4 7h0m17-15h0m114 3h0m4 26h0m-19 9h0m-11-4h0m-3-5h0m-18-7h0m-2 0h0m-75 6h0m-155 7h0m-36 2h0m0-7h0m-5 7h0m-14-3h0m-27-12h0m-2 5h0m-28 14h0m-6-14h0m-38 10h0m311 17h0m19 0h0m1 12h0m50-7h0m38-6h0m9 11h0m-22 8h0m-24 3h0m-82 11h0" stroke="#46f0f0"/>
<path d="M1689 1074h0m64 75h0m32 13h0m-88 107h0m58-18h0m-45 43h0m-174 23h0m12-1h0m66 3h0m18-8h0m3-3h0m2-5h0m14-1h0m3 8h0m6-2h0m0 7h0m1-14h0m6-2h0m2 13h0m2-6h0m29 11h0m1-5h0m141 12h0m-157 12h0m-1 3h0m0-14h0m-2-4h0m-7 8h0m-1 3h0m0-1h0m-1 0h0m0-7h0m-4 5h0m0 4h0m-4-10h0m-3 11h0m-6-6h0m-3 11h0m0-18h0m0 15h0m-1 0h0m-10 0h0m-5 3h0m-2 2h0m-8-5h0m0-15h0m-5 3h0m-2-1h0m-2 7h0m-66 1h0m0 0h0m-2-6h0m-12 1h0m-18 1h0m-149 15h0m-66-6h0m28 24h0m8-11h0m202 13h0m7-2h0m70-16h0m17 0h0m16 5h0m5 1h0m-41 38h0m-19-2h0m-58 4h0m-190-15h0m-3 7h0m0-14h0m-18 9h0m137 16h0m36 18h0m1 3h0m49-6h0m7-10h0m4 2h0m16 10h0m2 0h0m19-9h0m414 1h0m2-1h0m4-1h0m-59 19h0m-324 19h0m-35-12h0m-9-10h0m-118 11h0m-149 27h0m313-4h0m206 33h0m-76-6h0m-124 0h0m-96 9h0m-77 5h0m39-2h0m390 20h0m6-6h0m-7 12h0m-425 26h0m52-4h0m63 10h0m121 12h0m4-5h0m120 5h0m15-4h0m51 22h0m-34-5h0m-86 1h0m-14-5h0m-71 0h0m-171-3h0m-73 11h0m102 20h0m217-3h0m50-4h0m17 11h0m23-4h0m6 12h0" stroke="#911eb4"/>
<path d="M1684 1067h0m0 1h0m1-12h0m0 19h0m8-13h0m3 15h0m16 2h0m1 20h0m-1-8h0m-6 4h0m-9-8h0m0 3h0m-1 9h0m-2-8h0m-4-1h0m-1-8h0m-1 4h0m-3 0h0m-2 3h0m-11 3h0m-3-10h0m-15 9h0m9 15h0m2-2h0m8 6h0m9 10h0m3-10h0m18 12h0m2-12h0m5 8h0m0-10h0m0 10h0m1 2h0m0-16h0m4 10h0m0-8h0m3 12h0m1 2h0m1 6h0m1-21h0m68 53h0m8 0h0m5-4h0m4 10h0m7 3h0m1-14h0m1-1h0m20 8h0m17 28h0m-59 32h0m49-1h0m3-4h0m9 7h0m16-2h0m5 2h0m3-17h0m6 18h0m-1 10h0m-7-2h0m-5-1h0m-345 80h0m263-8h0m73 1h0m14 8h0m10-7h0m4 20h0m-13 9h0m-1-6h0m-4-1h0m-1-6h0m-526 15h0m-25 23h0m18 9h0m36-23h0m137 19h0m-182 29h0m208 21h0m15-10h0m10 0h0m13-8h0m3 3h0m15-3h0m110 2h0m1 0h0m9 4h0m3 9h0m257 8h0m-265 20h0m-11-1h0m-38-13h0m-14-1h0m-112 3h0m-5-9h0m-8 11h0m-16 7h0m212 20h0m3-4h0m5 2h0m5 5h0m6-17h0m93 43h0m-13 3h0m-48-3h0m-33-10h0m-86-1h0m-122 3h0m-26 27h0m54-7h0m7 6h0m63-14h0m77 19h0m59 1h0m5-14h0m3 10h0m36-9h0m8-2h0m83 41h0m-5-4h0m-47-10h0m-36 15h0m-9-22h0m-82 12h0m-278 15h0m12 0h0m19 16h0m1-18h0m10-1h0m58 22h0m180-23h0m6 7h0m74 13h0m8-4h0m0-3h0m1-13h0m6 19h0m41-11h0m24 9h0m33 21h0m-82 9h0m-25-14h0m-3 2h0m-1-4h0m-3 8h0m-17 3h0m-38 3h0m-148-13h0m-42 6h0m-27-13h0m-9 21h0m-24-13h0m-12 26h0m57 9h0m37 2h0m221-4h0m4-3h0m3-13h0m14 9h0m51 7h0m15-5h0m1 6h0m-52 24h0m-47-19h0m0 4h0m-214-2h0m-14 5h0m-65 4h0" stroke="#e6194b"/>
<path d="M1585 1097h0m-11-5h0m0 11h0m-7-1h0m2 9h0m3 2h0m18-8h0m225 52h0m-56 39h0m-27-3h0m-94 30h0m36-19h0m7 2h0m2 4h0m24 0h0m8 7h0m7-2h0m2 7h0m1-16h0m1 4h0m0 0h0m10-1h0m2 13h0m7-8h0m1-3h0m9 12h0m11-15h0m11 2h0m11 2h0m8 1h0m92 19h0m-4 8h0m-86-7h0m-10 3h0m-11-3h0m-2 6h0m-1 5h0m0-1h0m0-8h0m-11 1h0m-19-3h0m-15-6h0m0 6h0m-2-6h0m-1 5h0m-1-8h0m-26 31h0m6 0h0m80 9h0m1-11h0m-6 23h0m-66 4h0m-33 39h0m34-23h0m47 13h0m11-6h0m25-7h0m-8 25h0m-25 7h0m-232 13h0m-141-11h0m-63-2h0m-1 2h0m-34 2h0m13 21h0m2 3h0m9-2h0m16 8h0m42-17h0m136 8h0m23-5h0m5 13h0m115-9h0m-111 39h0m-31-15h0m-10 7h0m-10 1h0m-10 2h0m-157 8h0m142 16h0m15-5h0m30-8h0m0 3h0m3-1h0m13-7h0m8 21h0m0-5h0m10-4h0m9-7h0m18 7h0m4 4h0m6 6h0m34-19h0m10 15h0m2-4h0m4-3h0m63 3h0m0 2h0m5-7h0m19 2h0m218-10h0m16 18h0m9 4h0m32-15h0m7-6h0m1 1h0m14-1h0m-46 26h0m-252 10h0m-50-2h0m-30-4h0m-133 13h0m-187 14h0m1 10h0m3-3h0m2 0h0m10-9h0m0 4h0m203-3h0m104-9h0m7 8h0m59 10h0m36-6h0m2 7h0m77 4h0m-11 0h0m-10 12h0m-9-4h0m-12 1h0m-1 6h0m-64-4h0m-72-10h0m-100 12h0m-75 30h0m56 2h0m100-20h0m5 0h0m67 12h0m28-11h0m31 12h0m127-8h0m2 35h0m-19 4h0m-16-7h0m-9 7h0m-38-18h0m-19 4h0m-23-7h0m-43 8h0m-16-7h0m-10 4h0m-174 2h0m-2 9h0m-1 4h0m-37-2h0m-24-9h0m67 29h0m0-1h0m81 0h0m202 9h0m29-3h0m1 1h0m6-20h0m1 18h0m7-12h0m1-5h0m11 14h0m6-14h0m-105 32h0m-158 2h0m-46-9h0m-8 14h0m-3-16h0m-4 2h0m-49 1h0m0 12h0m-20 29h0m20-8h0m1 4h0m14-5h0m4 10h0m16-13h0m5 13h0m2 1h0m19-16h0m223 14h0m60-19h0m48 13h0m-60 18h0m-22-8h0m-234 10h0m-46-10h0m-7 10h0m-25-1h0m51 18h0" stroke="#f032e6"/>
<path d="M1697 1117h0m34 10h0m111 15h0m-36 3h0m-130 23h0m13-3h0m161 23h0m-66-6h0m-5 15h0m-10-7h0m-3 3h0m-8-11h0m-2 14h0m-8-7h0m0-10h0m-12 6h0m-1 3h0m-32-9h0m0 8h0m-2-1h0m-1-2h0m-1 7h0m-3 1h0m-1-8h0m-9 1h0m-2 13h0m-2-8h0m-1-11h0m-3 18h0m-2-5h0m0-5h0m-165 11h0m-16 0h0m-12-11h0m-2-10h0m-1 8h0m-15-6h0m-1 12h0m-1 1h0m-13 1h0m2 19h0m1 2h0m8-11h0m17 13h0m23-10h0m7 6h0m181-11h0m95 11h0m92 30h0m-247 6h0m202 70h0m-1 9h0m-14-2h0m-492 9h0m-20 1h0m-3-6h0m-3 10h0m236 20h0m-197 29h0m-9-15h0m151 26h0m1 6h0m10-11h0m25 14h0m67-11h0m24 2h0m100 2h0m15-2h0m-33 32h0m0 4h0m-5-4h0m-5 3h0m0 1h0m-5-7h0m-4-6h0m-13-3h0m-1 0h0m53 31h0m57 0h0m73 10h0m29 22h0m-17-3h0m-3 2h0m-24 2h0m-75-3h0m-12 2h0m-18-1h0m-25-17h0m-1 4h0m-84 16h0m-91 12h0m29 9h0m37-8h0m277-4h0m7 2h0m18 12h0m5-6h0m-11 11h0m-53 22h0m-128-7h0m-102-13h0m-48 11h0m-69-5h0m-7 2h0m-1-7h0m-25 14h0m28 11h0m7 6h0m22 11h0m29 0h0m60-13h0m12 12h0m179-4h0m60 18h0m-4 10h0m-252 3h0m-36-8h0m-1-2h0m-5-6h0m-21-2h0m-24-4h0m-17 4h0m7 32h0m40-9h0m34 14h0m190-17h0m35 10h0m48-6h0m16 23h0m-59 4h0m-241-7h0m-54 9h0" stroke="#f58231"/>
<path d="M1830 1170h0m-165 15h0m-32 37h0m11 0h0m105-8h0m95 33h0m-192-21h0m-5 19h0m-3-18h0m-2 11h0m-2-8h0m-1-2h0m-10 10h0m-2 27h0m4 3h0m3-18h0m2 1h0m5 14h0m3-1h0m4-1h0m0 7h0m7-3h0m5-11h0m3-1h0m1 15h0m16 0h0m6-5h0m2 0h0m24-10h0m16 15h0m35 9h0m-35 5h0m0-11h0m-4 12h0m-6-6h0m-1 6h0m-2 4h0m-2 5h0m-5-22h0m-1 2h0m-1 3h0m-8-2h0m-41 5h0m-2-8h0m50 42h0m5-8h0m5 7h0m1-1h0m1-4h0m2 10h0m2-20h0m1 18h0m2-2h0m12-15h0m0 10h0m2 2h0m3 2h0m10-12h0m4 6h0m1 11h0m8-7h0m3 6h0m10-14h0m7 11h0m2-9h0m1 5h0m45 7h0m-48 14h0m-9-5h0m-7-4h0m-6 6h0m-10 14h0m-2-6h0m0 0h0m-10-7h0m-13-3h0m-57 6h0m-120-8h0m-143 3h0m-59 16h0m-54 3h0m36 0h0m21 5h0m143 17h0m-159 14h0m139 31h0m85-5h0m112-3h0m32-2h0m272 4h0m9-4h0m31-5h0m0-1h0m9 1h0m-338 30h0m-126-10h0m-55-2h0m-27 5h0m0 1h0m-2 0h0m172 27h0m13 2h0m120 12h0m86 9h0m-17-6h0m-114 15h0m-42-17h0m-42 11h0m-76 12h0m-58-3h0m-54 14h0m255 2h0m117-7h0m3 4h0m15 6h0m41-4h0m-126 27h0m-61-7h0m-11-7h0m-154 38h0m216-10h0m18 1h0m95 42h0m-18-1h0m-108-10h0m0 11h0m-4-12h0m-2 12h0m-8-11h0m-124-6h0m-76 17h0m-73-13h0m65 22h0m14 9h0m43 2h0m236 2h0m-257 10h0m-46-3h0m-6 4h0" stroke="#ffe119"/>
<path d="M1696 1076h0m156 18h0m-5 2h0m-5 0h0m-1-2h0m0 0h0m0 0h0m-2 4h0m-3 2h0m-6 0h0m-19-3h0m-5 2h0m-5-8h0m-1-6h0m-7 6h0m-1-2h0m-5-2h0m-1 8h0m-1-3h0m50 20h0m14 0h0m4 0h0m3 0h0m1-7h0m3 0h0m1 4h0m7 3h0m-32 19h0m-3 15h0m-3-12h0m-3 1h0m-12 12h0m-369 75h0m3-8h0m10 3h0m21 2h0m5-4h0m4-4h0m1 6h0m11 5h0m1-9h0m2 22h0m-3 4h0m-2 6h0m-4-2h0m0-3h0m-4 7h0m-3-1h0m-5-22h0m-10 17h0m-1 2h0m-3-19h0m-2 22h0m-8-16h0m-1-5h0m0 18h0m-5-17h0m-8-2h0m-1 6h0m11 26h0m7-6h0m20 5h0m8-2h0m0 4h0m146 56h0m131 5h0m84-13h0m-504 36h0m-38-4h0m-1 2h0m8 19h0m29 26h0m-38 3h0m7 14h0m12 4h0m636 11h0m-6 2h0m-447 29h0m45 2h0m26 0h0m77 15h0m-9 4h0m-160 40h0m359-6h0m39 1h0m-344 24h0m-6-5h0m-46 36h0m21-21h0m29 20h0m168-14h0m62 3h0m127 29h0m-289-12h0m-118 3h0m-2-5h0m-10 11h0m-15 7h0m-7-9h0m-4 12h0m420 14h0m-86 22h0m-16-5h0m-13 17h0m-1-2h0m-210-2h0m-7-5h0m-15 2h0" stroke="#0082c8"/>
<path d="M1704 1125h0m139 19h0m-60 4h0m-1-6h0m-2 4h0m-6 1h0m-1 4h0m0-4h0m-2-1h0m-5-3h0m-20 8h0m-12-2h0m-1-2h0m-2-4h0m-3-1h0m-1-10h0m-1 13h0m-3-1h0m-1 4h0m-7 3h0m-10-5h0m-1-8h0m-1 4h0m-2-8h0m-7-1h0m0 15h0m-17 11h0m14-1h0m9 0h0m12 3h0m2 2h0m5-9h0m8 1h0m7 12h0m10-6h0m3-7h0m0 12h0m1 1h0m4-6h0m6 0h0m1-7h0m3 3h0m10 6h0m1-4h0m65 52h0m1 9h0m4 2h0m4-5h0m19 24h0m-3-2h0m-1-2h0m-1 10h0m-2-9h0m-4 5h0m-2-1h0m-3 4h0m-1-21h0m0 5h0m-7-4h0m-4 21h0m-108 23h0m111-19h0m17 7h0m-126 31h0m-10 1h0m121 25h0m5-4h0m0-8h0m1 13h0m1-8h0m8-1h0m1-1h0m1-6h0m2 3h0m3 0h0m-1 25h0m0 9h0m-19-16h0m-336 18h0m-190 26h0m14-5h0m9 3h0m143 36h0m59 8h0m163 3h0m15-4h0m0 2h0m10 23h0m-8-3h0m-1-2h0m-2 12h0m-1-4h0m-12 0h0m-55-17h0m34 28h0m3 3h0m8 13h0m0 1h0m12-12h0m1-1h0m7 3h0m63 9h0m21-8h0m58 30h0m-39 4h0m-2-8h0m-23-5h0m-12-3h0m-22 15h0m-9 0h0m-2-10h0m-5 3h0m-9-5h0m-11 9h0m-3-17h0m-2-2h0m-8 14h0m-26 4h0m-133-2h0m-6 6h0m-48 15h0m233 2h0m94-6h0m57-9h0m-283 42h0m-3 0h0m-112-9h0m-14-1h0m-10 35h0m1-15h0m41-1h0m69 18h0m16-1h0m16 3h0m107-6h0m3-3h0m29-14h0m37 16h0m58 5h0m33 5h0m-19 4h0m-245-2h0m-53-3h0m-40 21h0m-68-7h0m19 30h0m116-12h0m183 5h0m62-11h0m14 7h0m45 1h0m-65 20h0m-59-1h0" stroke="#3cb44b"/>
<path d="M1835 1105h0m-135 42h0m2 16h0m40 4h0m-77 53h0m8-4h0m11-8h0m99 2h0m1 0h0m-40 30h0m-63 3h0m-11 1h0m-24-17h0m31 21h0m17 8h0m72 14h0m3 0h0m12-11h0m10 3h0m10 6h0m-18 14h0m0 1h0m-2-2h0m-2-6h0m-8 5h0m0 0h0m-10 0h0m-24 5h0m-6-11h0m-24 12h0m21 22h0m73 10h0m15-5h0m5-6h0m-2 19h0m-8 5h0m-289 6h0m-111 2h0m-96-12h0m31 33h0m4-7h0m9-5h0m143 4h0m11 8h0m24 2h0m20 42h0m5-1h0m5 6h0m8 0h0m29 3h0m81-6h0m1 3h0m1-1h0m16-7h0m298 2h0m1-6h0m2-3h0m1 2h0m1-1h0m12 9h0m-307 32h0m-22 0h0m-21-10h0m-13-4h0m-13 2h0m-5 7h0m-33-8h0m-95 11h0m-6 13h0m9 6h0m125-6h0m3 0h0m74 4h0m3-5h0m93 0h0m-23 20h0m-25 12h0m-10 3h0m-1 3h0m-108-17h0m-85 20h0m-59-8h0m71 14h0m309 33h0m-22-14h0m-21 11h0m-14-10h0m-38 10h0m-10-11h0m-253 3h0m-18 19h0m-50-4h0m-9 27h0m2-15h0m49-4h0m3 2h0m34 13h0m39 5h0m130-18h0m23 12h0m9-9h0m32 7h0m26-11h0m83 15h0m11 5h0m1-4h0m-18 21h0m-7-14h0m-24-1h0m-3 12h0m-1 10h0m-34-12h0m-87-6h0m-128 17h0m0-16h0m-55-1h0m-83 2h0m40 39h0m20-18h0m12-2h0m37 10h0m0 4h0m219 6h0m37-8h0m21-6h0m5 8h0m13 3h0m5-17h0m10 20h0m22-19h0m-26 28h0m-11 3h0m-327-2h0m-8-2h0" stroke="#46f0f0"/>
<path d="M1850 1190h0m18 27h0m-190 52h0m-159 47h0m20 0h0m77-4h0m8-4h0m10 2h0m1 0h0m1 5h0m1-17h0m2 10h0m1-7h0m2 2h0m4-1h0m0-1h0m9 13h0m1 3h0m4-6h0m0-13h0m2 16h0m4-8h0m0 6h0m0-7h0m1 7h0m1 2h0m5-7h0m14 9h0m111-19h0m-44 24h0m-60 5h0m-9 1h0m-16 11h0m-3-17h0m-10 8h0m-2 11h0m-1 2h0m-3-12h0m-3 3h0m0-3h0m-4-2h0m-3 5h0m-1 9h0m-6-9h0m-7-4h0m-2-8h0m-1 6h0m0 7h0m-8-5h0m-3 5h0m-59-6h0m-4 2h0m-153-1h0m-48 11h0m-42-9h0m-6 21h0m23 9h0m12 0h0m9-17h0m4 19h0m142 3h0m35-7h0m112-15h0m4 11h0m20-11h0m-119 31h0m-14-2h0m-11 3h0m-170-3h0m-17 8h0m-2 1h0m-10 16h0m193 7h0m27 6h0m56-12h0m6 5h0m14-5h0m103 3h0m259 10h0m36-10h0m9 2h0m7-8h0m-70 31h0m-316 1h0m-135 8h0m-5-19h0m-178 13h0m-4 26h0m8-6h0m167-10h0m87 13h0m121 6h0m94-14h0m72 38h0m-169-11h0m-184 1h0m-18 20h0m59 12h0m353 2h0m2-3h0m-312 23h0m-24-15h0m-34 17h0m-26 3h0m-38-4h0m-19 11h0m50-1h0m11 4h0m293 3h0m1 2h0m70 33h0m-53-17h0m0 10h0m-114-13h0m-137 13h0m-1 8h0m-39-18h0m-74 9h0m112 22h0m14-3h0m175 0h0m64 2h0m50 3h0m-15 17h0m-42 10h0m-283-12h0m-40 15h0" stroke="#911eb4"/>
<path d="M1677 1064h0m11 13h0m2 0h0m6-3h0m2-15h0m0-3h0m5 9h0m5 11h0m2-13h0m4 14h0m15 22h0m-5-3h0m-5 5h0m-5-14h0m-4 16h0m0-1h0m-1-13h0m-3 14h0m-2-8h0m0 7h0m-3-12h0m-2-8h0m-5 11h0m-1 2h0m-2-1h0m-3-9h0m-3 17h0m-5-6h0m-2-11h0m-1-4h0m0 10h0m-3-9h0m-3 21h0m-4-6h0m-3 3h0m-1-8h0m-2 9h0m3 8h0m14 6h0m3 4h0m8-8h0m9 1h0m3 7h0m6-9h0m7 6h0m4-8h0m95 41h0m-97-20h0m-19 3h0m30 39h0m72-13h0m2-4h0m2 12h0m3-5h0m34 58h0m6-13h0m34 13h0m12 15h0m-8-7h0m-5 6h0m-26 2h0m-4 1h0m-221-2h0m-117-7h0m267 22h0m83 51h0m3 1h0m2-1h0m1 16h0m4-15h0m2 9h0m9-3h0m5 6h0m2 9h0m-1 1h0m-9 3h0m-4 8h0m-9-2h0m-82-3h0m-441 8h0m6 16h0m296-6h0m-321 51h0m232 13h0m4-2h0m8-12h0m20 6h0m2-10h0m5 5h0m97 10h0m5-2h0m0 7h0m5-16h0m15 10h0m16 21h0m-188 5h0m-14-2h0m-13 3h0m-6-17h0m-2 14h0m-5-11h0m-8 16h0m-12-8h0m163 26h0m1-6h0m20 1h0m28 11h0m19-15h0m2 7h0m7 6h0m107 27h0m-179-8h0m-136-3h0m-36 23h0m13 13h0m1-14h0m77 12h0m157 3h0m27-7h0m14-11h0m15-2h0m10 2h0m2 11h0m7-1h0m1 8h0m8-19h0m44 5h0m25 34h0m-10-2h0m-50-1h0m-3 4h0m-6 3h0m0-4h0m-3-1h0m-5 2h0m-2-2h0m-2-14h0m-1 2h0m-6 11h0m-294-10h0m-14-5h0m-39 33h0m7-3h0m5 6h0m32-11h0m26 6h0m20-5h0m181 19h0m7-18h0m68 8h0m2 4h0m2 2h0m27-8h0m29-4h0m1 10h0m2-2h0m32-12h0m29 9h0m-2 23h0m-5-10h0m-4 14h0m-7 1h0m-85-4h0m-4 3h0m-3-10h0m-1 13h0m-13 0h0m-10-10h0m-64-6h0m-139 16h0m-29-3h0m-68 0h0m-11-1h0m-9 25h0m115-4h0m166-9h0m3-2h0m49 2h0m5 17h0m2 2h0m6-1h0m8 1h0m3-1h0m-7 11h0m-11-3h0m-235 7h0m-38-2h0m-10 2h0m-2-3h0m-6 5h0" stroke="#e6194b"/>
<path d="M1696 1096h0m-109 1h0m-2 4h0m-18 5h0m0-2h0m7 5h0m14-2h0m4-3h0m133 17h0m9 25h0m-7-17h0m42 29h0m48-5h0m11 0h0m-111 39h0m-16 2h0m-22 5h0m-10-2h0m-161 26h0m169-19h0m0 5h0m7-4h0m8-5h0m5 21h0m22-5h0m6-14h0m4 21h0m3-18h0m3 2h0m6 10h0m3-9h0m7 9h0m3-11h0m2 0h0m4 10h0m18 6h0m4-6h0m2-13h0m11 16h0m0-2h0m1-10h0m7 15h0m1-10h0m65 30h0m-81-18h0m-12 18h0m-2-2h0m-4 6h0m-3-21h0m-17 7h0m-1-8h0m-18 4h0m-3-1h0m-1 9h0m-1 7h0m0-6h0m-8-9h0m-12 15h0m-54-15h0m-1 8h0m16 14h0m17 7h0m4-5h0m6 16h0m2-9h0m1-6h0m5 16h0m4-11h0m9-5h0m9 11h0m4-6h0m37 4h0m7-4h0m15-3h0m7-2h0m55 1h0m15 0h0m6 5h0m-138 26h0m-29 16h0m62 1h0m19 10h0m-246 31h0m0-19h0m-132 7h0m-1-5h0m-7 16h0m-2-10h0m-43 7h0m-4-5h0m-41-2h0m-12-6h0m6 19h0m24 9h0m14-5h0m170-2h0m14 4h0m2-5h0m6 13h0m3 5h0m9-4h0m-2 28h0m-41 2h0m-15-20h0m-22 14h0m65 31h0m0-22h0m9 16h0m4-16h0m15 6h0m15-5h0m23-1h0m45 8h0m57 9h0m231-18h0m16 12h0m3 3h0m26 2h0m1 4h0m2 0h0m8-6h0m21-5h0m1-5h0m6-4h0m9 2h0m1 2h0m-49 24h0m-15-1h0m-9-4h0m-303 15h0m-1-9h0m-65-3h0m-31-2h0m-40 10h0m-5 8h0m-176 22h0m4-6h0m172 9h0m140-13h0m13 16h0m38-8h0m3 5h0m4 2h0m10-1h0m6-4h0m0-12h0m78 13h0m45 1h0m22 16h0m-60 0h0m-6-3h0m-13-8h0m-22 10h0m-4-4h0m-8-1h0m-10-1h0m-26 17h0m-18-19h0m-46 13h0m0-10h0m-189 39h0m114-14h0m161-3h0m1 1h0m128 8h0m34 31h0m-32-18h0m-27 20h0m-2-5h0m-81 3h0m-231 1h0m-35-6h0m-28 9h0m-10 0h0m1 15h0m9-2h0m32 2h0m21 5h0m1-9h0m243 4h0m118-6h0m26-6h0m5-2h0m-41 41h0m0-15h0m-8 19h0m-4-2h0m-7 3h0m-18-12h0m-56 13h0m-178-15h0m-55 5h0m-46-11h0m-53 5h0m62 34h0m22 3h0m5-7h0m2 3h0m17-2h0m34 5h0m191 4h0m27-11h0m45-1h0m35 1h0m13 6h0m-135 26h0m-258-14h0m-11-2h0m0 5h0" stroke="#f032e6"/>
<path d="M1570 1112h0m-97 63h0m195 0h0m5-5h0m4-10h0m17 2h0m3 4h0m2-13h0m5 22h0m60-13h0m7 2h0m3 1h0m6 4h0m5 19h0m0-6h0m-4 7h0m-1-3h0m-5 9h0m-3-4h0m-2 1h0m-5-7h0m-3 13h0m-6-21h0m-2 5h0m0-3h0m-2-3h0m-1 1h0m0 11h0m-17-7h0m-2 3h0m-24 5h0m-3 9h0m-1-16h0m-2 1h0m-2 1h0m-3-2h0m-2 12h0m-6-15h0m0 14h0m-5-9h0m-3-6h0m-4 21h0m-3-3h0m-171-13h0m-3 4h0m-3-9h0m-2 8h0m-2 5h0m-6-4h0m-2-2h0m0-3h0m-14 2h0m-1 0h0m-8 0h0m0 20h0m217-3h0m65 9h0m19-5h0m121 3h0m-59 110h0m3-5h0m7 6h0m22-16h0m-23 24h0m-2-2h0m-2 0h0m-3-3h0m-1-2h0m-1 0h0m-4 11h0m-48 6h0m-461-17h0m-4 8h0m9 33h0m6-16h0m162 20h0m33-13h0m33 10h0m1 2h0m128 24h0m-73 1h0m-95 23h0m2-1h0m116-7h0m48 4h0m4-12h0m6 11h0m8 0h0m320-9h0m-290 27h0m0-9h0m-5 11h0m-6 3h0m-18 1h0m-10 6h0m-9-11h0m-21-7h0m-4 0h0m-145 38h0m204 6h0m16-15h0m124 35h0m-6 2h0m-14-19h0m-17 20h0m-13-11h0m-16-9h0m-41 12h0m-6 4h0m-6-7h0m0 1h0m-15 2h0m-33-13h0m-179 40h0m9 3h0m20 3h0m3-9h0m166-2h0m119 6h0m1-8h0m13 4h0m4-10h0m26 8h0m2-5h0m11-7h0m19 19h0m4-7h0m0 30h0m-70-17h0m-9 21h0m-31-17h0m-18-1h0m-6 10h0m-90 7h0m-197-16h0m-36 5h0m17 26h0m39 9h0m238-8h0m23-2h0m73 10h0m6-11h0m29 24h0m-98-3h0m-212 9h0m-7 3h0m-59-15h0m-44 13h0m42 20h0m44 8h0m24-7h0m214 0h0m1 6h0m39-9h0m18 3h0m10-12h0m6 9h0m-12 22h0m-347 15h0" stroke="#f58231"/>
<path d="M1566 1113h0m160 21h0m48 26h0m-116 59h0m130-10h0m-103 34h0m-21 4h0m-1-6h0m-4 0h0m-5-8h0m0-2h0m-6-3h0m-14 2h0m-8 9h0m1 13h0m1 15h0m7-10h0m9 14h0m1-8h0m3 6h0m0-7h0m3-2h0m1 11h0m5-4h0m2-11h0m2 5h0m2-8h0m1 4h0m6 13h0m4-9h0m15 0h0m20-3h0m27 1h0m37 18h0m-35 14h0m-8-8h0m-5 1h0m0 4h0m-3-8h0m-5 8h0m-5 4h0m-4-9h0m-5-10h0m-4 5h0m23 27h0m2 3h0m10 3h0m1-1h0m1-14h0m1 16h0m9-12h0m0 10h0m12-8h0m2 4h0m1-7h0m0 8h0m4 10h0m3-1h0m9-3h0m1-4h0m3 1h0m0-3h0m2 7h0m3 0h0m32-4h0m-4 14h0m-42 6h0m-1-1h0m-1-6h0m-4 12h0m-6-12h0m-1 4h0m-4 0h0m-3-4h0m0-3h0m-3 13h0m0 1h0m-3-13h0m0 9h0m-2-5h0m-3-5h0m-1 8h0m-218-6h0m-121 12h0m-66-5h0m2 17h0m146 21h0m8-6h0m193 29h0m-136-8h0m-10-3h0m-46-2h0m-149 19h0m121 17h0m144-12h0m397 0h0m-33 17h0m-320 1h0m-90-1h0m304 54h0m-8-6h0m-55 12h0m-267-7h0m-72 23h0m313-4h0m10 21h0m34-23h0m26 6h0m-64 38h0m-97 3h0m-83-6h0m-87-17h0m-6 2h0m-22 4h0m349 31h0m-3 29h0m-65 5h0m-2-4h0m-28-8h0m-133-1h0m-1-9h0m-57 9h0m-2-3h0m0 4h0m-43-11h0m-44 14h0m-8-2h0m-3-7h0m55 32h0m2 2h0m6-1h0m29-12h0m210 12h0m11-10h0m-226 20h0m-25 9h0m-2 1h0" stroke="#ffe119"/>
<path d="M1708 1065h0m0 8h0m19-2h0m135 28h0m-5-2h0m-2 3h0m-7-4h0m-14 4h0m-6 0h0m0 0h0m-7-3h0m-1-3h0m-1 2h0m-6-3h0m0 3h0m-6-1h0m-3-5h0m0 8h0m-4-8h0m-4-4h0m-1-1h0m-2 9h0m-3 4h0m0-5h0m-4-1h0m-5-3h0m28 15h0m20 16h0m1 7h0m4-23h0m6 1h0m3 3h0m4 15h0m8-14h0m5 15h0m4-8h0m0-6h0m-33 38h0m-98-19h0m-10 3h0m-268 79h0m2-4h0m4 3h0m11 8h0m0-3h0m12 0h0m4 5h0m8-2h0m8-8h0m9 5h0m-2 12h0m-3 10h0m-2-8h0m-5 11h0m-4-12h0m0 10h0m-5 7h0m-1-4h0m-5-7h0m-1 9h0m-6 0h0m-5-16h0m-4 14h0m-5 4h0m-8-15h0m-4 6h0m-2-4h0m-1 4h0m-4 9h0m6 8h0m25 0h0m12 3h0m213 13h0m179-19h0m-139 50h0m17 17h0m-414 17h0m-34 4h0m-6 1h0m36 52h0m240 19h0m28-14h0m33 16h0m19 1h0m281-13h0m20 18h0m-437 33h0m6-4h0m4 5h0m6-2h0m85 34h0m-10-1h0m-120 28h0m347-7h0m4 10h0m-138 6h0m-126 2h0m-137 19h0m108 20h0m-59 5h0m-41 12h0m-10-12h0m11 22h0m3 13h0m15-12h0m5 15h0m362 3h0m26-18h0m-18 36h0m-56-8h0m-11-4h0m-5 4h0m-7 5h0m-5 0h0m-215 7h0m-55-17h0" stroke="#0082c8"/>
<path d="M1689 1126h0m153 23h0m-5-5h0m-12-12h0m-22 14h0m-23-6h0m0 1h0m0 6h0m-5-6h0m-5 8h0m-2-3h0m-3 4h0m-21-1h0m-19-7h0m-4 0h0m-2 1h0m-3 2h0m-8-3h0m-7-14h0m-10 18h0m-12 3h0m16 8h0m5 8h0m0-7h0m19-4h0m12-2h0m5 6h0m2 8h0m9-7h0m1-6h0m0 6h0m2-5h0m9 5h0m10 3h0m0-4h0m2 6h0m11 54h0m62 14h0m-7-7h0m-99 22h0m-5 12h0m56 1h0m74-7h0m3 0h0m-117 41h0m-35 19h0m133 5h0m3-3h0m4-1h0m9 4h0m1 0h0m4 19h0m-3 2h0m-535 1h0m-27-15h0m32 31h0m162-7h0m188 62h0m3-12h0m9-1h0m19 25h0m-68-3h0m-100 0h0m-71-3h0m34 42h0m195-10h0m22 1h0m39-2h0m27 5h0m67 30h0m-64-7h0m-4 5h0m0-2h0m-23-6h0m-30 2h0m-1-2h0m-176 11h0m19 13h0m128 12h0m21-17h0m52 17h0m15 1h0m40-10h0m61 7h0m-57 8h0m-39 0h0m-45 1h0m-8 14h0m0 5h0m-7-22h0m-1 0h0m-46 9h0m-88 6h0m-61 1h0m-5 6h0m-3 0h0m-71-11h0m33 17h0m31 9h0m9-14h0m61 12h0m6-3h0m148-8h0m74 19h0m71 4h0m-50 9h0m-11-6h0m-2 1h0m-6 1h0m-34 1h0m-5 16h0m-25-8h0m-31-14h0m-162 16h0m-118 1h0m97 27h0m216-2h0m45-4h0m52-2h0m10-5h0m-30 33h0m-4-16h0m0 4h0m-21 3h0m-246-2h0m-94 6h0" stroke="#3cb44b"/>
<path d="M1666 1096h0m-9-6h0m40 35h0m41 22h0m-63 51h0m-6 3h0m62 1h0m14 7h0m-124 36h0m160 26h0m1-4h0m1-9h0m9-5h0m0 16h0m-13 9h0m-9 3h0m0 10h0m-1-11h0m-7-4h0m-5 9h0m-1 4h0m-5-3h0m-15-6h0m-3 4h0m-4-5h0m-7 0h0m-10-4h0m-67 0h0m165 40h0m5-1h0m9-3h0m1 8h0m-1 2h0m-1 0h0m-13 3h0m-14 3h0m0 3h0m-122 7h0m-273-7h0m-5 13h0m-78-22h0m196 37h0m22 2h0m4-12h0m44 41h0m-105 20h0m85 0h0m7 2h0m1-9h0m0 5h0m1 3h0m0-1h0m4 2h0m60-9h0m7 12h0m40-16h0m1 16h0m1-3h0m29-12h0m248 12h0m37-15h0m1 3h0m6-1h0m0-5h0m18 5h0m-63 30h0m-239 10h0m-6-5h0m-4-7h0m-22 2h0m-20-2h0m-22 1h0m-132-7h0m44 34h0m13 2h0m64 6h0m83-21h0m0 6h0m24 8h0m23-2h0m49 8h0m46 3h0m-10 21h0m-70-18h0m-24 20h0m-4-1h0m-6-8h0m-18 7h0m-230 3h0m19 13h0m23-11h0m3 3h0m9 14h0m13-5h0m17 4h0m126 4h0m35-16h0m24 2h0m3 11h0m43-8h0m67-6h0m14-4h0m-11 45h0m-51-10h0m-65 11h0m-25-17h0m-11 6h0m-12 1h0m-2-9h0m-19-4h0m-111 11h0m-76-7h0m-36 8h0m-16 29h0m35-10h0m19 14h0m1 2h0m15-3h0m0-3h0m186-9h0m15 15h0m1-5h0m1-16h0m9 0h0m11 2h0m38 4h0m39 14h0m13-3h0m4-4h0m2-15h0m46 20h0m3-4h0m12 4h0m0-9h0m-19 32h0m-3-13h0m-7 14h0m-12-18h0m-1-2h0m-4 19h0m-5-18h0m-3 11h0m-1-7h0m0 4h0m-8-4h0m-8-3h0m-11 8h0m-80-7h0m-39 0h0m-134 15h0m-3-1h0m-56 3h0m41 4h0m12 7h0m0-1h0m4 7h0m193 1h0m64-5h0m18 7h0m41-11h0m-64 30h0m-26-10h0" stroke="#46f0f0"/>
<path d="M1730 1126h0m-24 8h0m44 35h0m-11 7h0m-62 33h0m194 32h0m-351 74h0m16 0h0m2 4h0m81 0h0m10-11h0m5-5h0m1 8h0m3-10h0m0 17h0m2-7h0m2-8h0m13 13h0m3-5h0m2-9h0m0 7h0m0 9h0m2-11h0m7 4h0m3 1h0m42 1h0m183 6h0m-208 14h0m-5 1h0m-6-3h0m-8-6h0m-9 18h0m-1-9h0m0 0h0m-2-8h0m-2 1h0m0-2h0m-1-2h0m-2 12h0m-5-7h0m-2 7h0m-18-13h0m-2 18h0m-2-13h0m-1 0h0m-1 7h0m-2 3h0m-8-4h0m-63-10h0m0 5h0m-5-4h0m-1-2h0m-1 0h0m-8 0h0m-3-1h0m-185 18h0m-36-1h0m7 26h0m11-3h0m11-6h0m1 1h0m0 10h0m5-15h0m3 5h0m21-12h0m164 11h0m18 29h0m-20 5h0m-5-19h0m-37-2h0m-145 5h0m-13 10h0m-4-5h0m14 22h0m193-1h0m40-1h0m45-1h0m22 2h0m81 5h0m284-12h0m11 6h0m-274 31h0m-60 1h0m-4-7h0m-24-1h0m-142 0h0m-42-1h0m-1-3h0m-143 11h0m-6 23h0m10-8h0m160 0h0m5-4h0m4 3h0m3-1h0m71 11h0m79 7h0m221 24h0m-8-2h0m-5 2h0m-69-5h0m-12-12h0m115 59h0m-4-3h0m-5 1h0m-178 0h0m-128-8h0m-62 11h0m-2 2h0m-12-11h0m-36 28h0m13-9h0m41 7h0m91-7h0m91 20h0m1-3h0m44-5h0m60 23h0m-68 7h0m-249 0h0m-30 7h0m77 16h0m1-2h0m3 0h0m23-2h0m5-11h0m8 8h0m1 2h0m0-6h0m-59 24h0" stroke="#911eb4"/>
<path d="M1671 1075h0m8-1h0m3 2h0m2 1h0m4-8h0m41 26h0m-12 5h0m-3 2h0m-5-10h0m-1 9h0m-4 1h0m-1-14h0m-4 0h0m0 1h0m-3 0h0m-1-1h0m-5 1h0m0 6h0m-2-9h0m-15 12h0m-5 3h0m-4-7h0m0-4h0m-3 1h0m-1-5h0m0-1h0m21 32h0m5-9h0m5-2h0m0 1h0m3-1h0m1 21h0m8-10h0m5-12h0m3 9h0m12-10h0m4 15h0m110 17h0m-37 12h0m-86-12h0m76 34h0m12-18h0m2 14h0m3-2h0m2-9h0m4 12h0m-86 17h0m110 35h0m21-5h0m1-3h0m2-4h0m5 9h0m2-5h0m9-4h0m14 12h0m-17 12h0m-14 6h0m-1 5h0m0-18h0m-20 0h0m-44 3h0m70 69h0m3 5h0m3 11h0m3-1h0m1 1h0m0-3h0m6 0h0m0 4h0m4-2h0m1 12h0m0 5h0m-2-2h0m-10-3h0m-526 6h0m-1 13h0m-4-4h0m-51 8h0m23 18h0m32-14h0m303-6h0m-81 46h0m-36-4h0m-218-9h0m6 17h0m216 21h0m28-18h0m6 1h0m4 1h0m53 3h0m7 3h0m48 0h0m18 2h0m19 2h0m-11 11h0m-17 12h0m-7-1h0m-1 3h0m-82-2h0m-73-5h0m182 31h0m14-5h0m79 23h0m-5 10h0m-31-12h0m-11-6h0m-17 0h0m-1 8h0m-108 9h0m-112-3h0m-10 10h0m51 18h0m2-2h0m6 3h0m1-17h0m24 17h0m46-22h0m121 7h0m14-4h0m12 10h0m3-5h0m13 3h0m103 33h0m-29-13h0m-59 9h0m-3-11h0m0 9h0m-1-7h0m-3-2h0m-1 14h0m-89-10h0m-121-10h0m-24 0h0m-24 13h0m-52-6h0m-18-3h0m-1 5h0m-5 7h0m-29 10h0m5-2h0m14 17h0m291 5h0m13-3h0m12-3h0m13-2h0m19-3h0m37 0h0m1 10h0m4-10h0m28-10h0m26 6h0m-103 34h0m-1-15h0m-6 17h0m-5-9h0m-8 13h0m-40-3h0m-1-2h0m-157-3h0m-53 5h0m-2-18h0m-13 27h0m30 13h0m17 2h0m23-8h0m5-1h0m160 4h0m19 2h0m10-17h0m31 15h0m58-11h0m-66 31h0m-1 2h0m-8-9h0m-5 2h0m-238-2h0m-1 2h0m-12 12h0m-17 5h0m-16-13h0m5 14h0" stroke="#e6194b"/>
<path d="M1586 1098h0m0 0h0m0 2h0m0-4h0m-16 20h0m2-4h0m4 7h0m2-10h0m1 0h0m3 5h0m4-10h0m5 2h0m92 16h0m103 21h0m-98 5h0m-9-5h0m-3 23h0m34 2h0m43-10h0m-12 37h0m-1-1h0m-5-1h0m-9-3h0m-15-11h0m-13 18h0m-29-7h0m-24 33h0m30-22h0m3 15h0m14-14h0m19 2h0m4 14h0m8-18h0m2 22h0m7-21h0m1 13h0m18 3h0m6-15h0m22 7h0m10 14h0m2-9h0m1-3h0m3-3h0m-18 37h0m-2-3h0m-5 5h0m-4-10h0m-1 7h0m0 1h0m-6-17h0m-6 12h0m-5-12h0m-1 10h0m-2 1h0m-2-10h0m-2 11h0m-2 1h0m-8-5h0m-1-9h0m0 5h0m-1-3h0m-1 6h0m-7-7h0m-35-3h0m-3 12h0m-34-4h0m-11-9h0m47 28h0m7-4h0m2 11h0m5-3h0m25-4h0m36-1h0m8 1h0m6-2h0m9-1h0m1 12h0m17-8h0m-18 20h0m-3 10h0m-96 23h0m54-7h0m53-1h0m109 15h0m-36 30h0m-105-10h0m-103 1h0m-103 0h0m-1-9h0m-26 10h0m-127 0h0m-1 0h0m-54 7h0m-34-19h0m-19 21h0m2 6h0m15 0h0m15 9h0m2-3h0m607 31h0m-372 1h0m-26-1h0m-2-2h0m-3-11h0m-1 8h0m-60 7h0m9 20h0m2-1h0m4 6h0m42-8h0m8-13h0m2 17h0m1-1h0m8-17h0m31 19h0m6-1h0m43 1h0m3-6h0m10-2h0m59 9h0m7-13h0m18 14h0m224-8h0m38 2h0m29-2h0m-51 22h0m-247 10h0m-1-3h0m-13-18h0m-48 12h0m-2-5h0m-28-3h0m-39-4h0m-14 0h0m-96 4h0m-3-4h0m-148 29h0m4 1h0m318 6h0m3 0h0m15 2h0m71 5h0m1 2h0m66-1h0m53-9h0m25 34h0m-8-3h0m-18-9h0m-72 10h0m-42-6h0m-15-5h0m-11 5h0m-3-7h0m-151 16h0m-31 0h0m-6-2h0m-4-9h0m-49 29h0m75-4h0m2-4h0m21 15h0m56-16h0m248 12h0m10 3h0m3 25h0m-36-3h0m-1 0h0m-10 3h0m-1-21h0m-8 16h0m-36 3h0m-32 1h0m-56-11h0m-168-2h0m-39 4h0m-18-8h0m-29 14h0m-9 18h0m22 0h0m366-4h0m1 8h0m5-12h0m3-4h0m0 15h0m2-1h0m2-8h0m36 2h0m12 36h0m-34 2h0m-8-8h0m-10-15h0m-295 13h0m-13 1h0m-74 27h0m5-7h0m11 13h0m0-14h0m13 0h0m4-9h0m23 1h0m11 4h0m2 3h0m2 10h0m7-18h0m4 16h0m2 1h0m40 2h0m212 4h0m47 18h0m-1-3h0m-58-8h0m-246 12h0m-22-5h0" stroke="#f032e6"/>
<path d="M1471 1175h0m4-2h0m12-1h0m199-19h0m3 21h0m2-13h0m5 13h0m2-6h0m43 4h0m3-5h0m1 6h0m4 2h0m40 10h0m-3 14h0m-11-9h0m0-13h0m-5 11h0m-7 11h0m-1-21h0m-3 5h0m0 1h0m-1 3h0m0-5h0m-19 10h0m-35-11h0m-2 7h0m-6-5h0m0-6h0m-2 3h0m-1-2h0m-1 1h0m-1 17h0m-1 1h0m-7-2h0m-180 4h0m-5-18h0m-2 6h0m-11-5h0m-7 13h0m-4-13h0m0-6h0m-3 16h0m-15 15h0m219-2h0m1-5h0m5 2h0m58-2h0m20 0h0m9 12h0m14-8h0m5-2h0m-61 22h0m-21 16h0m-208-16h0m-36 6h0m192 38h0m125-8h0m-254 56h0m311 1h0m-3 4h0m-2 11h0m-7-5h0m-301-4h0m-8 3h0m-219 14h0m19 16h0m5 4h0m198-12h0m98 39h0m-102 23h0m165-12h0m265 15h0m3-3h0m1 3h0m63-19h0m-65 24h0m-212 8h0m-14 13h0m-31-1h0m-2-8h0m-1 2h0m-74-9h0m-103 34h0m4 3h0m211 0h0m9-9h0m118 12h0m4 18h0m-6 0h0m-1-2h0m-2 3h0m-12-12h0m-46 5h0m-48 1h0m-123 11h0m-96 21h0m29-14h0m9 15h0m158-20h0m27 9h0m8-1h0m87-5h0m14-4h0m2 3h0m12 11h0m3-11h0m7 10h0m14 1h0m2-5h0m2-7h0m-2 23h0m-100 2h0m-3 3h0m-70 2h0m-33-1h0m-146 1h0m-35 5h0m-3-6h0m-24 2h0m4 21h0m2-6h0m1 18h0m16-11h0m240 3h0m89-7h0m16 17h0m15 0h0m-20 8h0m0 14h0m-3-17h0m-265 22h0m-27-18h0m-2 14h0m-25 1h0m-19-15h0m40 24h0m19 1h0m21 9h0m204 4h0m7 4h0m28-15h0m85-5h0m-119 26h0m-223-1h0m-3 9h0m-56 11h0m11 2h0" stroke="#f58231"/>
<path d="M1792 1094h0m46 53h0m-114-17h0m-5 3h0m85 31h0m-79 23h0m-43 12h0m7 1h0m51 32h0m-64 4h0m-21 2h0m-3-10h0m-3-2h0m-5 10h0m-1 4h0m-2-7h0m-3-5h0m-1-4h0m-3 2h0m-2-1h0m-6 8h0m9 24h0m2-5h0m1 3h0m8 13h0m4-5h0m0 3h0m1-3h0m1 0h0m0 4h0m0-10h0m2 7h0m2 7h0m2-7h0m0 4h0m6-4h0m6-11h0m1 2h0m2 9h0m2-4h0m6 5h0m8 4h0m3 0h0m6-2h0m7-2h0m56-5h0m20-9h0m-2 39h0m-25 1h0m-20-10h0m0 0h0m-3 3h0m-4 1h0m-1-11h0m-2 13h0m-5-13h0m-2 7h0m-8 10h0m-1 2h0m-13-17h0m-41 9h0m21 20h0m35 9h0m2-1h0m5-4h0m6-12h0m1 7h0m5 9h0m3-17h0m4 17h0m1 2h0m9-18h0m2 13h0m12-2h0m1-4h0m5 10h0m10-1h0m0 0h0m4 0h0m1-10h0m12 1h0m11 0h0m60-7h0m25 20h0m8 2h0m-106 4h0m-3 4h0m-17-2h0m-12-1h0m-9-3h0m-12 5h0m-16-6h0m-374 9h0m-19 0h0m-23 33h0m8-4h0m24-12h0m160 8h0m34 30h0m-199 4h0m-6 12h0m207 4h0m63-1h0m35 12h0m301-23h0m20 24h0m-259 6h0m-72 2h0m-109 33h0m296 6h0m-71 24h0m-34-1h0m-43-12h0m-198 30h0m42 2h0m14-8h0m176 13h0m97-10h0m74-8h0m19 27h0m-7 9h0m-400-15h0m112 27h0m266 24h0m-110 8h0m-3-6h0m-4 3h0m-1 6h0m-6 3h0m-181-13h0m-37 15h0m-59-13h0m-1 15h0m57 24h0m18-18h0m213-3h0m12 5h0m5-6h0m10-1h0m79 12h0m-306 13h0" stroke="#ffe119"/>
<path d="M1697 1078h0m7-19h0m2 12h0m5 7h0m14-6h0m136 29h0m-6 0h0m-5 2h0m-7 0h0m-2-7h0m0-4h0m-1 4h0m-2 4h0m0 3h0m-2-3h0m-1-5h0m-23 7h0m-7-12h0m-13-1h0m-9 5h0m0 2h0m-59 0h0m-9 7h0m109 7h0m7 12h0m1-18h0m1 18h0m0 3h0m2-16h0m2 11h0m9-14h0m1 11h0m4-9h0m4 8h0m5 5h0m0-7h0m4 4h0m-23 16h0m-8-5h0m-3-1h0m-40 17h0m55 15h0m-402 47h0m8-1h0m2 6h0m6-2h0m0-2h0m2 2h0m4-3h0m12 16h0m5-15h0m17 14h0m141-4h0m36-13h0m103 1h0m-144 26h0m-133-3h0m-12 17h0m-2-18h0m-4 4h0m-15 14h0m-5-6h0m-1-5h0m-2-1h0m-5 8h0m-15-15h0m0-3h0m16 28h0m16 13h0m1-7h0m0 5h0m5-11h0m208 10h0m19 2h0m93 12h0m-40 39h0m74 1h0m36-3h0m-54 23h0m-500-2h0m-8 2h0m-4 2h0m-7 6h0m12 0h0m232 18h0m-191 15h0m-15 4h0m-2-5h0m378 47h0m-123-6h0m-58 32h0m11 2h0m40 0h0m2 5h0m64 14h0m-16 15h0m-4 2h0m-8-5h0m90 13h0m66-3h0m104 10h0m-283 26h0m-78-13h0m-2 20h0m-22 10h0m413 14h0m-418 8h0m-16 15h0m-2 1h0m-14-6h0m19 16h0m9 13h0m5-18h0m9 5h0m90-5h0m275 1h0m5 8h0m1-8h0m0 10h0m-81 14h0m-2 2h0m-4-4h0m-5 2h0m-5-5h0m0 5h0m-12 7h0m-3 2h0m-7 5h0m-192-7h0m-29 7h0m-5-7h0m-31-12h0" stroke="#0082c8"/>
<path d="M1704 1121h0m2 1h0m98 27h0m-7 0h0m-23-8h0m-4-1h0m-1 4h0m-13 4h0m-17-2h0m-4 0h0m-1-5h0m0 3h0m-2 3h0m0-2h0m-3-2h0m-6-11h0m-8 17h0m-2 1h0m-3-2h0m-1 2h0m-2-10h0m-19 12h0m24 0h0m2 11h0m2 0h0m8-3h0m17 12h0m7-4h0m10-8h0m1 4h0m6-12h0m2 22h0m4-9h0m0-13h0m4 4h0m23 7h0m-34 51h0m70 8h0m44 20h0m-12 1h0m-3 0h0m-1-2h0m-4-7h0m-6 3h0m-3 9h0m0-5h0m-2-12h0m0 16h0m-8-21h0m-5 4h0m-232 19h0m27 8h0m157 3h0m82-8h0m3 5h0m-174 24h0m151 35h0m2-4h0m0 8h0m4-21h0m2 19h0m8-6h0m3 1h0m26 12h0m-28 15h0m0-16h0m-3 10h0m-85-5h0m-272 10h0m-173 6h0m-16 16h0m221 4h0m0-2h0m-223 24h0m254 22h0m153 7h0m3-5h0m-3 22h0m-44 1h0m-134-14h0m-7-2h0m169 35h0m7 0h0m2-7h0m1 5h0m0 8h0m5-4h0m0-9h0m67 16h0m5-8h0m13 8h0m61 18h0m-10-3h0m-44 3h0m-23-7h0m-6 5h0m-9 0h0m-3 9h0m-2-8h0m-12 10h0m-13-1h0m-4-17h0m0 1h0m-17 8h0m-14-1h0m-152 5h0m-35 4h0m-2 4h0m49 10h0m151-2h0m29-5h0m2 4h0m2-6h0m48 4h0m112 33h0m-203-7h0m-10 3h0m-145-8h0m-48 0h0m-13 9h0m91 25h0m175-10h0m47 1h0m27 13h0m63-12h0m21 11h0m-4 14h0m-1 2h0m-48-5h0m-101 19h0m-18-7h0m-146-6h0m-108 9h0m-43-8h0m50 26h0m51 6h0m36 0h0m181 3h0m4-6h0m20-6h0m69 0h0m9 20h0m-100 5h0m-216-6h0m-1 1h0m-11-4h0m-41 6h0" stroke="#3cb44b"/>
<path d="M1826 1135h0m-137 27h0m33 2h0m69-4h0m-124 46h0m101-2h0m-32 35h0m-64-6h0m-17 6h0m-17 21h0m42 2h0m73 1h0m22 3h0m3 2h0m5-14h0m9 15h0m-4 21h0m-10-11h0m-7-4h0m-10 16h0m-2-6h0m-1-5h0m-12 11h0m-9-1h0m-1-3h0m-1-6h0m-5-9h0m-99 33h0m5-3h0m163 17h0m2-9h0m10 9h0m5-5h0m8 11h0m-6 0h0m-6 4h0m-15-6h0m-403 11h0m-44 14h0m197 12h0m468 27h0m-95 0h0m-387-18h0m-45 9h0m-143 14h0m172 4h0m37 13h0m79-8h0m52 12h0m300-11h0m16-4h0m6-1h0m6 3h0m5 6h0m-301 18h0m-1 4h0m-45-6h0m-13 16h0m-10-15h0m-95 0h0m-40 14h0m-26-19h0m25 32h0m14-2h0m123-1h0m38 1h0m12-6h0m18 4h0m29 9h0m44 4h0m10-3h0m8 7h0m20-6h0m15 0h0m20 18h0m-31-11h0m-9 23h0m-40-23h0m-11 22h0m-25-18h0m-10 9h0m-9-5h0m-74-4h0m-2 7h0m-146 10h0m-4-8h0m16 19h0m28 11h0m182-4h0m3-10h0m10 14h0m3-2h0m1-14h0m16 14h0m32-5h0m94 4h0m-29 10h0m-74 9h0m-1-7h0m-18 19h0m-14-21h0m-2 6h0m-10 10h0m-12-1h0m-11 2h0m-16-4h0m-20-12h0m-109 3h0m-75 5h0m-18 9h0m18 10h0m3 0h0m211-2h0m2-1h0m13-2h0m5 11h0m18-10h0m53 3h0m20 0h0m33 18h0m9-5h0m4 0h0m11 2h0m18-18h0m5 9h0m0-9h0m6 13h0m-42 10h0m-3 0h0m-1 13h0m-6-2h0m-10-11h0m-265 12h0m-103-4h0m-3-6h0m102 34h0m1 4h0m189 3h0m68-15h0m9 14h0m20-19h0m9 3h0m1 20h0m-39 12h0m-8 2h0m-37 8h0" stroke="#46f0f0"/>
<path d="M1684 1090h0m-46 49h0m5 155h0m-13 19h0m1 5h0m7-5h0m1-5h0m6 0h0m6 8h0m6 2h0m4-10h0m6 0h0m11 2h0m3 5h0m12 0h0m-2 7h0m-1 17h0m-14-14h0m-2 12h0m0 4h0m-1-4h0m-3-7h0m-9 13h0m-4-8h0m-8 8h0m-1-13h0m-4 6h0m-8 0h0m-1-3h0m-1 2h0m-7-10h0m-1 0h0m0 0h0m-3 15h0m0 1h0m-2-8h0m0-4h0m-2-7h0m-3-1h0m-1 8h0m0 6h0m-66-3h0m-7-7h0m-191 16h0m-4-2h0m-39-11h0m2 35h0m21 3h0m3-3h0m3-14h0m4 12h0m1-1h0m2 7h0m151-2h0m7-14h0m10 13h0m5-6h0m17 5h0m1-4h0m10 0h0m94-15h0m4 6h0m24 0h0m0 3h0m13-5h0m-140 22h0m-45 17h0m-7-9h0m-14 6h0m-133-15h0m-2 4h0m-6-2h0m-5 2h0m-2 4h0m-5 0h0m13 15h0m142 0h0m26 21h0m4-1h0m27-19h0m2 2h0m2 7h0m19 3h0m7 0h0m49-3h0m0-5h0m9 15h0m9-7h0m29 8h0m288-1h0m67-11h0m6 0h0m1 0h0m-59 17h0m-306 3h0m-35-1h0m-101 0h0m-6 6h0m-11 1h0m67 27h0m-50 25h0m-19 17h0m260 9h0m110-13h0m23 17h0m13 24h0m-206-6h0m-192-2h0m-4 6h0m-25 3h0m-2-5h0m-9 2h0m-6-6h0m-6 4h0m-19 28h0m41-21h0m62 6h0m168 13h0m11-14h0m94 1h0m0-4h0m63 40h0m-354-4h0m-21 28h0m268-6h0m2-1h0m4-3h0m48-8h0m28 25h0m-28 2h0m-264 8h0m-4 6h0" stroke="#911eb4"/>
<path d="M1675 1073h0m5 5h0m9-1h0m2 0h0m1-5h0m2 7h0m2-11h0m1 4h0m10-9h0m0 3h0m12-1h0m8 19h0m-1 12h0m-1-5h0m-10 3h0m-8 2h0m-2-1h0m-2-7h0m-5 13h0m-4-10h0m-1-9h0m-1 7h0m-3 4h0m-1 8h0m-7-13h0m-2-2h0m-3 9h0m-1-5h0m-2 6h0m-4 3h0m-1 0h0m-3-2h0m-2 0h0m-1 11h0m8-1h0m25 1h0m0 14h0m4-13h0m2 11h0m0-3h0m0 3h0m13-3h0m3 1h0m1-9h0m2 12h0m3-14h0m0 17h0m2-9h0m1-4h0m71 55h0m2-4h0m2 1h0m0-1h0m7 5h0m2-1h0m0-8h0m2 8h0m2 3h0m42 21h0m-2-1h0m-6 28h0m18-14h0m4 28h0m-30-7h0m-145 44h0m2 5h0m109 29h0m42 12h0m23 0h0m5-2h0m7-1h0m1-13h0m1 8h0m3 9h0m7 4h0m-12 5h0m-4 4h0m-9 7h0m-554 22h0m4 7h0m200-12h0m77 39h0m-287-12h0m-1 5h0m15 13h0m5-4h0m15 2h0m250-3h0m29 6h0m83 12h0m4-4h0m12-1h0m263-2h0m-270 17h0m-36 3h0m-133 8h0m174 24h0m5-1h0m7-9h0m2 11h0m3-13h0m134 38h0m-1-5h0m-71-3h0m-33 13h0m-15-15h0m-3-4h0m-3 10h0m-104-7h0m-109 6h0m-44 14h0m91 12h0m8 6h0m121 3h0m65-16h0m22 6h0m112 31h0m-54-19h0m-1 4h0m-14 15h0m-11-12h0m-16 12h0m-1 1h0m-5-7h0m-4 7h0m-3-1h0m-2-5h0m0-12h0m-1 7h0m-38 11h0m-244-19h0m-36 9h0m-10-10h0m-20 30h0m312 6h0m38 3h0m10-13h0m1 11h0m2-14h0m16 14h0m16 6h0m22-8h0m14-8h0m-25 21h0m-17-1h0m-21 10h0m-11 12h0m-3-10h0m-4-7h0m-3 16h0m-13-21h0m-32 19h0m-169 2h0m-11-13h0m-65 27h0m22-3h0m13 15h0m206-20h0m47 0h0m29 7h0m2 1h0m11-8h0m35 11h0m6 6h0m9-9h0m-16 15h0m-3 7h0m-71-2h0m-237-6h0m-35 22h0" stroke="#e6194b"/>
<path d="M1596 1102h0m-7-1h0m-9-6h0m-2-2h0m-7 8h0m-1 10h0m0-1h0m1 0h0m2 1h0m3 8h0m6-10h0m1-5h0m145 28h0m10 64h0m-10-3h0m-60-8h0m10 33h0m11-9h0m2 11h0m25-19h0m2 16h0m8-8h0m9-8h0m6 4h0m3 11h0m6-6h0m3 2h0m9-10h0m9 9h0m7 7h0m3-10h0m9 14h0m3 1h0m3-6h0m1 2h0m1-17h0m6 8h0m-31 35h0m-6-12h0m-13 3h0m-9-3h0m-4-1h0m-7 4h0m-5-1h0m-10 3h0m-13 8h0m-8-20h0m-6 0h0m-2 27h0m18-1h0m15 0h0m21 5h0m19-3h0m5 2h0m5 7h0m11-13h0m-48 41h0m122 5h0m-164 27h0m-70 0h0m-75 6h0m-28 1h0m-122 5h0m-8-2h0m-6 4h0m-36-8h0m-2 14h0m-50 7h0m18 10h0m2-9h0m1 3h0m31 1h0m144-8h0m10 7h0m10-5h0m5 9h0m17 0h0m0 1h0m8 2h0m385 30h0m-317-2h0m-7 0h0m-83-16h0m-12 9h0m-2-6h0m-4 4h0m29 33h0m0-14h0m5 14h0m29-10h0m9 8h0m8 4h0m3-4h0m1-4h0m90-6h0m8-5h0m41 11h0m4-4h0m249 8h0m0 0h0m8-6h0m10-7h0m4-4h0m9 0h0m11 0h0m-43 26h0m-11 4h0m-3-6h0m-320 6h0m-9 14h0m-10-22h0m-47 4h0m-31-1h0m-4 3h0m-38 6h0m0 8h0m-27-16h0m-161 38h0m7-1h0m7-8h0m317 8h0m44-3h0m3-1h0m9 9h0m9-12h0m3 2h0m10-8h0m18 14h0m28 0h0m62 1h0m33 14h0m-3 8h0m-25 0h0m-94-8h0m-10 4h0m-24-7h0m-240 30h0m4 6h0m249-14h0m13 11h0m145 7h0m19 13h0m-17 6h0m-11-3h0m-30-9h0m-9 2h0m-2-2h0m-43 18h0m-12-15h0m-73-7h0m-158 17h0m-105 23h0m39-6h0m12-5h0m17 7h0m40-2h0m202 3h0m31-11h0m48 7h0m13-7h0m1 17h0m0-3h0m3-15h0m3 2h0m15 18h0m4-7h0m12-15h0m27 3h0m-49 33h0m-1-11h0m-11 18h0m-33-13h0m-39 12h0m-183-13h0m-46 1h0m-8 17h0m-14-22h0m-61 4h0m-6 38h0m45-12h0m21-3h0m9 12h0m25 6h0m46-16h0m174 16h0m55-16h0m-55 30h0m-224-4h0m-13-4h0" stroke="#f032e6"/>
<path d="M1675 1171h0m3-3h0m4-10h0m5 15h0m2 2h0m14-1h0m9-14h0m53 11h0m3-5h0m27 26h0m-2-11h0m-20 7h0m-1 8h0m-2 3h0m-6-12h0m-2-5h0m-4 1h0m-8-3h0m-13 13h0m-35-16h0m-4 3h0m-1 0h0m0-1h0m-3 7h0m-3 11h0m-3-20h0m0 12h0m-2-13h0m-3 7h0m-4 14h0m-4-9h0m-9-10h0m-168 20h0m-2-3h0m-8-3h0m-2 6h0m-5-2h0m-4-1h0m-3-13h0m-5 5h0m-3-11h0m0 12h0m-2 7h0m-1-14h0m0 11h0m-14 25h0m9-14h0m7 8h0m10-8h0m19 3h0m4 11h0m13-13h0m143 19h0m40-23h0m9 6h0m46-3h0m15-1h0m1 1h0m1-3h0m4 3h0m2 2h0m4-4h0m109 31h0m-360 87h0m304-2h0m0 11h0m-292 37h0m0-3h0m-4 28h0m-185-16h0m160 31h0m2 3h0m140-5h0m22-5h0m4 2h0m7-2h0m6 12h0m33-3h0m234 20h0m-233-1h0m-3 6h0m-1 5h0m-5-7h0m-1 4h0m-2-14h0m-3 12h0m-4 4h0m-17-9h0m-4 6h0m-21-4h0m-1-13h0m-13 6h0m39 21h0m1 2h0m5 0h0m25 7h0m142 27h0m-12 3h0m-2 1h0m-13-14h0m-57 7h0m-17-10h0m-9 5h0m-28 10h0m-29-2h0m10 24h0m10 0h0m33-9h0m0 3h0m41 12h0m33-4h0m16-17h0m2 2h0m1 2h0m11 12h0m7-11h0m6-1h0m2-2h0m4 11h0m17-2h0m4 3h0m3-3h0m20 8h0m-4 15h0m-44-5h0m-38-1h0m-8-4h0m-29 8h0m-70 6h0m-219 0h0m-22-8h0m-7 1h0m0-1h0m-2 15h0m-1-10h0m32 33h0m10-3h0m272 1h0m45-15h0m2 1h0m4 0h0m13 10h0m-20 11h0m-42 7h0m-206 8h0m-36-13h0m0 2h0m-7 10h0m58 9h0m186 19h0m2 3h0m25-1h0m21-8h0m6 22h0m-273 0h0m-3-6h0m-1 8h0m-20-8h0m-22 16h0m-1-16h0m-41 4h0" stroke="#f58231"/>
<path d="M1859 1127h0m-35 23h0m-20 8h0m-157 62h0m37 0h0m45-15h0m9 0h0m13 14h0m23-1h0m-94 13h0m-35 16h0m-1-22h0m-5 4h0m-2 1h0m-1-6h0m-1 19h0m-7-8h0m-7 25h0m15 1h0m5 2h0m4-12h0m5 5h0m0 7h0m2 2h0m2-8h0m0 13h0m3 1h0m1-7h0m3 2h0m13 2h0m6-3h0m0-8h0m15 2h0m1 8h0m81-18h0m20 16h0m3-7h0m-55 30h0m-10 3h0m-11-14h0m0 8h0m-2 2h0m-4 5h0m-4-10h0m-6 1h0m-3 6h0m-23 27h0m4-5h0m18-6h0m2-7h0m0 12h0m9-7h0m0 5h0m4 9h0m1-16h0m0-3h0m9-1h0m0 5h0m1 9h0m2 3h0m2 1h0m1-2h0m4-1h0m1-15h0m15 7h0m0-8h0m16 22h0m8 1h0m2-13h0m3 2h0m2 1h0m12-4h0m23 14h0m56 20h0m-57-9h0m-20-5h0m-29 2h0m0 5h0m-2-12h0m-1 6h0m-9-2h0m-13 10h0m-7 1h0m-1-4h0m-2-11h0m-46 7h0m-4 14h0m-297-8h0m-32 9h0m-13-4h0m-12-12h0m-7 14h0m222 16h0m6 27h0m-239-1h0m632 30h0m50-14h0m-35 23h0m-326-4h0m-141 22h0m160 15h0m1-10h0m191 13h0m-58 16h0m-2 4h0m-20-4h0m-195 16h0m1 16h0m104 6h0m27-1h0m83 19h0m-20-6h0m-27 6h0m-11-8h0m-19 0h0m-6 11h0m-7-12h0m-5 2h0m-182 4h0m-28-9h0m49 38h0m2 2h0m164-20h0m225 9h0m-155 34h0m-19-15h0m0-4h0m-144-1h0m-7 16h0m-141 2h0m44 24h0m29 2h0m4 0h0m49-3h0m17-10h0m260 23h0m-291 5h0m-48-3h0m-14 0h0" stroke="#ffe119"/>
</g>
<circle cx="1042" cy="542.3" r="10" fill="#e8436b"/>
<text x="1058.8" y="550.5" font-size="23" textLength="51" lengthAdjust="spacingAndGlyphs">MOp</text>
<circle cx="1042" cy="568" r="10" fill="#5cb85c"/>
<text x="1058.8" y="576.2" font-size="23" textLength="44.5" lengthAdjust="spacingAndGlyphs">SSp</text>
<circle cx="1042" cy="593.8" r="10" fill="#fde23c"/>
<text x="1058.8" y="602" font-size="23" textLength="48.4" lengthAdjust="spacingAndGlyphs">ACA</text>
<circle cx="1042" cy="620.3" r="10" fill="#2f8fd0"/>
<text x="1058.8" y="628.5" font-size="23" textLength="22.3" lengthAdjust="spacingAndGlyphs">AI</text>
<circle cx="1042" cy="649.2" r="10" fill="#f5954f"/>
<text x="1058.8" y="657.4" font-size="23" textLength="49.7" lengthAdjust="spacingAndGlyphs">AUD</text>
<circle cx="1042" cy="675" r="10" fill="#a347ba"/>
<text x="1058.8" y="683.2" font-size="23" textLength="48.4" lengthAdjust="spacingAndGlyphs">RSP</text>
<circle cx="1042" cy="705.4" r="10" fill="#6deaea"/>
<text x="1058.8" y="713.6" font-size="23" textLength="56.3" lengthAdjust="spacingAndGlyphs">PTLp</text>
<circle cx="1042" cy="732" r="10" fill="#f552e2"/>
<text x="1058.8" y="740.2" font-size="23" textLength="38" lengthAdjust="spacingAndGlyphs">VIS</text>
<text x="1130.5" y="511.4" font-size="31" class="b" textLength="21" lengthAdjust="spacingAndGlyphs">d</text>
<text x="1344.4" y="500.7" font-size="27" textLength="81.2" lengthAdjust="spacingAndGlyphs">Target</text>
<line x1="1172.7" y1="512.6" x2="1172.7" y2="832.4" stroke="#000" stroke-width="2"/>
<line x1="1171.7" y1="831.4" x2="1582.6" y2="831.4" stroke="#000" stroke-width="2"/>
<text transform="translate(1157,658) rotate(-90)" x="-52.9" y="0" font-size="27" textLength="105.7" lengthAdjust="spacingAndGlyphs"><tspan class="i">t</tspan>-SNE-2</text>
<text x="1343.2" y="865" font-size="27" textLength="104.8" lengthAdjust="spacingAndGlyphs"><tspan class="i">t</tspan>-SNE-1</text>
<g transform="scale(0.5)" fill="none" stroke-linecap="round" stroke-width="5.8" opacity="0.93">
<path d="M2798 1059h0m102 31h0m-117 0h0m91 51h0m-303 34h0m-2 12h0m-3 1h0m-6-2h0m-7 28h0m6-4h0m2-7h0m2 7h0m334-4h0m-162 37h0m-127-6h0m-14-2h0m0-6h0m-6-2h0m-28 2h0m0 12h0m-11-9h0m46 31h0m26 50h0m103-5h0m8 3h0m5-13h0m17 12h0m1 2h0m4-2h0m-5 14h0m-18 12h0m-15-7h0m-2 4h0m-69-8h0m-159 8h0m122 23h0m6 6h0m14-4h0m78 31h0m-11 1h0m-20-3h0m-64-19h0m-15 10h0m-3 12h0m-6-13h0m-12-6h0m-4 21h0m87 13h0m3-2h0m51-9h0m0 20h0m11 0h0m92 20h0m-25-8h0m-3-3h0m-38 2h0m0 8h0m-7-2h0m-26-10h0m-2-2h0m-70-2h0m-42 20h0m-13 2h0m-18-17h0m-141 32h0m173 1h0m4-2h0m15-1h0m43 2h0m68 8h0m11-4h0m19-12h0m67-5h0m70 19h0m47 13h0m-43 6h0m-47 6h0m-29-2h0m-44-16h0m-24 3h0m-25-4h0m-146 14h0m4 13h0m31 12h0m25-9h0m10 3h0m7 1h0m265-7h0m7 11h0m4-10h0m7 9h0m26 7h0m6 24h0m-40-2h0m-10-19h0m-12 21h0m-78-9h0m-139-1h0m-9 6h0m-33-13h0m-20 9h0m-20-11h0m-9 17h0m-19-13h0m-26 3h0m-28 21h0m11 9h0m5-13h0m16 2h0m1 13h0m6-12h0m9-3h0m4-1h0m0 12h0m15-11h0m22 18h0m2-2h0m186-11h0m75 9h0m88-16h0m9 24h0m-126 19h0m-23-13h0m-4 3h0m-139 0h0m-9-8h0m-11 19h0m0-8h0m-5 4h0m-6-11h0m-2 10h0m-2-6h0m-4 6h0m-25-1h0m-1 5h0m-6-15h0m-3-4h0m-9 22h0m-1-10h0m-2 1h0m-3 2h0m-11-11h0m-2 15h0m-11 3h0m-2-1h0m-31-4h0m0 4h0m0 0h0m-11-15h0m15 34h0m26-8h0m13 2h0m5 3h0m24-10h0m3 4h0m3 8h0m4 6h0m1-2h0m3-18h0m27 18h0m12-3h0m1-10h0m14 0h0m0-7h0m177 9h0m36-4h0m68 15h0m7-11h0m1 10h0m3-8h0m-49 22h0m-89 13h0m-206-21h0m-18-1h0m-5 13h0m-2-3h0m0-2h0m-3-5h0m-3-2h0m-19 8h0m-18-9h0m-1 9h0" stroke="#1c1c8c"/>
<path d="M2947 1096h0m-1-5h0m-1 12h0m-3 0h0m-6-3h0m-41-7h0m-73-9h0m-23 9h0m-38-2h0m-4-1h0m29 25h0m146-11h0m-42 41h0m-59-12h0m-10-4h0m-20 30h0m10 5h0m2 1h0m0-9h0m56 7h0m32-2h0m-67 20h0m-8 41h0m16-17h0m2 3h0m24-4h0m12 17h0m88-4h0m12-14h0m8 25h0m0 6h0m-144-1h0m-19-9h0m-26 2h0m-10 16h0m-21 3h0m-4-14h0m-17 0h0m-3-6h0m-16 42h0m10-6h0m9-2h0m34 6h0m82-15h0m5 2h0m3 14h0m0 1h0m10-19h0m18 9h0m68-2h0m-75 36h0m-57-16h0m-69 37h0m0-6h0m12 4h0m142 4h0m36-9h0m15 0h0m4-5h0m-51 21h0m-10 3h0m-17-1h0m-122 6h0m-40-3h0m-8 15h0m-7 3h0" stroke="#1f8fd0"/>
<path d="M2794 1075h0m2 1h0m16 3h0m145 15h0m-5 0h0m-11-2h0m-2 4h0m-9 5h0m-17-5h0m-17-10h0m-9 6h0m-1 0h0m-3 4h0m0 0h0m-58-5h0m-1-2h0m0 7h0m-21 5h0m-5-3h0m-33-15h0m-2 1h0m-74 17h0m-6-7h0m-14 10h0m1 7h0m19-3h0m0-1h0m73-2h0m23 2h0m1 1h0m15 19h0m2-5h0m8-18h0m4 2h0m3 3h0m5-1h0m2 7h0m95-10h0m19 22h0m3-22h0m0 2h0m2 12h0m10-3h0m1 0h0m5 5h0m3-16h0m-22 29h0m-9 16h0m-2-22h0m0 9h0m-26 12h0m-10 0h0m-41 0h0m-17-6h0m-8 1h0m-7-3h0m-2 2h0m-4 6h0m-20-4h0m-2 29h0m1 1h0m25-21h0m12-2h0m7 14h0m10-13h0m0 6h0m1-7h0m2 15h0m8-3h0m4-5h0m4 12h0m7-11h0m0 5h0m19-3h0m4-10h0m2 21h0m11-15h0m0 0h0m-25 24h0m-5 4h0m-3 0h0m-14 0h0m-5-4h0m-10 11h0m-12-8h0m-22 14h0m-12-1h0m-9-13h0m-7-6h0m-8 18h0m-1 12h0m48-3h0m2 10h0m8-15h0m2 14h0m3-12h0m1 14h0m10 2h0m4 4h0m5-7h0m16-11h0m5 3h0m4 5h0m10-5h0m47 11h0m28-14h0m23 33h0m-5-6h0m-14-1h0m-4 0h0m-6-7h0m-1 20h0m-4-10h0m0 4h0m-3-2h0m-9-5h0m-3 3h0m-3-4h0m-4-3h0m0-2h0m-39 8h0m-15 9h0m-5 2h0m-4 0h0m-39-4h0m-9-16h0m-20 19h0m-55-7h0m-22 2h0m-19-12h0m17 32h0m5 13h0m1-2h0m5-14h0m7 8h0m3 1h0m2-2h0m7-10h0m10 2h0m10 10h0m16 2h0m2-9h0m1 10h0m1 1h0m11 2h0m15 1h0m71-5h0m2-17h0m3 5h0m64 1h0m0-2h0m1 1h0m-81 29h0m-11-8h0m-13 10h0m-3-5h0m-5 6h0m-20-2h0m-1-12h0m-12 3h0m-7 17h0m-16-14h0m-5 5h0m-36 2h0m-9-10h0m-5 22h0m2 6h0m1-7h0m17 17h0m1-12h0m46 15h0m5-3h0m26 5h0m33-4h0m2-11h0m11 5h0m20 3h0m11-1h0m0 5h0m20 4h0m6-1h0m10-1h0m9-14h0m11 13h0m0-9h0m1 8h0m1-5h0m12-4h0m16 7h0m-17 13h0m-16 5h0m-34-4h0m-7-5h0m-11 3h0m-6 4h0m-15-4h0m-25-2h0m-2-1h0m-29 12h0m-58 5h0m-5-5h0m-4-4h0m-3 8h0m-33 0h0m-6-5h0m-6 3h0m0-13h0m-1 17h0m-3 4h0m21 11h0m24-8h0" stroke="#3faa3f"/>
<path d="M2644 1328h0m-6 6h0m-4-12h0m-12 1h0m-1 7h0m-1 2h0m-11 7h0m14 17h0m20 3h0m1 1h0m-64 46h0m49-14h0m15 20h0m25-15h0m6 14h0m13-8h0m9-4h0m3 5h0m1-4h0m3-1h0m5-5h0m9 3h0m3 15h0m3-1h0m48-13h0m10-5h0m1 12h0m2 5h0m3-11h0m0 8h0m8-11h0m8 1h0m5 4h0m12 2h0m0-4h0m1 8h0m4 0h0m219-2h0m18 6h0m34-11h0m-260 31h0m-11-15h0m-9 17h0m0 4h0m-11-5h0m-33-9h0m-14 1h0m-11-1h0m-11 3h0m-44-10h0m-70 16h0m-6-12h0m-9 11h0m-8 8h0m0 10h0m179-5h0m24 9h0m26 5h0m117 15h0m-57-2h0m-38-3h0m-4 0h0m-12 9h0m-13-5h0m-1-8h0m-89 21h0m-1 1h0m-116-9h0m-52 27h0m3 5h0m12-20h0m2 9h0m3-1h0m41 12h0m98-19h0m156 7h0m16 4h0m90-7h0m-5 32h0m-32-12h0m-58 19h0m-186-4h0m-48-13h0m-14 17h0m-24-18h0m-1-3h0m-9 4h0m-17 2h0m-4 3h0m-21 12h0m22 26h0m45-3h0m81-2h0m120-2h0m24 5h0m3-7h0m37 6h0m9-4h0m15-11h0m3 6h0m54 9h0m19 4h0m-56 4h0m-27 2h0m-61 0h0m-12 13h0m-132-6h0m-77 10h0m-30-5h0m-34-16h0m55 24h0m62 17h0m191-11h0m39 3h0m50 22h0m-63-7h0m-25 7h0m-8 5h0m-260-4h0" stroke="#9c6b5e"/>
<path d="M2581 1177h0m-41 46h0m32-8h0m5 38h0m8-4h0m62 85h0m373 53h0m-446 10h0m9 8h0m34 5h0m172-1h0m37 3h0m4 3h0m198-23h0m50 23h0m6-15h0m5 0h0m23-7h0m0 9h0m-291 24h0m-6 4h0m-4 4h0m-23 4h0m-5-7h0m-36 0h0m-140 22h0m208 4h0m0-9h0m94 15h0m1-17h0m43 39h0m-41-7h0m-49-10h0m-18 9h0m-6-2h0m-2 2h0m-92-12h0m-160 21h0m1 17h0m84-10h0m134 5h0m29 5h0m3 1h0m7-6h0m14 4h0m3-6h0m1 9h0m62-3h0m29-14h0m54 17h0m3 17h0m-9-7h0m-87 5h0m-8 1h0m-99 3h0m-3-1h0m-3 3h0m-256 31h0m105-10h0m160 4h0m84-2h0m14-13h0m16 3h0m10 9h0m12 4h0m5-15h0m23 4h0m1 13h0m4-1h0m39-5h0m-3 19h0m-44-7h0m-14 5h0m-1 7h0m-40-2h0m-31-8h0m-5 11h0m-6-11h0m-15 3h0m-13 13h0m-296-7h0m13 15h0m1 7h0m92 3h0m9-9h0m7 3h0m189 9h0m9-15h0m34 12h0m35 4h0m6-13h0m4 8h0m12-1h0m-315 27h0" stroke="#a47fc9"/>
<path d="M2689 1385h0m-71 26h0m26-18h0m13 13h0m25-9h0m18 4h0m137 28h0m-92-11h0m-125 10h0m-11-6h0m206 27h0m3-2h0m0-2h0m3 6h0m65 4h0m20 25h0m-3-2h0m-44-12h0m-278 31h0m57 5h0m155-5h0m20 6h0m-203 11h0m-23 32h0m269 8h0m99 29h0m-65 0h0m-20-20h0m-28 8h0m-15-8h0m-174 10h0m-88 9h0m327 8h0m11 15h0m39-16h0m-304 32h0m0-6h0m-9 12h0" stroke="#bcbd22"/>
<path d="M2903 1156h0m-318 26h0m-11 17h0m-13 4h0m378 43h0m-111 24h0m-209 54h0m-188 35h0m11-10h0m195 35h0m-189 5h0m-7-3h0m-26-3h0m179 17h0m87 10h0m400-2h0m12-14h0m31 4h0m-68 29h0m-440 20h0m290 7h0m1 44h0m94 25h0m-53 7h0m-352 12h0m343 9h0m61 7h0m12-11h0m-19 32h0m-350-17h0" stroke="#d4d4d4"/>
<path d="M2781 1078h0m8-4h0m5-4h0m14-1h0m4 5h0m146 29h0m-22-3h0m-1-5h0m-6 5h0m-1 0h0m-34-16h0m-95 5h0m-5-7h0m0 9h0m-24 16h0m190-2h0m-80 42h0m-2-1h0m-57-4h0m-40 25h0m31-7h0m21 1h0m14 4h0m6-7h0m21 11h0m30-11h0m11 9h0m11-8h0m-54 37h0m-105 12h0m49-7h0m23-1h0m153 34h0m-37-10h0m-3 13h0m-122-10h0m-39 0h0m-45 0h0m8 43h0m38-4h0m86-17h0m75-1h0m3 1h0m-59 25h0m-23 11h0m-42 0h0m0 4h0m-7-4h0m-2-2h0m-62 25h0m5 1h0m1 3h0m23 2h0m24-1h0m9-16h0m7 15h0m3-7h0m5 7h0m3 1h0m7-3h0m20-3h0m3 11h0m5-5h0m7 1h0m26-3h0m58 7h0m4-17h0m-4 34h0m-2 4h0m-2-9h0m-1 7h0m-1-8h0m-6-5h0m-37 1h0m-49-5h0m0 10h0m-16-7h0m-71 2h0m-38 11h0m-20-15h0m-7 22h0" stroke="#dc3a3f"/>
<path d="M2603 1190h0m-56 21h0m2 6h0m9-14h0m18 2h0m8 10h0m18-10h0m-1 34h0m-22-7h0m-8 7h0m-10-5h0m-1-7h0m-7 23h0m56 91h0m-108-10h0m-5 12h0m-95-14h0m16 35h0m1-10h0m13 12h0m1-13h0m175-4h0m17 2h0m9 13h0m7-2h0m0 28h0m-31-5h0m-35 1h0m-143-3h0m137 27h0m5-2h0m44-12h0m14 3h0m4-2h0m1 12h0m6-16h0m13 8h0m7 5h0m2-12h0m45 2h0m8 0h0m2 3h0m40 14h0m12-8h0m7-10h0m19 13h0m19 2h0m2-7h0m228 7h0m68-9h0m-290 27h0m-1-2h0m-4 10h0m-4-10h0m-5-3h0m-8 11h0m-53-11h0m-124 4h0m-12 10h0m-10-2h0m-4-6h0m-24-2h0m-4-6h0m-145 37h0m5-14h0m165-3h0m0 15h0m17 1h0m0-5h0m2-2h0m137 3h0m17-4h0m24-4h0m20 5h0m10 10h0m6 3h0m62-7h0m22 4h0m40-9h0m17 33h0m-1-1h0m-2-11h0m-7 11h0m-23-19h0m-4 6h0m-2 6h0m-8 5h0m-2-12h0m-7 17h0m-1-22h0m-21 15h0m-5-13h0m-3 8h0m-1-10h0m-2 8h0m-5 5h0m-3-7h0m-16 17h0m-4-1h0m-2-2h0m-3-17h0m-5 8h0m-2 4h0m-1-4h0m0-7h0m-8 12h0m-1-5h0m-6 7h0m-84-12h0m-84 15h0m-35 1h0m-61 22h0m100-19h0m8 11h0m0 11h0m130-15h0m2 11h0m0 0h0m15-18h0m12 6h0m0 1h0m4-7h0m25 20h0m6-6h0m1 1h0m11-1h0m23 8h0m6-16h0m4 13h0m14-14h0m33 5h0m5-6h0m20 8h0m12-4h0m15 6h0m-17 17h0m-14 0h0m0 0h0m-19-8h0m-39 21h0m-5-2h0m0 2h0m-3 0h0m-7-18h0m-2 18h0m-8-16h0m-9 5h0m-3-9h0m-4 6h0m-15-7h0m-4 23h0m-7-7h0m0-13h0m-1 15h0m-24 4h0m-2 1h0m-12-4h0m-11-11h0m0-8h0m-97 1h0m-3 22h0m-21-19h0m-79 3h0m-23 5h0m-15 1h0m-6 4h0m5 24h0m3 0h0m1-10h0m19 11h0m16-13h0m102 14h0m10-18h0m108 13h0m4-8h0m15-4h0m1 6h0m14-4h0m4 9h0m6 1h0m4 3h0m5-9h0m17-5h0m7 17h0m12-20h0m25 23h0m2-22h0m3 14h0m1-15h0m9 13h0m31-13h0m12 8h0m10 39h0m-12-15h0m-19 9h0m-5-6h0m0 1h0m-9 0h0m-15-2h0m-2 9h0m-3-18h0m-1 0h0m-1 17h0m-3-14h0m-26 1h0m-1 13h0m-9-3h0m-4 7h0m-7 1h0m-3-15h0m-7-3h0m-9 3h0m-12 10h0m-13 3h0m-2 2h0m-143-15h0m-5-3h0m-3 7h0m-42-12h0m-5 13h0m-3 7h0m-2-20h0m-36 18h0m-18-13h0m-17 7h0m-3-7h0m-4 5h0m-2 7h0m14 16h0m40 14h0m2-1h0m11-14h0m2 10h0m52-8h0m3 12h0m163-21h0m2 4h0m20 15h0m19 1h0m22 0h0m4-4h0m21-11h0m2-3h0m21-1h0m12 4h0m10 1h0m3-6h0m2 12h0m-14 13h0m-16 5h0m-2 3h0m-7-10h0m0 4h0m-55 1h0m-6 2h0m-32 12h0m-192-14h0m-3 4h0m-20-7h0m-43 2h0m-2 20h0m24 2h0" stroke="#e77fc3"/>
<path d="M2814 1077h0m16 2h0m131 22h0m-11 1h0m-16-2h0m-16-5h0m-9-7h0m-22 9h0m-91-8h0m-4-9h0m-19 15h0m-10 2h0m-79 14h0m0 7h0m101 6h0m0-6h0m30 6h0m107 3h0m7-5h0m6 0h0m0-6h0m2 4h0m16-8h0m2-1h0m7-3h0m-91 38h0m-5-3h0m-38-1h0m-6-12h0m-11 16h0m-5-2h0m-1 2h0m-31 9h0m3 5h0m10 13h0m4 1h0m5 0h0m34-13h0m11 11h0m5-3h0m22 1h0m8 0h0m4-1h0m74 20h0m-88 4h0m-4-6h0m-3 9h0m-1-9h0m0-7h0m-3 19h0m-1-20h0m-5 7h0m-1 3h0m-16-5h0m-29-1h0m-2 3h0m-6 13h0m-7-10h0m-12 3h0m2 26h0m1 0h0m4-8h0m6-9h0m50 6h0m33-2h0m4-4h0m2 18h0m0-17h0m5 8h0m1-7h0m5 20h0m7-6h0m1 2h0m7-9h0m62 6h0m9 6h0m7 20h0m-11-1h0m-9 0h0m-1-3h0m-1-2h0m-16 11h0m-74-12h0m-27 0h0m-46-8h0m-5 6h0m-9 2h0m-1-8h0m-2 4h0m-10 5h0m-4 9h0m-7-13h0m-7 2h0m-2 2h0m-15 25h0m21-5h0m7-3h0m15 16h0m7-12h0m2 5h0m25-6h0m25 14h0m51-13h0m-16 27h0m-2 5h0m-9 2h0m-35-14h0m-1 7h0m0-6h0m-9-4h0m-10 3h0m-70 39h0m19 0h0m22-7h0m7-3h0m2 2h0m15 4h0m7-4h0m0-4h0m7 4h0m3 3h0m1 3h0m4-9h0m6 8h0m8-1h0m30 5h0m1-1h0m16-2h0m2-5h0m0 6h0m54 3h0m8-7h0m11 6h0m1-16h0m5 2h0m1-3h0m1-4h0m7 15h0m1 1h0m8 12h0m-3 13h0m-4 2h0m-4-7h0m-8 11h0m-3-19h0m-38-1h0m-34-2h0m-23 11h0m-5-5h0m-2 6h0m-15-11h0m0 3h0m-22-5h0m-53 16h0m-20 7h0m-9-10h0m-12-11h0m0 10h0m-1-11h0m-228 16h0m-2 4h0m-1-9h0m-17 6h0m-12 4h0m-16-1h0m-2-7h0m-4-1h0m-1-1h0m-2 5h0m-18-9h0m-19 11h0m-3-4h0m-3 1h0m-8 8h0m12 17h0m20-13h0m7 18h0m1-8h0m6-6h0m4-3h0m3-5h0m1 17h0m1 3h0m3-18h0m15 0h0m10-2h0m282 1h0m367 45h0m-674-13h0m-8-8h0m-12 0h0m-1 4h0m1 20h0m675 1h0m6 0h0m2 12h0m-684 44h0" stroke="#ff8c26"/>
<path d="M2782 1076h0m3-1h0m0-1h0m6 0h0m5 0h0m1 4h0m1-4h0m4-15h0m0 9h0m27 21h0m-3 14h0m-8-1h0m-3-8h0m-6-13h0m-2 12h0m-2 2h0m-2 5h0m-13-5h0m-1 3h0m-1-11h0m-3 5h0m0 3h0m-1-5h0m-3-2h0m-8 10h0m-12 3h0m-92 12h0m118-7h0m8 16h0m3-10h0m1-3h0m13 9h0m1-11h0m5 1h0m4-4h0m120 4h0m2 2h0m-17 25h0m-7 2h0m-34 6h0m-13 3h0m-43-1h0m-5-2h0m-3-9h0m-7 17h0m-1-4h0m-5 3h0m-18-4h0m-12 3h0m6 16h0m4-3h0m11 3h0m24-5h0m3-5h0m20-1h0m2 21h0m3-14h0m7-7h0m30 4h0m46 2h0m-73 31h0m-4-12h0m-1 7h0m-6-9h0m-54 19h0m-18 1h0m-5-9h0m-16 31h0m221-10h0m5 33h0m-15 0h0m-28-16h0m-102 15h0m-72 5h0m-10-3h0m-16-10h0m-39 14h0m27 1h0m17 13h0m34 9h0m73-7h0m33 3h0m55-15h0m20-3h0m-79 32h0m-8-2h0m-41 7h0m-9 7h0m-4-3h0m-102 13h0m44 4h0m102 11h0m44-2h0m38-3h0m5-11h0m22 10h0m2-2h0m1 18h0m-80 3h0m-27-3h0m-24 6h0m-17-12h0m-103 6h0m-224 7h0m-5-5h0m-49 12h0m-33-4h0m2 21h0m16-14h0m44 1h0m-26 41h0m-35-9h0m-6 7h0m8 17h0m28-9h0m589 10h0m56-4h0m16-1h0m-40 29h0m-121 82h0m35-20h0m-111 38h0" stroke="#ffdf2a"/>
<path d="M2788 1085h0m-1-2h0m-2 3h0m-5 2h0m45 37h0m-43 65h0m-192 7h0m-9-1h0m-1-11h0m-1-3h0m-5 0h0m0 0h0m-2-2h0m-17 29h0m25 14h0m8-17h0m2 11h0m9-3h0m2-8h0m2 17h0m228 5h0m-2 1h0m-65 18h0m-152-18h0m-22 6h0m-5-8h0m-10 1h0m-1-1h0m-15 3h0m0 0h0m-6 6h0m-7 9h0m27 20h0m3-15h0m159 7h0m27-1h0m5-6h0m53 24h0m-194 41h0m12 4h0m95-14h0m6 9h0m42 5h0m85-5h0m-72 9h0m-4 16h0m-4 2h0m-12-4h0m-5-13h0m-20 7h0m-14 10h0m-12 0h0m-1-18h0m-10 11h0m-56 2h0m-4-5h0m-3-2h0m-16 12h0m-54 19h0m6 5h0m11-17h0m24-1h0m19 14h0m111-17h0m12 1h0m18 3h0m-125 33h0m-24 8h0m-22-13h0m-21 2h0m-11 27h0m2 3h0m3-16h0m28 5h0m3 3h0m21 13h0m10-6h0m6 0h0m22-5h0m3 9h0m86 2h0m56-7h0m-66 21h0m-3-7h0m-4-3h0m-61-1h0m-41 3h0m-60 4h0m-4-3h0m-161 32h0m178-12h0m12 11h0m3 1h0m4-3h0m68 7h0m53-4h0m88 8h0m147 22h0m-67-6h0m-4 10h0m-5-1h0m-64-8h0m0-5h0m-62-2h0m-9 10h0m-11-7h0m-3 4h0m-119-1h0m-48 14h0m39 6h0m32-2h0m12 7h0m7 10h0m4-3h0m15 0h0m117-2h0m69 1h0m110-6h0m3-2h0m-76 19h0m-266-1h0m-16 7h0m-3-4h0m-7 7h0m-16-8h0m-13 0h0m-10-1h0m0 2h0m-2-8h0m-6 3h0m-16 6h0m-4 13h0m-2-3h0m-3-2h0m-8 11h0m0 17h0m4-4h0m8-13h0m13 8h0m12-8h0m6 6h0m22 11h0m14-11h0m0 13h0m4-3h0m1-6h0m0-6h0m0-3h0m0 8h0m12-7h0m23-4h0m33 11h0m169-9h0m91 7h0m30 11h0m26 14h0m-19 10h0m-21-3h0m-91 4h0m-188 0h0m-36-17h0m-3 4h0m-4 9h0m0-17h0m-4 1h0m-3 0h0m-3 8h0m-9-3h0m-18 11h0m-15 0h0m-43-16h0m-2 12h0m-6 2h0m37 27h0m20-11h0m26-1h0m13 4h0m2 5h0m0 6h0m20-17h0m13-2h0m1 19h0m6-4h0m4 3h0m173-7h0m8 7h0m31-4h0m5-11h0m78 15h0m26-19h0m-34 26h0m-72-1h0m-36 19h0m-194-14h0m-9 8h0m-5-11h0m-1-1h0m-7 13h0m-10-5h0m-7-4h0m-4 14h0m-11-18h0m-3 8h0m-1-4h0m-17-9h0m-3 7h0m-4-5h0m-2 2h0" stroke="#1c1c8c"/>
<path d="M2779 1074h0m176 27h0m-17 2h0m-34-5h0m-17-11h0m-83 15h0m0-14h0m-15-6h0m-3 17h0m-26-13h0m-6 5h0m19 19h0m16 15h0m0-4h0m25 5h0m121-21h0m5 8h0m20 7h0m-90 29h0m-1-5h0m-38-5h0m-7-9h0m-4 11h0m22 26h0m31-8h0m25 9h0m9-4h0m-72 24h0m-39-11h0m23 39h0m3 3h0m29-2h0m15-11h0m4-3h0m83 32h0m-57-10h0m-20 15h0m-3-11h0m-3 14h0m-11-15h0m-17 4h0m-18-5h0m-6 1h0m-68-3h0m-11 3h0m-5-2h0m16 40h0m34-5h0m14-6h0m68 15h0m11-7h0m2 27h0m-17-14h0m-59-3h0m-39 3h0m-47 39h0m1 3h0m36-12h0m12 9h0m75-11h0m130 11h0m5-3h0m6-5h0m0 12h0m1-15h0m-62 27h0m-197 13h0m-283 47h0" stroke="#1f8fd0"/>
<path d="M2760 1072h0m13-6h0m35 7h0m19-2h0m135 28h0m-8 4h0m-16-6h0m-10 3h0m-19-11h0m0 13h0m-14-17h0m0 0h0m-1 0h0m-13 4h0m-107-3h0m-103 15h0m15 3h0m92 11h0m5 8h0m8-17h0m0 1h0m8 19h0m12-6h0m7-2h0m8-7h0m4 13h0m107-16h0m12 4h0m3-8h0m4 8h0m2-3h0m1-5h0m-38 36h0m-1 6h0m-20 2h0m-2 2h0m-10-4h0m-6-4h0m-2 9h0m-18-2h0m-18 0h0m-15-6h0m-13 2h0m-15-17h0m26 34h0m5 7h0m12-2h0m3-3h0m7-5h0m16 8h0m1-3h0m24-5h0m20-7h0m-20 40h0m-13 1h0m-10-2h0m-8-4h0m-8-4h0m-14-7h0m0 21h0m-12-8h0m-1 4h0m-28-8h0m0 0h0m-4-5h0m-2 10h0m-63 33h0m6 0h0m9-3h0m0 1h0m13 2h0m2 0h0m15 0h0m3-11h0m0-6h0m2 5h0m8 11h0m3-3h0m12-4h0m21-6h0m13 1h0m3 4h0m49 0h0m2-2h0m41 10h0m11-6h0m3-13h0m10 11h0m6-13h0m14 4h0m4 16h0m9-2h0m-2 10h0m0 7h0m-14 7h0m-7-17h0m-8 10h0m-25-5h0m-47 5h0m-82 10h0m-1-3h0m0-3h0m-48-2h0m-5-12h0m-11 0h0m-16 33h0m6 9h0m13-4h0m4-1h0m6-1h0m47-11h0m6 17h0m0-10h0m5-3h0m16 15h0m10-3h0m17-16h0m29-1h0m3 5h0m10 10h0m3-2h0m58-5h0m10-8h0m2 41h0m-71-15h0m-9 8h0m-7-11h0m-5 6h0m-1 5h0m-41 0h0m-8 0h0m-2-5h0m-4 1h0m0-8h0m-5 21h0m0-4h0m-2 0h0m-61-11h0m-38 34h0m15 6h0m1-7h0m1-4h0m1-4h0m2-1h0m5-4h0m5 4h0m10 15h0m4-9h0m7 0h0m12 3h0m22-4h0m6-9h0m4-2h0m14 18h0m10-2h0m0 0h0m36 3h0m29-1h0m10 1h0m1 2h0m36 1h0m20-7h0m16 7h0m0-11h0m-39 19h0m-29 10h0m-3-7h0m-57-2h0m-69 15h0m-3-11h0m-14 2h0m0-2h0m-3 11h0m-10-13h0m-3 7h0m0-1h0m-19 5h0m-7-17h0m-8-1h0m34 22h0m101 0h0" stroke="#3faa3f"/>
<path d="M2576 1171h0m14 75h0m-21-22h0m80 99h0m-6 10h0m-61 33h0m55-1h0m8-6h0m59 30h0m-7 2h0m-98-22h0m15 25h0m19-1h0m3 17h0m21-11h0m16 10h0m2-14h0m3 3h0m2 17h0m9 0h0m8-17h0m10 11h0m14-11h0m2 0h0m48 2h0m8-6h0m6 2h0m3 4h0m4 8h0m5-10h0m6 3h0m7 5h0m1-7h0m6 3h0m1 1h0m2 6h0m11 4h0m274-19h0m-43 24h0m-219 12h0m-15 7h0m-37 1h0m-1-21h0m-2 14h0m-3 1h0m-10-6h0m-3-9h0m-1 6h0m-9 8h0m-19-10h0m-62-4h0m-35 14h0m-10-15h0m-6 11h0m-1 0h0m-1-10h0m-22 19h0m-1-8h0m-4 8h0m-1-2h0m-15-6h0m-14 4h0m39 13h0m15 3h0m5-2h0m49 7h0m109-8h0m0 8h0m0-10h0m30 9h0m3-3h0m0-2h0m16-4h0m60 2h0m5 29h0m-51 13h0m-3-12h0m-15 7h0m-88-13h0m-15 16h0m-2 0h0m-12 2h0m-118-4h0m228 7h0m35 15h0m0-1h0m22-3h0m50-6h0m51-7h0m-42 27h0m-51 14h0m-6-3h0m-55-2h0m-15 7h0m-15-12h0m-183-7h0m-1 20h0m-1-4h0m-28-15h0m-12 15h0m-9-8h0m-16 1h0m41 20h0m5 14h0m42 4h0m173-21h0m38 11h0m20 6h0m13-16h0m24 18h0m36-11h0m-11 22h0m-307-3h0m-68 5h0m-1 8h0m31 8h0m3 2h0m52-2h0m12 17h0m21-11h0m3 2h0m194-1h0m4 5h0m7 8h0m7-11h0m2-1h0m75 19h0m-82-1h0m-9-3h0m-14 19h0m-5-6h0m-5 8h0m-229-1h0" stroke="#9c6b5e"/>
<path d="M2595 1186h0m-24 2h0m-25 34h0m25 0h0m7-6h0m6 3h0m62 101h0m-59 46h0m39-20h0m12 38h0m-12-11h0m-18 6h0m-26 20h0m108 3h0m394 5h0m-267 17h0m-3 11h0m-1-1h0m-2-4h0m-3 4h0m-18 4h0m-6-13h0m33 33h0m11-9h0m19 11h0m103 1h0m13 14h0m-9-9h0m-6 15h0m-27 0h0m-25-7h0m-2-2h0m-69 7h0m-24-14h0m-49 10h0m-99 6h0m-52 7h0m57 21h0m145-17h0m33-1h0m5 13h0m18-16h0m1 20h0m9-12h0m62 7h0m6-1h0m1-2h0m16-1h0m36 3h0m22 2h0m-5 28h0m-7-12h0m-55 15h0m-5-3h0m-37-2h0m-37-7h0m-16 11h0m-26-20h0m-1 18h0m-26 3h0m-151 14h0m164-9h0m11 4h0m2-7h0m12 1h0m26 21h0m85-3h0m1-18h0m11 10h0m3 6h0m13-14h0m12 12h0m11-10h0m15-4h0m-6 37h0m-39 2h0m-31-14h0m-23-1h0m-24 20h0m-76-17h0m-105-2h0m-57 12h0m-56-11h0m-41 19h0m100 13h0m24 3h0m253-6h0m3 8h0m4-16h0m11 10h0m8 3h0m20-9h0m-85 28h0m0-6h0m-34 14h0m-234-2h0" stroke="#a47fc9"/>
<path d="M2576 1415h0m159-10h0m2-2h0m64 4h0m21-2h0m-69 19h0m-4 2h0m-71 24h0m2-1h0m59-1h0m30 4h0m37-3h0m2 1h0m4 1h0m6 1h0m2 3h0m62 7h0m-2 21h0m-43-8h0m-21-11h0m-7 6h0m-4-4h0m-117 28h0m225 37h0m-43-2h0m-38 16h0m91 69h0m-51-6h0m-236 12h0m-13-4h0" stroke="#bcbd22"/>
<path d="M2850 1154h0m-283 33h0m2 16h0m-134 158h0m4 2h0m1-14h0m-16 57h0m150 7h0m132-14h0m341 8h0m26 2h0m21-12h0m-27 27h0m-354 0h0m235 104h0m-83-3h0m-269 16h0m371-1h0m30 16h0m9-9h0m-354 27h0m-15 4h0m50 21h0m168 26h0" stroke="#d4d4d4"/>
<path d="M2780 1078h0m10-1h0m17-11h0m3-3h0m-5 22h0m-8 5h0m-1-1h0m-1-8h0m0 7h0m0 3h0m-2 8h0m-126 5h0m134 13h0m152-5h0m-73 28h0m-6 10h0m-40-1h0m-58 17h0m3 6h0m44-5h0m20 4h0m4-12h0m12 0h0m17 5h0m2-3h0m7 1h0m-91 47h0m65-6h0m95 19h0m5-16h0m9 5h0m-29 13h0m-141 2h0m-57 39h0m1-5h0m7 1h0m1 2h0m2 2h0m0-8h0m41 13h0m91-9h0m17 8h0m49-21h0m-98 42h0m-8-1h0m-4 6h0m-2-4h0m-20 1h0m-74-12h0m78 28h0m2-4h0m5-7h0m11 10h0m2-7h0m8 2h0m5 5h0m6-8h0m3 12h0m2 6h0m10 0h0m1-4h0m4-7h0m35 8h0m17 2h0m61-1h0m-30 13h0m-1 2h0m-2 0h0m-26-9h0m-61 9h0m-1 7h0m-2-10h0m-3-2h0m-6 10h0m-23 0h0m-46-6h0m-1-4h0m-40 11h0m-19-3h0m19 21h0" stroke="#dc3a3f"/>
<path d="M2601 1190h0m-4-12h0m-2 20h0m-24-6h0m-7-1h0m-2-7h0m-12 9h0m7 14h0m50-6h0m1 22h0m-11 1h0m-25 20h0m-11-14h0m8 26h0m74 72h0m-17 7h0m-12-9h0m-134 13h0m-36-6h0m-26-12h0m-2 36h0m3 8h0m3 0h0m190-12h0m4-4h0m28 7h0m1 5h0m2-5h0m70 32h0m-50 0h0m-7 0h0m-15-15h0m-59 13h0m-18 3h0m-139-14h0m-8 6h0m-3 17h0m179 6h0m11 1h0m18-5h0m35-6h0m14 5h0m2 12h0m65 1h0m2 2h0m37-3h0m3 4h0m13-9h0m18-11h0m232 18h0m1-3h0m7 1h0m30-8h0m21-6h0m14 3h0m1-6h0m-289 37h0m-5 0h0m-7 4h0m-2 2h0m-5-11h0m-11-2h0m-15 13h0m-4-4h0m-5 2h0m-30-13h0m-27-2h0m-102 17h0m-188 12h0m194 2h0m15 0h0m46 0h0m61 1h0m67-3h0m1-6h0m1 3h0m4 7h0m4 0h0m10 3h0m11-3h0m23 0h0m18 9h0m0-6h0m22 7h0m26-7h0m7 3h0m43 21h0m-16 5h0m-2-3h0m-6-3h0m-10 0h0m-4 6h0m-14 0h0m-9 2h0m-2 0h0m-13-20h0m-7 13h0m-4-8h0m-5 0h0m0 8h0m-10-7h0m-5-3h0m-1 6h0m-6-3h0m-4 0h0m-4 5h0m-10-9h0m-3 9h0m-4-5h0m-6 3h0m-3 6h0m-6-14h0m-36-4h0m-2 4h0m-38 0h0m-7 13h0m-89 5h0m-10 0h0m-27-2h0m-42 22h0m41-5h0m15 10h0m47-14h0m106-8h0m4 15h0m9 1h0m9 0h0m2 3h0m25-16h0m5 14h0m7 0h0m3-15h0m2 5h0m13 13h0m9-9h0m32-4h0m28-3h0m5-1h0m10-4h0m3 12h0m32 7h0m7-8h0m4-10h0m6 41h0m-4 1h0m-8 1h0m-5-3h0m-8 0h0m-25-13h0m-10 4h0m-2-6h0m-1 18h0m-8-15h0m0 6h0m-31 6h0m-3-5h0m0-11h0m-2 14h0m-5 6h0m-1-9h0m-1 0h0m-5-1h0m-1-7h0m-5 9h0m-42 8h0m-10-13h0m-1-7h0m-9 12h0m-8-1h0m0-7h0m-4-4h0m-8 7h0m-5-3h0m-14 15h0m-82-4h0m-1 6h0m-98-11h0m-50-1h0m34 25h0m10 2h0m19-11h0m29 21h0m63-3h0m9 1h0m108-21h0m11 16h0m4-15h0m1 20h0m0-3h0m5-14h0m3 1h0m7-1h0m1 3h0m13-7h0m10 3h0m10 13h0m14 3h0m7-10h0m10 2h0m12 3h0m8-10h0m10 13h0m4 6h0m17-1h0m1 0h0m20-3h0m14-3h0m1-5h0m3 5h0m8 4h0m-11 4h0m-38 0h0m-2 2h0m-4 3h0m-1 18h0m-9-8h0m0-13h0m-2-1h0m-2 17h0m-12-8h0m-1 0h0m-19 6h0m-5 1h0m-10-11h0m-27 17h0m-17-16h0m-40-2h0m-133 16h0m-41 2h0m-44-20h0m-2 6h0m-2-3h0m-2-5h0m0 6h0m-16 8h0m0 7h0m-8-2h0m-21 10h0m32 3h0m34 2h0m6-8h0m10 14h0m78-11h0m140-6h0m27 16h0m4 1h0m6-1h0m2-7h0m2 10h0m12-17h0m21 19h0m4-11h0m10 1h0m0-3h0m2 6h0m7-3h0m32-8h0m0 9h0m9 3h0m6-14h0m-37 32h0m-12 8h0m-17-1h0m-8-8h0m-14-6h0m-5 5h0m-13-2h0m-15 8h0m-9 9h0m-5-5h0m-215-12h0m-13 7h0m-9-3h0m-7-1h0m-11-3h0" stroke="#e77fc3"/>
<path d="M2796 1072h0m161 27h0m-52-9h0m-3 9h0m-13-6h0m-6-4h0m-65 13h0m-30-16h0m-11 5h0m-105 22h0m3-9h0m7 5h0m0 5h0m121 3h0m8-3h0m9 7h0m2-13h0m89-1h0m24 6h0m16-5h0m11 0h0m-20 33h0m-9 5h0m-60 1h0m-8 0h0m-9 1h0m-2-1h0m-14-5h0m-33 0h0m-14 8h0m-14-7h0m-4 28h0m1-1h0m2-2h0m54-11h0m26 3h0m4-3h0m8 16h0m2-20h0m35 1h0m0 2h0m13 9h0m5-11h0m27 34h0m-2 2h0m-61 9h0m-28-22h0m-6 20h0m-16-21h0m-17 12h0m-10 6h0m-10-17h0m-8 9h0m-5 7h0m-4 3h0m-14 1h0m-38 25h0m41-18h0m2-4h0m0 3h0m1 4h0m12-7h0m14 6h0m38-5h0m4 13h0m6 3h0m2-5h0m3-6h0m8-4h0m2 6h0m5 3h0m17-2h0m2-3h0m47 17h0m5-4h0m2-6h0m26 7h0m7-13h0m18 31h0m-11-5h0m-6 14h0m-20-13h0m-9 9h0m-1-11h0m-3-7h0m-11 3h0m-39 17h0m-29-8h0m-17-13h0m-8 18h0m-14-17h0m0 11h0m-19 2h0m-27 5h0m-11 1h0m-17-16h0m-2 3h0m7 33h0m34 5h0m5 0h0m19-17h0m18 16h0m26-10h0m5 4h0m27 7h0m2-16h0m4 2h0m-17 26h0m-20-1h0m-33-6h0m-1 1h0m-1-1h0m-14 1h0m-5 16h0m-64 3h0m-11 16h0m2 2h0m6-11h0m0 10h0m6-10h0m14-3h0m0 20h0m7-16h0m1 5h0m14 2h0m21-8h0m5-2h0m29 19h0m61-13h0m0-1h0m6 0h0m3 14h0m46-8h0m2 9h0m3-16h0m2 13h0m2-3h0m3-17h0m1 10h0m16 12h0m7 4h0m-4 12h0m-1-8h0m-5 2h0m-5-5h0m-25-3h0m-18 0h0m-2 8h0m-4-8h0m-2 1h0m-52 11h0m0-3h0m-6-1h0m-3 0h0m-4-6h0m0 13h0m-9 4h0m-36-16h0m-27 14h0m-2-3h0m-28-10h0m-5 7h0m-24-6h0m0 16h0m-13-11h0m-219 13h0m-1-4h0m-41 0h0m-5-10h0m-1 14h0m0-1h0m-18-14h0m-4 12h0m-1-6h0m-14-11h0m-2 16h0m-4-4h0m-6 4h0m4 6h0m5 8h0m8 11h0m1-11h0m10 9h0m12 5h0m2-11h0m4 1h0m3-7h0m2 5h0m20-11h0m296 1h0m-331 42h0m-1 1h0m-4-11h0m-12 22h0m659 13h0m25-7h0m1-3h0m2 1h0m6 4h0m8-1h0m-697 55h0m5-15h0" stroke="#ff8c26"/>
<path d="M2775 1073h0m18 0h0m113 26h0m-5-2h0m-77-5h0m-3 9h0m-4-1h0m-3 2h0m-7-6h0m0-15h0m-4 7h0m-5-8h0m-1 9h0m-12 13h0m-1-14h0m-1 1h0m-8 1h0m-97 3h0m105 17h0m12 8h0m0 9h0m4-4h0m2 0h0m7 3h0m4-18h0m2 19h0m8-15h0m108 22h0m-1 14h0m-5-11h0m-44 9h0m-38-5h0m-4 6h0m-7-2h0m-3-13h0m-1 0h0m-5 18h0m-13-6h0m-36 5h0m17 24h0m9-20h0m1 5h0m11 3h0m1 3h0m105-11h0m-39 38h0m-18-7h0m-71-5h0m-3 6h0m-1 13h0m-11-7h0m-5 6h0m-14 22h0m26-12h0m14 11h0m90 2h0m11-7h0m42 10h0m3-14h0m-2 15h0m-182 16h0m-19-16h0m7 31h0m4 6h0m2 0h0m1 2h0m41-5h0m13-7h0m62 5h0m-12 33h0m-144 30h0m53-12h0m0 1h0m2 5h0m62-11h0m40 1h0m34 4h0m2-3h0m0-2h0m19 13h0m17 2h0m8-1h0m1-6h0m34-12h0m-37 34h0m-46-5h0m-1-2h0m-128 1h0m-43-1h0m-16 0h0m-217 12h0m-81-3h0m-5 4h0m16 16h0m4 8h0m17 23h0m-4-10h0m-17 19h0m657 13h0m21-12h0m2-3h0m16 5h0m-686 56h0m498 6h0m21 112h0" stroke="#ffdf2a"/>
<path d="M2821 1151h0m-236 34h0m-11 11h0m-3-2h0m0-10h0m-7 5h0m-12 30h0m38-4h0m21-11h0m2 11h0m151 32h0m-9-9h0m-5 5h0m-21-5h0m-134-10h0m-4 13h0m-3 5h0m-44-16h0m210 34h0m1 3h0m3 3h0m13-15h0m-22 62h0m34 21h0m-1-12h0m-5 5h0m-12 0h0m-9-3h0m-8 2h0m-3-3h0m-96 1h0m-12-8h0m-15 17h0m-1-3h0m-6 2h0m-5 11h0m8 5h0m1-4h0m12 19h0m0-5h0m10-2h0m102-10h0m-74 40h0m-18-6h0m-10-15h0m-3 10h0m-4 8h0m-13-14h0m-8 13h0m-5-11h0m-11-5h0m11 30h0m2 8h0m1-9h0m1-1h0m23 12h0m9-18h0m15 6h0m14-1h0m1 7h0m21-6h0m17-1h0m91 24h0m-9-1h0m-36 18h0m-6-19h0m-6 2h0m-42 2h0m-57 9h0m-42-16h0m-3 1h0m-1 9h0m-32-9h0m-156 35h0m15 0h0m8-3h0m223 5h0m89 0h0m2-5h0m7 14h0m5-13h0m173 22h0m-8 12h0m-19 1h0m-36 1h0m-4-12h0m-27-5h0m-1-1h0m-18 13h0m-61-7h0m-10-6h0m-1 1h0m-2-1h0m0 6h0m-1-2h0m-1-6h0m-124 17h0m-29 2h0m-22 15h0m12-2h0m16 9h0m58-11h0m3 14h0m2-2h0m7-14h0m5 14h0m7-12h0m15 14h0m177-15h0m69 3h0m13 3h0m2-4h0m7-3h0m1-4h0m-19 22h0m-4 23h0m-67 0h0m-179-14h0m-8 6h0m-53-6h0m-1 0h0m-15-2h0m-5 1h0m0-4h0m-33 1h0m-1 17h0m-5-6h0m-7-4h0m-5 11h0m0-9h0m-6 9h0m-10 12h0m0-4h0m21 3h0m0-6h0m11-4h0m3 15h0m9-4h0m36-10h0m63 10h0m2-3h0m10 4h0m125-7h0m174 36h0m-94 6h0m-223-1h0m0-16h0m-9 10h0m-18-4h0m-3 7h0m-3-4h0m-13-2h0m-8-7h0m-4-6h0m-16 4h0m-8-1h0m-3-1h0m-5 13h0m-2 4h0m-43 4h0m8 20h0m6-4h0m0 7h0m8 1h0m24-1h0m4-9h0m3-6h0m26 13h0m3 1h0m1-8h0m2 4h0m3 4h0m13-18h0m1 20h0m8-23h0m3 23h0m4-9h0m4 2h0m4 6h0m3-5h0m195-6h0m97-11h0m-80 45h0m-213-20h0m-20 16h0m-3-1h0m-19-16h0m-38 16h0m-5-5h0m-3-3h0m-16 5h0" stroke="#1c1c8c"/>
<path d="M2790 1077h0m151 17h0m-40-6h0m-102-6h0m-27 20h0m-80 2h0m108 15h0m132-1h0m8-13h0m-5 23h0m-11 10h0m-73 10h0m-19-3h0m-1-2h0m-23-1h0m-27 15h0m13-4h0m14 10h0m87 2h0m11-1h0m-39 25h0m-11-5h0m-17 8h0m-11 1h0m-28 14h0m45 5h0m7 1h0m20-12h0m2 20h0m7-4h0m9 5h0m7 0h0m43-6h0m44-8h0m-29 29h0m-8 8h0m-1-7h0m-75 5h0m-26-12h0m-1 9h0m-1-5h0m-1-6h0m-50-3h0m-49 7h0m0-7h0m-9 4h0m1 24h0m33-6h0m16 14h0m7-3h0m10 6h0m1 4h0m58-18h0m6-2h0m7 14h0m5 5h0m0-17h0m5 3h0m0-5h0m5 3h0m3 10h0m-46 21h0m-54 2h0m-373 32h0m350-3h0m5-7h0m15 6h0m27-15h0m8-1h0m38 7h0m40 14h0m40 0h0m26 0h0m5-4h0m5-5h0m1-1h0m7 3h0m-65 19h0m-6 1h0m-13-8h0m-144 12h0" stroke="#1f8fd0"/>
<path d="M2760 1077h0m1 2h0m6-6h0m162 29h0m-26 0h0m-80-19h0m-13 11h0m-38-2h0m-12-6h0m-73 11h0m-7-2h0m-13 11h0m7 3h0m86 0h0m22 11h0m1 2h0m2-12h0m1-2h0m20-1h0m4 9h0m1 4h0m1-8h0m2 6h0m0 5h0m1-9h0m1 10h0m7-17h0m0 17h0m4-5h0m102 1h0m4 2h0m10-14h0m17 0h0m-27 21h0m-8 3h0m-73 19h0m-23-3h0m-9-2h0m-3-3h0m-23 5h0m-23-4h0m10 11h0m2-1h0m1 5h0m2-6h0m3 3h0m8 3h0m25 5h0m14-3h0m11-7h0m9 11h0m34 5h0m5-8h0m3 0h0m2 9h0m4-5h0m-11 15h0m-12 8h0m-8 8h0m-11-19h0m-6 21h0m-15-2h0m-18-1h0m-11-13h0m-7 15h0m-2-19h0m-3 5h0m-4 12h0m-3-18h0m-5-1h0m-4 7h0m-1-1h0m0 12h0m-2 7h0m3 18h0m16-9h0m26-1h0m12 12h0m11-8h0m14-9h0m31 11h0m90 11h0m0 3h0m-15 0h0m-4 10h0m-1-1h0m-5-15h0m-13 14h0m-13-12h0m-54 3h0m-30-2h0m-13 12h0m-10 4h0m-47-17h0m-50 12h0m-2-7h0m7 19h0m4 6h0m7-5h0m12 14h0m1-1h0m24-6h0m10-10h0m2 8h0m11 12h0m11 0h0m8-4h0m20-7h0m10 3h0m29 5h0m2-1h0m-1 28h0m-4-9h0m-1-8h0m-6 2h0m-18 10h0m-9 4h0m-9-1h0m-1 1h0m-1-6h0m0-4h0m-6-2h0m-3-5h0m-12 8h0m-1 12h0m-5-22h0m0 21h0m-1-21h0m-9 3h0m-65 27h0m3 8h0m3-2h0m21-6h0m2 9h0m4-6h0m3 7h0m24 3h0m12-1h0m1-16h0m32 13h0m8-14h0m38 15h0m14-15h0m33 20h0m25-19h0m4 9h0m37 11h0m-9 4h0m-23 16h0m-1-1h0m-19-16h0m-32 7h0m-22-5h0m-1-2h0m-56 10h0m-3 3h0m-39 2h0m-8-2h0m-11 9h0m-3-18h0m-1 16h0m0-21h0m-3 12h0m-6 2h0m-5 4h0m-2-17h0m-2 12h0m-3-5h0m-6 8h0m-8-1h0m-13-6h0m9 21h0m37 3h0" stroke="#3faa3f"/>
<path d="M2625 1319h0m13 5h0m-18 32h0m5-8h0m17 1h0m-10 35h0m-30-15h0m-8-1h0m-6 10h0m41 15h0m9 21h0m35-2h0m10 3h0m4-11h0m17 8h0m10-13h0m20 4h0m35 10h0m1-4h0m13-6h0m1 9h0m1-6h0m18-9h0m3 13h0m9-11h0m8 4h0m7 0h0m219 8h0m52-13h0m-258 31h0m-23 3h0m-76-1h0m-7 0h0m-9-10h0m-10 4h0m-16 1h0m-57 7h0m0-15h0m-16 14h0m-48-10h0m15 18h0m8 20h0m51-7h0m87-7h0m6 6h0m40-5h0m3-5h0m1 12h0m3-1h0m22-7h0m4-5h0m10 0h0m53 10h0m55 30h0m-11 3h0m-78-13h0m-5 7h0m-48-11h0m-47 12h0m-38 6h0m-4-1h0m-142 24h0m18 1h0m31-1h0m29-6h0m197 8h0m40-11h0m5 3h0m3-5h0m4 3h0m51-7h0m27 9h0m26 12h0m0-1h0m-4 6h0m-108-3h0m-43-3h0m-20 12h0m-196 7h0m-40-18h0m-7 10h0m-1-10h0m-9 17h0m-19 4h0m13 5h0m7-2h0m1 9h0m61 10h0m190-18h0m125 11h0m50-2h0m0 27h0m-37-13h0m-7 11h0m-29 9h0m-105-20h0m-177 3h0m-91 7h0m22 17h0m22 11h0m27-11h0m7 0h0m4-5h0m23 23h0m23-21h0m176 13h0m19 7h0m49-10h0m44 6h0m-90 18h0m-5-7h0m-2 0h0m-12 7h0m-201-11h0m-30-1h0m-13 4h0m-13 14h0" stroke="#9c6b5e"/>
<path d="M2585 1215h0m-193 131h0m6 5h0m229 31h0m111 20h0m43-9h0m40 20h0m280-10h0m13-1h0m-298 21h0m-3 11h0m-2 2h0m-33-2h0m-17-15h0m-15 14h0m-23-13h0m-113 0h0m-19 12h0m79 22h0m78-7h0m6 7h0m30-9h0m24-3h0m1 17h0m1-6h0m51 4h0m23-10h0m3 13h0m63 6h0m-4 17h0m-14-17h0m-63 11h0m-30-1h0m-10-6h0m-113 13h0m-58 4h0m-83 19h0m149-18h0m79 15h0m2-3h0m3-5h0m8-5h0m40 14h0m16 0h0m17-15h0m13 13h0m17 5h0m31-3h0m56 7h0m-55 15h0m-25 8h0m-57-8h0m-49-12h0m-42 0h0m-83 8h0m-20-4h0m-60 17h0m-10-4h0m-43 0h0m39 12h0m91 12h0m18-14h0m94 16h0m21-20h0m8 7h0m14 6h0m44-3h0m12 4h0m11-9h0m31 0h0m16 9h0m11-14h0m15 2h0m8-2h0m14-1h0m2 38h0m-18-14h0m-32 3h0m-2 9h0m-8-8h0m-13 6h0m0-6h0m-7 9h0m-10 1h0m-16-12h0m-38 17h0m-210-6h0m-7-4h0m-25-8h0m-4 3h0m-68 6h0m-4-2h0m6 19h0m0 1h0m33-4h0m16 11h0m42 7h0m34-16h0m187 20h0m44-9h0m2-7h0m8-1h0m7 9h0m22 5h0m30 0h0m-46 16h0m0-5h0m-30-6h0m-15 2h0m-4 3h0m-203-4h0m-40 17h0m-59-10h0" stroke="#a47fc9"/>
<path d="M2796 1407h0m7-8h0m18 32h0m-7-1h0m-10 6h0m-31-9h0m-38 11h0m-73-20h0m-82 0h0m77 35h0m155-3h0m1-3h0m176 36h0m-41-13h0m-49 12h0m-6-1h0m-6-2h0m-28 8h0m-22-13h0m-25 3h0m-141 12h0m267 3h0m69 43h0m-2-2h0m-109-18h0m-294 20h0m366 41h0m-8 5h0m-53 0h0m-66-8h0m-8 0h0m-2 9h0m28 6h0m107 0h0m-39 31h0m-295-10h0" stroke="#bcbd22"/>
<path d="M2912 1164h0m-326 34h0m-35-6h0m325 113h0m-120 28h0m-285 9h0m-41 3h0m176 30h0m67 29h0m67-3h0m307 11h0m31-2h0m-472 95h0m51 0h0m321-3h0m-288 21h0m319 33h0m2-8h0" stroke="#d4d4d4"/>
<path d="M2792 1072h0m3 5h0m19-7h0m5-5h0m-22 22h0m-1 9h0m-2-5h0m-9 12h0m-113 9h0m6-3h0m99 8h0m17-11h0m20 11h0m113 5h0m30-10h0m-25 26h0m-56 12h0m-65-3h0m-23 1h0m80 18h0m9 0h0m36 1h0m40 23h0m-95-7h0m-2-7h0m-21 17h0m-35-16h0m-18 12h0m41 11h0m24 14h0m16-13h0m19 15h0m69-14h0m10 2h0m10 3h0m23 36h0m-2-19h0m-23 7h0m-14 13h0m-6-3h0m-99-9h0m-95 11h0m-11 28h0m3-6h0m1-3h0m0 1h0m7-1h0m15 8h0m10-13h0m32 14h0m137-17h0m5-3h0m-77 34h0m-21 3h0m-1 2h0m-19-6h0m-14 3h0m-5 5h0m-88 16h0m79 10h0m3-17h0m8 17h0m5-10h0m3-4h0m3 7h0m2-15h0m2 19h0m1-2h0m11-13h0m12 2h0m3-1h0m5 8h0m1-4h0m0 13h0m12-7h0m2-8h0m5 11h0m3-14h0m12 10h0m1-4h0m1 7h0m22 6h0m62 1h0m-11 11h0m-46 1h0m-4-12h0m-32 0h0m-17 7h0m-9-1h0m-28 11h0m0-17h0m0 8h0m-87 13h0m-19-7h0" stroke="#dc3a3f"/>
<path d="M2573 1175h0m20 16h0m-12 2h0m-11-9h0m-19 22h0m6 6h0m2-2h0m9 3h0m15 2h0m22 6h0m-21 11h0m-11-4h0m-12-2h0m-13 0h0m-7-2h0m26 26h0m14 10h0m8-4h0m2 5h0m40 49h0m5 5h0m12 17h0m-149 3h0m-4-3h0m-4 1h0m-77 23h0m11 3h0m189 5h0m21-16h0m63 38h0m-28 3h0m-28-14h0m-2 7h0m-212 0h0m0-9h0m-9 10h0m-5-1h0m202 16h0m0 1h0m40 8h0m4 2h0m7-10h0m5 8h0m30 7h0m40-5h0m12-3h0m34-2h0m18-3h0m3-1h0m13 8h0m0-9h0m7 13h0m235 3h0m15-4h0m18-10h0m8-5h0m0 6h0m7 3h0m9-1h0m-49 14h0m-23-2h0m-223 9h0m-5 2h0m-1-3h0m-4 4h0m-5-8h0m-14 1h0m-5 13h0m-5-7h0m-3 7h0m-28-17h0m-7 13h0m-109-13h0m-43 12h0m-170 0h0m-7 22h0m13 8h0m176-12h0m65 9h0m70-9h0m9 13h0m45 0h0m3 2h0m2-3h0m13-14h0m2 12h0m1-6h0m6 3h0m19 4h0m87 1h0m3 3h0m55 19h0m-25-4h0m-1-2h0m-5-9h0m-8 5h0m-2 11h0m-3-12h0m-12-1h0m-3 14h0m-16-8h0m-24-1h0m-1-6h0m-1-4h0m-4 7h0m-3 1h0m-1-5h0m-18 7h0m-7-3h0m-4 0h0m-7 12h0m0-11h0m-4-2h0m-5-4h0m-9 18h0m-1-11h0m-25-8h0m-15 0h0m-57 21h0m-88-8h0m-13 3h0m-5-7h0m-5 0h0m-8 7h0m-36 29h0m36-11h0m18-8h0m18 5h0m48 15h0m83 0h0m34-8h0m10-5h0m9-4h0m14 9h0m4 1h0m2-5h0m1 12h0m18-7h0m6-12h0m3-2h0m8 1h0m13 19h0m15 1h0m9-12h0m7-5h0m10 3h0m4-5h0m9 10h0m13-2h0m18-7h0m12 6h0m4 8h0m2 2h0m9-2h0m3 0h0m-10 23h0m-4-14h0m-17 15h0m-2-14h0m-9-4h0m-29 20h0m-3 2h0m-6-22h0m-6 5h0m-8 14h0m-9-2h0m-6-17h0m-3 3h0m-3 16h0m-4-3h0m-5-11h0m-1 7h0m-4-3h0m-4-10h0m-6 0h0m-4 23h0m-3 0h0m-5-16h0m-5 12h0m-6-17h0m-18 11h0m-24-4h0m-5 11h0m-5-9h0m-1 4h0m-2-7h0m0 2h0m-19 7h0m-74-7h0m-20 0h0m-5-8h0m-33 18h0m-63-15h0m-25 35h0m18-13h0m10 19h0m47-5h0m12-16h0m44 8h0m17 3h0m0 11h0m96-19h0m24 1h0m3 10h0m0-4h0m6 11h0m10-22h0m16 14h0m0-10h0m3 7h0m20 7h0m20-15h0m10 6h0m0 3h0m0 7h0m14-9h0m1-6h0m1 13h0m1 3h0m0-16h0m4 15h0m0-1h0m1 4h0m7-4h0m0 2h0m0-16h0m2 7h0m6 8h0m1-19h0m5 15h0m13 0h0m7 1h0m10 1h0m4 13h0m-20-1h0m-5-4h0m-9 18h0m-2-11h0m-7-1h0m-11-7h0m-4 5h0m-3 18h0m-27-23h0m-1 12h0m-2 2h0m0-1h0m-1-7h0m-21 10h0m-2 2h0m-13-9h0m-19 7h0m-139-15h0m-11 20h0m-15-9h0m-32-1h0m-27 9h0m-34-13h0m-22 12h0m-1-13h0m-6 11h0m38 19h0m12-4h0m84 4h0m3 0h0m5-5h0m157-4h0m15 15h0m0-6h0m6 8h0m1 2h0m2-13h0m38 12h0m6-10h0m9-3h0m5-3h0m3 18h0m3-21h0m0 17h0m20-14h0m6 0h0m2 3h0m4-6h0m-35 25h0m-18 4h0m-2 7h0m-6-13h0m-2 0h0m-43 10h0m-209-5h0m-36-6h0m-31 22h0m10 2h0" stroke="#e77fc3"/>
<path d="M2787 1070h0m13-6h0m10 7h0m3-6h0m100 36h0m-2-10h0m-1 10h0m-3-8h0m-10 6h0m-5-10h0m-83 3h0m0-3h0m-41 10h0m-10-17h0m-71 17h0m-8 2h0m0 8h0m7 8h0m95 2h0m22-2h0m0 5h0m1-9h0m12 2h0m7-11h0m112 12h0m17-6h0m1 3h0m14-8h0m-36 44h0m-5-14h0m0-6h0m-50 17h0m-5 2h0m-35-4h0m-3-15h0m-14 4h0m0 14h0m-13-18h0m-9 3h0m-25 23h0m4 13h0m47 0h0m2-6h0m17 5h0m21 8h0m6-13h0m1 9h0m2-8h0m16-11h0m11 6h0m2 4h0m14-7h0m15 15h0m1-10h0m-67 23h0m-8 13h0m-4-20h0m-44 13h0m-2 7h0m-2-15h0m-1 6h0m-5-7h0m0 17h0m-2 1h0m-14-1h0m-1-19h0m-2 21h0m-8-19h0m-3-3h0m0 8h0m-3 0h0m12 24h0m7-4h0m40 17h0m11-15h0m10 6h0m12-11h0m18-2h0m7 6h0m64 16h0m36-8h0m3 0h0m2 32h0m-3-6h0m-8-9h0m-6-2h0m-14 18h0m-1-4h0m-4-6h0m-4 3h0m-3-8h0m-69 7h0m-21-3h0m-6-8h0m-10 19h0m-2-9h0m-3-2h0m-5-9h0m-2 10h0m-44 2h0m-7-3h0m-35 1h0m-9 10h0m-1-12h0m42 32h0m12-10h0m6-4h0m8 17h0m1-15h0m3-2h0m3 12h0m25 5h0m3-11h0m19 5h0m21 3h0m8-16h0m-4 24h0m-19 5h0m-15 14h0m-8-3h0m-4-14h0m-9-3h0m-10 8h0m-1 1h0m-3 0h0m-2-8h0m-51-3h0m-41 47h0m17-11h0m9-4h0m11-2h0m58-6h0m7 17h0m1-4h0m17 2h0m35 7h0m28-14h0m2 15h0m3-20h0m11 13h0m13 4h0m22-2h0m12-14h0m2 16h0m2-15h0m2 0h0m19 13h0m-8 19h0m-14-11h0m-1 16h0m-40-14h0m-50 6h0m-7-2h0m-6 6h0m-7 8h0m0-2h0m-6-3h0m-6-8h0m-50 2h0m-8-10h0m-20 13h0m-6-7h0m-1-4h0m-27 2h0m-4 3h0m-1-1h0m-219 6h0m-13 2h0m-4 5h0m0-4h0m-2 1h0m-40-3h0m-12 6h0m-1-6h0m-22-1h0m-1 5h0m0-2h0m-1-6h0m-12 12h0m-2-10h0m3 25h0m16-7h0m1-1h0m1 11h0m3-12h0m19-2h0m0 0h0m5 7h0m0 10h0m10-13h0m0 4h0m7-3h0m651 40h0m-653-4h0m-3-5h0m-7 0h0m-6-8h0m-6 8h0m-2 12h0m11 1h0m583 2h0m65-2h0m6 5h0m9-7h0m0 5h0m-45 18h0m-4 11h0m-640 24h0m3 1h0m5 2h0m10 2h0" stroke="#ff8c26"/>
<path d="M2811 1076h0m132 27h0m-42-6h0m-82 4h0m-18-11h0m-8 5h0m-2-1h0m-6-1h0m-5 3h0m-17-1h0m-89-3h0m-3 22h0m95-7h0m23 4h0m21 7h0m5-9h0m153 3h0m-137 36h0m-8-16h0m-31 33h0m7 0h0m7-13h0m3 6h0m27 0h0m9 15h0m5-11h0m5 3h0m15 27h0m-1-2h0m-61-12h0m-18 19h0m-15 1h0m-1 11h0m17 11h0m2 0h0m38-18h0m35-1h0m29 18h0m8 3h0m35 25h0m-50-23h0m-102 1h0m-34 3h0m-3 33h0m2-1h0m9 10h0m1-4h0m35-7h0m13-1h0m14 12h0m65-8h0m13 6h0m32-20h0m-54 30h0m-16 1h0m-27 6h0m-104 18h0m6 10h0m33-7h0m49-5h0m158 7h0m-9 25h0m-125-1h0m-17-6h0m-321 5h0m-101 2h0m30 23h0m0 6h0m15-9h0m0-5h0m9 0h0m269-4h0m-283 42h0m616 35h0m-188 107h0m-8 7h0" stroke="#ffdf2a"/>
<path d="M2785 1082h0m156 23h0m-336 86h0m-7 7h0m-2-11h0m-18-10h0m-15 4h0m-7 26h0m46 6h0m229 21h0m-1-2h0m-1 3h0m-70 12h0m-22 0h0m-131-18h0m-9 9h0m-1-14h0m-21 5h0m-12 4h0m-4 6h0m-14-15h0m11 26h0m14 10h0m181-1h0m9-3h0m3-1h0m1 2h0m2-9h0m16 14h0m92-12h0m-43 26h0m-101 36h0m8-11h0m15 11h0m2 2h0m12 1h0m71-16h0m-54 40h0m-2-4h0m-3-2h0m-7 10h0m-25-13h0m-4-2h0m-8 5h0m-8 3h0m-4-2h0m0-7h0m-1 7h0m-7-7h0m0 8h0m-67 1h0m-65 31h0m7-8h0m4-11h0m41 12h0m5 2h0m4 0h0m93-18h0m-53 45h0m-40 2h0m-2-3h0m-5-7h0m-1-4h0m-3 13h0m-5-8h0m-7-10h0m-8 4h0m-27-6h0m-11 31h0m0 3h0m8 10h0m0-2h0m2-13h0m48-6h0m28 2h0m4 2h0m0 4h0m12-2h0m5-2h0m36-2h0m71 15h0m-129 8h0m-14 3h0m-41 15h0m-177 21h0m7-7h0m166-2h0m10 11h0m128-9h0m53 2h0m179 29h0m-26 1h0m-19-17h0m-38 8h0m-1 2h0m-4-8h0m-11 15h0m-6 4h0m-20-20h0m-26 15h0m-5 3h0m-7-14h0m-12-4h0m-50 2h0m-129 7h0m-3 11h0m-14 2h0m0 13h0m43-2h0m14 5h0m3-7h0m0 6h0m138-8h0m26-3h0m40-3h0m10 0h0m33 7h0m29-8h0m18 14h0m45-3h0m-46 14h0m-45-1h0m-1 13h0m0 10h0m-4-20h0m-99 5h0m-6 4h0m-85-1h0m-8 1h0m-19-2h0m-10-7h0m-5 0h0m-10-2h0m-15 20h0m-6-13h0m-1 8h0m-30-3h0m0 1h0m-7-3h0m0 11h0m-21-18h0m0 4h0m-3-3h0m-27 19h0m3 14h0m5 0h0m3-1h0m37 4h0m2 3h0m1 1h0m17 2h0m66-1h0m153-20h0m59 14h0m84-16h0m41 24h0m-7 11h0m-10 12h0m-297-19h0m-3-3h0m-17 14h0m-3-12h0m-13 6h0m-12 5h0m-2-12h0m-12 5h0m-3-2h0m-18-4h0m-9 21h0m-31-14h0m-1 10h0m-25-4h0m-7 5h0m-4-14h0m35 23h0m16 14h0m5-18h0m3 18h0m4-17h0m16 19h0m13-15h0m15 1h0m11-6h0m9 17h0m3-6h0m4-2h0m181 0h0m44-8h0m25 7h0m46 8h0m3-3h0m3-2h0m7-9h0m-57 31h0m-40-1h0m-227 3h0m-1-2h0m-7 4h0m-7-7h0m-47 2h0m-3-7h0m-15 6h0m-22-5h0" stroke="#1c1c8c"/>
<path d="M2941 1096h0m0-2h0m-1 2h0m-1 7h0m-1-3h0m-39 1h0m-6-7h0m-85-1h0m-10-12h0m-4 12h0m-2 3h0m-24 5h0m-3 1h0m-76-4h0m-3 0h0m128 22h0m120-12h0m30 8h0m-99 34h0m-32-14h0m-11 12h0m0-3h0m-28 17h0m25-1h0m78 5h0m3-2h0m-25 31h0m-33 1h0m-38-15h0m-13 2h0m-5 13h0m-42 26h0m6-3h0m65-11h0m0 10h0m2 5h0m8-1h0m3-11h0m32 8h0m18-8h0m8 4h0m2-3h0m50-1h0m48 16h0m-44 9h0m-67 6h0m-1-2h0m-1 5h0m-8-1h0m-11 0h0m-2 3h0m-11-15h0m-2 7h0m-56-12h0m-15 6h0m-33-1h0m-6 6h0m27 33h0m18-12h0m0 2h0m16-7h0m13 11h0m72 1h0m-18 19h0m-35-6h0m-25 0h0m34 18h0m93 14h0m38-8h0m14 10h0m3-3h0m2 3h0m9 11h0m-20 11h0m-10-1h0m-9-12h0m-27 3h0m-1 1h0m-4 2h0m0-2h0m-3 9h0m-67-2h0m0 0h0m-11-3h0m-64 1h0m-19 5h0m-307 20h0m305-7h0m-346 38h0" stroke="#1f8fd0"/>
<path d="M2778 1075h0m2 3h0m16-10h0m124 0h0m35 32h0m-3-8h0m-9 1h0m-11 8h0m-16-4h0m0 5h0m-12-15h0m-12 2h0m-2 7h0m-3-7h0m-2 3h0m0 1h0m0 1h0m-2-2h0m-69-5h0m-1-3h0m-33 3h0m-7 9h0m-9-6h0m-1 6h0m-3-11h0m-94 28h0m25-7h0m89 11h0m9-3h0m23-1h0m9-8h0m4 16h0m105 6h0m2-13h0m1-9h0m2 4h0m0 3h0m7 4h0m18-11h0m6 4h0m-42 27h0m-22 15h0m-26 0h0m-6 0h0m-1-9h0m-38 6h0m-15-3h0m-3 5h0m-29-5h0m-6 25h0m10-18h0m16 23h0m9-16h0m6 9h0m12 2h0m17-3h0m6-4h0m5 10h0m4 1h0m6-16h0m4 7h0m15-4h0m14-7h0m2 10h0m8 2h0m42 24h0m-83-9h0m-1 12h0m-5-2h0m-4 6h0m-1-3h0m-33-10h0m-5 14h0m-26-15h0m-22 12h0m-6 1h0m-2-4h0m11 20h0m12-5h0m38-4h0m2 20h0m5-20h0m4 2h0m43 3h0m1-4h0m5-2h0m68-1h0m22 37h0m-2-8h0m-5-6h0m-21 6h0m-15 3h0m-40 0h0m-41 7h0m-13 1h0m-14-13h0m-7 1h0m-12 13h0m-27-18h0m-1 18h0m-30-16h0m-1 0h0m-9 2h0m-2 1h0m-1-4h0m-5 12h0m-1 20h0m26 13h0m0 1h0m2-3h0m6 2h0m10-2h0m1-8h0m6-1h0m5 6h0m9 3h0m9-14h0m32 5h0m22 10h0m18-1h0m5-9h0m2-1h0m0 2h0m2 10h0m8-9h0m-7 31h0m-6-10h0m-7-7h0m-14 11h0m-21-1h0m-4-4h0m-10-4h0m-6 2h0m-1 6h0m-7 9h0m-3-8h0m-45-9h0m-43 42h0m33-5h0m17-4h0m3 2h0m14-1h0m24-5h0m6 6h0m7 4h0m58-9h0m17 7h0m30-1h0m14 0h0m17 4h0m1-3h0m4-17h0m13 22h0m1-13h0m11 12h0m6 1h0m-2 4h0m-44-1h0m-19 9h0m-64 4h0m-91 3h0m-2-14h0m0 7h0m-17-6h0m-2 15h0m-18-2h0m-4 1h0m-5-7h0m-1 8h0m0-15h0m34 25h0m11 0h0" stroke="#3faa3f"/>
<path d="M2563 1235h0m75 91h0m-21 10h0m-6 10h0m26 16h0m70 27h0m-143 13h0m13 6h0m94 3h0m3-1h0m56-4h0m0-2h0m40-7h0m7 4h0m5-5h0m2 2h0m2 5h0m36 3h0m264-8h0m17 8h0m-273 18h0m-35 14h0m-2-21h0m-4 14h0m-1 4h0m-9-12h0m-2-2h0m-4 7h0m-3 0h0m-14-7h0m-9 17h0m0-4h0m-1-7h0m-28-11h0m0 13h0m-65-1h0m-31-2h0m-16 2h0m-29 3h0m6 15h0m153 7h0m54-5h0m7 12h0m1 1h0m0 1h0m1-5h0m6-6h0m5-1h0m2 13h0m14-19h0m5 8h0m15 8h0m19-10h0m109 36h0m-129-6h0m-2-1h0m-22-6h0m-28-9h0m0 15h0m-64 7h0m-110-4h0m-31 26h0m6-12h0m1 0h0m16 1h0m15 12h0m20-4h0m76-10h0m114 11h0m7 2h0m36-10h0m17 5h0m93 0h0m1-2h0m4 8h0m1-12h0m-68 23h0m-5-7h0m-17 19h0m-45 1h0m-21-9h0m-223 5h0m-3-15h0m-38 5h0m-3 0h0m-4 5h0m-1-11h0m-1 15h0m9 12h0m65 17h0m208-12h0m17 13h0m89 1h0m-24 9h0m-5 11h0m-17-5h0m-5 2h0m-6-11h0m-4 13h0m-88-17h0m-165 0h0m-88 13h0m0 2h0m119 11h0m199 3h0m54-6h0m49 23h0m-9 3h0m-6 4h0m-11 10h0m-42-4h0m-37 0h0m-3 0h0m-5 0h0m-9 7h0" stroke="#9c6b5e"/>
<path d="M2611 1198h0m-28-14h0m5 36h0m4-3h0m-2 10h0m-3 12h0m-46-12h0m79 86h0m18 30h0m-228-8h0m22 27h0m201-7h0m33 18h0m-97 42h0m18-3h0m9-9h0m91 4h0m99 5h0m276 3h0m17-4h0m41-10h0m1-6h0m-57 23h0m-235-1h0m-15 8h0m-6 10h0m-19 1h0m-2 1h0m-9-11h0m-35 7h0m-8-16h0m-1 5h0m-156 2h0m-10-7h0m193 34h0m27-7h0m8 18h0m74 0h0m2-9h0m20-1h0m5 4h0m16-8h0m0 1h0m25 11h0m26 21h0m-1-10h0m-6 15h0m-1-11h0m-12 12h0m-28-17h0m-48 8h0m-34 5h0m-108 4h0m-135-7h0m-15 14h0m232-1h0m16 8h0m22-2h0m12-2h0m12-3h0m5 1h0m45 10h0m3 1h0m2-3h0m22-1h0m4-11h0m18 10h0m33 33h0m-20-20h0m-105 10h0m-55 3h0m-4-7h0m-2-2h0m-10 3h0m-7 10h0m-103-8h0m-92-5h0m-1 16h0m-51-18h0m76 28h0m5 7h0m176-14h0m64 2h0m76 12h0m18 3h0m4-7h0m42 22h0m-10 4h0m-45-5h0m-2 12h0m-5-11h0m0 0h0m-51-8h0m-26 0h0m-195 11h0m-135-6h0m-2-1h0m13 35h0m5-6h0m45 5h0m6-1h0m15-6h0m1 13h0m68-10h0m183 9h0m21-5h0m43-4h0m6 1h0m-52 19h0m-241-3h0" stroke="#a47fc9"/>
<path d="M2606 1405h0m59-6h0m126-6h0m42 35h0m-13-2h0m-29-10h0m-29 17h0m-10-5h0m-3 0h0m-152 17h0m77 8h0m8 0h0m218 3h0m3 21h0m-1 0h0m-79 1h0m-107 8h0m161 4h0m115 3h0m-161 25h0m-290 35h0m268-16h0m159 40h0m-14 5h0m-104-19h0m-12 20h0m-16-18h0m-242 31h0m267-12h0m33 2h0m46 30h0m-285-6h0m-14 18h0m-30-4h0" stroke="#bcbd22"/>
<path d="M2829 1095h0m22 56h0m63 2h0m-340 23h0m-19 34h0m1-10h0m9 11h0m27 34h0m-33 0h0m11 18h0m20-10h0m-109 88h0m-11 1h0m-28 1h0m-13-14h0m4 31h0m-3 15h0m311 24h0m300-2h0m38 6h0m2 1h0m-3 16h0m-21 1h0m-306 5h0m-31-7h0m-112-1h0m150 58h0m-5 1h0m159 53h0m-280 20h0m374 9h0m4 5h0m-367 36h0m225 4h0m115-8h0m-347 33h0" stroke="#d4d4d4"/>
<path d="M2767 1072h0m17-4h0m11 2h0m6 9h0m9-17h0m111 35h0m-26-1h0m-103-7h0m-28 7h0m-78 0h0m0 2h0m131 20h0m9 1h0m123-12h0m1 13h0m2 3h0m5-12h0m-60 40h0m-72-9h0m-6 8h0m-4-10h0m-8 3h0m0-3h0m-13-7h0m65 26h0m12 5h0m1-8h0m84 34h0m-71-2h0m-68 4h0m-50 12h0m8 3h0m88 1h0m75 5h0m2-3h0m2 4h0m1 8h0m5-4h0m0-2h0m11-5h0m2-4h0m5-4h0m7 15h0m11-9h0m-117 35h0m-22-3h0m0-2h0m-26-14h0m-34 18h0m-49 18h0m2-1h0m15 8h0m36-9h0m17-1h0m77-4h0m3 4h0m-5 23h0m-7 9h0m-22 3h0m-16-13h0m-12 9h0m-19 0h0m-8-16h0m-62 37h0m46 5h0m29-1h0m2-5h0m5 4h0m5-8h0m6 3h0m7 0h0m8-8h0m3 10h0m6 3h0m3-9h0m7 8h0m2 3h0m1 2h0m21-12h0m1 5h0m6-6h0m22 10h0m29 4h0m12-2h0m2-20h0m31 38h0m-10-8h0m-11 5h0m-2 1h0m-5-8h0m-41 6h0m-25-9h0m-45 15h0m-5-16h0m-7 11h0m-77 12h0m-53-11h0" stroke="#dc3a3f"/>
<path d="M2575 1173h0m23 25h0m-27-22h0m-5 0h0m-13 28h0m41 2h0m2-3h0m8 11h0m-35 10h0m-11 1h0m-1 5h0m25 25h0m38 72h0m-119 3h0m-3 3h0m-4 1h0m-48 4h0m-34-5h0m1 23h0m4 5h0m9 5h0m167-19h0m4 2h0m4 1h0m35 11h0m1 2h0m464 27h0m-527-6h0m-141-16h0m-23 11h0m193 35h0m10-17h0m21 7h0m39 5h0m13-15h0m4-1h0m32 3h0m1-1h0m26 20h0m29-7h0m8-9h0m252-3h0m36 17h0m18-10h0m4-3h0m16 0h0m-54 20h0m-235 6h0m-3 8h0m0-4h0m-1-5h0m-19 6h0m-6-9h0m-9 10h0m-18-10h0m-10-3h0m-6-2h0m-1-1h0m-10 8h0m-13 8h0m-65-8h0m-43-3h0m-2-1h0m-5 31h0m14-3h0m17 2h0m8 2h0m2-2h0m84-3h0m49 0h0m2-3h0m21 0h0m1 4h0m48 4h0m7 2h0m81 3h0m4 6h0m31 13h0m-4 8h0m-7-8h0m-9 8h0m0-1h0m-11 1h0m-5-1h0m-9-7h0m-2-7h0m-2-5h0m-1 15h0m-32-6h0m-12-4h0m-1-3h0m-2-2h0m-1 0h0m-14 13h0m-1 1h0m-2-5h0m-18 3h0m-8-7h0m-1 13h0m-1-5h0m-17-1h0m-7 9h0m-88-1h0m-69-2h0m0-2h0m-1 7h0m-5-6h0m-15-10h0m-18 13h0m-1 3h0m26 3h0m1 12h0m6 2h0m6-7h0m133 14h0m2-20h0m19 0h0m10 6h0m8 6h0m3-11h0m6 19h0m7-6h0m2-11h0m2 1h0m5-4h0m14 8h0m14-8h0m6 20h0m23-13h0m3-6h0m21 14h0m1-13h0m6 18h0m22-19h0m7 15h0m1-15h0m23-2h0m9 10h0m-7 24h0m-11-4h0m-18 13h0m-2-16h0m-18 15h0m-9 0h0m-1 1h0m-3-14h0m-7 11h0m0-14h0m-8-4h0m-2 22h0m-3-16h0m0 9h0m-3 5h0m-2 0h0m-4-6h0m-21-3h0m-7-3h0m-29 9h0m-53-9h0m-7 1h0m-2 14h0m-138-17h0m-24 1h0m-3-4h0m-20 6h0m-23 7h0m38 29h0m1-12h0m81 14h0m12-2h0m89-18h0m63 5h0m8 2h0m24 4h0m11-8h0m2-1h0m0-2h0m4 7h0m25 11h0m2-15h0m3 1h0m8-1h0m14 12h0m1-6h0m3-11h0m21 2h0m13-1h0m5 1h0m-33 24h0m-3 2h0m-5-1h0m-4-3h0m-12 21h0m-8-20h0m0 16h0m-2 3h0m-8-18h0m-17 9h0m-41-5h0m-5 7h0m-3-4h0m-2-3h0m-14 9h0m-2-15h0m-138 8h0m-6-9h0m-9 8h0m-34 7h0m-60-14h0m-23 8h0m-5 5h0m-9 5h0m-11-3h0m-1-4h0m-3 14h0m42 7h0m44 12h0m5-3h0m12-4h0m15 5h0m20 0h0m168-18h0m29-1h0m18 19h0m18-11h0m15-3h0m3 11h0m23 1h0m13-13h0m-8 26h0m-32-3h0m-31 1h0m-16 3h0m0 3h0m-24-4h0m-206 1h0m-34 5h0m-5-1h0m-5 7h0m-12-10h0m-1 2h0" stroke="#e77fc3"/>
<path d="M2790 1069h0m3-7h0m11-3h0m115 37h0m-7 6h0m-22-4h0m-1-8h0m-8 2h0m-103-7h0m-9-3h0m-5 12h0m-83 2h0m0 1h0m-10 13h0m1-2h0m4 11h0m2-9h0m2 4h0m5-10h0m1 0h0m109 4h0m1 12h0m14-2h0m1 2h0m1-14h0m0 6h0m120 11h0m3-18h0m7 4h0m10 8h0m7 10h0m1-3h0m1-19h0m-19 44h0m-4-9h0m-1-4h0m-6 12h0m-1-16h0m-52 17h0m-5-4h0m-14 4h0m-42-7h0m-46 30h0m2-2h0m41-7h0m20 4h0m2-6h0m30 5h0m1 8h0m30-8h0m6-1h0m24 0h0m-48 32h0m-2-4h0m-7-5h0m-2 8h0m-2-5h0m0 2h0m-7-10h0m-5 0h0m-3 14h0m-3-2h0m-48-1h0m-5-10h0m-9-8h0m-19 9h0m-23 35h0m21 0h0m2-14h0m22-2h0m8 17h0m10-11h0m26 12h0m2-19h0m14 0h0m13-1h0m4 6h0m16-4h0m2 8h0m0-2h0m96 9h0m11-2h0m-3 11h0m-6 5h0m-3 0h0m-4-9h0m-10 17h0m-6 1h0m-9 4h0m-1-10h0m-2-7h0m-1 13h0m-2-5h0m-2-10h0m-3 16h0m-4-17h0m-59-2h0m-9 1h0m0 8h0m-7-6h0m-88 6h0m-18 0h0m-2 3h0m-2-3h0m-2-5h0m-11 6h0m0-4h0m-2 12h0m6 21h0m7 7h0m8-10h0m1 11h0m7-5h0m0 0h0m0 1h0m7-6h0m2 3h0m4-16h0m3 14h0m0 3h0m4-13h0m4 0h0m14 11h0m22-11h0m7 1h0m41 5h0m9 13h0m4-1h0m90-20h0m65 40h0m-68 4h0m-78 1h0m-23-15h0m-39 6h0m-1-12h0m-3 10h0m-21-10h0m-12 2h0m-379 42h0m322 0h0m22-1h0m11-11h0m4-1h0m4 1h0m62 8h0m4-5h0m15-3h0m0 2h0m18 1h0m20-13h0m45 19h0m22 2h0m3-16h0m4 14h0m4-4h0m13 6h0m-3 6h0m-9 16h0m-3-14h0m-17 13h0m-26-17h0m-6 7h0m-7-4h0m-4 0h0m-20-4h0m-21 8h0m-14-4h0m0 3h0m-3-2h0m-1-3h0m-3-2h0m0 0h0m-3 14h0m-30-12h0m-95 5h0m-2-3h0m-219 7h0m-13 0h0m-33 11h0m-10-3h0m-3-10h0m-1 9h0m-8-4h0m-5 6h0m-2-9h0m-3-10h0m-10 6h0m-6 11h0m-2 4h0m-3-8h0m-1 4h0m-4 2h0m-3-14h0m0 18h0m6 1h0m8 18h0m13-4h0m0-4h0m3-10h0m7 15h0m4-11h0m2 6h0m3 3h0m0 2h0m9-9h0m294-4h0m-298 21h0m-9 6h0m-5 15h0m-20 5h0m2-2h0m19 0h0m596 0h0m20 22h0m47-16h0m6-4h0m4 3h0m-54 19h0m-628 39h0" stroke="#ff8c26"/>
<path d="M2806 1071h0m17-3h0m132 33h0m-142-2h0m-1-8h0m-4 10h0m-3 1h0m-1-13h0m-10 5h0m-6 7h0m-2 0h0m-2-11h0m-6-7h0m-1-2h0m-13 19h0m6 14h0m21-9h0m10 15h0m6-10h0m1-5h0m2 3h0m4 11h0m12-14h0m118 3h0m4 10h0m0-8h0m-26 24h0m-93 7h0m-3-8h0m-22 5h0m-30 26h0m19-6h0m6 2h0m17 3h0m3-9h0m10-1h0m18 13h0m5 4h0m1-9h0m2-9h0m10 12h0m-81 24h0m-4 1h0m85 14h0m80 12h0m38 18h0m-128 9h0m-24-2h0m-54 7h0m-28-14h0m-11-2h0m13 32h0m8 6h0m2-5h0m12 0h0m83-4h0m114-1h0m11-9h0m-101 30h0m-46 1h0m-9 3h0m-1 1h0m-7 3h0m-18-10h0m37 31h0m7-5h0m60 10h0m18-7h0m75 6h0m-68 12h0m-24-5h0m-3 2h0m-49 2h0m-26 2h0m-55 1h0m-342-7h0m-16 19h0m-3-5h0m-14 24h0m49 26h0m-31 1h0m7 9h0m28-1h0m447 65h0m23-7h0m3 72h0" stroke="#ffdf2a"/>
<path d="M2791 1077h0m-191 110h0m-11 7h0m-7-15h0m-3-3h0m-14 3h0m-1 16h0m-2-5h0m-10 22h0m4-5h0m8 8h0m18 4h0m14-1h0m4-17h0m4 9h0m220 20h0m-70 1h0m-10 5h0m-133-9h0m-9 2h0m-11 18h0m0-11h0m-3-8h0m-10 11h0m-5 2h0m-3 0h0m-1 5h0m-11-3h0m-7-11h0m-1 6h0m12 12h0m6 6h0m11-4h0m170 3h0m-129 60h0m15 4h0m104-11h0m15 11h0m35 14h0m-12 9h0m-3-1h0m-8-20h0m-16 9h0m-11 12h0m-5-9h0m-9-8h0m-6 3h0m0 7h0m-67-4h0m-19 7h0m-35 16h0m9-2h0m10 6h0m12 4h0m6 0h0m0-3h0m5-11h0m3 14h0m5-10h0m3 10h0m1 11h0m-16 17h0m-8-17h0m-21 3h0m-6 14h0m-20-15h0m-1 30h0m31 4h0m2 1h0m24 5h0m1-4h0m7 3h0m25-17h0m11 13h0m149 17h0m-7 11h0m-75-18h0m-4 2h0m-22 2h0m-16 5h0m-128-8h0m-4 6h0m-141 24h0m236 4h0m65-2h0m6-6h0m8 10h0m1-10h0m54-2h0m168 35h0m-19-7h0m-29 10h0m-101 0h0m-4-10h0m0 5h0m-31 4h0m-25-7h0m-12-5h0m-4 4h0m-110 8h0m-9 4h0m-21-1h0m-7-6h0m-29 28h0m2-16h0m3 1h0m13-2h0m10-1h0m48 4h0m19 11h0m3-15h0m7 5h0m156-1h0m26 2h0m4-3h0m4-4h0m12 0h0m24 9h0m66-3h0m0 6h0m2-8h0m16 15h0m-2 28h0m-29 0h0m-124-2h0m-29-21h0m-93 16h0m-12 5h0m-20-21h0m-21 2h0m-7 8h0m-6 7h0m-37-4h0m-26 5h0m-1-9h0m-25 9h0m-9 11h0m15 2h0m45-4h0m7-2h0m15 17h0m4 1h0m17-12h0m10 16h0m16-5h0m17 0h0m7-15h0m7 17h0m228 2h0m11-19h0m7 1h0m-50 41h0m-6-7h0m-182-13h0m-6 9h0m-10 6h0m-10-3h0m-17-3h0m-23-4h0m0-1h0m-23 13h0m-2-13h0m-3 15h0m-22-18h0m0 18h0m-13-5h0m-5-3h0m-1-11h0m-21 13h0m10 31h0m29-10h0m2 11h0m5-4h0m0-5h0m3 4h0m18-13h0m2 13h0m1-12h0m6 15h0m2-3h0m3-1h0m39-9h0m4-3h0m0 11h0m8-11h0m227 10h0m56-12h0m-37 33h0m-3 8h0m-67-5h0m-198-8h0m-4 2h0m0-4h0m-1 7h0m-1-4h0m-1 6h0m-6-5h0m-4-7h0m-2 9h0m-5-8h0m-21 4h0m-6 0h0m-33 5h0m-1-10h0" stroke="#1c1c8c"/>
<path d="M2948 1096h0m-256 8h0m78 6h0m7 5h0m37 5h0m110-10h0m20 5h0m-2 27h0m-13-11h0m-57 19h0m-4-4h0m-29 0h0m-9-3h0m-4 7h0m-23-8h0m-2-8h0m-15 25h0m41 12h0m21 0h0m2-2h0m14-7h0m26 11h0m2-14h0m9 4h0m-15 36h0m-9-2h0m-7-9h0m-5-3h0m-6-2h0m-2 4h0m-38 2h0m-20 7h0m-13-1h0m-7-11h0m-2 20h0m34 0h0m11 11h0m6 5h0m4 2h0m9-17h0m3 11h0m1-13h0m6 17h0m7-4h0m1-13h0m23 15h0m80 19h0m-87 3h0m-1 3h0m-4-17h0m-2 16h0m-6 4h0m-26-16h0m-13-6h0m-83 6h0m-5 27h0m73 10h0m1-9h0m45-8h0m28 17h0m5-12h0m-5 24h0m-19 16h0m-26-10h0m-79 27h0m2-3h0m2-2h0m57 10h0m42-10h0m74 12h0m37-17h0m14 2h0m-15 16h0m-29 4h0m-19-3h0m0 6h0m-2 3h0m-11-6h0m-14 3h0m-37-3h0m-3-1h0m0 16h0m-15-7h0m-21-9h0m-72 14h0m-28 0h0m-283 12h0m13 13h0" stroke="#1f8fd0"/>
<path d="M2771 1075h0m11 1h0m12 3h0m14-14h0m153 34h0m-4-2h0m-7 0h0m-10-4h0m-9 2h0m-11-1h0m-20-5h0m-6 5h0m-4 0h0m0-1h0m-4 2h0m-1-4h0m-12 0h0m-53-6h0m-14-1h0m-40 11h0m-1 2h0m-69 5h0m-29 0h0m0 7h0m2 2h0m1 3h0m0-4h0m0 2h0m3 5h0m3 2h0m12-12h0m76-3h0m25 22h0m8-1h0m4-5h0m5 6h0m3-18h0m1 4h0m11 8h0m10 7h0m78-23h0m22 18h0m15-16h0m1 11h0m6-3h0m1-3h0m-17 33h0m-4-16h0m-7 14h0m-20 3h0m-3 1h0m-17 4h0m-17-10h0m-14 10h0m-4-1h0m-5 2h0m-4-7h0m-7 1h0m-3 2h0m-1-1h0m-5-1h0m-4-7h0m-3-1h0m-2-4h0m-11 1h0m-9 9h0m-20 16h0m8-1h0m1-2h0m28 7h0m0 2h0m2 3h0m23-4h0m9-11h0m6 4h0m1 5h0m15-10h0m45 5h0m12 5h0m-40 26h0m-17 3h0m-8-9h0m-15 16h0m-4-15h0m-5 13h0m-13-9h0m-23-4h0m-2 1h0m-1-5h0m0 2h0m-7-2h0m-16 8h0m-16 29h0m69-11h0m17 6h0m11-3h0m2-8h0m4 1h0m35 1h0m42 19h0m0-2h0m6-5h0m38 9h0m-2 23h0m-2-4h0m-2 0h0m-27 3h0m-2 1h0m-15-18h0m-49 7h0m-9 5h0m-6 6h0m-16-17h0m-24 11h0m-1-5h0m-3 11h0m-46-15h0m-22 1h0m-4 4h0m-2-8h0m-6 1h0m-1 18h0m-2-7h0m-6-16h0m-1 0h0m-9 11h0m-2 5h0m43 10h0m21 19h0m4-6h0m9 6h0m6-15h0m0-2h0m7 0h0m6 19h0m2-19h0m5 6h0m35-4h0m14-5h0m12 11h0m3 1h0m4-3h0m5-5h0m2 7h0m69-9h0m-85 31h0m-2 9h0m-2-12h0m-13 2h0m-35-3h0m-2 6h0m-6 1h0m0 1h0m-2-10h0m-6-2h0m-23-1h0m-1 3h0m-18-2h0m-56 34h0m9 11h0m5-11h0m1 5h0m2 0h0m22-2h0m0 0h0m1-7h0m6 10h0m33 3h0m10-21h0m41 5h0m28 18h0m69-5h0m13-14h0m17 18h0m10 5h0m-22 13h0m-5-15h0m-4 2h0m-92 5h0m-71-2h0m-16 5h0m-4 4h0m-1 2h0m-3-5h0m0-2h0m-15 11h0m-2-2h0m14 11h0" stroke="#3faa3f"/>
<path d="M2562 1199h0m26 14h0m13 9h0m-2 23h0m41 72h0m4 7h0m-2-2h0m-2 0h0m-10 20h0m-13 6h0m35 13h0m128 27h0m-164 9h0m65 13h0m16-7h0m15-1h0m18 3h0m43-6h0m0 8h0m2-9h0m3 0h0m5 0h0m1 10h0m1 3h0m0 3h0m11-2h0m1-2h0m10 0h0m6 0h0m0-9h0m3-7h0m5 20h0m0-10h0m3 5h0m2-1h0m274-9h0m18 5h0m-294 27h0m-38 5h0m-5-14h0m-4 10h0m-21-13h0m-6 4h0m-19 7h0m-34-10h0m-19 0h0m-66-3h0m-19 3h0m7 23h0m7 13h0m20-10h0m53 5h0m63-10h0m44 4h0m6 16h0m16-19h0m2 16h0m1 3h0m13-8h0m3-3h0m0-2h0m6-1h0m94 10h0m-9 22h0m-65-9h0m-21 4h0m-23-7h0m-79 18h0m-12-7h0m-56 6h0m-14-3h0m-39 5h0m-2 18h0m77 2h0m44-18h0m2 1h0m83 3h0m162-4h0m14 14h0m9 5h0m-60 21h0m-31-16h0m-4 12h0m-2-8h0m-206 5h0m-95 5h0m-7-1h0m-17-2h0m-5-3h0m0 6h0m-3-3h0m11 14h0m308 5h0m7 17h0m35-13h0m41 24h0m-37 3h0m-95-2h0m-206-9h0m0 21h0m-10-9h0m268 33h0m20-9h0m18-10h0m21 2h0m6 0h0m2 21h0m-21 11h0m-47-11h0m-1-3h0m-2 1h0m-7 13h0m-4-5h0m-4 0h0" stroke="#9c6b5e"/>
<path d="M2549 1215h0m10-7h0m36 32h0m-16 5h0m-15-5h0m-4-12h0m-14-4h0m9 32h0m4-4h0m11-3h0m-128 89h0m193 26h0m149 26h0m-135-9h0m-18 6h0m-67 26h0m144-12h0m29 1h0m36 13h0m54-5h0m197-13h0m20 7h0m43-3h0m14-2h0m4 2h0m11-3h0m5 3h0m-59 17h0m-235 8h0m-13 3h0m-6 9h0m-4 1h0m-12-7h0m-37-10h0m-1 4h0m-107-7h0m-43 1h0m-16 17h0m-16-11h0m391 38h0m-6 11h0m-3 6h0m-7-2h0m-40-3h0m-44 5h0m-3-1h0m-115-11h0m-2-2h0m-74 23h0m165-1h0m28 14h0m42 0h0m2-1h0m10-3h0m22-9h0m2-1h0m29 6h0m7 6h0m37 27h0m-8 5h0m-21-4h0m-32-12h0m-11 3h0m-3-5h0m-26 11h0m-38 2h0m-15 6h0m-44-9h0m-6-5h0m-1-1h0m-2 7h0m-4 4h0m-2-2h0m-2 0h0m-142-16h0m-8 13h0m-29 7h0m-76 15h0m95-3h0m52-3h0m118-4h0m3 17h0m22-11h0m1 12h0m0-4h0m14-13h0m8 20h0m24-2h0m26-7h0m8-11h0m31 17h0m4-4h0m5-7h0m-21 39h0m-33-16h0m-89-4h0m-15 5h0m-119 10h0m-62 4h0m-53 25h0m69-8h0m49-4h0m203 10h0m72-10h0m28-3h0m-76 27h0m-231-6h0m-19 8h0m-4-12h0m-41 9h0" stroke="#a47fc9"/>
<path d="M2645 1359h0m-34 22h0m130 20h0m48 9h0m8-4h0m-182 36h0m68 13h0m72-11h0m36 19h0m21-5h0m40 4h0m48-2h0m-7 19h0m-74-4h0m-219 28h0m83-6h0m137 25h0m-22 11h0m-218-12h0m242 26h0m51-8h0m-27 41h0m-15-20h0m12 27h0m24 4h0m17 17h0m-242 4h0m-5 10h0" stroke="#bcbd22"/>
<path d="M2881 1085h0m31 76h0m-309 22h0m2 22h0m116 40h0m-117-10h0m231 48h0m-77 28h0m-347 27h0m23 24h0m7-16h0m194 12h0m26 43h0m467-5h0m-55 22h0m-1 2h0m-10 8h0m-15-11h0m-145 59h0m42 58h0m-82-15h0m-234 37h0m80-11h0m296 9h0m-110 27h0m-211 7h0" stroke="#d4d4d4"/>
<path d="M2784 1067h0m5 10h0m9-21h0m6 12h0m0-9h0m3 4h0m12 2h0m117 35h0m-3-3h0m-13-4h0m-29 6h0m-99-4h0m-16 0h0m-86 8h0m-4-6h0m-3 7h0m8 4h0m113 17h0m145-16h0m3-2h0m-77 34h0m-44 5h0m-15-17h0m-11 7h0m-3 30h0m32-9h0m29-3h0m6 5h0m6-3h0m4 11h0m5-4h0m71 26h0m-182 27h0m71-6h0m28-10h0m6 18h0m1-9h0m3 12h0m10 1h0m51-3h0m7-10h0m5 12h0m18 7h0m-11 9h0m-9 5h0m-3-8h0m-8-8h0m-65 19h0m0-12h0m-104 6h0m-15 8h0m-11-22h0m-5 13h0m-8 17h0m90-7h0m128 0h0m0 47h0m-76-4h0m-2-3h0m-18 3h0m-38 1h0m-7 2h0m-71 21h0m1-15h0m63 5h0m4-6h0m6 14h0m4 1h0m6 0h0m11-4h0m1-11h0m3 18h0m0-5h0m24 3h0m9-6h0m5-6h0m7 5h0m9 1h0m4-3h0m17 11h0m4-7h0m17 9h0m8 0h0m3-16h0m1 10h0m7-16h0m10 13h0m2 9h0m1-3h0m14-12h0m0 25h0m-16 1h0m0 3h0m-3-1h0m-78-1h0m-13-4h0" stroke="#dc3a3f"/>
<path d="M2606 1186h0m-6-3h0m-4 12h0m-8-17h0m-14 4h0m-23 32h0m4-3h0m37-6h0m15 1h0m1 6h0m2-6h0m-20 24h0m-17 3h0m-1 12h0m-11-21h0m-1 2h0m-5 4h0m-11 0h0m29 18h0m5 14h0m12-5h0m50 62h0m-11 22h0m-7-19h0m-117 17h0m-3-6h0m-3 2h0m-1 0h0m-54 6h0m-21 17h0m161 7h0m28-1h0m2-3h0m41 26h0m-2-4h0m-53-12h0m-170 10h0m-4-4h0m3 15h0m185 11h0m15 12h0m3-2h0m3-18h0m2 13h0m19-3h0m63-12h0m66 21h0m37-10h0m253 11h0m1-2h0m7-1h0m4-7h0m29-4h0m8-6h0m-63 24h0m-16-1h0m-245-2h0m-21 7h0m-10-1h0m-23 0h0m-4 11h0m-62-14h0m-104 6h0m-159 33h0m191-1h0m127-10h0m9 5h0m51 1h0m9 9h0m10-18h0m2 8h0m1-6h0m9-4h0m46 16h0m9 3h0m1-2h0m33-1h0m28 4h0m24 11h0m0 14h0m-7-17h0m-13 9h0m-3-15h0m-59 15h0m-11-3h0m-12 2h0m-4-8h0m-14 16h0m-2-6h0m-6 1h0m0-7h0m-1-1h0m-2 0h0m-2-1h0m-3 0h0m-15-4h0m-9 18h0m-8-20h0m-142 14h0m-22-4h0m-16-3h0m-14 4h0m2 17h0m15 4h0m1-8h0m26 17h0m0-18h0m26 16h0m7-3h0m47-13h0m78 21h0m41-20h0m15 12h0m5-8h0m4 17h0m8-12h0m15 2h0m5 3h0m4 4h0m10-1h0m1-14h0m1-3h0m1 12h0m13-5h0m39 5h0m1-7h0m2-4h0m18 13h0m16-1h0m3 22h0m-15-2h0m-12-11h0m-23 23h0m-17-2h0m-3-10h0m0 12h0m-19-6h0m-4 6h0m0-8h0m-3-11h0m-3 10h0m-8-5h0m-4 1h0m-3-7h0m-5 3h0m-2 1h0m-8 16h0m-2-19h0m-17 0h0m-1 17h0m-3-13h0m-6 1h0m0-8h0m-3 5h0m-42 14h0m-12-10h0m-82 9h0m-44-14h0m-6-1h0m-79 17h0m-2-4h0m-8 4h0m-12-3h0m11 21h0m5-11h0m131 13h0m110 1h0m2 5h0m19-14h0m16-3h0m61 14h0m15-11h0m11 12h0m5-1h0m4-2h0m3 3h0m4-10h0m30 12h0m10-23h0m14 7h0m-41 19h0m-2 1h0m-2 18h0m-2-20h0m-1 12h0m-1-11h0m-2-1h0m-9 4h0m-7 16h0m-1-7h0m-1-13h0m-9 9h0m-4-9h0m-1 4h0m-15 8h0m-2-1h0m-5-3h0m-3 2h0m-23-2h0m-44 11h0m-126-14h0m-36 10h0m-3-8h0m-19 8h0m-8-3h0m-6-7h0m-24 7h0m-6 8h0m-3-21h0m-11 1h0m-8 19h0m-2-12h0m-6-8h0m-7 4h0m-17 3h0m-5 9h0m23 15h0m20 6h0m16-9h0m20 2h0m16 16h0m8-4h0m9-7h0m4 11h0m3-8h0m12-8h0m14 1h0m167-6h0m17 8h0m33 11h0m11 0h0m7-20h0m8 17h0m25-16h0m3-1h0m7 38h0m-22 3h0m-35-10h0m-8-5h0m-4-1h0m-6 10h0m-13-8h0m-6 0h0m-20 17h0m-198-8h0m-37-9h0m-2 5h0m-11-5h0m-2-2h0m-5 0h0m-7 3h0" stroke="#e77fc3"/>
<path d="M2771 1076h0m40 2h0m131 14h0m-1 2h0m-24-2h0m-4 4h0m-1-5h0m-1 8h0m-4-4h0m-9 6h0m-1-14h0m-5 8h0m0-1h0m-82 9h0m-4-22h0m-9 11h0m-28 0h0m-2 5h0m-1-1h0m-95 12h0m20-4h0m71 4h0m41 9h0m2-7h0m122 3h0m9 5h0m15-11h0m4 8h0m-37 18h0m-45 12h0m-28-1h0m-9 5h0m-1-9h0m-6-6h0m-2-5h0m-7 8h0m-5 12h0m-6-10h0m-24 11h0m-17 25h0m14-17h0m3-1h0m4 17h0m8-8h0m45-5h0m14-5h0m4 15h0m12-6h0m19-5h0m19 6h0m-35 11h0m-14 21h0m-4-2h0m-3-14h0m-17 11h0m-11-3h0m-22-8h0m0 5h0m-2 5h0m-1 2h0m-4-12h0m0 15h0m-2-3h0m-4 4h0m-16-8h0m0-2h0m-3-6h0m-14 39h0m16 2h0m3-19h0m15-4h0m1 0h0m9 1h0m24 9h0m21-7h0m8 18h0m5-16h0m5 17h0m3-10h0m25 11h0m44-4h0m40-13h0m15 32h0m-7-6h0m-8 12h0m-11-1h0m-10-7h0m0 3h0m-17-7h0m-41 15h0m-24-18h0m0 6h0m-11 1h0m-24 4h0m-7-12h0m-49 9h0m-15 8h0m-5-4h0m-35-6h0m8 16h0m30 16h0m19-15h0m38 0h0m34 8h0m4-11h0m0 11h0m28 0h0m3 9h0m8-11h0m63-2h0m-13 39h0m-80-4h0m-15-5h0m-1-1h0m-29 6h0m-4-8h0m-9 9h0m-4-9h0m-67-9h0m1 29h0m20 11h0m5-15h0m54-1h0m11 16h0m2-3h0m2-7h0m0-8h0m1 19h0m21 0h0m1 0h0m21-2h0m9-11h0m14 17h0m8-8h0m14 3h0m7 3h0m18-6h0m12-11h0m1-1h0m0 19h0m1-10h0m4-2h0m16 6h0m3-11h0m1 14h0m2-10h0m6 8h0m1 6h0m-17 6h0m-18-5h0m-2 12h0m-28-7h0m-48 4h0m-28 0h0m-4-6h0m-1 7h0m-1 6h0m-14-16h0m-7 13h0m-6-7h0m-49 11h0m-22-16h0m-32 0h0m-2 9h0m-3-1h0m-226 4h0m-2 6h0m-11 0h0m-28-10h0m0 14h0m-13-14h0m-26 8h0m-1-5h0m-2-1h0m-1 5h0m-2-11h0m-5 20h0m2 7h0m23-7h0m2 11h0m8 4h0m6-14h0m4 5h0m6 2h0m10-7h0m275 2h0m16-3h0m-300 30h0m-11-2h0m-5 8h0m-3-4h0m-7-7h0m-3 7h0m-1-1h0m1 18h0m3 3h0m6-2h0m607 5h0m9 12h0m1 1h0m46-14h0m9-2h0m11 3h0m4-2h0m-704 52h0m24 2h0" stroke="#ff8c26"/>
<path d="M2783 1073h0m30 29h0m-4 1h0m-13-4h0m-6-10h0m-5-7h0m-19 11h0m24 13h0m10 16h0m15-6h0m7 9h0m123-18h0m1-1h0m2 7h0m13-4h0m-18 35h0m-18-6h0m-1 12h0m-2-4h0m-2-3h0m-7 6h0m-28-8h0m-44 0h0m-7 0h0m-4-10h0m-1 20h0m-12-1h0m-7-2h0m-28-3h0m-4 15h0m31 2h0m2-5h0m15-5h0m39 0h0m9 9h0m23-3h0m-33 29h0m-9 11h0m-5-18h0m-9 15h0m-50 1h0m-12 5h0m23 19h0m13-3h0m62-7h0m18 17h0m-48 11h0m-18-11h0m-10 11h0m-60 0h0m-4 1h0m-7 4h0m-21 22h0m27-8h0m10 7h0m64-6h0m52 18h0m-9 4h0m-3-6h0m-32 7h0m-20 1h0m-81 29h0m10-3h0m77-6h0m63 0h0m13 0h0m52 6h0m25 26h0m-208-10h0m-11 10h0m-30-5h0m0-4h0m-11 4h0m-270 6h0m-13-9h0m1 27h0m7 13h0m-11 33h0m652 4h0m19-7h0m1-2h0m-41 32h0m-638 19h0m10 6h0m451 25h0m-30 16h0m-13 21h0m-34 10h0m67 39h0m-35 14h0" stroke="#ffdf2a"/>
<path d="M2786 1090h0m-6-3h0m89 54h0m-281 37h0m0 10h0m-1-1h0m-9-9h0m-15 14h0m0-3h0m-2 0h0m-19 14h0m1 4h0m5 13h0m8-14h0m3 6h0m15 11h0m8-15h0m16 9h0m13-1h0m218 17h0m-2-3h0m-33 7h0m-66 9h0m-117-19h0m-10 13h0m-10-14h0m-3 19h0m-2-11h0m-3-10h0m-4 19h0m-11-13h0m-3 15h0m-9-21h0m-6 26h0m5 7h0m19 6h0m3-13h0m5 5h0m1-3h0m6 3h0m159 14h0m12-16h0m20 3h0m99 26h0m-30 12h0m-103 1h0m-127 21h0m95-7h0m68 7h0m44 8h0m-17-3h0m-30 0h0m-5 11h0m-9-9h0m-4 3h0m-8 10h0m-4-1h0m-3 0h0m-1-6h0m-9-6h0m-12 17h0m-3-6h0m-99 3h0m-17 0h0m-10 28h0m42-3h0m14-3h0m110-15h0m-121 44h0m-2-8h0m-8 4h0m-13-8h0m-27 18h0m21 6h0m21-1h0m14 0h0m8 10h0m19 1h0m5-2h0m51 7h0m11-12h0m56 17h0m-11 11h0m-26-9h0m-5 9h0m-10-7h0m-2 0h0m-16 4h0m-6-4h0m-18 8h0m-59-4h0m-2-6h0m-8 4h0m-28-6h0m-1 15h0m-24-14h0m-2-1h0m-154 38h0m1-6h0m2 1h0m177 8h0m1-9h0m134-5h0m2 4h0m1-1h0m45-2h0m9 12h0m121 1h0m61 24h0m-4-1h0m-5-1h0m-2-1h0m-3-14h0m-97 16h0m-5 3h0m-16-21h0m-10 4h0m-5 10h0m-79-5h0m-188 23h0m4 6h0m1 3h0m42-18h0m9 19h0m39-13h0m2 7h0m7-1h0m5-1h0m20 1h0m171-8h0m8 13h0m106-4h0m4 8h0m9-19h0m10 35h0m-138 8h0m-161-9h0m-13 4h0m-16 3h0m-30 2h0m-26-6h0m-64 7h0m-13 14h0m6-7h0m11 16h0m13-4h0m14-18h0m13 5h0m1-1h0m1 2h0m17 13h0m8-1h0m17-18h0m27 19h0m17-5h0m145-2h0m3 9h0m154-15h0m-18 20h0m-22 17h0m-7-16h0m-59-3h0m-26 18h0m-175 0h0m0-5h0m-1-1h0m-6 0h0m-49-11h0m0 5h0m-3 8h0m-2-5h0m-18 1h0m-1 2h0m-38-1h0m-10 11h0m-1-5h0m3 13h0m20 7h0m29-1h0m0 1h0m5 2h0m5-4h0m4-2h0m1-1h0m0-6h0m2 3h0m16 11h0m4 0h0m10 3h0m4 1h0m1-4h0m9 2h0m3-17h0m5 16h0m9 2h0m172 2h0m1-14h0m3-1h0m4-2h0m10 15h0m26-5h0m27-7h0m-31 23h0m-14 0h0m-207-5h0m-2 9h0m0-8h0m-9-1h0m-46 20h0m0-16h0m-4 8h0m-25-2h0" stroke="#1c1c8c"/>
<path d="M2948 1099h0m-6-3h0m-7-1h0m-136-7h0m-28 15h0m-10-13h0m2 16h0m26 15h0m148-14h0m5 3h0m-47 35h0m-22 6h0m-2 0h0m-36-5h0m-1-2h0m-28-9h0m-8-1h0m-2 39h0m1-10h0m55 6h0m11-10h0m92 31h0m-171 8h0m-32 20h0m21-8h0m42 4h0m7 4h0m3-16h0m4 21h0m1-1h0m7-9h0m20-13h0m7 14h0m16 1h0m-39 25h0m-92-10h0m-5-3h0m-5 2h0m-2 7h0m-10 16h0m19 16h0m4-12h0m21-1h0m20 12h0m3-8h0m34 6h0m41 5h0m0-4h0m11 1h0m1-15h0m6 5h0m18-3h0m-92 37h0m-15-9h0m103 31h0m57-6h0m4-4h0m9 9h0m4-14h0m1 1h0m2 15h0m1-2h0m2-3h0m-70 22h0m-13-7h0m-129 0h0m-361 4h0" stroke="#1f8fd0"/>
<path d="M2762 1072h0m15-8h0m11 13h0m20-1h0m139 19h0m-7 4h0m-1-1h0m-9 2h0m-15 0h0m-6-11h0m-4 4h0m-4-2h0m-10 1h0m-1-1h0m-3-1h0m-4 4h0m-52-10h0m-8 7h0m-4 2h0m-13 2h0m-18-9h0m-2 0h0m-28-6h0m-65 21h0m-25-5h0m4 17h0m1-2h0m3-4h0m5 0h0m3 0h0m102 1h0m26 1h0m3 5h0m2-3h0m8 2h0m5 9h0m103 3h0m1-16h0m7 14h0m6 0h0m10-18h0m3 9h0m4 4h0m-28 13h0m-4-1h0m-17 17h0m-41 0h0m-8 3h0m-11-3h0m-22 0h0m-7-13h0m-2 13h0m-1-5h0m-12-12h0m-11 17h0m-28 21h0m18-6h0m3 7h0m17-1h0m6-14h0m3 0h0m2-1h0m14 8h0m1-8h0m8 8h0m5 7h0m0-2h0m7-12h0m3 3h0m19-3h0m15 6h0m8-6h0m2 12h0m5 1h0m6 2h0m14-16h0m-39 32h0m-16 3h0m-5 1h0m-2 7h0m-10-19h0m-54 4h0m-10 1h0m0-3h0m-8 17h0m48 5h0m13 8h0m34 5h0m67-8h0m45 29h0m-26-5h0m-1 4h0m-4 3h0m-22 1h0m-104-2h0m-70 9h0m-11-8h0m-6-8h0m-8 10h0m-3 6h0m-10-12h0m26 32h0m4 3h0m5-7h0m21 1h0m5 3h0m1 0h0m17-5h0m3-8h0m20 2h0m32 3h0m17-9h0m1 12h0m2-7h0m3 10h0m3-10h0m2 6h0m78-6h0m5 2h0m-83 35h0m0-17h0m-2 13h0m-2-2h0m-1-2h0m-48 6h0m-10-13h0m-1 12h0m-2 3h0m-3 4h0m-1-15h0m-1 2h0m-8 10h0m-46-13h0m-6 2h0m-1-7h0m-17 25h0m12 18h0m5 2h0m2-2h0m23-1h0m24-19h0m10 7h0m0 10h0m2-5h0m5 8h0m13-9h0m56-9h0m18 21h0m20-2h0m13-5h0m5-6h0m2 7h0m5 1h0m5-3h0m11-6h0m-12 24h0m-19-5h0m-11 1h0m-17-3h0m-57 0h0m-8 10h0m-3-8h0m-52-2h0m-12 8h0m-3-5h0m-3 9h0m-4-11h0m-19 11h0m-3-1h0m-14 10h0m-6-1h0m-4-8h0m14 10h0m41 2h0" stroke="#3faa3f"/>
<path d="M2653 1334h0m-30-2h0m-28 33h0m21-18h0m23 22h0m-9 18h0m-18 22h0m26 4h0m26-4h0m4-2h0m0-2h0m3-7h0m1-4h0m10 21h0m2-1h0m9-19h0m23 5h0m3-3h0m1 3h0m7 5h0m1-3h0m4 13h0m61-11h0m9-3h0m10 0h0m5 6h0m4 7h0m281-12h0m8-8h0m-44 35h0m-233-3h0m-14 11h0m-4-17h0m-18 11h0m-16-14h0m-10 9h0m-3 0h0m-14-5h0m-5 6h0m-7 1h0m-5 10h0m-50-21h0m-56 4h0m-5 7h0m-7 0h0m-15 9h0m-7-8h0m-1-10h0m-2 18h0m47 13h0m150-7h0m12-3h0m6 14h0m5-3h0m2 4h0m0-4h0m9 7h0m18-4h0m3 1h0m53 1h0m-48 24h0m-19-13h0m-87 10h0m-15 9h0m-13-5h0m-4 4h0m-138 13h0m19 12h0m50-1h0m226-16h0m31 2h0m23 3h0m24 3h0m52 9h0m10 22h0m-72-4h0m-69 7h0m-62-22h0m-219 5h0m-16 4h0m-9-1h0m-17 20h0m258 7h0m20 3h0m15-7h0m96 14h0m3-12h0m39-1h0m16-6h0m14 12h0m-18 30h0m-19-20h0m-71 10h0m-14-3h0m-181 3h0m-31 12h0m-48-18h0m-79 2h0m-2 11h0m86 10h0m246 19h0m15 0h0m41-14h0m2 0h0m21 13h0m10 0h0m3-9h0m6 15h0m-94 6h0m-2 3h0m-1-8h0m-9 6h0m-3-10h0" stroke="#9c6b5e"/>
<path d="M2604 1184h0m-8-1h0m-8 9h0m-25 0h0m9 26h0m28 16h0m-15 9h0m-6 1h0m-11 8h0m58 58h0m17 12h0m-209 41h0m1-10h0m3-9h0m174 4h0m-9 30h0m-176 0h0m183 36h0m37-10h0m21-7h0m6 1h0m4-1h0m47 7h0m25-1h0m43-4h0m246-6h0m36 14h0m47-4h0m-49 14h0m-259 20h0m-5-17h0m-1 12h0m-22-2h0m-19-1h0m-21 2h0m-102 16h0m103 5h0m2 6h0m18-11h0m35 15h0m15-22h0m77 13h0m22 2h0m27 2h0m23 15h0m-13 15h0m-1-3h0m0-1h0m-119-7h0m-26 7h0m-131 4h0m-80 24h0m5-15h0m61 13h0m140-21h0m56 20h0m81-14h0m72 30h0m-4 9h0m-4-3h0m-30-4h0m-15-12h0m-88-2h0m-42 5h0m-27 14h0m-22 2h0m-136-21h0m-44 7h0m-8 7h0m-20-1h0m-13 22h0m79-7h0m187 3h0m30-6h0m2 0h0m3 6h0m46 15h0m30-5h0m8 4h0m11-4h0m67-7h0m-60 28h0m-8-8h0m-14-5h0m-18 9h0m-11 5h0m-93-15h0m-125 15h0m-141 9h0m4 17h0m38-4h0m20 8h0m44 0h0m24-4h0m184-3h0m11 7h0m35-1h0m56-8h0m16 8h0m-59 19h0m-19-14h0m-4 12h0m-14-2h0m-266-4h0m22 20h0" stroke="#a47fc9"/>
<path d="M2629 1374h0m-2-4h0m-47 16h0m95 23h0m4 1h0m104-10h0m19 12h0m1-9h0m3 4h0m-53 21h0m-7 5h0m-21-17h0m-56 35h0m142-2h0m92 26h0m-157-5h0m65 40h0m27-11h0m-14 53h0m194 1h0m-65 8h0m-22 0h0m-27 21h0m-14-2h0m2 7h0m3-1h0m26 29h0m-61 2h0m-224 3h0m-26-7h0" stroke="#bcbd22"/>
<path d="M2906 1161h0m3-6h0m4 12h0m6-1h0m-334 33h0m-32 13h0m32-4h0m-27 26h0m-9 4h0m3 15h0m-119 92h0m1 21h0m168-10h0m426 35h0m-581-18h0m-39 13h0m676 17h0m31-6h0m-367 52h0m145 51h0m57 37h0m-12 24h0" stroke="#d4d4d4"/>
<path d="M2782 1071h0m6-2h0m8 8h0m3-9h0m5-2h0m7-3h0m139 40h0m-15-8h0m-2 2h0m-9 1h0m-3-6h0m-21-7h0m-16 12h0m-65-5h0m-16-4h0m-29-6h0m-89 19h0m-2-3h0m-13 18h0m127 1h0m4 2h0m10-15h0m128 1h0m-42 44h0m-22-3h0m-4 0h0m-1-6h0m-19 10h0m-28-18h0m-10 2h0m-23 17h0m68 10h0m5 13h0m5-6h0m3-16h0m13 3h0m70 34h0m-122 4h0m-30-15h0m0 10h0m-3 3h0m-33-13h0m-21 45h0m30-18h0m6 1h0m13-6h0m17 8h0m7 9h0m86-5h0m43 5h0m0 2h0m4-15h0m22 26h0m-5-5h0m-5 14h0m-11 1h0m0 6h0m-7-10h0m-5-12h0m-202 4h0m0 2h0m8 30h0m15-2h0m28 3h0m182-4h0m-100 34h0m-17 0h0m-17-6h0m0 0h0m-15 2h0m-3 4h0m-66 24h0m53-5h0m14-12h0m1 1h0m34-3h0m7 13h0m3-7h0m11 11h0m4-10h0m3 9h0m23-10h0m5 17h0m14-1h0m1 1h0m21-13h0m3 12h0m1-13h0m8-1h0m5 14h0m0-14h0m4-7h0m1 11h0m3 18h0m-10 6h0m-1 6h0m-1-12h0m-2-5h0m-72 1h0m-15 3h0m-1-1h0m-3-2h0m-7 1h0m-6-2h0m-16 5h0m-10-2h0m-43 12h0m-28-15h0m-41 9h0m-8-9h0" stroke="#dc3a3f"/>
<path d="M2587 1172h0m11 9h0m-3 12h0m-35 20h0m2-9h0m13-1h0m14 8h0m12 19h0m-6 13h0m-28 3h0m-9-22h0m-2 18h0m-1-16h0m16 30h0m7 5h0m70 55h0m4 9h0m-3 5h0m-150-1h0m-6 0h0m-1 1h0m-60 13h0m-37-3h0m2 10h0m12 0h0m2 4h0m10-3h0m7 10h0m20 2h0m154-11h0m11-8h0m2 4h0m37 16h0m463 23h0m-400 0h0m-8 2h0m-16-3h0m-109-13h0m-153 5h0m-2 22h0m153 13h0m9-1h0m63-9h0m24 0h0m8-4h0m11-6h0m38 8h0m26 11h0m274-20h0m8 21h0m44-11h0m3 6h0m7-16h0m1 6h0m8 0h0m8-2h0m4 1h0m-37 26h0m-8-4h0m-5 3h0m-170 15h0m-84-8h0m-21-1h0m-5 0h0m-2 4h0m-1 1h0m-21-4h0m-2-1h0m-24 4h0m-93-14h0m-12 13h0m-58-11h0m-3-4h0m-1 6h0m-140 26h0m162-4h0m21 8h0m27-2h0m28 2h0m79 9h0m16-7h0m4-11h0m23-1h0m2 2h0m1 11h0m3 0h0m0-15h0m4 2h0m32 7h0m1 2h0m18 4h0m17-7h0m14 15h0m8-13h0m13 3h0m27-2h0m15 25h0m-3-6h0m-17-6h0m-3 14h0m-6 9h0m-13-12h0m-5 1h0m-22 6h0m-3-4h0m-7-6h0m0 5h0m-3 9h0m-5-18h0m-6 8h0m-1-8h0m-11 5h0m-6 2h0m-2 12h0m-3-8h0m-5-7h0m-1 15h0m-5-12h0m-69-11h0m-19 23h0m-80-1h0m-31 10h0m168 4h0m7 10h0m2 1h0m8-1h0m3-3h0m32-4h0m0-7h0m8-2h0m9 7h0m12-9h0m3 4h0m13 13h0m12-16h0m0 8h0m2 2h0m8 8h0m0-4h0m7-6h0m45-8h0m38 41h0m0-8h0m-27 5h0m-1-18h0m-27 20h0m-5-9h0m0-10h0m-21 20h0m-2-22h0m-8 3h0m-1 3h0m-3 0h0m-6-5h0m-4 7h0m-1 15h0m-3-6h0m-1-6h0m-2 9h0m-19-19h0m-9 16h0m-5 4h0m-11-3h0m-15-6h0m-11 4h0m0-1h0m-111 2h0m-1-9h0m-2-8h0m-3 2h0m-128 11h0m-22 13h0m23 18h0m28-13h0m14 10h0m9 6h0m6-6h0m80-13h0m81 3h0m9-6h0m17 19h0m15-12h0m12 5h0m3-5h0m4-5h0m9 4h0m3 4h0m0 4h0m18-10h0m4 11h0m12-8h0m8-3h0m27-2h0m9 13h0m0-3h0m3-1h0m5 8h0m3-15h0m30 3h0m0-4h0m18 3h0m12-4h0m2 22h0m-8 16h0m-3-1h0m-1 4h0m-4-14h0m-11 14h0m-6-2h0m-1-1h0m-4-15h0m0 21h0m0-17h0m-1-4h0m-1 16h0m-12-2h0m-19 4h0m-2-20h0m-39 16h0m-17-3h0m-17 10h0m-6-19h0m-26 8h0m-10-8h0m-116 1h0m-4 1h0m-52 7h0m-5-10h0m-2 20h0m-12-19h0m-56 18h0m-15-14h0m-5 0h0m11 38h0m18 0h0m12-20h0m28 0h0m1 18h0m24 1h0m206-17h0m29-4h0m17 20h0m14-5h0m13-2h0m3-2h0m1 11h0m8-12h0m8 11h0m14-10h0m3 8h0m1-14h0m3 9h0m0 1h0m12-3h0m9-3h0m-29 22h0m-52 6h0m-4-2h0m-4-3h0m-7-1h0m-227-1h0m-18 15h0m-14-16h0m-25 5h0m-4 10h0m-3-14h0m-11 3h0m-2-9h0" stroke="#e77fc3"/>
<path d="M2810 1069h0m130 25h0m-11 8h0m-25-12h0m-7 12h0m-4-7h0m-2-4h0m-96 11h0m-2-20h0m0 2h0m-29 14h0m-90 5h0m-4 13h0m106 3h0m54 7h0m99-4h0m6-9h0m19-1h0m1-3h0m9 1h0m-21 30h0m-5 7h0m-2 2h0m-56-3h0m-6 4h0m-23-1h0m-1-4h0m-18-8h0m-14-2h0m-9 4h0m-12 10h0m-21 24h0m8-14h0m26-7h0m10 15h0m18 4h0m3 1h0m14 1h0m16-16h0m7 9h0m24-11h0m33-2h0m-51 29h0m-4 17h0m-4-11h0m-3 6h0m-3 5h0m-7 0h0m-1-1h0m-4-16h0m-2-5h0m-10 15h0m-35-13h0m-15 13h0m-2-12h0m-11-3h0m-2 2h0m-4 20h0m-4-22h0m-9 16h0m-24 25h0m35-17h0m6 0h0m7-1h0m1 9h0m3-7h0m36 19h0m44-13h0m2 10h0m4 4h0m2-7h0m15-6h0m8-9h0m38 15h0m50 22h0m-14-10h0m-6 3h0m-6 3h0m-1 1h0m-1 9h0m-2 4h0m-2-17h0m-6 11h0m-8-1h0m-6-8h0m-69 2h0m-5 11h0m-20-9h0m-2 3h0m-5-10h0m-10 6h0m-2 5h0m0-8h0m-11-6h0m-57 3h0m-32 10h0m-5 21h0m36 7h0m4-7h0m9-7h0m18 5h0m2-3h0m8 12h0m1-11h0m6-1h0m8-2h0m2 2h0m0-2h0m9 1h0m4 10h0m4-11h0m26-1h0m4 10h0m0-7h0m7 5h0m15 1h0m0 3h0m10-15h0m1 6h0m88 0h0m-104 20h0m-9-1h0m-26 3h0m0 5h0m-8 5h0m-8-14h0m-14 7h0m-50-6h0m-28 28h0m0 13h0m5-5h0m25-7h0m1 11h0m2-3h0m1 8h0m6-3h0m39-20h0m21 17h0m17 6h0m3-1h0m3-1h0m13-8h0m59 7h0m9-2h0m6 3h0m2-14h0m1 6h0m8 7h0m6-13h0m20 8h0m4 2h0m6 1h0m4 5h0m-14 8h0m-21-5h0m-32 3h0m-38-3h0m-20 5h0m-5-2h0m-6 3h0m-15 6h0m0-13h0m-3 5h0m-20 2h0m-1-8h0m-32 7h0m-5 0h0m-1-2h0m-18 18h0m-5 0h0m-24-4h0m-12-16h0m-5 0h0m-1-3h0m-213 12h0m-4 7h0m-53-10h0m-1 11h0m-2-1h0m-2-1h0m-16-8h0m-10 6h0m-10-8h0m-3 4h0m-5 7h0m-10 3h0m3 8h0m13 12h0m8-4h0m3-7h0m3 7h0m18-12h0m3 15h0m4-10h0m1 9h0m2-5h0m5-11h0m286 0h0m5 2h0m11 6h0m277 35h0m-15 4h0m-568-14h0m-4 7h0m-12 0h0m-15-6h0m-1-1h0m7 21h0m2 7h0m7-10h0m8 5h0m602 13h0m30 8h0m-6-4h0m-12 2h0m-635 32h0m4 6h0" stroke="#ff8c26"/>
<path d="M2784 1079h0m0-4h0m1-19h0m158 42h0m-30-5h0m-89 3h0m-9 7h0m-5-1h0m-4 1h0m-2-1h0m0-7h0m-15-2h0m-13-13h0m44 46h0m1-22h0m102 5h0m-94 38h0m-4 3h0m-12-9h0m-24 13h0m0 11h0m2-4h0m16-5h0m5 5h0m0-9h0m15 2h0m6 20h0m40-6h0m2 22h0m-19-14h0m-7 3h0m-42 8h0m-3-5h0m-7-3h0m-8 19h0m-15-2h0m-5 5h0m6 0h0m3 15h0m88-16h0m26 11h0m1 9h0m2-3h0m-128 27h0m-8-3h0m-1-2h0m-12-15h0m-14 1h0m-3 30h0m23 12h0m11-4h0m33-4h0m100-5h0m64 3h0m-91 23h0m-2-6h0m-42 15h0m-6-10h0m-62 39h0m83-21h0m10 8h0m53 0h0m18 14h0m48-6h0m-25 16h0m-111-3h0m-59-3h0m-5 6h0m-7 11h0m-2-6h0m-255-8h0m-61 16h0m-37-6h0m11 18h0m9-1h0m13-8h0m6 34h0m-32 22h0m29-5h0m597 11h0m8 6h0m-188 48h0m56 134h0" stroke="#ffdf2a"/>
</g>
<circle cx="1591.3" cy="529.2" r="10" fill="#d9d9d9"/>
<text x="1603.3" y="537.4" font-size="23" textLength="98.1" lengthAdjust="spacingAndGlyphs">Unknown</text>
<circle cx="1591.3" cy="555" r="10" fill="#c9c445"/>
<text x="1603.3" y="563.2" font-size="23" textLength="70.3" lengthAdjust="spacingAndGlyphs"><tspan font-family="NanumGothic, sans-serif">→</tspan>STR</text>
<circle cx="1591.3" cy="580.7" r="10" fill="#a886cc"/>
<text x="1603.3" y="588.9" font-size="23" textLength="74.2" lengthAdjust="spacingAndGlyphs"><tspan font-family="NanumGothic, sans-serif">→</tspan>MOp</text>
<circle cx="1591.3" cy="612.4" r="10" fill="#a1776b"/>
<text x="1603.3" y="620.6" font-size="23" textLength="67.7" lengthAdjust="spacingAndGlyphs"><tspan font-family="NanumGothic, sans-serif">→</tspan>SSp</text>
<circle cx="1591.3" cy="638.1" r="10" fill="#e88cc8"/>
<text x="1603.3" y="646.3" font-size="23" textLength="71.6" lengthAdjust="spacingAndGlyphs"><tspan font-family="NanumGothic, sans-serif">→</tspan>ACA</text>
<circle cx="1591.3" cy="663.9" r="10" fill="#32329a"/>
<text x="1603.3" y="672.1" font-size="23" textLength="74.2" lengthAdjust="spacingAndGlyphs"><tspan font-family="NanumGothic, sans-serif">→</tspan>VISp</text>
<circle cx="1591.3" cy="692.4" r="10" fill="#2f9ad4"/>
<text x="1603.3" y="700.6" font-size="23" textLength="76.9" lengthAdjust="spacingAndGlyphs"><tspan font-family="NanumGothic, sans-serif">→</tspan>Pons</text>
<circle cx="1591.3" cy="718.1" r="10" fill="#54ae54"/>
<text x="1603.3" y="726.3" font-size="23" textLength="55.9" lengthAdjust="spacingAndGlyphs"><tspan font-family="NanumGothic, sans-serif">→</tspan>SC</text>
<circle cx="1591.3" cy="744.3" r="10" fill="#fc9338"/>
<text x="1603.3" y="752.5" font-size="23" textLength="54.6" lengthAdjust="spacingAndGlyphs"><tspan font-family="NanumGothic, sans-serif">→</tspan>TH</text>
<circle cx="1591.3" cy="771.6" r="10" fill="#e05055"/>
<text x="1603.3" y="779.8" font-size="23" textLength="67.3" lengthAdjust="spacingAndGlyphs"><tspan font-family="NanumGothic, sans-serif">→</tspan>VTA</text>
<circle cx="1591.3" cy="797.7" r="10" fill="#fde23c"/>
<text x="1603.3" y="805.9" font-size="23" textLength="58.5" lengthAdjust="spacingAndGlyphs"><tspan font-family="NanumGothic, sans-serif">→</tspan>MY</text>
<text x="1706.5" y="462.6" font-size="30" class="b" textLength="20.5" lengthAdjust="spacingAndGlyphs">e</text>
<line x1="1819.6" y1="462.2" x2="1819.6" y2="601.1" stroke="#000" stroke-width="2.3"/>
<line x1="1818.5" y1="600" x2="2116.5" y2="600" stroke="#000" stroke-width="2.3"/>
<line x1="1814.6" y1="468.6" x2="1819.6" y2="468.6" stroke="#000" stroke-width="2"/>
<line x1="1814.6" y1="501.4" x2="1819.6" y2="501.4" stroke="#000" stroke-width="2"/>
<line x1="1814.6" y1="533.8" x2="1819.6" y2="533.8" stroke="#000" stroke-width="2"/>
<line x1="1814.6" y1="566.5" x2="1819.6" y2="566.5" stroke="#000" stroke-width="2"/>
<line x1="1814.6" y1="598.4" x2="1819.6" y2="598.4" stroke="#000" stroke-width="2"/>
<line x1="1856.3" y1="600" x2="1856.3" y2="605.5" stroke="#000" stroke-width="2"/>
<line x1="1930.2" y1="600" x2="1930.2" y2="605.5" stroke="#000" stroke-width="2"/>
<line x1="2004.1" y1="600" x2="2004.1" y2="605.5" stroke="#000" stroke-width="2"/>
<line x1="2077.8" y1="600" x2="2077.8" y2="605.5" stroke="#000" stroke-width="2"/>
<text x="1779.8" y="474.1" font-size="23" textLength="31.7" lengthAdjust="spacingAndGlyphs">1.0</text>
<text x="1778.8" y="539.3" font-size="23" textLength="32.7" lengthAdjust="spacingAndGlyphs">0.5</text>
<text x="1797.8" y="619.6" font-size="23" textLength="14.5" lengthAdjust="spacingAndGlyphs">0</text>
<text transform="translate(1736,526.5) rotate(-90)" x="-58.9" y="0" font-size="23.5" textLength="117.8" lengthAdjust="spacingAndGlyphs">Neighbour</text>
<text transform="translate(1766.5,531.5) rotate(-90)" x="-61.9" y="0" font-size="23.5" textLength="123.8" lengthAdjust="spacingAndGlyphs">enrichment</text>
<line x1="1833.6" y1="468.6" x2="1879.6" y2="468.6" stroke="#000" stroke-width="2.3"/>
<line x1="1930.4" y1="468.6" x2="1930.4" y2="524.7" stroke="#000" stroke-width="2.3"/>
<line x1="1918.4" y1="468.6" x2="1942.4" y2="468.6" stroke="#000" stroke-width="2.3"/>
<line x1="1918.4" y1="524.7" x2="1942.4" y2="524.7" stroke="#000" stroke-width="2.3"/>
<rect x="1908.2" y="469.7" width="44.4" height="22.2" fill="#fff" stroke="#000" stroke-width="2.3"/>
<line x1="1908.2" y1="475.4" x2="1952.6" y2="475.4" stroke="#000" stroke-width="2.3"/>
<line x1="2004.1" y1="468.6" x2="2004.1" y2="561.8" stroke="#000" stroke-width="2.3"/>
<line x1="1992.3" y1="468.6" x2="2015.9" y2="468.6" stroke="#000" stroke-width="2.3"/>
<line x1="1992.3" y1="561.8" x2="2015.9" y2="561.8" stroke="#000" stroke-width="2.3"/>
<rect x="1981.8" y="484.5" width="44.6" height="31.3" fill="#fff" stroke="#000" stroke-width="2.3"/>
<line x1="1981.8" y1="495.7" x2="2026.4" y2="495.7" stroke="#000" stroke-width="2.3"/>
<line x1="2078" y1="472.8" x2="2078" y2="594" stroke="#000" stroke-width="2.3"/>
<line x1="2066.3" y1="472.8" x2="2089.7" y2="472.8" stroke="#000" stroke-width="2.3"/>
<line x1="2066.3" y1="594" x2="2089.7" y2="594" stroke="#000" stroke-width="2.3"/>
<rect x="2055.6" y="514.8" width="44.8" height="32.6" fill="#fff" stroke="#000" stroke-width="2.3"/>
<line x1="2055.6" y1="530.7" x2="2100.4" y2="530.7" stroke="#000" stroke-width="2.3"/>
<text transform="translate(1859.4,619.5) rotate(-30)" x="-97.4" y="0" font-size="23.5" textLength="97.4" lengthAdjust="spacingAndGlyphs">Subclass</text>
<text transform="translate(1933.5,619.5) rotate(-30)" x="-76.4" y="0" font-size="23.5" textLength="76.4" lengthAdjust="spacingAndGlyphs">Source</text>
<text transform="translate(2008.5,619.5) rotate(-30)" x="-70.4" y="0" font-size="23.5" textLength="70.4" lengthAdjust="spacingAndGlyphs">Target</text>
<text transform="translate(2084.8,619.5) rotate(-30)" x="-100.4" y="0" font-size="23.5" textLength="100.4" lengthAdjust="spacingAndGlyphs">Replicate</text>
<text x="1708" y="708.7" font-size="30" class="b" textLength="21" lengthAdjust="spacingAndGlyphs">g</text>
<line x1="1821.3" y1="682.2" x2="1821.3" y2="803.4" stroke="#000" stroke-width="2.3"/>
<line x1="1820.2" y1="802.3" x2="2118" y2="802.3" stroke="#000" stroke-width="2.3"/>
<line x1="1816.3" y1="689" x2="1821.3" y2="689" stroke="#000" stroke-width="2"/>
<line x1="1816.3" y1="743.2" x2="1821.3" y2="743.2" stroke="#000" stroke-width="2"/>
<line x1="1816.3" y1="797.7" x2="1821.3" y2="797.7" stroke="#000" stroke-width="2"/>
<line x1="1894.8" y1="802.3" x2="1894.8" y2="807.8" stroke="#000" stroke-width="2"/>
<line x1="2042.7" y1="802.3" x2="2042.7" y2="807.8" stroke="#000" stroke-width="2"/>
<text x="1781.8" y="698" font-size="23" textLength="31.3" lengthAdjust="spacingAndGlyphs">1.0</text>
<text x="1780.8" y="752.1" font-size="23" textLength="32.3" lengthAdjust="spacingAndGlyphs">0.8</text>
<text x="1780.8" y="806.3" font-size="23" textLength="32.3" lengthAdjust="spacingAndGlyphs">0.6</text>
<text transform="translate(1767,746.3) rotate(-90)" x="-44.1" y="0" font-size="23.5" textLength="88.1" lengthAdjust="spacingAndGlyphs">AUROC</text>
<line x1="1873.2" y1="688.8" x2="1873.2" y2="704.9" stroke="#000" stroke-width="2.3"/>
<line x1="1861.5" y1="688.8" x2="1884.9" y2="688.8" stroke="#000" stroke-width="2.3"/>
<line x1="1861.5" y1="704.9" x2="1884.9" y2="704.9" stroke="#000" stroke-width="2.3"/>
<rect x="1850.9" y="689.7" width="44.6" height="7.4" fill="#2e78ad" stroke="#000" stroke-width="2.3"/>
<line x1="1850.9" y1="691.8" x2="1895.5" y2="691.8" stroke="#000" stroke-width="2.3"/>
<line x1="1917.6" y1="688.4" x2="1917.6" y2="693.9" stroke="#000" stroke-width="2.3"/>
<line x1="1906.1" y1="688.4" x2="1929.1" y2="688.4" stroke="#000" stroke-width="2.3"/>
<line x1="1906.1" y1="693.9" x2="1929.1" y2="693.9" stroke="#000" stroke-width="2.3"/>
<rect x="1895.3" y="688.6" width="44.6" height="3.2" fill="#000" stroke="#000" stroke-width="2.3"/>
<line x1="1895.3" y1="690" x2="1939.9" y2="690" stroke="#000" stroke-width="2.3"/>
<line x1="2021.1" y1="689" x2="2021.1" y2="759.6" stroke="#000" stroke-width="2.3"/>
<line x1="2009.6" y1="689" x2="2032.6" y2="689" stroke="#000" stroke-width="2.3"/>
<line x1="2009.6" y1="759.6" x2="2032.6" y2="759.6" stroke="#000" stroke-width="2.3"/>
<rect x="1998.9" y="704.9" width="44.4" height="25" fill="#2e78ad" stroke="#000" stroke-width="2.3"/>
<line x1="1998.9" y1="718.3" x2="2043.3" y2="718.3" stroke="#000" stroke-width="2.3"/>
<line x1="2065.6" y1="697.7" x2="2065.6" y2="797.3" stroke="#000" stroke-width="2.3"/>
<line x1="2053.9" y1="697.7" x2="2077.3" y2="697.7" stroke="#000" stroke-width="2.3"/>
<line x1="2053.9" y1="797.3" x2="2077.3" y2="797.3" stroke="#000" stroke-width="2.3"/>
<rect x="2043.6" y="715.5" width="44" height="43" fill="#e0822e" stroke="#000" stroke-width="2.3"/>
<line x1="2043.6" y1="735.2" x2="2087.6" y2="735.2" stroke="#000" stroke-width="2.3"/>
<text x="1861.4" y="826.3" font-size="23.5" textLength="74.8" lengthAdjust="spacingAndGlyphs">Source</text>
<text x="1860" y="851.7" font-size="23.5" textLength="72.6" lengthAdjust="spacingAndGlyphs">(73/88)</text>
<text x="2010.8" y="826.3" font-size="23.5" textLength="66.9" lengthAdjust="spacingAndGlyphs">Target</text>
<text x="2007.6" y="851.7" font-size="23.5" textLength="72.9" lengthAdjust="spacingAndGlyphs">(32/41)</text>
<rect x="1743" y="823.7" width="26.9" height="10" fill="#2e78ad" stroke="#444" stroke-width="3.5"/>
<rect x="1743" y="851.8" width="26.9" height="10.2" fill="#e0822e" stroke="#444" stroke-width="3.5"/>
<text x="1782.2" y="836.4" font-size="21" textLength="19.5" lengthAdjust="spacingAndGlyphs">IT</text>
<text x="1779" y="864.4" font-size="21" textLength="22.7" lengthAdjust="spacingAndGlyphs">ET</text>
<text x="22" y="856" font-size="31" class="b" textLength="14" lengthAdjust="spacingAndGlyphs">f</text>
<text transform="translate(19.7,994.7) rotate(-90)" x="-101.2" y="0" font-size="23.5" textLength="202.3" lengthAdjust="spacingAndGlyphs">Propotion of cells</text>
<text transform="translate(48.8,986.4) rotate(-90)" x="-75.4" y="0" font-size="23.5" textLength="150.8" lengthAdjust="spacingAndGlyphs">in subclasses</text>
<line x1="98.5" y1="1039.8" x2="98.5" y2="1044.8" stroke="#000" stroke-width="1.6"/>
<rect x="93.3" y="939.2" width="10.4" height="100.6" fill="#cb4335"/>
<line x1="114.5" y1="1039.8" x2="114.5" y2="1044.8" stroke="#000" stroke-width="1.6"/>
<rect x="109.3" y="1034" width="10.4" height="5.8" fill="#f39c12"/>
<line x1="130.5" y1="1039.8" x2="130.5" y2="1044.8" stroke="#000" stroke-width="1.6"/>
<rect x="125.3" y="1011.4" width="10.4" height="28.4" fill="#f4d03f"/>
<line x1="146.5" y1="1039.8" x2="146.5" y2="1044.8" stroke="#000" stroke-width="1.6"/>
<rect x="141.3" y="1006" width="10.4" height="33.8" fill="#27ae60"/>
<line x1="162.5" y1="1039.8" x2="162.5" y2="1044.8" stroke="#000" stroke-width="1.6"/>
<rect x="157.3" y="1036.3" width="10.4" height="3.5" fill="#76d7c4"/>
<line x1="178.5" y1="1039.8" x2="178.5" y2="1044.8" stroke="#000" stroke-width="1.6"/>
<rect x="173.3" y="1038.4" width="10.4" height="1.4" fill="#3498db"/>
<line x1="194.5" y1="1039.8" x2="194.5" y2="1044.8" stroke="#000" stroke-width="1.6"/>
<rect x="189.3" y="1036.1" width="10.4" height="3.7" fill="#8e44ad"/>
<line x1="210.5" y1="1039.8" x2="210.5" y2="1044.8" stroke="#000" stroke-width="1.6"/>
<line x1="226.5" y1="1039.8" x2="226.5" y2="1044.8" stroke="#000" stroke-width="1.6"/>
<rect x="221.3" y="1025.3" width="10.4" height="14.5" fill="#ffab91"/>
<line x1="242.5" y1="1039.8" x2="242.5" y2="1044.8" stroke="#000" stroke-width="1.6"/>
<rect x="237.3" y="1038.2" width="10.4" height="1.6" fill="#1a237e"/>
<line x1="86.1" y1="933.5" x2="86.1" y2="1040.8" stroke="#000" stroke-width="2"/>
<line x1="82.9" y1="1039.8" x2="255.1" y2="1039.8" stroke="#000" stroke-width="2"/>
<line x1="82.3" y1="962" x2="86.1" y2="962" stroke="#000" stroke-width="1.6"/>
<text x="52.5" y="964.2" font-size="19" textLength="28.4" lengthAdjust="spacingAndGlyphs">0.4</text>
<line x1="82.3" y1="1000.4" x2="86.1" y2="1000.4" stroke="#000" stroke-width="1.6"/>
<text x="52.5" y="1002.6" font-size="19" textLength="28.4" lengthAdjust="spacingAndGlyphs">0.2</text>
<text x="52.5" y="1042" font-size="19" textLength="28.4" lengthAdjust="spacingAndGlyphs">0.0</text>
<text x="80" y="928.2" font-size="19.5" textLength="154.4" lengthAdjust="spacingAndGlyphs"><tspan font-family="NanumGothic, sans-serif">→</tspan>MOp (<tspan class="i">n</tspan> = 827)</text>
<text x="109.8" y="1075.1" font-size="23.5" textLength="101.3" lengthAdjust="spacingAndGlyphs">Subclass</text>
<line x1="305.5" y1="1039.8" x2="305.5" y2="1044.8" stroke="#000" stroke-width="1.6"/>
<rect x="300.3" y="939.2" width="10.4" height="100.6" fill="#cb4335"/>
<line x1="321.5" y1="1039.8" x2="321.5" y2="1044.8" stroke="#000" stroke-width="1.6"/>
<rect x="316.3" y="998.9" width="10.4" height="40.9" fill="#f39c12"/>
<line x1="337.5" y1="1039.8" x2="337.5" y2="1044.8" stroke="#000" stroke-width="1.6"/>
<rect x="332.3" y="966.6" width="10.4" height="73.2" fill="#f4d03f"/>
<line x1="353.5" y1="1039.8" x2="353.5" y2="1044.8" stroke="#000" stroke-width="1.6"/>
<rect x="348.3" y="947.5" width="10.4" height="92.3" fill="#27ae60"/>
<line x1="369.5" y1="1039.8" x2="369.5" y2="1044.8" stroke="#000" stroke-width="1.6"/>
<rect x="364.3" y="1027" width="10.4" height="12.8" fill="#76d7c4"/>
<line x1="385.5" y1="1039.8" x2="385.5" y2="1044.8" stroke="#000" stroke-width="1.6"/>
<rect x="380.3" y="1034.4" width="10.4" height="5.4" fill="#3498db"/>
<line x1="401.5" y1="1039.8" x2="401.5" y2="1044.8" stroke="#000" stroke-width="1.6"/>
<rect x="396.3" y="1035.3" width="10.4" height="4.5" fill="#8e44ad"/>
<line x1="417.5" y1="1039.8" x2="417.5" y2="1044.8" stroke="#000" stroke-width="1.6"/>
<rect x="412.3" y="1038.8" width="10.4" height="1" fill="#6d4c41"/>
<line x1="433.5" y1="1039.8" x2="433.5" y2="1044.8" stroke="#000" stroke-width="1.6"/>
<rect x="428.3" y="1012.8" width="10.4" height="27" fill="#ffab91"/>
<line x1="449.5" y1="1039.8" x2="449.5" y2="1044.8" stroke="#000" stroke-width="1.6"/>
<rect x="444.3" y="1034.2" width="10.4" height="5.6" fill="#1a237e"/>
<line x1="293.1" y1="933.5" x2="293.1" y2="1040.8" stroke="#000" stroke-width="2"/>
<line x1="289.9" y1="1039.8" x2="462.1" y2="1039.8" stroke="#000" stroke-width="2"/>
<line x1="289.3" y1="966.8" x2="293.1" y2="966.8" stroke="#000" stroke-width="1.6"/>
<text x="260.1" y="969.2" font-size="19" textLength="28.4" lengthAdjust="spacingAndGlyphs">0.2</text>
<line x1="289.3" y1="1003.5" x2="293.1" y2="1003.5" stroke="#000" stroke-width="1.6"/>
<text x="260.1" y="1005.9" font-size="19" textLength="28.4" lengthAdjust="spacingAndGlyphs">0.1</text>
<text x="260.1" y="1042.2" font-size="19" textLength="28.4" lengthAdjust="spacingAndGlyphs">0.0</text>
<text x="284.3" y="928.2" font-size="19.5" textLength="166.6" lengthAdjust="spacingAndGlyphs"><tspan font-family="NanumGothic, sans-serif">→</tspan>SSp (<tspan class="i">n</tspan> = 1,103)</text>
<text x="316.8" y="1075.1" font-size="23.5" textLength="101.8" lengthAdjust="spacingAndGlyphs">Subclass</text>
<line x1="512.9" y1="1039.8" x2="512.9" y2="1044.8" stroke="#000" stroke-width="1.6"/>
<rect x="507.7" y="939.2" width="10.4" height="100.6" fill="#cb4335"/>
<line x1="528.9" y1="1039.8" x2="528.9" y2="1044.8" stroke="#000" stroke-width="1.6"/>
<rect x="523.7" y="1016.4" width="10.4" height="23.4" fill="#f39c12"/>
<line x1="544.9" y1="1039.8" x2="544.9" y2="1044.8" stroke="#000" stroke-width="1.6"/>
<rect x="539.7" y="989.4" width="10.4" height="50.4" fill="#f4d03f"/>
<line x1="560.9" y1="1039.8" x2="560.9" y2="1044.8" stroke="#000" stroke-width="1.6"/>
<rect x="555.7" y="965.1" width="10.4" height="74.7" fill="#27ae60"/>
<line x1="576.9" y1="1039.8" x2="576.9" y2="1044.8" stroke="#000" stroke-width="1.6"/>
<rect x="571.7" y="1032.1" width="10.4" height="7.7" fill="#76d7c4"/>
<line x1="592.9" y1="1039.8" x2="592.9" y2="1044.8" stroke="#000" stroke-width="1.6"/>
<rect x="587.7" y="1035" width="10.4" height="4.8" fill="#3498db"/>
<line x1="608.9" y1="1039.8" x2="608.9" y2="1044.8" stroke="#000" stroke-width="1.6"/>
<line x1="624.9" y1="1039.8" x2="624.9" y2="1044.8" stroke="#000" stroke-width="1.6"/>
<line x1="640.9" y1="1039.8" x2="640.9" y2="1044.8" stroke="#000" stroke-width="1.6"/>
<rect x="635.7" y="1019.9" width="10.4" height="19.9" fill="#ffab91"/>
<line x1="656.9" y1="1039.8" x2="656.9" y2="1044.8" stroke="#000" stroke-width="1.6"/>
<rect x="651.7" y="1035" width="10.4" height="4.8" fill="#1a237e"/>
<line x1="500.5" y1="933.5" x2="500.5" y2="1040.8" stroke="#000" stroke-width="2"/>
<line x1="497.3" y1="1039.8" x2="669.5" y2="1039.8" stroke="#000" stroke-width="2"/>
<line x1="496.7" y1="953.3" x2="500.5" y2="953.3" stroke="#000" stroke-width="1.6"/>
<text x="466.8" y="955" font-size="19" textLength="28.3" lengthAdjust="spacingAndGlyphs">0.3</text>
<line x1="496.7" y1="982.3" x2="500.5" y2="982.3" stroke="#000" stroke-width="1.6"/>
<text x="466.8" y="984" font-size="19" textLength="28.3" lengthAdjust="spacingAndGlyphs">0.2</text>
<line x1="496.7" y1="1011.2" x2="500.5" y2="1011.2" stroke="#000" stroke-width="1.6"/>
<text x="466.8" y="1012.9" font-size="19" textLength="28.3" lengthAdjust="spacingAndGlyphs">0.1</text>
<text x="466.8" y="1041.5" font-size="19" textLength="28.3" lengthAdjust="spacingAndGlyphs">0.0</text>
<text x="490.6" y="928.2" font-size="19.5" textLength="167.6" lengthAdjust="spacingAndGlyphs"><tspan font-family="NanumGothic, sans-serif">→</tspan>ACA (<tspan class="i">n</tspan> = 1,408)</text>
<text x="524.7" y="1075.1" font-size="23.5" textLength="101.6" lengthAdjust="spacingAndGlyphs">Subclass</text>
<line x1="719.4" y1="1039.8" x2="719.4" y2="1044.8" stroke="#000" stroke-width="1.6"/>
<rect x="714.2" y="974" width="10.4" height="65.8" fill="#cb4335"/>
<line x1="735.4" y1="1039.8" x2="735.4" y2="1044.8" stroke="#000" stroke-width="1.6"/>
<rect x="730.2" y="1028" width="10.4" height="11.8" fill="#f39c12"/>
<line x1="751.4" y1="1039.8" x2="751.4" y2="1044.8" stroke="#000" stroke-width="1.6"/>
<rect x="746.2" y="957" width="10.4" height="82.8" fill="#f4d03f"/>
<line x1="767.4" y1="1039.8" x2="767.4" y2="1044.8" stroke="#000" stroke-width="1.6"/>
<rect x="762.2" y="939.2" width="10.4" height="100.6" fill="#27ae60"/>
<line x1="783.4" y1="1039.8" x2="783.4" y2="1044.8" stroke="#000" stroke-width="1.6"/>
<rect x="778.2" y="1002" width="10.4" height="37.8" fill="#76d7c4"/>
<line x1="799.4" y1="1039.8" x2="799.4" y2="1044.8" stroke="#000" stroke-width="1.6"/>
<line x1="815.4" y1="1039.8" x2="815.4" y2="1044.8" stroke="#000" stroke-width="1.6"/>
<rect x="810.2" y="1038.2" width="10.4" height="1.6" fill="#8e44ad"/>
<line x1="831.4" y1="1039.8" x2="831.4" y2="1044.8" stroke="#000" stroke-width="1.6"/>
<rect x="826.2" y="1037.1" width="10.4" height="2.7" fill="#6d4c41"/>
<line x1="847.4" y1="1039.8" x2="847.4" y2="1044.8" stroke="#000" stroke-width="1.6"/>
<rect x="842.2" y="991.2" width="10.4" height="48.6" fill="#ffab91"/>
<line x1="863.4" y1="1039.8" x2="863.4" y2="1044.8" stroke="#000" stroke-width="1.6"/>
<line x1="707" y1="933.5" x2="707" y2="1040.8" stroke="#000" stroke-width="2"/>
<line x1="703.8" y1="1039.8" x2="876" y2="1039.8" stroke="#000" stroke-width="2"/>
<line x1="703.2" y1="933.9" x2="707" y2="933.9" stroke="#000" stroke-width="1.6"/>
<text x="673.3" y="936" font-size="19" textLength="28.2" lengthAdjust="spacingAndGlyphs">0.3</text>
<line x1="703.2" y1="969.2" x2="707" y2="969.2" stroke="#000" stroke-width="1.6"/>
<text x="673.3" y="971.3" font-size="19" textLength="28.2" lengthAdjust="spacingAndGlyphs">0.2</text>
<line x1="703.2" y1="1004.5" x2="707" y2="1004.5" stroke="#000" stroke-width="1.6"/>
<text x="673.3" y="1006.6" font-size="19" textLength="28.2" lengthAdjust="spacingAndGlyphs">0.1</text>
<text x="673.3" y="1041.9" font-size="19" textLength="28.2" lengthAdjust="spacingAndGlyphs">0.0</text>
<text x="700.9" y="928.2" font-size="19.5" textLength="152.2" lengthAdjust="spacingAndGlyphs"><tspan font-family="NanumGothic, sans-serif">→</tspan>VISp (<tspan class="i">n</tspan> = 880)</text>
<text x="731.8" y="1075.1" font-size="23.5" textLength="101.3" lengthAdjust="spacingAndGlyphs">Subclass</text>
<line x1="926.7" y1="1039.8" x2="926.7" y2="1044.8" stroke="#000" stroke-width="1.6"/>
<rect x="921.5" y="939.2" width="10.4" height="100.6" fill="#cb4335"/>
<line x1="942.7" y1="1039.8" x2="942.7" y2="1044.8" stroke="#000" stroke-width="1.6"/>
<rect x="937.5" y="1005" width="10.4" height="34.8" fill="#f39c12"/>
<line x1="958.7" y1="1039.8" x2="958.7" y2="1044.8" stroke="#000" stroke-width="1.6"/>
<rect x="953.5" y="939.8" width="10.4" height="100" fill="#f4d03f"/>
<line x1="974.7" y1="1039.8" x2="974.7" y2="1044.8" stroke="#000" stroke-width="1.6"/>
<rect x="969.5" y="990" width="10.4" height="49.8" fill="#27ae60"/>
<line x1="990.7" y1="1039.8" x2="990.7" y2="1044.8" stroke="#000" stroke-width="1.6"/>
<rect x="985.5" y="1010.8" width="10.4" height="29" fill="#76d7c4"/>
<line x1="1006.7" y1="1039.8" x2="1006.7" y2="1044.8" stroke="#000" stroke-width="1.6"/>
<rect x="1001.5" y="1026.3" width="10.4" height="13.5" fill="#3498db"/>
<line x1="1022.7" y1="1039.8" x2="1022.7" y2="1044.8" stroke="#000" stroke-width="1.6"/>
<line x1="1038.7" y1="1039.8" x2="1038.7" y2="1044.8" stroke="#000" stroke-width="1.6"/>
<line x1="1054.7" y1="1039.8" x2="1054.7" y2="1044.8" stroke="#000" stroke-width="1.6"/>
<rect x="1049.5" y="1034" width="10.4" height="5.8" fill="#ffab91"/>
<line x1="1070.7" y1="1039.8" x2="1070.7" y2="1044.8" stroke="#000" stroke-width="1.6"/>
<rect x="1065.5" y="1036.7" width="10.4" height="3.1" fill="#1a237e"/>
<line x1="914.3" y1="933.5" x2="914.3" y2="1040.8" stroke="#000" stroke-width="2"/>
<line x1="911.1" y1="1039.8" x2="1083.3" y2="1039.8" stroke="#000" stroke-width="2"/>
<line x1="910.5" y1="937.7" x2="914.3" y2="937.7" stroke="#000" stroke-width="1.6"/>
<text x="881.1" y="940.1" font-size="19" textLength="28.3" lengthAdjust="spacingAndGlyphs">0.3</text>
<line x1="910.5" y1="972" x2="914.3" y2="972" stroke="#000" stroke-width="1.6"/>
<text x="881.1" y="974.4" font-size="19" textLength="28.3" lengthAdjust="spacingAndGlyphs">0.2</text>
<line x1="910.5" y1="1006" x2="914.3" y2="1006" stroke="#000" stroke-width="1.6"/>
<text x="881.1" y="1008.4" font-size="19" textLength="28.3" lengthAdjust="spacingAndGlyphs">0.1</text>
<text x="881.1" y="1042.2" font-size="19" textLength="28.3" lengthAdjust="spacingAndGlyphs">0.0</text>
<text x="905.8" y="928.2" font-size="19.5" textLength="165.6" lengthAdjust="spacingAndGlyphs"><tspan font-family="NanumGothic, sans-serif">→</tspan>STR (<tspan class="i">n</tspan> = 1,099)</text>
<text x="939" y="1075.1" font-size="23.5" textLength="101.8" lengthAdjust="spacingAndGlyphs">Subclass</text>
<line x1="1135.1" y1="1038.2" x2="1135.1" y2="1043.2" stroke="#000" stroke-width="1.6"/>
<rect x="1129.9" y="1023.8" width="10.4" height="14.4" fill="#cb4335"/>
<line x1="1151.1" y1="1038.2" x2="1151.1" y2="1043.2" stroke="#000" stroke-width="1.6"/>
<rect x="1145.9" y="1030" width="10.4" height="8.2" fill="#f39c12"/>
<line x1="1167.1" y1="1038.2" x2="1167.1" y2="1043.2" stroke="#000" stroke-width="1.6"/>
<rect x="1161.9" y="1024.7" width="10.4" height="13.5" fill="#f4d03f"/>
<line x1="1183.1" y1="1038.2" x2="1183.1" y2="1043.2" stroke="#000" stroke-width="1.6"/>
<rect x="1177.9" y="1024.7" width="10.4" height="13.5" fill="#27ae60"/>
<line x1="1199.1" y1="1038.2" x2="1199.1" y2="1043.2" stroke="#000" stroke-width="1.6"/>
<rect x="1193.9" y="937.3" width="10.4" height="100.9" fill="#76d7c4"/>
<line x1="1215.1" y1="1038.2" x2="1215.1" y2="1043.2" stroke="#000" stroke-width="1.6"/>
<rect x="1209.9" y="1005.6" width="10.4" height="32.6" fill="#3498db"/>
<line x1="1231.1" y1="1038.2" x2="1231.1" y2="1043.2" stroke="#000" stroke-width="1.6"/>
<line x1="1247.1" y1="1038.2" x2="1247.1" y2="1043.2" stroke="#000" stroke-width="1.6"/>
<rect x="1241.9" y="1035.9" width="10.4" height="2.3" fill="#6d4c41"/>
<line x1="1263.1" y1="1038.2" x2="1263.1" y2="1043.2" stroke="#000" stroke-width="1.6"/>
<rect x="1257.9" y="1037" width="10.4" height="1.2" fill="#ffab91"/>
<line x1="1279.1" y1="1038.2" x2="1279.1" y2="1043.2" stroke="#000" stroke-width="1.6"/>
<rect x="1273.9" y="1028.2" width="10.4" height="10" fill="#1a237e"/>
<line x1="1122.7" y1="931.5" x2="1122.7" y2="1039.2" stroke="#000" stroke-width="2"/>
<line x1="1119.5" y1="1038.2" x2="1291.7" y2="1038.2" stroke="#000" stroke-width="2"/>
<line x1="1118.9" y1="958.9" x2="1122.7" y2="958.9" stroke="#000" stroke-width="1.6"/>
<text x="1089.8" y="960.9" font-size="19" textLength="28.3" lengthAdjust="spacingAndGlyphs">0.4</text>
<line x1="1118.9" y1="998.7" x2="1122.7" y2="998.7" stroke="#000" stroke-width="1.6"/>
<text x="1089.8" y="1000.7" font-size="19" textLength="28.3" lengthAdjust="spacingAndGlyphs">0.2</text>
<text x="1089.8" y="1040.2" font-size="19" textLength="28.3" lengthAdjust="spacingAndGlyphs">0.0</text>
<text x="1118.2" y="926.7" font-size="19.5" textLength="152.3" lengthAdjust="spacingAndGlyphs"><tspan font-family="NanumGothic, sans-serif">→</tspan>TH (<tspan class="i">n</tspan> = 1,118)</text>
<text x="1146.4" y="1075.1" font-size="23.5" textLength="101.6" lengthAdjust="spacingAndGlyphs">Subclass</text>
<line x1="1342.4" y1="1038.2" x2="1342.4" y2="1043.2" stroke="#000" stroke-width="1.6"/>
<rect x="1337.2" y="1030" width="10.4" height="8.2" fill="#cb4335"/>
<line x1="1358.4" y1="1038.2" x2="1358.4" y2="1043.2" stroke="#000" stroke-width="1.6"/>
<rect x="1353.2" y="1036.3" width="10.4" height="1.9" fill="#f39c12"/>
<line x1="1374.4" y1="1038.2" x2="1374.4" y2="1043.2" stroke="#000" stroke-width="1.6"/>
<rect x="1369.2" y="1034.8" width="10.4" height="3.4" fill="#f4d03f"/>
<line x1="1390.4" y1="1038.2" x2="1390.4" y2="1043.2" stroke="#000" stroke-width="1.6"/>
<rect x="1385.2" y="1035.7" width="10.4" height="2.5" fill="#27ae60"/>
<line x1="1406.4" y1="1038.2" x2="1406.4" y2="1043.2" stroke="#000" stroke-width="1.6"/>
<rect x="1401.2" y="937.3" width="10.4" height="100.9" fill="#76d7c4"/>
<line x1="1422.4" y1="1038.2" x2="1422.4" y2="1043.2" stroke="#000" stroke-width="1.6"/>
<rect x="1417.2" y="1036.5" width="10.4" height="1.7" fill="#3498db"/>
<line x1="1438.4" y1="1038.2" x2="1438.4" y2="1043.2" stroke="#000" stroke-width="1.6"/>
<line x1="1454.4" y1="1038.2" x2="1454.4" y2="1043.2" stroke="#000" stroke-width="1.6"/>
<line x1="1470.4" y1="1038.2" x2="1470.4" y2="1043.2" stroke="#000" stroke-width="1.6"/>
<line x1="1486.4" y1="1038.2" x2="1486.4" y2="1043.2" stroke="#000" stroke-width="1.6"/>
<rect x="1481.2" y="1036.9" width="10.4" height="1.3" fill="#1a237e"/>
<line x1="1330" y1="931.5" x2="1330" y2="1039.2" stroke="#000" stroke-width="2"/>
<line x1="1326.8" y1="1038.2" x2="1499" y2="1038.2" stroke="#000" stroke-width="2"/>
<line x1="1326.2" y1="941.6" x2="1330" y2="941.6" stroke="#000" stroke-width="1.6"/>
<text x="1296.5" y="943.9" font-size="19" textLength="28.2" lengthAdjust="spacingAndGlyphs">0.8</text>
<line x1="1326.2" y1="965.7" x2="1330" y2="965.7" stroke="#000" stroke-width="1.6"/>
<text x="1296.5" y="968" font-size="19" textLength="28.2" lengthAdjust="spacingAndGlyphs">0.6</text>
<line x1="1326.2" y1="990" x2="1330" y2="990" stroke="#000" stroke-width="1.6"/>
<text x="1296.5" y="992.3" font-size="19" textLength="28.2" lengthAdjust="spacingAndGlyphs">0.4</text>
<line x1="1326.2" y1="1014.3" x2="1330" y2="1014.3" stroke="#000" stroke-width="1.6"/>
<text x="1296.5" y="1016.6" font-size="19" textLength="28.2" lengthAdjust="spacingAndGlyphs">0.2</text>
<text x="1296.5" y="1040.5" font-size="19" textLength="28.2" lengthAdjust="spacingAndGlyphs">0.0</text>
<text x="1325.4" y="926.7" font-size="19.5" textLength="154.5" lengthAdjust="spacingAndGlyphs"><tspan font-family="NanumGothic, sans-serif">→</tspan>SC (<tspan class="i">n</tspan> = 1,737)</text>
<text x="1353.8" y="1075.1" font-size="23.5" textLength="101.8" lengthAdjust="spacingAndGlyphs">Subclass</text>
<line x1="1549.5" y1="1038.2" x2="1549.5" y2="1043.2" stroke="#000" stroke-width="1.6"/>
<rect x="1544.3" y="1033.8" width="10.4" height="4.4" fill="#cb4335"/>
<line x1="1565.5" y1="1038.2" x2="1565.5" y2="1043.2" stroke="#000" stroke-width="1.6"/>
<rect x="1560.3" y="1036.9" width="10.4" height="1.3" fill="#f39c12"/>
<line x1="1581.5" y1="1038.2" x2="1581.5" y2="1043.2" stroke="#000" stroke-width="1.6"/>
<rect x="1576.3" y="1037" width="10.4" height="1.2" fill="#f4d03f"/>
<line x1="1597.5" y1="1038.2" x2="1597.5" y2="1043.2" stroke="#000" stroke-width="1.6"/>
<rect x="1592.3" y="1032.1" width="10.4" height="6.1" fill="#27ae60"/>
<line x1="1613.5" y1="1038.2" x2="1613.5" y2="1043.2" stroke="#000" stroke-width="1.6"/>
<rect x="1608.3" y="937.3" width="10.4" height="100.9" fill="#76d7c4"/>
<line x1="1629.5" y1="1038.2" x2="1629.5" y2="1043.2" stroke="#000" stroke-width="1.6"/>
<rect x="1624.3" y="1035.3" width="10.4" height="2.9" fill="#3498db"/>
<line x1="1645.5" y1="1038.2" x2="1645.5" y2="1043.2" stroke="#000" stroke-width="1.6"/>
<line x1="1661.5" y1="1038.2" x2="1661.5" y2="1043.2" stroke="#000" stroke-width="1.6"/>
<line x1="1677.5" y1="1038.2" x2="1677.5" y2="1043.2" stroke="#000" stroke-width="1.6"/>
<line x1="1693.5" y1="1038.2" x2="1693.5" y2="1043.2" stroke="#000" stroke-width="1.6"/>
<rect x="1688.3" y="1035.5" width="10.4" height="2.7" fill="#1a237e"/>
<line x1="1537.1" y1="931.5" x2="1537.1" y2="1039.2" stroke="#000" stroke-width="2"/>
<line x1="1533.9" y1="1038.2" x2="1706.1" y2="1038.2" stroke="#000" stroke-width="2"/>
<line x1="1533.3" y1="941.6" x2="1537.1" y2="941.6" stroke="#000" stroke-width="1.6"/>
<text x="1503.5" y="943.9" font-size="19" textLength="28.3" lengthAdjust="spacingAndGlyphs">0.8</text>
<line x1="1533.3" y1="965.7" x2="1537.1" y2="965.7" stroke="#000" stroke-width="1.6"/>
<text x="1503.5" y="968" font-size="19" textLength="28.3" lengthAdjust="spacingAndGlyphs">0.6</text>
<line x1="1533.3" y1="990" x2="1537.1" y2="990" stroke="#000" stroke-width="1.6"/>
<text x="1503.5" y="992.3" font-size="19" textLength="28.3" lengthAdjust="spacingAndGlyphs">0.4</text>
<line x1="1533.3" y1="1014.3" x2="1537.1" y2="1014.3" stroke="#000" stroke-width="1.6"/>
<text x="1503.5" y="1016.6" font-size="19" textLength="28.3" lengthAdjust="spacingAndGlyphs">0.2</text>
<text x="1503.5" y="1040.5" font-size="19" textLength="28.3" lengthAdjust="spacingAndGlyphs">0.0</text>
<text x="1532.6" y="926.7" font-size="19.5" textLength="146.2" lengthAdjust="spacingAndGlyphs"><tspan font-family="NanumGothic, sans-serif">→</tspan>VTA (<tspan class="i">n</tspan> = 487)</text>
<text x="1561.2" y="1075.1" font-size="23.5" textLength="101.5" lengthAdjust="spacingAndGlyphs">Subclass</text>
<line x1="1756.3" y1="1038.2" x2="1756.3" y2="1043.2" stroke="#000" stroke-width="1.6"/>
<rect x="1751.1" y="1032.1" width="10.4" height="6.1" fill="#cb4335"/>
<line x1="1772.3" y1="1038.2" x2="1772.3" y2="1043.2" stroke="#000" stroke-width="1.6"/>
<rect x="1767.1" y="1036.1" width="10.4" height="2.1" fill="#f39c12"/>
<line x1="1788.3" y1="1038.2" x2="1788.3" y2="1043.2" stroke="#000" stroke-width="1.6"/>
<rect x="1783.1" y="1033.6" width="10.4" height="4.6" fill="#f4d03f"/>
<line x1="1804.3" y1="1038.2" x2="1804.3" y2="1043.2" stroke="#000" stroke-width="1.6"/>
<rect x="1799.1" y="1032.1" width="10.4" height="6.1" fill="#27ae60"/>
<line x1="1820.3" y1="1038.2" x2="1820.3" y2="1043.2" stroke="#000" stroke-width="1.6"/>
<rect x="1815.1" y="937.3" width="10.4" height="100.9" fill="#76d7c4"/>
<line x1="1836.3" y1="1038.2" x2="1836.3" y2="1043.2" stroke="#000" stroke-width="1.6"/>
<rect x="1831.1" y="1034.8" width="10.4" height="3.4" fill="#3498db"/>
<line x1="1852.3" y1="1038.2" x2="1852.3" y2="1043.2" stroke="#000" stroke-width="1.6"/>
<line x1="1868.3" y1="1038.2" x2="1868.3" y2="1043.2" stroke="#000" stroke-width="1.6"/>
<line x1="1884.3" y1="1038.2" x2="1884.3" y2="1043.2" stroke="#000" stroke-width="1.6"/>
<line x1="1900.3" y1="1038.2" x2="1900.3" y2="1043.2" stroke="#000" stroke-width="1.6"/>
<rect x="1895.1" y="1034" width="10.4" height="4.2" fill="#1a237e"/>
<line x1="1743.9" y1="931.5" x2="1743.9" y2="1039.2" stroke="#000" stroke-width="2"/>
<line x1="1740.7" y1="1038.2" x2="1912.9" y2="1038.2" stroke="#000" stroke-width="2"/>
<line x1="1740.1" y1="934.4" x2="1743.9" y2="934.4" stroke="#000" stroke-width="1.6"/>
<text x="1710.5" y="936.6" font-size="19" textLength="28.5" lengthAdjust="spacingAndGlyphs">0.8</text>
<line x1="1740.1" y1="960.3" x2="1743.9" y2="960.3" stroke="#000" stroke-width="1.6"/>
<text x="1710.5" y="962.5" font-size="19" textLength="28.5" lengthAdjust="spacingAndGlyphs">0.6</text>
<line x1="1740.1" y1="986.3" x2="1743.9" y2="986.3" stroke="#000" stroke-width="1.6"/>
<text x="1710.5" y="988.5" font-size="19" textLength="28.5" lengthAdjust="spacingAndGlyphs">0.4</text>
<line x1="1740.1" y1="1012.2" x2="1743.9" y2="1012.2" stroke="#000" stroke-width="1.6"/>
<text x="1710.5" y="1014.4" font-size="19" textLength="28.5" lengthAdjust="spacingAndGlyphs">0.2</text>
<text x="1710.5" y="1040.4" font-size="19" textLength="28.5" lengthAdjust="spacingAndGlyphs">0.0</text>
<text x="1733" y="926.7" font-size="19.5" textLength="172.5" lengthAdjust="spacingAndGlyphs"><tspan font-family="NanumGothic, sans-serif">→</tspan>Pons (<tspan class="i">n</tspan> = 1,489)</text>
<text x="1768.5" y="1075.1" font-size="23.5" textLength="101.9" lengthAdjust="spacingAndGlyphs">Subclass</text>
<line x1="1963.3" y1="1038.2" x2="1963.3" y2="1043.2" stroke="#000" stroke-width="1.6"/>
<rect x="1958.1" y="1029.9" width="10.4" height="8.3" fill="#cb4335"/>
<line x1="1979.3" y1="1038.2" x2="1979.3" y2="1043.2" stroke="#000" stroke-width="1.6"/>
<rect x="1974.1" y="1029" width="10.4" height="9.2" fill="#f39c12"/>
<line x1="1995.3" y1="1038.2" x2="1995.3" y2="1043.2" stroke="#000" stroke-width="1.6"/>
<rect x="1990.1" y="1034.2" width="10.4" height="4" fill="#f4d03f"/>
<line x1="2011.3" y1="1038.2" x2="2011.3" y2="1043.2" stroke="#000" stroke-width="1.6"/>
<rect x="2006.1" y="1034.2" width="10.4" height="4" fill="#27ae60"/>
<line x1="2027.3" y1="1038.2" x2="2027.3" y2="1043.2" stroke="#000" stroke-width="1.6"/>
<rect x="2022.1" y="937.3" width="10.4" height="100.9" fill="#76d7c4"/>
<line x1="2043.3" y1="1038.2" x2="2043.3" y2="1043.2" stroke="#000" stroke-width="1.6"/>
<rect x="2038.1" y="1029" width="10.4" height="9.2" fill="#3498db"/>
<line x1="2059.3" y1="1038.2" x2="2059.3" y2="1043.2" stroke="#000" stroke-width="1.6"/>
<line x1="2075.3" y1="1038.2" x2="2075.3" y2="1043.2" stroke="#000" stroke-width="1.6"/>
<rect x="2070.1" y="1037.3" width="10.4" height="0.9" fill="#6d4c41"/>
<line x1="2091.3" y1="1038.2" x2="2091.3" y2="1043.2" stroke="#000" stroke-width="1.6"/>
<line x1="2107.3" y1="1038.2" x2="2107.3" y2="1043.2" stroke="#000" stroke-width="1.6"/>
<rect x="2102.1" y="1034.8" width="10.4" height="3.4" fill="#1a237e"/>
<line x1="1950.9" y1="931.5" x2="1950.9" y2="1039.2" stroke="#000" stroke-width="2"/>
<line x1="1947.7" y1="1038.2" x2="2119.9" y2="1038.2" stroke="#000" stroke-width="2"/>
<line x1="1947.1" y1="953.7" x2="1950.9" y2="953.7" stroke="#000" stroke-width="1.6"/>
<text x="1917.8" y="955.8" font-size="19" textLength="28.5" lengthAdjust="spacingAndGlyphs">0.6</text>
<line x1="1947.1" y1="981.7" x2="1950.9" y2="981.7" stroke="#000" stroke-width="1.6"/>
<text x="1917.8" y="983.8" font-size="19" textLength="28.5" lengthAdjust="spacingAndGlyphs">0.4</text>
<line x1="1947.1" y1="1010.1" x2="1950.9" y2="1010.1" stroke="#000" stroke-width="1.6"/>
<text x="1917.8" y="1012.2" font-size="19" textLength="28.5" lengthAdjust="spacingAndGlyphs">0.2</text>
<text x="1917.8" y="1040.3" font-size="19" textLength="28.5" lengthAdjust="spacingAndGlyphs">0.0</text>
<text x="1949.9" y="926.7" font-size="19.5" textLength="139.9" lengthAdjust="spacingAndGlyphs"><tspan font-family="NanumGothic, sans-serif">→</tspan>MY (<tspan class="i">n</tspan> = 248)</text>
<text x="1976" y="1075.1" font-size="23.5" textLength="101.6" lengthAdjust="spacingAndGlyphs">Subclass</text>
</svg>
</body></html>
